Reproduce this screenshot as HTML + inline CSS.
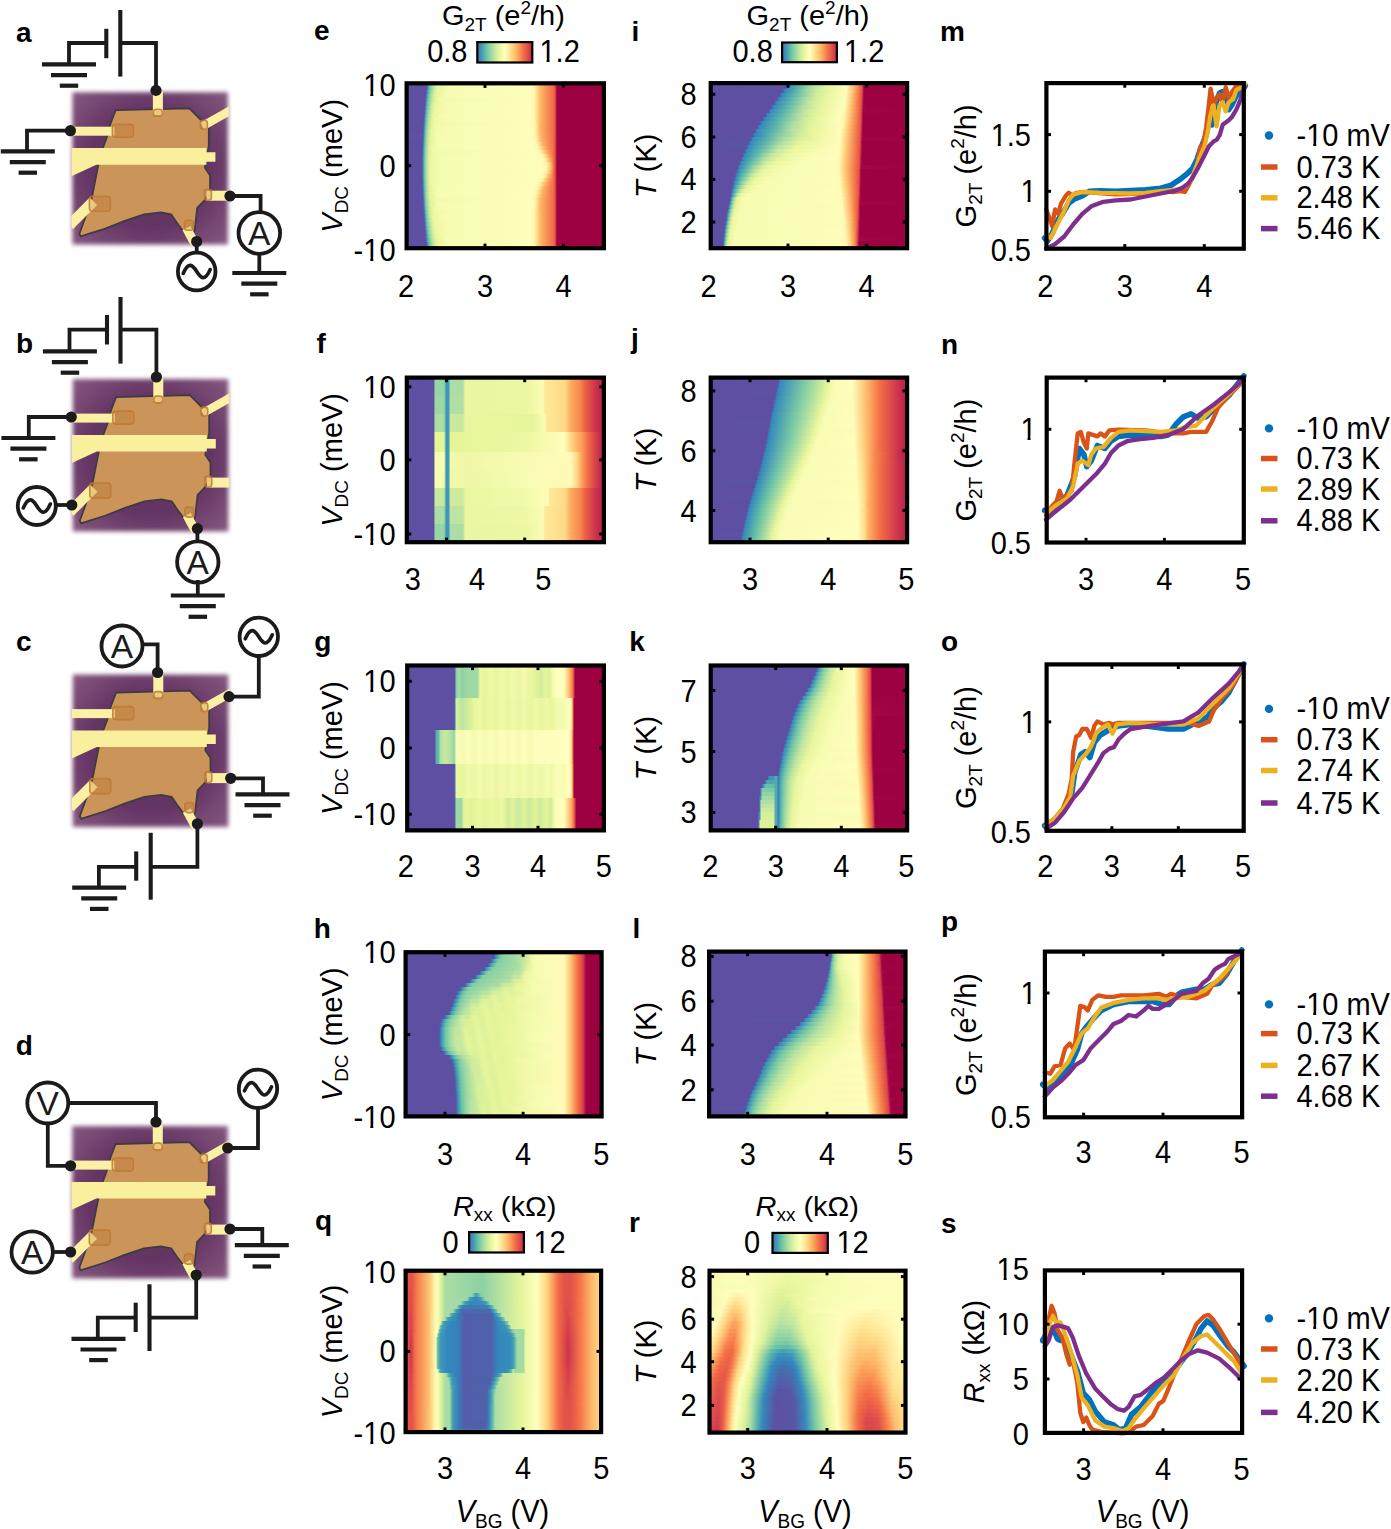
<!DOCTYPE html><html><head><meta charset="utf-8"><style>html,body{margin:0;padding:0;background:#fff;overflow:hidden}svg{display:block}text{font-family:"Liberation Sans",sans-serif}</style></head><body><svg width="1391" height="1529" viewBox="0 0 1391 1529" font-family="'Liberation Sans', sans-serif" fill="#000"><defs><filter id="blur2" x="-10%" y="-10%" width="120%" height="120%"><feGaussianBlur stdDeviation="2.2"/></filter>
<filter id="blur05"><feGaussianBlur stdDeviation="0.6"/></filter>
<clipPath id="devclip"><rect x="0" y="0" width="157.5" height="154.3"/></clipPath>
<radialGradient id="pg" cx="0.5" cy="0.5" r="0.7"><stop offset="0.55" stop-color="#643464"/><stop offset="1" stop-color="#86587f"/></radialGradient>
<g id="dev">
<rect x="1" y="1" width="155.5" height="152.3" fill="url(#pg)" filter="url(#blur2)"/>
<g clip-path="url(#devclip)" filter="url(#blur05)">
<polygon points="44.2,19.0 118.0,17.1 132.2,31.3 137.4,36.5 137.4,54.6 133.5,76.6 138.7,84.4 138.7,101.2 132.2,110.3 125.8,116.7 123.2,140.0 116.7,146.5 105.1,131.0 99.9,123.2 89.5,121.3 72.7,123.2 53.3,129.7 33.9,137.4 9.3,145.2 8.0,142.6 19.7,110.3 26.1,77.9 27.4,71.4 31.3,57.2 35.2,46.8 39.1,32.6" fill="#cb9458" stroke="#3e3a44" stroke-width="1.8" stroke-linejoin="round"/>
<rect x="81.5" y="-2" width="10" height="26" rx="3" fill="#fbf0a4"/>
<rect x="-2" y="35.5" width="45" height="9" fill="#fbf0a4"/>
<line x1="131" y1="35" x2="161" y2="18" stroke="#fbf0a4" stroke-width="8.5"/>
<rect x="135" y="99.5" width="25" height="10" fill="#fbf0a4"/>
<line x1="-2" y1="134" x2="22" y2="110" stroke="#fbf0a4" stroke-width="10.5"/>
<line x1="115" y1="137" x2="127" y2="159" stroke="#fbf0a4" stroke-width="9"/>
<polygon points="0.0,56.8 135.0,56.8 135.0,61.0 144.0,61.0 144.0,70.5 135.0,70.5 135.0,73.5 25.0,73.5 0.0,85.0" fill="#f9ef9c"/>
<rect x="82" y="18" width="9" height="7" rx="3" fill="#b8762f" fill-opacity="0.35" stroke="#c0782e" stroke-width="1.6" opacity="0.85"/>
<rect x="41" y="33" width="21" height="13" rx="3" fill="#b8762f" fill-opacity="0.35" stroke="#c0782e" stroke-width="1.6" opacity="0.85"/>
<rect x="129" y="29" width="7" height="9" rx="3" fill="#b8762f" fill-opacity="0.35" stroke="#c0782e" stroke-width="1.6" opacity="0.85"/>
<rect x="133" y="98" width="7" height="11" rx="3" fill="#b8762f" fill-opacity="0.35" stroke="#c0782e" stroke-width="1.6" opacity="0.85"/>
<rect x="18" y="105" width="21" height="15" rx="3" fill="#b8762f" fill-opacity="0.35" stroke="#c0782e" stroke-width="1.6" opacity="0.85"/>
<rect x="113" y="129" width="9" height="10" rx="3" fill="#b8762f" fill-opacity="0.35" stroke="#c0782e" stroke-width="1.6" opacity="0.85"/>
</g></g>
<linearGradient id="cbg" x1="0" x2="1" y1="0" y2="0"><stop offset="0" stop-color="#4471b2"/><stop offset="0.083" stop-color="#439bb5"/><stop offset="0.167" stop-color="#6bc4a5"/><stop offset="0.25" stop-color="#9dd8a4"/><stop offset="0.333" stop-color="#caea9e"/><stop offset="0.417" stop-color="#edf8a2"/><stop offset="0.5" stop-color="#ffffbf"/><stop offset="0.583" stop-color="#fee899"/><stop offset="0.667" stop-color="#fec977"/><stop offset="0.75" stop-color="#fba15b"/><stop offset="0.833" stop-color="#f57145"/><stop offset="0.917" stop-color="#df4e4b"/><stop offset="1" stop-color="#bf264a"/></linearGradient>
<linearGradient id="g0"><stop offset="0" stop-color="#5e4fa2"/><stop offset=".109" stop-color="#5e4fa2"/><stop offset=".114" stop-color="#3584bb"/><stop offset=".124" stop-color="#64bfa6"/><stop offset=".144" stop-color="#bae3a1"/><stop offset=".164" stop-color="#e7f59a"/><stop offset=".224" stop-color="#f6fcb2"/><stop offset=".617" stop-color="#fcfebb"/><stop offset=".642" stop-color="#fff7b2"/><stop offset=".662" stop-color="#fed07d"/><stop offset=".677" stop-color="#fdb264"/><stop offset=".741" stop-color="#f16844"/><stop offset=".746" stop-color="#e45549"/><stop offset=".756" stop-color="#9e0142"/><stop offset="1" stop-color="#9e0142"/></linearGradient>
<linearGradient id="g1"><stop offset="0" stop-color="#5e4fa2"/><stop offset=".104" stop-color="#5e4fa2"/><stop offset=".109" stop-color="#5857a6"/><stop offset=".114" stop-color="#439bb5"/><stop offset=".124" stop-color="#73c7a5"/><stop offset=".144" stop-color="#c6e89f"/><stop offset=".164" stop-color="#eaf79f"/><stop offset=".224" stop-color="#f6fcb2"/><stop offset=".617" stop-color="#fcfebb"/><stop offset=".642" stop-color="#fff7b2"/><stop offset=".662" stop-color="#fed07d"/><stop offset=".677" stop-color="#fdb264"/><stop offset=".741" stop-color="#f16844"/><stop offset=".746" stop-color="#e45549"/><stop offset=".756" stop-color="#9e0142"/><stop offset="1" stop-color="#9e0142"/></linearGradient>
<linearGradient id="g2"><stop offset="0" stop-color="#5e4fa2"/><stop offset=".104" stop-color="#5e4fa2"/><stop offset=".109" stop-color="#3980b9"/><stop offset=".114" stop-color="#4ea8b0"/><stop offset=".124" stop-color="#84cea5"/><stop offset=".144" stop-color="#d0ec9c"/><stop offset=".159" stop-color="#eaf69d"/><stop offset=".214" stop-color="#f6fcb2"/><stop offset=".617" stop-color="#fcfebb"/><stop offset=".642" stop-color="#fff7b2"/><stop offset=".662" stop-color="#fed07d"/><stop offset=".677" stop-color="#fdb264"/><stop offset=".741" stop-color="#f16844"/><stop offset=".746" stop-color="#e45549"/><stop offset=".756" stop-color="#9e0142"/><stop offset="1" stop-color="#9e0142"/></linearGradient>
<linearGradient id="g3"><stop offset="0" stop-color="#5e4fa2"/><stop offset=".104" stop-color="#5e4fa2"/><stop offset=".109" stop-color="#4199b6"/><stop offset=".119" stop-color="#76c8a5"/><stop offset=".139" stop-color="#cbea9d"/><stop offset=".154" stop-color="#e8f69c"/><stop offset=".209" stop-color="#f6fcb2"/><stop offset=".617" stop-color="#fcfebb"/><stop offset=".642" stop-color="#fff7b2"/><stop offset=".662" stop-color="#fed07d"/><stop offset=".677" stop-color="#fdb264"/><stop offset=".741" stop-color="#f16844"/><stop offset=".746" stop-color="#e45549"/><stop offset=".756" stop-color="#9e0142"/><stop offset="1" stop-color="#9e0142"/></linearGradient>
<linearGradient id="g4"><stop offset="0" stop-color="#5e4fa2"/><stop offset=".1" stop-color="#5e4fa2"/><stop offset=".104" stop-color="#4273b3"/><stop offset=".109" stop-color="#4ca5b1"/><stop offset=".114" stop-color="#65c1a5"/><stop offset=".124" stop-color="#9dd7a4"/><stop offset=".144" stop-color="#def29a"/><stop offset=".174" stop-color="#f3faac"/><stop offset=".617" stop-color="#fcfebb"/><stop offset=".642" stop-color="#fff7b2"/><stop offset=".662" stop-color="#fed07d"/><stop offset=".677" stop-color="#fdb264"/><stop offset=".741" stop-color="#f16844"/><stop offset=".746" stop-color="#e45549"/><stop offset=".756" stop-color="#9e0142"/><stop offset="1" stop-color="#9e0142"/></linearGradient>
<linearGradient id="g5"><stop offset="0" stop-color="#5e4fa2"/><stop offset=".1" stop-color="#5e4fa2"/><stop offset=".104" stop-color="#3d94b8"/><stop offset=".114" stop-color="#74c8a5"/><stop offset=".134" stop-color="#cfec9d"/><stop offset=".149" stop-color="#eaf79e"/><stop offset=".204" stop-color="#f6fcb2"/><stop offset=".617" stop-color="#fcfebb"/><stop offset=".642" stop-color="#fff7b2"/><stop offset=".662" stop-color="#fed07d"/><stop offset=".677" stop-color="#fdb264"/><stop offset=".741" stop-color="#f16844"/><stop offset=".746" stop-color="#e45549"/><stop offset=".756" stop-color="#9e0142"/><stop offset="1" stop-color="#9e0142"/></linearGradient>
<linearGradient id="g6"><stop offset="0" stop-color="#5e4fa2"/><stop offset=".095" stop-color="#5e4fa2"/><stop offset=".1" stop-color="#525ea9"/><stop offset=".104" stop-color="#479fb3"/><stop offset=".114" stop-color="#84cea5"/><stop offset=".134" stop-color="#d5ee9b"/><stop offset=".154" stop-color="#eff9a6"/><stop offset=".219" stop-color="#f6fcb2"/><stop offset=".617" stop-color="#fcfebb"/><stop offset=".642" stop-color="#fff7b2"/><stop offset=".662" stop-color="#fed07d"/><stop offset=".677" stop-color="#fdb264"/><stop offset=".741" stop-color="#f16844"/><stop offset=".746" stop-color="#e45549"/><stop offset=".756" stop-color="#9e0142"/><stop offset="1" stop-color="#9e0142"/></linearGradient>
<linearGradient id="g7"><stop offset="0" stop-color="#5e4fa2"/><stop offset=".095" stop-color="#5e4fa2"/><stop offset=".1" stop-color="#3b7cb7"/><stop offset=".104" stop-color="#51aaaf"/><stop offset=".109" stop-color="#6fc5a5"/><stop offset=".119" stop-color="#a7dca4"/><stop offset=".134" stop-color="#dbf09a"/><stop offset=".154" stop-color="#f0f9a7"/><stop offset=".234" stop-color="#f7fcb2"/><stop offset=".617" stop-color="#fcfebb"/><stop offset=".642" stop-color="#fff7b2"/><stop offset=".662" stop-color="#fed07d"/><stop offset=".677" stop-color="#fdb264"/><stop offset=".741" stop-color="#f16844"/><stop offset=".746" stop-color="#e45549"/><stop offset=".756" stop-color="#9e0142"/><stop offset="1" stop-color="#9e0142"/></linearGradient>
<linearGradient id="g8"><stop offset="0" stop-color="#5e4fa2"/><stop offset=".095" stop-color="#5e4fa2"/><stop offset=".1" stop-color="#3e95b8"/><stop offset=".109" stop-color="#7dcba5"/><stop offset=".124" stop-color="#c5e89f"/><stop offset=".139" stop-color="#e9f69c"/><stop offset=".184" stop-color="#f6fcb1"/><stop offset=".617" stop-color="#fcfebb"/><stop offset=".642" stop-color="#fff7b2"/><stop offset=".662" stop-color="#fed07e"/><stop offset=".677" stop-color="#fdb264"/><stop offset=".741" stop-color="#f16844"/><stop offset=".746" stop-color="#e45549"/><stop offset=".756" stop-color="#9e0142"/><stop offset="1" stop-color="#9e0142"/></linearGradient>
<linearGradient id="g9"><stop offset="0" stop-color="#5e4fa2"/><stop offset=".09" stop-color="#5e4fa2"/><stop offset=".095" stop-color="#555ba8"/><stop offset=".1" stop-color="#479fb3"/><stop offset=".104" stop-color="#64c0a6"/><stop offset=".114" stop-color="#a3daa4"/><stop offset=".129" stop-color="#daf09a"/><stop offset=".149" stop-color="#f0f9a8"/><stop offset=".224" stop-color="#f7fcb2"/><stop offset=".617" stop-color="#fcfebb"/><stop offset=".642" stop-color="#fff7b2"/><stop offset=".662" stop-color="#fed07e"/><stop offset=".677" stop-color="#fdb264"/><stop offset=".741" stop-color="#f16844"/><stop offset=".746" stop-color="#e45549"/><stop offset=".756" stop-color="#9e0142"/><stop offset="1" stop-color="#9e0142"/></linearGradient>
<linearGradient id="g10"><stop offset="0" stop-color="#5e4fa2"/><stop offset=".09" stop-color="#5e4fa2"/><stop offset=".095" stop-color="#4372b3"/><stop offset=".1" stop-color="#4fa9af"/><stop offset=".104" stop-color="#70c6a5"/><stop offset=".114" stop-color="#acdda4"/><stop offset=".129" stop-color="#e0f299"/><stop offset=".154" stop-color="#f3faac"/><stop offset=".617" stop-color="#fcfebb"/><stop offset=".642" stop-color="#fff7b2"/><stop offset=".657" stop-color="#fee08b"/><stop offset=".672" stop-color="#fdb668"/><stop offset=".741" stop-color="#f16844"/><stop offset=".746" stop-color="#e45549"/><stop offset=".756" stop-color="#9e0142"/><stop offset="1" stop-color="#9e0142"/></linearGradient>
<linearGradient id="g11"><stop offset="0" stop-color="#5e4fa2"/><stop offset=".09" stop-color="#5e4fa2"/><stop offset=".095" stop-color="#3288bd"/><stop offset=".1" stop-color="#58b2ac"/><stop offset=".109" stop-color="#9bd7a4"/><stop offset=".124" stop-color="#d8ef9b"/><stop offset=".144" stop-color="#f0f9a8"/><stop offset=".214" stop-color="#f7fcb2"/><stop offset=".617" stop-color="#fcfebb"/><stop offset=".642" stop-color="#fff8b3"/><stop offset=".652" stop-color="#feeb9d"/><stop offset=".672" stop-color="#fdb668"/><stop offset=".741" stop-color="#f16844"/><stop offset=".746" stop-color="#e45549"/><stop offset=".756" stop-color="#9e0142"/><stop offset="1" stop-color="#9e0142"/></linearGradient>
<linearGradient id="g12"><stop offset="0" stop-color="#5e4fa2"/><stop offset=".09" stop-color="#5e4fa2"/><stop offset=".095" stop-color="#3f97b7"/><stop offset=".1" stop-color="#5fbba8"/><stop offset=".104" stop-color="#88cfa5"/><stop offset=".119" stop-color="#d0ec9d"/><stop offset=".134" stop-color="#edf8a3"/><stop offset=".184" stop-color="#f6fcb2"/><stop offset=".617" stop-color="#fcfeba"/><stop offset=".642" stop-color="#fff8b3"/><stop offset=".652" stop-color="#feeca0"/><stop offset=".672" stop-color="#fdb769"/><stop offset=".741" stop-color="#f16844"/><stop offset=".746" stop-color="#e45549"/><stop offset=".756" stop-color="#9e0142"/><stop offset="1" stop-color="#9e0142"/></linearGradient>
<linearGradient id="g13"><stop offset="0" stop-color="#5e4fa2"/><stop offset=".09" stop-color="#5956a5"/><stop offset=".095" stop-color="#469eb4"/><stop offset=".1" stop-color="#67c2a5"/><stop offset=".109" stop-color="#aadca4"/><stop offset=".124" stop-color="#e1f399"/><stop offset=".154" stop-color="#f5fbaf"/><stop offset=".622" stop-color="#fdfebc"/><stop offset=".647" stop-color="#fff7b1"/><stop offset=".667" stop-color="#feca79"/><stop offset=".677" stop-color="#fdb466"/><stop offset=".741" stop-color="#f16844"/><stop offset=".746" stop-color="#e45549"/><stop offset=".756" stop-color="#9e0142"/><stop offset="1" stop-color="#9e0142"/></linearGradient>
<linearGradient id="g14"><stop offset="0" stop-color="#5e4fa2"/><stop offset=".085" stop-color="#5e4fa2"/><stop offset=".09" stop-color="#4d65ac"/><stop offset=".095" stop-color="#4ca5b1"/><stop offset=".1" stop-color="#70c6a5"/><stop offset=".109" stop-color="#afdfa3"/><stop offset=".124" stop-color="#e4f498"/><stop offset=".164" stop-color="#f6fcb1"/><stop offset=".622" stop-color="#fcfeba"/><stop offset=".647" stop-color="#fff8b3"/><stop offset=".657" stop-color="#feeca0"/><stop offset=".677" stop-color="#fdb769"/><stop offset=".741" stop-color="#f16844"/><stop offset=".746" stop-color="#e45549"/><stop offset=".756" stop-color="#9e0142"/><stop offset="1" stop-color="#9e0142"/></linearGradient>
<linearGradient id="g15"><stop offset="0" stop-color="#5e4fa2"/><stop offset=".085" stop-color="#5e4fa2"/><stop offset=".09" stop-color="#4372b3"/><stop offset=".095" stop-color="#51abae"/><stop offset=".1" stop-color="#78c9a5"/><stop offset=".114" stop-color="#ccea9d"/><stop offset=".124" stop-color="#e7f599"/><stop offset=".164" stop-color="#f6fcb1"/><stop offset=".627" stop-color="#fcfeba"/><stop offset=".652" stop-color="#fff8b4"/><stop offset=".662" stop-color="#feeda1"/><stop offset=".682" stop-color="#fdb769"/><stop offset=".741" stop-color="#f16844"/><stop offset=".746" stop-color="#e45549"/><stop offset=".756" stop-color="#9e0142"/><stop offset="1" stop-color="#9e0142"/></linearGradient>
<linearGradient id="g16"><stop offset="0" stop-color="#5e4fa2"/><stop offset=".085" stop-color="#5e4fa2"/><stop offset=".09" stop-color="#3a7db8"/><stop offset=".095" stop-color="#56b0ac"/><stop offset=".1" stop-color="#7fcca5"/><stop offset=".114" stop-color="#cfec9d"/><stop offset=".129" stop-color="#eef8a4"/><stop offset=".179" stop-color="#f6fcb2"/><stop offset=".637" stop-color="#fdfebb"/><stop offset=".662" stop-color="#fff7b2"/><stop offset=".682" stop-color="#fecf7d"/><stop offset=".701" stop-color="#fca85e"/><stop offset=".741" stop-color="#f16844"/><stop offset=".746" stop-color="#e45549"/><stop offset=".756" stop-color="#9e0142"/><stop offset="1" stop-color="#9e0142"/></linearGradient>
<linearGradient id="g17"><stop offset="0" stop-color="#5e4fa2"/><stop offset=".085" stop-color="#5e4fa2"/><stop offset=".09" stop-color="#3486bc"/><stop offset=".095" stop-color="#5ab5aa"/><stop offset=".104" stop-color="#a2daa4"/><stop offset=".119" stop-color="#dff299"/><stop offset=".144" stop-color="#f3faad"/><stop offset=".647" stop-color="#fdfebb"/><stop offset=".672" stop-color="#fff7b2"/><stop offset=".692" stop-color="#fecf7d"/><stop offset=".711" stop-color="#fba35c"/><stop offset=".741" stop-color="#f16844"/><stop offset=".746" stop-color="#e45549"/><stop offset=".756" stop-color="#9e0142"/><stop offset="1" stop-color="#9e0142"/></linearGradient>
<linearGradient id="g18"><stop offset="0" stop-color="#5e4fa2"/><stop offset=".085" stop-color="#5e4fa2"/><stop offset=".09" stop-color="#368dbb"/><stop offset=".095" stop-color="#5db8a9"/><stop offset=".1" stop-color="#89d0a4"/><stop offset=".114" stop-color="#d3ed9c"/><stop offset=".129" stop-color="#eef8a5"/><stop offset=".184" stop-color="#f6fcb2"/><stop offset=".657" stop-color="#fcfebb"/><stop offset=".682" stop-color="#fff8b3"/><stop offset=".692" stop-color="#feeb9e"/><stop offset=".716" stop-color="#fcaa5f"/><stop offset=".741" stop-color="#f16844"/><stop offset=".746" stop-color="#e45549"/><stop offset=".756" stop-color="#9e0142"/><stop offset="1" stop-color="#9e0142"/></linearGradient>
<linearGradient id="g19"><stop offset="0" stop-color="#5e4fa2"/><stop offset=".085" stop-color="#5e4fa2"/><stop offset=".09" stop-color="#3b92b9"/><stop offset=".095" stop-color="#5fbba8"/><stop offset=".1" stop-color="#8bd1a4"/><stop offset=".114" stop-color="#d4ee9c"/><stop offset=".129" stop-color="#eef8a5"/><stop offset=".184" stop-color="#f6fcb2"/><stop offset=".667" stop-color="#fcfebb"/><stop offset=".692" stop-color="#fff8b3"/><stop offset=".701" stop-color="#feec9e"/><stop offset=".731" stop-color="#f98f52"/><stop offset=".741" stop-color="#f16844"/><stop offset=".746" stop-color="#e45549"/><stop offset=".756" stop-color="#9e0142"/><stop offset="1" stop-color="#9e0142"/></linearGradient>
<linearGradient id="g20"><stop offset="0" stop-color="#5e4fa2"/><stop offset=".085" stop-color="#5e4fa2"/><stop offset=".09" stop-color="#3d94b8"/><stop offset=".095" stop-color="#61bca7"/><stop offset=".1" stop-color="#8cd1a4"/><stop offset=".114" stop-color="#d5ee9b"/><stop offset=".129" stop-color="#eef8a5"/><stop offset=".184" stop-color="#f6fcb2"/><stop offset=".677" stop-color="#fdfebc"/><stop offset=".701" stop-color="#fff6b0"/><stop offset=".721" stop-color="#fec877"/><stop offset=".731" stop-color="#fb9f5a"/><stop offset=".741" stop-color="#f16844"/><stop offset=".746" stop-color="#e45549"/><stop offset=".756" stop-color="#9e0142"/><stop offset="1" stop-color="#9e0142"/></linearGradient>
<linearGradient id="g21"><stop offset="0" stop-color="#5e4fa2"/><stop offset=".085" stop-color="#5e4fa2"/><stop offset=".09" stop-color="#3d94b8"/><stop offset=".095" stop-color="#61bca7"/><stop offset=".1" stop-color="#8cd1a4"/><stop offset=".114" stop-color="#d5ee9b"/><stop offset=".129" stop-color="#eef8a5"/><stop offset=".184" stop-color="#f6fcb2"/><stop offset=".677" stop-color="#fdfebc"/><stop offset=".701" stop-color="#fff7b2"/><stop offset=".721" stop-color="#fecd7b"/><stop offset=".731" stop-color="#fca55d"/><stop offset=".741" stop-color="#f16844"/><stop offset=".746" stop-color="#e45549"/><stop offset=".756" stop-color="#9e0142"/><stop offset="1" stop-color="#9e0142"/></linearGradient>
<linearGradient id="g22"><stop offset="0" stop-color="#5e4fa2"/><stop offset=".085" stop-color="#5e4fa2"/><stop offset=".09" stop-color="#3c93b8"/><stop offset=".095" stop-color="#60bca8"/><stop offset=".1" stop-color="#8cd1a4"/><stop offset=".114" stop-color="#d5ee9c"/><stop offset=".129" stop-color="#eef8a5"/><stop offset=".184" stop-color="#f6fcb2"/><stop offset=".672" stop-color="#fcfebb"/><stop offset=".697" stop-color="#fff7b2"/><stop offset=".716" stop-color="#fed07d"/><stop offset=".731" stop-color="#fa9756"/><stop offset=".741" stop-color="#f16844"/><stop offset=".746" stop-color="#e45549"/><stop offset=".756" stop-color="#9e0142"/><stop offset="1" stop-color="#9e0142"/></linearGradient>
<linearGradient id="g23"><stop offset="0" stop-color="#5e4fa2"/><stop offset=".085" stop-color="#5e4fa2"/><stop offset=".09" stop-color="#3990ba"/><stop offset=".095" stop-color="#5fbaa8"/><stop offset=".1" stop-color="#8ad0a4"/><stop offset=".114" stop-color="#d4ee9c"/><stop offset=".129" stop-color="#eef8a5"/><stop offset=".184" stop-color="#f6fcb2"/><stop offset=".662" stop-color="#fcfeba"/><stop offset=".687" stop-color="#fff8b3"/><stop offset=".697" stop-color="#feeda0"/><stop offset=".721" stop-color="#fca85e"/><stop offset=".741" stop-color="#f16844"/><stop offset=".746" stop-color="#e45549"/><stop offset=".756" stop-color="#9e0142"/><stop offset="1" stop-color="#9e0142"/></linearGradient>
<linearGradient id="g24"><stop offset="0" stop-color="#5e4fa2"/><stop offset=".085" stop-color="#5e4fa2"/><stop offset=".09" stop-color="#348abc"/><stop offset=".095" stop-color="#5cb7aa"/><stop offset=".1" stop-color="#88cfa5"/><stop offset=".114" stop-color="#d2ed9c"/><stop offset=".129" stop-color="#eef8a5"/><stop offset=".184" stop-color="#f6fcb2"/><stop offset=".652" stop-color="#fcfebb"/><stop offset=".677" stop-color="#fff8b3"/><stop offset=".687" stop-color="#feeb9d"/><stop offset=".711" stop-color="#fdac60"/><stop offset=".741" stop-color="#f16844"/><stop offset=".746" stop-color="#e45549"/><stop offset=".756" stop-color="#9e0142"/><stop offset="1" stop-color="#9e0142"/></linearGradient>
<linearGradient id="g25"><stop offset="0" stop-color="#5e4fa2"/><stop offset=".085" stop-color="#5e4fa2"/><stop offset=".09" stop-color="#3782ba"/><stop offset=".095" stop-color="#58b3ab"/><stop offset=".1" stop-color="#82cda5"/><stop offset=".114" stop-color="#d0ec9c"/><stop offset=".129" stop-color="#eef8a4"/><stop offset=".179" stop-color="#f6fcb2"/><stop offset=".642" stop-color="#fdfebb"/><stop offset=".667" stop-color="#fff7b2"/><stop offset=".687" stop-color="#fecf7d"/><stop offset=".706" stop-color="#fca65d"/><stop offset=".741" stop-color="#f16844"/><stop offset=".746" stop-color="#e45549"/><stop offset=".756" stop-color="#9e0142"/><stop offset="1" stop-color="#9e0142"/></linearGradient>
<linearGradient id="g26"><stop offset="0" stop-color="#5e4fa2"/><stop offset=".085" stop-color="#5e4fa2"/><stop offset=".09" stop-color="#3e78b5"/><stop offset=".095" stop-color="#54aead"/><stop offset=".1" stop-color="#7ccba5"/><stop offset=".114" stop-color="#ceeb9d"/><stop offset=".129" stop-color="#edf8a3"/><stop offset=".174" stop-color="#f6fcb2"/><stop offset=".632" stop-color="#fcfebb"/><stop offset=".657" stop-color="#fff8b3"/><stop offset=".667" stop-color="#feeb9d"/><stop offset=".687" stop-color="#fdb668"/><stop offset=".741" stop-color="#f16844"/><stop offset=".746" stop-color="#e45549"/><stop offset=".756" stop-color="#9e0142"/><stop offset="1" stop-color="#9e0142"/></linearGradient>
<linearGradient id="g27"><stop offset="0" stop-color="#5e4fa2"/><stop offset=".085" stop-color="#5e4fa2"/><stop offset=".09" stop-color="#486cb0"/><stop offset=".095" stop-color="#4fa8b0"/><stop offset=".1" stop-color="#74c8a5"/><stop offset=".114" stop-color="#c9e99e"/><stop offset=".124" stop-color="#e6f598"/><stop offset=".159" stop-color="#f6fcb1"/><stop offset=".627" stop-color="#fdfebc"/><stop offset=".652" stop-color="#fff7b1"/><stop offset=".672" stop-color="#fecd7b"/><stop offset=".687" stop-color="#fdb063"/><stop offset=".741" stop-color="#f16844"/><stop offset=".746" stop-color="#e45549"/><stop offset=".756" stop-color="#9e0142"/><stop offset="1" stop-color="#9e0142"/></linearGradient>
<linearGradient id="g28"><stop offset="0" stop-color="#5e4fa2"/><stop offset=".085" stop-color="#5e4fa2"/><stop offset=".09" stop-color="#525ea9"/><stop offset=".095" stop-color="#49a2b2"/><stop offset=".1" stop-color="#6cc4a5"/><stop offset=".109" stop-color="#addea4"/><stop offset=".124" stop-color="#e3f499"/><stop offset=".164" stop-color="#f6fcb1"/><stop offset=".622" stop-color="#fdfebb"/><stop offset=".647" stop-color="#fff7b2"/><stop offset=".667" stop-color="#fecf7d"/><stop offset=".682" stop-color="#fdb163"/><stop offset=".741" stop-color="#f16844"/><stop offset=".746" stop-color="#e45549"/><stop offset=".756" stop-color="#9e0142"/><stop offset="1" stop-color="#9e0142"/></linearGradient>
<linearGradient id="g29"><stop offset="0" stop-color="#5e4fa2"/><stop offset=".09" stop-color="#5e4fa2"/><stop offset=".095" stop-color="#439bb5"/><stop offset=".1" stop-color="#63bfa6"/><stop offset=".109" stop-color="#a6dba4"/><stop offset=".124" stop-color="#dff299"/><stop offset=".149" stop-color="#f3faac"/><stop offset=".622" stop-color="#fdfebd"/><stop offset=".647" stop-color="#fff6b0"/><stop offset=".672" stop-color="#fdb869"/><stop offset=".741" stop-color="#f16844"/><stop offset=".746" stop-color="#e45549"/><stop offset=".756" stop-color="#9e0142"/><stop offset="1" stop-color="#9e0142"/></linearGradient>
<linearGradient id="g30"><stop offset="0" stop-color="#5e4fa2"/><stop offset=".09" stop-color="#5e4fa2"/><stop offset=".095" stop-color="#3b92b9"/><stop offset=".104" stop-color="#83cda5"/><stop offset=".119" stop-color="#cdeb9d"/><stop offset=".129" stop-color="#e7f599"/><stop offset=".169" stop-color="#f6fcb1"/><stop offset=".617" stop-color="#fcfebb"/><stop offset=".642" stop-color="#fff8b3"/><stop offset=".652" stop-color="#feeb9e"/><stop offset=".672" stop-color="#fdb768"/><stop offset=".741" stop-color="#f16844"/><stop offset=".746" stop-color="#e45549"/><stop offset=".756" stop-color="#9e0142"/><stop offset="1" stop-color="#9e0142"/></linearGradient>
<linearGradient id="g31"><stop offset="0" stop-color="#5e4fa2"/><stop offset=".09" stop-color="#5e4fa2"/><stop offset=".095" stop-color="#3a7eb8"/><stop offset=".1" stop-color="#54aead"/><stop offset=".104" stop-color="#77c9a5"/><stop offset=".119" stop-color="#c6e89f"/><stop offset=".134" stop-color="#eaf79e"/><stop offset=".179" stop-color="#f6fcb1"/><stop offset=".617" stop-color="#fcfebb"/><stop offset=".642" stop-color="#fff8b2"/><stop offset=".652" stop-color="#feea9c"/><stop offset=".672" stop-color="#fdb668"/><stop offset=".741" stop-color="#f16844"/><stop offset=".746" stop-color="#e45549"/><stop offset=".756" stop-color="#9e0142"/><stop offset="1" stop-color="#9e0142"/></linearGradient>
<linearGradient id="g32"><stop offset="0" stop-color="#5e4fa2"/><stop offset=".09" stop-color="#5e4fa2"/><stop offset=".095" stop-color="#4b67ae"/><stop offset=".1" stop-color="#4ba4b1"/><stop offset=".104" stop-color="#6ac4a5"/><stop offset=".114" stop-color="#a8dca4"/><stop offset=".129" stop-color="#ddf19a"/><stop offset=".149" stop-color="#f0f9a8"/><stop offset=".244" stop-color="#f7fcb2"/><stop offset=".617" stop-color="#fcfebb"/><stop offset=".642" stop-color="#fff7b2"/><stop offset=".662" stop-color="#fed07e"/><stop offset=".677" stop-color="#fdb264"/><stop offset=".741" stop-color="#f16844"/><stop offset=".746" stop-color="#e45549"/><stop offset=".756" stop-color="#9e0142"/><stop offset="1" stop-color="#9e0142"/></linearGradient>
<linearGradient id="g33"><stop offset="0" stop-color="#5e4fa2"/><stop offset=".095" stop-color="#5e4fa2"/><stop offset=".1" stop-color="#439ab5"/><stop offset=".109" stop-color="#84cea5"/><stop offset=".124" stop-color="#caea9e"/><stop offset=".139" stop-color="#eaf79f"/><stop offset=".184" stop-color="#f6fcb1"/><stop offset=".617" stop-color="#fcfebb"/><stop offset=".642" stop-color="#fff7b2"/><stop offset=".662" stop-color="#fed07e"/><stop offset=".677" stop-color="#fdb264"/><stop offset=".741" stop-color="#f16844"/><stop offset=".746" stop-color="#e45549"/><stop offset=".756" stop-color="#9e0142"/><stop offset="1" stop-color="#9e0142"/></linearGradient>
<linearGradient id="g34"><stop offset="0" stop-color="#5e4fa2"/><stop offset=".095" stop-color="#5e4fa2"/><stop offset=".1" stop-color="#358bbc"/><stop offset=".109" stop-color="#76c8a5"/><stop offset=".124" stop-color="#c1e6a0"/><stop offset=".139" stop-color="#e8f69a"/><stop offset=".184" stop-color="#f6fcb1"/><stop offset=".617" stop-color="#fcfebb"/><stop offset=".642" stop-color="#fff7b2"/><stop offset=".662" stop-color="#fed07e"/><stop offset=".677" stop-color="#fdb264"/><stop offset=".741" stop-color="#f16844"/><stop offset=".746" stop-color="#e45549"/><stop offset=".756" stop-color="#9e0142"/><stop offset="1" stop-color="#9e0142"/></linearGradient>
<linearGradient id="g35"><stop offset="0" stop-color="#5e4fa2"/><stop offset=".095" stop-color="#5e4fa2"/><stop offset=".1" stop-color="#466eb1"/><stop offset=".104" stop-color="#4ca5b1"/><stop offset=".109" stop-color="#68c3a5"/><stop offset=".119" stop-color="#a2daa4"/><stop offset=".134" stop-color="#d8ef9b"/><stop offset=".154" stop-color="#eff9a7"/><stop offset=".224" stop-color="#f7fcb2"/><stop offset=".617" stop-color="#fcfebb"/><stop offset=".642" stop-color="#fff7b2"/><stop offset=".662" stop-color="#fed07d"/><stop offset=".677" stop-color="#fdb264"/><stop offset=".741" stop-color="#f16844"/><stop offset=".746" stop-color="#e45549"/><stop offset=".756" stop-color="#9e0142"/><stop offset="1" stop-color="#9e0142"/></linearGradient>
<linearGradient id="g36"><stop offset="0" stop-color="#5e4fa2"/><stop offset=".1" stop-color="#5e4fa2"/><stop offset=".104" stop-color="#429ab6"/><stop offset=".114" stop-color="#7dcba5"/><stop offset=".134" stop-color="#d2ed9c"/><stop offset=".149" stop-color="#ecf7a1"/><stop offset=".204" stop-color="#f6fcb2"/><stop offset=".617" stop-color="#fcfebb"/><stop offset=".642" stop-color="#fff7b2"/><stop offset=".662" stop-color="#fed07d"/><stop offset=".677" stop-color="#fdb264"/><stop offset=".741" stop-color="#f16844"/><stop offset=".746" stop-color="#e45549"/><stop offset=".756" stop-color="#9e0142"/><stop offset="1" stop-color="#9e0142"/></linearGradient>
<linearGradient id="g37"><stop offset="0" stop-color="#5e4fa2"/><stop offset=".1" stop-color="#5e4fa2"/><stop offset=".104" stop-color="#3485bc"/><stop offset=".114" stop-color="#6dc5a5"/><stop offset=".124" stop-color="#a3daa4"/><stop offset=".139" stop-color="#d7ef9b"/><stop offset=".159" stop-color="#eff9a6"/><stop offset=".229" stop-color="#f7fcb2"/><stop offset=".617" stop-color="#fcfebb"/><stop offset=".642" stop-color="#fff7b2"/><stop offset=".662" stop-color="#fed07d"/><stop offset=".677" stop-color="#fdb264"/><stop offset=".741" stop-color="#f16844"/><stop offset=".746" stop-color="#e45549"/><stop offset=".756" stop-color="#9e0142"/><stop offset="1" stop-color="#9e0142"/></linearGradient>
<linearGradient id="g38"><stop offset="0" stop-color="#5e4fa2"/><stop offset=".1" stop-color="#5e4fa2"/><stop offset=".104" stop-color="#4f62ab"/><stop offset=".109" stop-color="#479fb3"/><stop offset=".119" stop-color="#7ecca5"/><stop offset=".139" stop-color="#d0ec9c"/><stop offset=".154" stop-color="#eaf79e"/><stop offset=".209" stop-color="#f6fcb2"/><stop offset=".617" stop-color="#fcfebb"/><stop offset=".642" stop-color="#fff7b2"/><stop offset=".662" stop-color="#fed07d"/><stop offset=".677" stop-color="#fdb264"/><stop offset=".741" stop-color="#f16844"/><stop offset=".746" stop-color="#e45549"/><stop offset=".756" stop-color="#9e0142"/><stop offset="1" stop-color="#9e0142"/></linearGradient>
<linearGradient id="g39"><stop offset="0" stop-color="#5e4fa2"/><stop offset=".104" stop-color="#5e4fa2"/><stop offset=".109" stop-color="#3d94b8"/><stop offset=".119" stop-color="#6ec5a5"/><stop offset=".134" stop-color="#b4e1a2"/><stop offset=".154" stop-color="#e7f599"/><stop offset=".209" stop-color="#f6fcb1"/><stop offset=".617" stop-color="#fcfebb"/><stop offset=".642" stop-color="#fff7b2"/><stop offset=".662" stop-color="#fed07d"/><stop offset=".677" stop-color="#fdb264"/><stop offset=".741" stop-color="#f16844"/><stop offset=".746" stop-color="#e45549"/><stop offset=".756" stop-color="#9e0142"/><stop offset="1" stop-color="#9e0142"/></linearGradient>
<linearGradient id="g40"><stop offset="0" stop-color="#5e4fa2"/><stop offset=".104" stop-color="#5e4fa2"/><stop offset=".109" stop-color="#476db0"/><stop offset=".114" stop-color="#49a2b2"/><stop offset=".124" stop-color="#7ccba5"/><stop offset=".144" stop-color="#ccea9d"/><stop offset=".164" stop-color="#ecf7a2"/><stop offset=".224" stop-color="#f6fcb2"/><stop offset=".617" stop-color="#fcfebb"/><stop offset=".642" stop-color="#fff7b2"/><stop offset=".662" stop-color="#fed07d"/><stop offset=".677" stop-color="#fdb264"/><stop offset=".741" stop-color="#f16844"/><stop offset=".746" stop-color="#e45549"/><stop offset=".756" stop-color="#9e0142"/><stop offset="1" stop-color="#9e0142"/></linearGradient>
<linearGradient id="g41"><stop offset="0" stop-color="#5e4fa2"/><stop offset=".109" stop-color="#5e4fa2"/><stop offset=".114" stop-color="#3e95b7"/><stop offset=".124" stop-color="#6bc4a5"/><stop offset=".139" stop-color="#afdfa3"/><stop offset=".159" stop-color="#e3f499"/><stop offset=".219" stop-color="#f6fcb1"/><stop offset=".617" stop-color="#fcfebb"/><stop offset=".642" stop-color="#fff7b2"/><stop offset=".662" stop-color="#fed07d"/><stop offset=".677" stop-color="#fdb264"/><stop offset=".741" stop-color="#f16844"/><stop offset=".746" stop-color="#e45549"/><stop offset=".756" stop-color="#9e0142"/><stop offset="1" stop-color="#9e0142"/></linearGradient>
<linearGradient id="g42"><stop offset="0" stop-color="#5e4fa2"/><stop offset=".144" stop-color="#5e4fa2"/><stop offset=".149" stop-color="#96d5a4"/><stop offset=".194" stop-color="#96d5a4"/><stop offset=".199" stop-color="#6ac4a5"/><stop offset=".204" stop-color="#3c94b8"/><stop offset=".219" stop-color="#4199b6"/><stop offset=".224" stop-color="#abdda4"/><stop offset=".289" stop-color="#abdda4"/><stop offset=".299" stop-color="#ebf7a0"/><stop offset=".597" stop-color="#ecf7a1"/><stop offset=".677" stop-color="#f7fcb2"/><stop offset=".687" stop-color="#fff9b6"/><stop offset=".697" stop-color="#fee99a"/><stop offset=".796" stop-color="#fed985"/><stop offset=".826" stop-color="#fca95f"/><stop offset=".871" stop-color="#f8874f"/><stop offset=".896" stop-color="#eb6046"/><stop offset=".95" stop-color="#ca324d"/><stop offset="1" stop-color="#b41947"/></linearGradient>
<linearGradient id="g43"><stop offset="0" stop-color="#5e4fa2"/><stop offset=".144" stop-color="#5e4fa2"/><stop offset=".149" stop-color="#9dd8a4"/><stop offset=".194" stop-color="#9dd8a4"/><stop offset=".199" stop-color="#6ec5a5"/><stop offset=".204" stop-color="#3c94b8"/><stop offset=".219" stop-color="#4199b6"/><stop offset=".224" stop-color="#b1dfa3"/><stop offset=".289" stop-color="#b1dfa3"/><stop offset=".299" stop-color="#ebf7a0"/><stop offset=".597" stop-color="#ecf7a1"/><stop offset=".677" stop-color="#f7fcb2"/><stop offset=".687" stop-color="#fff9b6"/><stop offset=".697" stop-color="#fee99a"/><stop offset=".796" stop-color="#fed985"/><stop offset=".826" stop-color="#fca95f"/><stop offset=".871" stop-color="#f8874f"/><stop offset=".896" stop-color="#eb6046"/><stop offset=".95" stop-color="#ca324d"/><stop offset="1" stop-color="#b41947"/></linearGradient>
<linearGradient id="g44"><stop offset="0" stop-color="#5e4fa2"/><stop offset=".144" stop-color="#5e4fa2"/><stop offset=".149" stop-color="#abdda4"/><stop offset=".194" stop-color="#abdda4"/><stop offset=".199" stop-color="#76c8a5"/><stop offset=".204" stop-color="#3c94b8"/><stop offset=".219" stop-color="#429ab6"/><stop offset=".224" stop-color="#c8e99e"/><stop offset=".289" stop-color="#c8e99e"/><stop offset=".299" stop-color="#ebf7a0"/><stop offset=".637" stop-color="#e7f599"/><stop offset=".687" stop-color="#f7fcb2"/><stop offset=".697" stop-color="#fff9b5"/><stop offset=".706" stop-color="#fee99a"/><stop offset=".796" stop-color="#fed985"/><stop offset=".826" stop-color="#fca95f"/><stop offset=".871" stop-color="#f8874f"/><stop offset=".896" stop-color="#eb6046"/><stop offset=".95" stop-color="#ca324d"/><stop offset="1" stop-color="#b41947"/></linearGradient>
<linearGradient id="g45"><stop offset="0" stop-color="#5e4fa2"/><stop offset=".144" stop-color="#5e4fa2"/><stop offset=".149" stop-color="#e6f598"/><stop offset=".194" stop-color="#e6f598"/><stop offset=".199" stop-color="#9ed8a4"/><stop offset=".204" stop-color="#3c94b8"/><stop offset=".219" stop-color="#439bb5"/><stop offset=".224" stop-color="#e6f598"/><stop offset=".592" stop-color="#edf8a2"/><stop offset=".791" stop-color="#fffdbb"/><stop offset=".831" stop-color="#fed380"/><stop offset=".886" stop-color="#f99354"/><stop offset=".915" stop-color="#ee6346"/><stop offset=".975" stop-color="#c0274a"/><stop offset="1" stop-color="#b51a47"/></linearGradient>
<linearGradient id="g46"><stop offset="0" stop-color="#5e4fa2"/><stop offset=".144" stop-color="#5e4fa2"/><stop offset=".149" stop-color="#f7fcb3"/><stop offset=".194" stop-color="#f7fcb3"/><stop offset=".199" stop-color="#b7e2a1"/><stop offset=".204" stop-color="#3c94b8"/><stop offset=".219" stop-color="#449db4"/><stop offset=".224" stop-color="#f2faac"/><stop offset=".294" stop-color="#eff8a6"/><stop offset=".592" stop-color="#f7fcb2"/><stop offset=".826" stop-color="#fffab7"/><stop offset=".856" stop-color="#fed582"/><stop offset=".886" stop-color="#f99354"/><stop offset=".915" stop-color="#ee6346"/><stop offset=".975" stop-color="#c0274a"/><stop offset="1" stop-color="#b51a47"/></linearGradient>
<linearGradient id="g47"><stop offset="0" stop-color="#5e4fa2"/><stop offset=".144" stop-color="#5e4fa2"/><stop offset=".149" stop-color="#f5fbaf"/><stop offset=".194" stop-color="#f5fbaf"/><stop offset=".199" stop-color="#b4e1a2"/><stop offset=".204" stop-color="#3c94b8"/><stop offset=".219" stop-color="#449cb5"/><stop offset=".224" stop-color="#f0f9a8"/><stop offset=".363" stop-color="#eff8a6"/><stop offset=".587" stop-color="#f7fcb3"/><stop offset=".826" stop-color="#fffab7"/><stop offset=".856" stop-color="#fed582"/><stop offset=".886" stop-color="#f99354"/><stop offset=".915" stop-color="#ee6346"/><stop offset=".975" stop-color="#c0274a"/><stop offset="1" stop-color="#b51a47"/></linearGradient>
<linearGradient id="g48"><stop offset="0" stop-color="#5e4fa2"/><stop offset=".144" stop-color="#5e4fa2"/><stop offset=".149" stop-color="#c8e99e"/><stop offset=".194" stop-color="#c8e99e"/><stop offset=".199" stop-color="#8ad0a4"/><stop offset=".204" stop-color="#3c94b8"/><stop offset=".219" stop-color="#429ab5"/><stop offset=".224" stop-color="#ceeb9d"/><stop offset=".289" stop-color="#ceeb9d"/><stop offset=".299" stop-color="#ebf7a0"/><stop offset=".592" stop-color="#f2faaa"/><stop offset=".711" stop-color="#fffcb9"/><stop offset=".721" stop-color="#fee99b"/><stop offset=".796" stop-color="#fed985"/><stop offset=".826" stop-color="#fca95f"/><stop offset=".871" stop-color="#f8874f"/><stop offset=".896" stop-color="#eb6046"/><stop offset=".95" stop-color="#ca324d"/><stop offset="1" stop-color="#b41947"/></linearGradient>
<linearGradient id="g49"><stop offset="0" stop-color="#5e4fa2"/><stop offset=".144" stop-color="#5e4fa2"/><stop offset=".149" stop-color="#abdda4"/><stop offset=".194" stop-color="#abdda4"/><stop offset=".199" stop-color="#76c8a5"/><stop offset=".204" stop-color="#3c94b8"/><stop offset=".219" stop-color="#4299b6"/><stop offset=".224" stop-color="#bde4a0"/><stop offset=".289" stop-color="#bde4a0"/><stop offset=".299" stop-color="#ebf7a0"/><stop offset=".597" stop-color="#eff8a5"/><stop offset=".677" stop-color="#f7fcb3"/><stop offset=".687" stop-color="#fff9b6"/><stop offset=".697" stop-color="#fee99a"/><stop offset=".796" stop-color="#fed985"/><stop offset=".826" stop-color="#fca95f"/><stop offset=".871" stop-color="#f8874f"/><stop offset=".896" stop-color="#eb6046"/><stop offset=".95" stop-color="#ca324d"/><stop offset="1" stop-color="#b41947"/></linearGradient>
<linearGradient id="g50"><stop offset="0" stop-color="#5e4fa2"/><stop offset=".24" stop-color="#5e4fa2"/><stop offset=".245" stop-color="#4f62ab"/><stop offset=".25" stop-color="#83cda5"/><stop offset=".26" stop-color="#a4daa4"/><stop offset=".265" stop-color="#a6dba4"/><stop offset=".28" stop-color="#8cd1a4"/><stop offset=".3" stop-color="#98d6a4"/><stop offset=".32" stop-color="#a1d9a4"/><stop offset=".345" stop-color="#9dd8a4"/><stop offset=".36" stop-color="#a5dba4"/><stop offset=".365" stop-color="#cfec9d"/><stop offset=".37" stop-color="#eef8a4"/><stop offset=".395" stop-color="#e7f69a"/><stop offset=".425" stop-color="#eff9a7"/><stop offset=".45" stop-color="#e8f69b"/><stop offset=".48" stop-color="#f1f9a9"/><stop offset=".51" stop-color="#ebf7a0"/><stop offset=".535" stop-color="#f2faab"/><stop offset=".565" stop-color="#ebf7a1"/><stop offset=".59" stop-color="#f4faad"/><stop offset=".62" stop-color="#ecf7a2"/><stop offset=".625" stop-color="#eff8a5"/><stop offset=".64" stop-color="#e6f598"/><stop offset=".675" stop-color="#d3ed9c"/><stop offset=".7" stop-color="#e8f69b"/><stop offset=".715" stop-color="#dbf19a"/><stop offset=".72" stop-color="#e3f499"/><stop offset=".73" stop-color="#f1faaa"/><stop offset=".755" stop-color="#ffffbe"/><stop offset=".79" stop-color="#ffffbf"/><stop offset=".815" stop-color="#fdbe6e"/><stop offset=".83" stop-color="#f8884f"/><stop offset=".835" stop-color="#f06745"/><stop offset=".84" stop-color="#d63f4f"/><stop offset=".845" stop-color="#9e0142"/><stop offset="1" stop-color="#9e0142"/></linearGradient>
<linearGradient id="g51"><stop offset="0" stop-color="#5e4fa2"/><stop offset=".24" stop-color="#5e4fa2"/><stop offset=".245" stop-color="#4471b2"/><stop offset=".25" stop-color="#daf09b"/><stop offset=".28" stop-color="#bde4a0"/><stop offset=".32" stop-color="#d8ef9b"/><stop offset=".34" stop-color="#e7f69a"/><stop offset=".37" stop-color="#eef8a5"/><stop offset=".395" stop-color="#e7f69a"/><stop offset=".425" stop-color="#eff9a6"/><stop offset=".45" stop-color="#e8f69b"/><stop offset=".48" stop-color="#f0f9a8"/><stop offset=".51" stop-color="#eaf69e"/><stop offset=".535" stop-color="#f1f9a9"/><stop offset=".565" stop-color="#eaf69e"/><stop offset=".59" stop-color="#f2faaa"/><stop offset=".62" stop-color="#eaf69e"/><stop offset=".65" stop-color="#f0f9a7"/><stop offset=".675" stop-color="#e8f69b"/><stop offset=".705" stop-color="#eff9a6"/><stop offset=".73" stop-color="#e8f69b"/><stop offset=".76" stop-color="#f5fbb0"/><stop offset=".79" stop-color="#f4fbaf"/><stop offset=".82" stop-color="#feffbe"/><stop offset=".825" stop-color="#fff6b0"/><stop offset=".83" stop-color="#fed17f"/><stop offset=".835" stop-color="#f57245"/><stop offset=".84" stop-color="#9e0142"/><stop offset="1" stop-color="#9e0142"/></linearGradient>
<linearGradient id="g52"><stop offset="0" stop-color="#5e4fa2"/><stop offset=".145" stop-color="#5e4fa2"/><stop offset=".15" stop-color="#54aead"/><stop offset=".165" stop-color="#67c2a5"/><stop offset=".17" stop-color="#acdea4"/><stop offset=".195" stop-color="#c8e99e"/><stop offset=".225" stop-color="#b2e0a3"/><stop offset=".23" stop-color="#b5e1a2"/><stop offset=".235" stop-color="#94d4a4"/><stop offset=".24" stop-color="#8fd2a4"/><stop offset=".245" stop-color="#addea4"/><stop offset=".25" stop-color="#fdfebb"/><stop offset=".285" stop-color="#f4fbae"/><stop offset=".31" stop-color="#fcfebb"/><stop offset=".34" stop-color="#f4fbae"/><stop offset=".37" stop-color="#fbfdb9"/><stop offset=".395" stop-color="#f4fbae"/><stop offset=".425" stop-color="#fcfeba"/><stop offset=".45" stop-color="#f4fbae"/><stop offset=".48" stop-color="#fdfebb"/><stop offset=".51" stop-color="#f6fbb1"/><stop offset=".535" stop-color="#fdfebc"/><stop offset=".565" stop-color="#f6fbb1"/><stop offset=".59" stop-color="#feffbd"/><stop offset=".62" stop-color="#f6fbb1"/><stop offset=".65" stop-color="#fdfebc"/><stop offset=".815" stop-color="#ffffbf"/><stop offset=".825" stop-color="#fee390"/><stop offset=".83" stop-color="#fec877"/><stop offset=".835" stop-color="#e3534a"/><stop offset=".84" stop-color="#9e0142"/><stop offset="1" stop-color="#9e0142"/></linearGradient>
<linearGradient id="g53"><stop offset="0" stop-color="#5e4fa2"/><stop offset=".24" stop-color="#5e4fa2"/><stop offset=".245" stop-color="#4175b4"/><stop offset=".25" stop-color="#ebf7a0"/><stop offset=".285" stop-color="#e7f69a"/><stop offset=".31" stop-color="#f2faab"/><stop offset=".34" stop-color="#ecf8a2"/><stop offset=".37" stop-color="#f3faac"/><stop offset=".395" stop-color="#ecf7a1"/><stop offset=".425" stop-color="#f3faad"/><stop offset=".45" stop-color="#ecf7a1"/><stop offset=".48" stop-color="#f4faad"/><stop offset=".51" stop-color="#edf8a3"/><stop offset=".535" stop-color="#f4fbae"/><stop offset=".565" stop-color="#edf8a2"/><stop offset=".59" stop-color="#f4fbae"/><stop offset=".62" stop-color="#ecf7a2"/><stop offset=".65" stop-color="#f3faac"/><stop offset=".675" stop-color="#edf8a3"/><stop offset=".705" stop-color="#f6fcb2"/><stop offset=".73" stop-color="#f0f9a8"/><stop offset=".76" stop-color="#fbfdb8"/><stop offset=".79" stop-color="#f6fbb1"/><stop offset=".815" stop-color="#ffffbf"/><stop offset=".825" stop-color="#fff1a7"/><stop offset=".83" stop-color="#fece7c"/><stop offset=".835" stop-color="#f57245"/><stop offset=".84" stop-color="#9e0142"/><stop offset="1" stop-color="#9e0142"/></linearGradient>
<linearGradient id="g54"><stop offset="0" stop-color="#5e4fa2"/><stop offset=".24" stop-color="#5e4fa2"/><stop offset=".245" stop-color="#4b68ae"/><stop offset=".25" stop-color="#a0d9a4"/><stop offset=".275" stop-color="#9ad6a4"/><stop offset=".28" stop-color="#a4daa4"/><stop offset=".285" stop-color="#d6ee9b"/><stop offset=".295" stop-color="#e8f69b"/><stop offset=".325" stop-color="#e1f399"/><stop offset=".345" stop-color="#e6f598"/><stop offset=".37" stop-color="#ebf7a0"/><stop offset=".395" stop-color="#e3f499"/><stop offset=".425" stop-color="#edf8a2"/><stop offset=".455" stop-color="#e8f69b"/><stop offset=".48" stop-color="#eef8a5"/><stop offset=".5" stop-color="#dbf19a"/><stop offset=".51" stop-color="#ceeb9d"/><stop offset=".53" stop-color="#e1f399"/><stop offset=".56" stop-color="#caea9e"/><stop offset=".59" stop-color="#e1f399"/><stop offset=".615" stop-color="#ccea9d"/><stop offset=".645" stop-color="#e3f499"/><stop offset=".67" stop-color="#cdeb9d"/><stop offset=".7" stop-color="#e5f598"/><stop offset=".725" stop-color="#cfec9d"/><stop offset=".735" stop-color="#ebf7a0"/><stop offset=".75" stop-color="#fbfeb9"/><stop offset=".79" stop-color="#ffffbf"/><stop offset=".825" stop-color="#fdb164"/><stop offset=".83" stop-color="#fba25b"/><stop offset=".84" stop-color="#ef6545"/><stop offset=".845" stop-color="#d9444d"/><stop offset=".85" stop-color="#9e0142"/><stop offset="1" stop-color="#9e0142"/></linearGradient>
<linearGradient id="g55"><stop offset="0" stop-color="#5e4fa2"/><stop offset=".462" stop-color="#5e4fa2"/><stop offset=".472" stop-color="#388fba"/><stop offset=".492" stop-color="#6ac3a5"/><stop offset=".508" stop-color="#8ad0a4"/><stop offset=".573" stop-color="#b1e0a3"/><stop offset=".613" stop-color="#c9e99e"/><stop offset=".628" stop-color="#e7f59a"/><stop offset=".648" stop-color="#f6fcb1"/><stop offset=".804" stop-color="#fffab7"/><stop offset=".834" stop-color="#feca79"/><stop offset=".874" stop-color="#f46d43"/><stop offset=".899" stop-color="#d7414e"/><stop offset=".915" stop-color="#9e0142"/><stop offset="1" stop-color="#9e0142"/></linearGradient>
<linearGradient id="g56"><stop offset="0" stop-color="#5e4fa2"/><stop offset=".452" stop-color="#5e4fa2"/><stop offset=".457" stop-color="#3d79b6"/><stop offset=".462" stop-color="#3b92b9"/><stop offset=".482" stop-color="#6dc5a5"/><stop offset=".492" stop-color="#89d0a4"/><stop offset=".568" stop-color="#aadda4"/><stop offset=".598" stop-color="#c0e6a0"/><stop offset=".623" stop-color="#daf09b"/><stop offset=".633" stop-color="#ebf7a0"/><stop offset=".658" stop-color="#f7fcb2"/><stop offset=".804" stop-color="#fffab7"/><stop offset=".834" stop-color="#feca79"/><stop offset=".874" stop-color="#f46d43"/><stop offset=".899" stop-color="#d7414e"/><stop offset=".915" stop-color="#9e0142"/><stop offset="1" stop-color="#9e0142"/></linearGradient>
<linearGradient id="g57"><stop offset="0" stop-color="#5e4fa2"/><stop offset=".437" stop-color="#5e4fa2"/><stop offset=".442" stop-color="#4372b2"/><stop offset=".447" stop-color="#3990ba"/><stop offset=".467" stop-color="#6bc4a5"/><stop offset=".477" stop-color="#87cfa5"/><stop offset=".558" stop-color="#a3daa4"/><stop offset=".623" stop-color="#d8ef9b"/><stop offset=".648" stop-color="#f6fcb1"/><stop offset=".804" stop-color="#fffab7"/><stop offset=".834" stop-color="#feca79"/><stop offset=".874" stop-color="#f46d43"/><stop offset=".899" stop-color="#d7414e"/><stop offset=".915" stop-color="#9e0142"/><stop offset="1" stop-color="#9e0142"/></linearGradient>
<linearGradient id="g58"><stop offset="0" stop-color="#5e4fa2"/><stop offset=".422" stop-color="#5e4fa2"/><stop offset=".432" stop-color="#378ebb"/><stop offset=".452" stop-color="#69c3a5"/><stop offset=".467" stop-color="#89d0a4"/><stop offset=".553" stop-color="#a1d9a4"/><stop offset=".573" stop-color="#a8dca4"/><stop offset=".633" stop-color="#eaf79e"/><stop offset=".653" stop-color="#f6fcb2"/><stop offset=".804" stop-color="#fffab7"/><stop offset=".834" stop-color="#feca79"/><stop offset=".874" stop-color="#f46d43"/><stop offset=".899" stop-color="#d7414e"/><stop offset=".915" stop-color="#9e0142"/><stop offset="1" stop-color="#9e0142"/></linearGradient>
<linearGradient id="g59"><stop offset="0" stop-color="#5e4fa2"/><stop offset=".402" stop-color="#5e4fa2"/><stop offset=".407" stop-color="#4d66ad"/><stop offset=".412" stop-color="#368cbb"/><stop offset=".432" stop-color="#67c2a5"/><stop offset=".447" stop-color="#89d0a4"/><stop offset=".548" stop-color="#a3daa4"/><stop offset=".578" stop-color="#b0dfa3"/><stop offset=".618" stop-color="#e2f399"/><stop offset=".658" stop-color="#f7fcb2"/><stop offset=".804" stop-color="#fffab7"/><stop offset=".834" stop-color="#feca79"/><stop offset=".874" stop-color="#f46d43"/><stop offset=".899" stop-color="#d7414e"/><stop offset=".915" stop-color="#9e0142"/><stop offset="1" stop-color="#9e0142"/></linearGradient>
<linearGradient id="g60"><stop offset="0" stop-color="#5e4fa2"/><stop offset=".377" stop-color="#5e4fa2"/><stop offset=".382" stop-color="#5856a6"/><stop offset=".387" stop-color="#3387bd"/><stop offset=".412" stop-color="#71c6a5"/><stop offset=".422" stop-color="#89d0a4"/><stop offset=".543" stop-color="#a9dca4"/><stop offset=".553" stop-color="#b4e1a2"/><stop offset=".578" stop-color="#b6e1a2"/><stop offset=".608" stop-color="#e8f69b"/><stop offset=".663" stop-color="#f7fcb2"/><stop offset=".804" stop-color="#fffab7"/><stop offset=".834" stop-color="#feca79"/><stop offset=".874" stop-color="#f46d43"/><stop offset=".899" stop-color="#d7414e"/><stop offset=".915" stop-color="#9e0142"/><stop offset="1" stop-color="#9e0142"/></linearGradient>
<linearGradient id="g61"><stop offset="0" stop-color="#5e4fa2"/><stop offset=".357" stop-color="#5e4fa2"/><stop offset=".362" stop-color="#3e78b5"/><stop offset=".367" stop-color="#3b92b9"/><stop offset=".387" stop-color="#6dc5a5"/><stop offset=".397" stop-color="#89d0a4"/><stop offset=".528" stop-color="#a7dba4"/><stop offset=".553" stop-color="#c3e79f"/><stop offset=".578" stop-color="#c5e79f"/><stop offset=".603" stop-color="#eaf79f"/><stop offset=".678" stop-color="#f7fcb3"/><stop offset=".804" stop-color="#fffab7"/><stop offset=".834" stop-color="#feca79"/><stop offset=".874" stop-color="#f46d43"/><stop offset=".899" stop-color="#d7414e"/><stop offset=".915" stop-color="#9e0142"/><stop offset="1" stop-color="#9e0142"/></linearGradient>
<linearGradient id="g62"><stop offset="0" stop-color="#5e4fa2"/><stop offset=".332" stop-color="#5e4fa2"/><stop offset=".337" stop-color="#4076b4"/><stop offset=".342" stop-color="#3a91b9"/><stop offset=".362" stop-color="#6cc4a5"/><stop offset=".372" stop-color="#88cfa5"/><stop offset=".497" stop-color="#abdda4"/><stop offset=".533" stop-color="#bce4a1"/><stop offset=".558" stop-color="#d7ef9b"/><stop offset=".588" stop-color="#dff299"/><stop offset=".623" stop-color="#f2faaa"/><stop offset=".804" stop-color="#fffab7"/><stop offset=".834" stop-color="#feca79"/><stop offset=".874" stop-color="#f46d43"/><stop offset=".899" stop-color="#d7414e"/><stop offset=".915" stop-color="#9e0142"/><stop offset="1" stop-color="#9e0142"/></linearGradient>
<linearGradient id="g63"><stop offset="0" stop-color="#5e4fa2"/><stop offset=".307" stop-color="#5e4fa2"/><stop offset=".312" stop-color="#3a7db8"/><stop offset=".322" stop-color="#4aa2b2"/><stop offset=".342" stop-color="#7ccba5"/><stop offset=".352" stop-color="#8ad0a4"/><stop offset=".457" stop-color="#aadca4"/><stop offset=".467" stop-color="#a4daa4"/><stop offset=".503" stop-color="#caea9e"/><stop offset=".533" stop-color="#cdeb9d"/><stop offset=".563" stop-color="#e7f59a"/><stop offset=".598" stop-color="#eaf79e"/><stop offset=".643" stop-color="#f6fbb0"/><stop offset=".804" stop-color="#fffab7"/><stop offset=".834" stop-color="#feca79"/><stop offset=".874" stop-color="#f46d43"/><stop offset=".899" stop-color="#d7414e"/><stop offset=".915" stop-color="#9e0142"/><stop offset="1" stop-color="#9e0142"/></linearGradient>
<linearGradient id="g64"><stop offset="0" stop-color="#5e4fa2"/><stop offset=".281" stop-color="#5e4fa2"/><stop offset=".291" stop-color="#368dbb"/><stop offset=".312" stop-color="#68c3a5"/><stop offset=".327" stop-color="#8ad0a4"/><stop offset=".412" stop-color="#aadca4"/><stop offset=".422" stop-color="#aadda4"/><stop offset=".447" stop-color="#c0e6a0"/><stop offset=".477" stop-color="#c6e89f"/><stop offset=".503" stop-color="#dff299"/><stop offset=".538" stop-color="#dbf09a"/><stop offset=".568" stop-color="#eaf79f"/><stop offset=".603" stop-color="#edf8a3"/><stop offset=".648" stop-color="#f6fcb1"/><stop offset=".804" stop-color="#fffab7"/><stop offset=".834" stop-color="#feca79"/><stop offset=".874" stop-color="#f46d43"/><stop offset=".899" stop-color="#d7414e"/><stop offset=".915" stop-color="#9e0142"/><stop offset="1" stop-color="#9e0142"/></linearGradient>
<linearGradient id="g65"><stop offset="0" stop-color="#5e4fa2"/><stop offset=".266" stop-color="#5e4fa2"/><stop offset=".276" stop-color="#388fba"/><stop offset=".296" stop-color="#6ac4a5"/><stop offset=".312" stop-color="#8bd0a4"/><stop offset=".377" stop-color="#abdda4"/><stop offset=".392" stop-color="#b7e2a2"/><stop offset=".417" stop-color="#b6e2a2"/><stop offset=".452" stop-color="#daf09a"/><stop offset=".482" stop-color="#d6ee9b"/><stop offset=".508" stop-color="#e7f69a"/><stop offset=".543" stop-color="#e2f399"/><stop offset=".588" stop-color="#eaf69e"/><stop offset=".633" stop-color="#f4fbae"/><stop offset=".804" stop-color="#fffab7"/><stop offset=".834" stop-color="#feca79"/><stop offset=".874" stop-color="#f46d43"/><stop offset=".899" stop-color="#d7414e"/><stop offset=".915" stop-color="#9e0142"/><stop offset="1" stop-color="#9e0142"/></linearGradient>
<linearGradient id="g66"><stop offset="0" stop-color="#5e4fa2"/><stop offset=".256" stop-color="#5e4fa2"/><stop offset=".266" stop-color="#378ebb"/><stop offset=".286" stop-color="#68c3a5"/><stop offset=".302" stop-color="#8bd0a4"/><stop offset=".347" stop-color="#a9dca4"/><stop offset=".367" stop-color="#b0dfa3"/><stop offset=".392" stop-color="#ccea9d"/><stop offset=".422" stop-color="#ceeb9d"/><stop offset=".452" stop-color="#e6f598"/><stop offset=".482" stop-color="#daf09b"/><stop offset=".518" stop-color="#e8f69c"/><stop offset=".548" stop-color="#e6f598"/><stop offset=".583" stop-color="#edf8a3"/><stop offset=".613" stop-color="#f1f9a9"/><stop offset=".804" stop-color="#fffab7"/><stop offset=".834" stop-color="#feca79"/><stop offset=".874" stop-color="#f46d43"/><stop offset=".899" stop-color="#d7414e"/><stop offset=".915" stop-color="#9e0142"/><stop offset="1" stop-color="#9e0142"/></linearGradient>
<linearGradient id="g67"><stop offset="0" stop-color="#5e4fa2"/><stop offset=".246" stop-color="#5e4fa2"/><stop offset=".251" stop-color="#5856a5"/><stop offset=".256" stop-color="#3387bc"/><stop offset=".281" stop-color="#71c6a5"/><stop offset=".296" stop-color="#8fd2a4"/><stop offset=".327" stop-color="#aadda4"/><stop offset=".337" stop-color="#bae3a1"/><stop offset=".367" stop-color="#bee5a0"/><stop offset=".397" stop-color="#e0f399"/><stop offset=".432" stop-color="#dbf19a"/><stop offset=".462" stop-color="#e7f599"/><stop offset=".487" stop-color="#def29a"/><stop offset=".523" stop-color="#e9f69d"/><stop offset=".553" stop-color="#e7f69a"/><stop offset=".583" stop-color="#eff9a7"/><stop offset=".613" stop-color="#f0f9a7"/><stop offset=".779" stop-color="#fafdb7"/><stop offset=".804" stop-color="#fffab7"/><stop offset=".834" stop-color="#feca79"/><stop offset=".874" stop-color="#f46d43"/><stop offset=".899" stop-color="#d7414e"/><stop offset=".915" stop-color="#9e0142"/><stop offset="1" stop-color="#9e0142"/></linearGradient>
<linearGradient id="g68"><stop offset="0" stop-color="#5e4fa2"/><stop offset=".241" stop-color="#5e4fa2"/><stop offset=".246" stop-color="#4273b3"/><stop offset=".251" stop-color="#3a90ba"/><stop offset=".271" stop-color="#6bc4a5"/><stop offset=".286" stop-color="#8ed2a4"/><stop offset=".317" stop-color="#addea4"/><stop offset=".342" stop-color="#cceb9d"/><stop offset=".372" stop-color="#cfec9d"/><stop offset=".397" stop-color="#e7f59a"/><stop offset=".432" stop-color="#dcf19a"/><stop offset=".467" stop-color="#e8f69a"/><stop offset=".497" stop-color="#e4f498"/><stop offset=".533" stop-color="#e8f69b"/><stop offset=".563" stop-color="#ecf7a1"/><stop offset=".598" stop-color="#eef8a4"/><stop offset=".724" stop-color="#f8fcb4"/><stop offset=".804" stop-color="#fffab7"/><stop offset=".834" stop-color="#feca79"/><stop offset=".874" stop-color="#f46d43"/><stop offset=".899" stop-color="#d7414e"/><stop offset=".915" stop-color="#9e0142"/><stop offset="1" stop-color="#9e0142"/></linearGradient>
<linearGradient id="g69"><stop offset="0" stop-color="#5e4fa2"/><stop offset=".231" stop-color="#5e4fa2"/><stop offset=".236" stop-color="#515faa"/><stop offset=".241" stop-color="#348abc"/><stop offset=".266" stop-color="#74c7a5"/><stop offset=".291" stop-color="#a1d9a4"/><stop offset=".347" stop-color="#d8ef9b"/><stop offset=".382" stop-color="#ddf29a"/><stop offset=".412" stop-color="#e6f598"/><stop offset=".437" stop-color="#def29a"/><stop offset=".472" stop-color="#e8f69b"/><stop offset=".497" stop-color="#e2f399"/><stop offset=".538" stop-color="#e8f69b"/><stop offset=".568" stop-color="#edf8a2"/><stop offset=".603" stop-color="#eef8a5"/><stop offset=".729" stop-color="#f8fcb5"/><stop offset=".804" stop-color="#fffab7"/><stop offset=".834" stop-color="#feca79"/><stop offset=".874" stop-color="#f46d43"/><stop offset=".899" stop-color="#d7414e"/><stop offset=".915" stop-color="#9e0142"/><stop offset="1" stop-color="#9e0142"/></linearGradient>
<linearGradient id="g70"><stop offset="0" stop-color="#5e4fa2"/><stop offset=".226" stop-color="#5e4fa2"/><stop offset=".231" stop-color="#3b7cb7"/><stop offset=".241" stop-color="#49a2b2"/><stop offset=".261" stop-color="#7ccba5"/><stop offset=".296" stop-color="#b5e1a2"/><stop offset=".327" stop-color="#c7e89e"/><stop offset=".352" stop-color="#dff299"/><stop offset=".387" stop-color="#dff299"/><stop offset=".417" stop-color="#e6f598"/><stop offset=".442" stop-color="#dff299"/><stop offset=".477" stop-color="#e8f69b"/><stop offset=".508" stop-color="#e7f599"/><stop offset=".543" stop-color="#e8f69b"/><stop offset=".598" stop-color="#f1f9a9"/><stop offset=".804" stop-color="#fffab7"/><stop offset=".834" stop-color="#feca79"/><stop offset=".874" stop-color="#f46d43"/><stop offset=".899" stop-color="#d7414e"/><stop offset=".915" stop-color="#9e0142"/><stop offset="1" stop-color="#9e0142"/></linearGradient>
<linearGradient id="g71"><stop offset="0" stop-color="#5e4fa2"/><stop offset=".201" stop-color="#5e4fa2"/><stop offset=".206" stop-color="#565aa7"/><stop offset=".211" stop-color="#3389bd"/><stop offset=".236" stop-color="#72c7a5"/><stop offset=".261" stop-color="#a1d9a4"/><stop offset=".291" stop-color="#caea9e"/><stop offset=".327" stop-color="#d1ec9c"/><stop offset=".347" stop-color="#e7f69a"/><stop offset=".387" stop-color="#ddf19a"/><stop offset=".422" stop-color="#e6f598"/><stop offset=".447" stop-color="#e1f399"/><stop offset=".482" stop-color="#e8f69b"/><stop offset=".513" stop-color="#e7f59a"/><stop offset=".548" stop-color="#e8f69b"/><stop offset=".603" stop-color="#f1faaa"/><stop offset=".804" stop-color="#fffab7"/><stop offset=".834" stop-color="#feca79"/><stop offset=".874" stop-color="#f46d43"/><stop offset=".899" stop-color="#d7414e"/><stop offset=".915" stop-color="#9e0142"/><stop offset="1" stop-color="#9e0142"/></linearGradient>
<linearGradient id="g72"><stop offset="0" stop-color="#5e4fa2"/><stop offset=".186" stop-color="#5e4fa2"/><stop offset=".196" stop-color="#378dbb"/><stop offset=".216" stop-color="#68c3a5"/><stop offset=".236" stop-color="#94d4a4"/><stop offset=".296" stop-color="#d7ef9b"/><stop offset=".332" stop-color="#dbf19a"/><stop offset=".362" stop-color="#e7f599"/><stop offset=".392" stop-color="#def29a"/><stop offset=".427" stop-color="#e6f598"/><stop offset=".452" stop-color="#e2f399"/><stop offset=".492" stop-color="#e6f598"/><stop offset=".553" stop-color="#e9f69c"/><stop offset=".608" stop-color="#f2faaa"/><stop offset=".804" stop-color="#fffab7"/><stop offset=".834" stop-color="#feca79"/><stop offset=".874" stop-color="#f46d43"/><stop offset=".899" stop-color="#d7414e"/><stop offset=".915" stop-color="#9e0142"/><stop offset="1" stop-color="#9e0142"/></linearGradient>
<linearGradient id="g73"><stop offset="0" stop-color="#5e4fa2"/><stop offset=".181" stop-color="#5e4fa2"/><stop offset=".191" stop-color="#378ebb"/><stop offset=".211" stop-color="#69c3a5"/><stop offset=".231" stop-color="#95d4a4"/><stop offset=".261" stop-color="#b5e1a2"/><stop offset=".307" stop-color="#dcf19a"/><stop offset=".337" stop-color="#dcf19a"/><stop offset=".367" stop-color="#e7f599"/><stop offset=".392" stop-color="#dcf19a"/><stop offset=".427" stop-color="#e8f69b"/><stop offset=".457" stop-color="#e3f499"/><stop offset=".492" stop-color="#e7f69a"/><stop offset=".523" stop-color="#e8f69b"/><stop offset=".583" stop-color="#eef8a5"/><stop offset=".698" stop-color="#f8fcb3"/><stop offset=".804" stop-color="#fffab7"/><stop offset=".834" stop-color="#feca79"/><stop offset=".874" stop-color="#f46d43"/><stop offset=".899" stop-color="#d7414e"/><stop offset=".915" stop-color="#9e0142"/><stop offset="1" stop-color="#9e0142"/></linearGradient>
<linearGradient id="g74"><stop offset="0" stop-color="#5e4fa2"/><stop offset=".176" stop-color="#5e4fa2"/><stop offset=".181" stop-color="#4c66ad"/><stop offset=".186" stop-color="#368cbb"/><stop offset=".206" stop-color="#67c3a5"/><stop offset=".226" stop-color="#94d4a4"/><stop offset=".251" stop-color="#bae3a1"/><stop offset=".281" stop-color="#c7e89e"/><stop offset=".307" stop-color="#e2f399"/><stop offset=".342" stop-color="#ddf29a"/><stop offset=".372" stop-color="#e6f599"/><stop offset=".397" stop-color="#ddf19a"/><stop offset=".432" stop-color="#e8f69b"/><stop offset=".462" stop-color="#e4f498"/><stop offset=".497" stop-color="#e7f69a"/><stop offset=".528" stop-color="#e9f69c"/><stop offset=".588" stop-color="#eff9a6"/><stop offset=".769" stop-color="#f9fdb6"/><stop offset=".804" stop-color="#fffab7"/><stop offset=".834" stop-color="#feca79"/><stop offset=".874" stop-color="#f46d43"/><stop offset=".899" stop-color="#d7414e"/><stop offset=".915" stop-color="#9e0142"/><stop offset="1" stop-color="#9e0142"/></linearGradient>
<linearGradient id="g75"><stop offset="0" stop-color="#5e4fa2"/><stop offset=".176" stop-color="#5e4fa2"/><stop offset=".181" stop-color="#4c66ad"/><stop offset=".186" stop-color="#368cbb"/><stop offset=".206" stop-color="#67c3a5"/><stop offset=".226" stop-color="#94d4a4"/><stop offset=".251" stop-color="#bde4a0"/><stop offset=".281" stop-color="#c4e79f"/><stop offset=".312" stop-color="#e4f498"/><stop offset=".342" stop-color="#dbf09a"/><stop offset=".372" stop-color="#e8f69b"/><stop offset=".402" stop-color="#def29a"/><stop offset=".437" stop-color="#e8f69a"/><stop offset=".462" stop-color="#e1f399"/><stop offset=".503" stop-color="#e7f59a"/><stop offset=".538" stop-color="#ebf7a0"/><stop offset=".588" stop-color="#edf8a4"/><stop offset=".638" stop-color="#f5fbb0"/><stop offset=".804" stop-color="#fffab7"/><stop offset=".834" stop-color="#feca79"/><stop offset=".874" stop-color="#f46d43"/><stop offset=".899" stop-color="#d7414e"/><stop offset=".915" stop-color="#9e0142"/><stop offset="1" stop-color="#9e0142"/></linearGradient>
<linearGradient id="g76"><stop offset="0" stop-color="#5e4fa2"/><stop offset=".176" stop-color="#5e4fa2"/><stop offset=".181" stop-color="#4c66ad"/><stop offset=".186" stop-color="#368cbb"/><stop offset=".206" stop-color="#67c3a5"/><stop offset=".226" stop-color="#94d4a4"/><stop offset=".256" stop-color="#c2e69f"/><stop offset=".286" stop-color="#c8e99e"/><stop offset=".317" stop-color="#e6f598"/><stop offset=".347" stop-color="#dbf19a"/><stop offset=".377" stop-color="#e8f69a"/><stop offset=".407" stop-color="#dff29a"/><stop offset=".442" stop-color="#e7f69a"/><stop offset=".467" stop-color="#e2f399"/><stop offset=".508" stop-color="#e7f599"/><stop offset=".568" stop-color="#ebf7a0"/><stop offset=".648" stop-color="#f6fcb1"/><stop offset=".804" stop-color="#fffab7"/><stop offset=".834" stop-color="#feca79"/><stop offset=".874" stop-color="#f46d43"/><stop offset=".899" stop-color="#d7414e"/><stop offset=".915" stop-color="#9e0142"/><stop offset="1" stop-color="#9e0142"/></linearGradient>
<linearGradient id="g77"><stop offset="0" stop-color="#5e4fa2"/><stop offset=".176" stop-color="#5e4fa2"/><stop offset=".181" stop-color="#4c66ad"/><stop offset=".186" stop-color="#368cbb"/><stop offset=".206" stop-color="#67c3a5"/><stop offset=".226" stop-color="#94d4a4"/><stop offset=".256" stop-color="#c4e79f"/><stop offset=".291" stop-color="#cbea9d"/><stop offset=".317" stop-color="#e7f59a"/><stop offset=".352" stop-color="#dcf19a"/><stop offset=".382" stop-color="#e7f69a"/><stop offset=".412" stop-color="#dff299"/><stop offset=".447" stop-color="#e7f59a"/><stop offset=".472" stop-color="#e3f499"/><stop offset=".508" stop-color="#e8f69c"/><stop offset=".543" stop-color="#eaf79e"/><stop offset=".598" stop-color="#eff9a7"/><stop offset=".658" stop-color="#f7fcb2"/><stop offset=".804" stop-color="#fffab7"/><stop offset=".834" stop-color="#feca79"/><stop offset=".874" stop-color="#f46d43"/><stop offset=".899" stop-color="#d7414e"/><stop offset=".915" stop-color="#9e0142"/><stop offset="1" stop-color="#9e0142"/></linearGradient>
<linearGradient id="g78"><stop offset="0" stop-color="#5e4fa2"/><stop offset=".176" stop-color="#5e4fa2"/><stop offset=".181" stop-color="#4c66ad"/><stop offset=".186" stop-color="#368cbb"/><stop offset=".206" stop-color="#67c3a5"/><stop offset=".226" stop-color="#94d4a4"/><stop offset=".261" stop-color="#c7e99e"/><stop offset=".291" stop-color="#c9e99e"/><stop offset=".317" stop-color="#e7f59a"/><stop offset=".357" stop-color="#ddf19a"/><stop offset=".387" stop-color="#e7f69a"/><stop offset=".417" stop-color="#e0f399"/><stop offset=".452" stop-color="#e7f599"/><stop offset=".477" stop-color="#e3f499"/><stop offset=".513" stop-color="#e8f69b"/><stop offset=".543" stop-color="#e9f69c"/><stop offset=".573" stop-color="#edf8a3"/><stop offset=".603" stop-color="#f0f9a8"/><stop offset=".804" stop-color="#fffab7"/><stop offset=".834" stop-color="#feca79"/><stop offset=".874" stop-color="#f46d43"/><stop offset=".899" stop-color="#d7414e"/><stop offset=".915" stop-color="#9e0142"/><stop offset="1" stop-color="#9e0142"/></linearGradient>
<linearGradient id="g79"><stop offset="0" stop-color="#5e4fa2"/><stop offset=".186" stop-color="#5e4fa2"/><stop offset=".191" stop-color="#397fb9"/><stop offset=".211" stop-color="#62bda7"/><stop offset=".231" stop-color="#91d3a4"/><stop offset=".266" stop-color="#c6e89f"/><stop offset=".296" stop-color="#c8e99e"/><stop offset=".327" stop-color="#e7f599"/><stop offset=".357" stop-color="#daf09a"/><stop offset=".392" stop-color="#e7f59a"/><stop offset=".422" stop-color="#e1f399"/><stop offset=".457" stop-color="#e7f599"/><stop offset=".482" stop-color="#e4f498"/><stop offset=".518" stop-color="#e8f69b"/><stop offset=".548" stop-color="#eaf69d"/><stop offset=".578" stop-color="#edf8a3"/><stop offset=".608" stop-color="#f1faaa"/><stop offset=".804" stop-color="#fffab7"/><stop offset=".834" stop-color="#feca79"/><stop offset=".874" stop-color="#f46d43"/><stop offset=".899" stop-color="#d7414e"/><stop offset=".915" stop-color="#9e0142"/><stop offset="1" stop-color="#9e0142"/></linearGradient>
<linearGradient id="g80"><stop offset="0" stop-color="#5e4fa2"/><stop offset=".196" stop-color="#5e4fa2"/><stop offset=".201" stop-color="#5757a6"/><stop offset=".206" stop-color="#3288bd"/><stop offset=".231" stop-color="#71c6a5"/><stop offset=".256" stop-color="#a0d9a4"/><stop offset=".271" stop-color="#bbe4a1"/><stop offset=".307" stop-color="#c9e99e"/><stop offset=".332" stop-color="#e4f498"/><stop offset=".362" stop-color="#daf09a"/><stop offset=".392" stop-color="#e8f69b"/><stop offset=".422" stop-color="#def29a"/><stop offset=".457" stop-color="#e8f69b"/><stop offset=".487" stop-color="#e5f598"/><stop offset=".523" stop-color="#e8f69b"/><stop offset=".553" stop-color="#ebf79f"/><stop offset=".588" stop-color="#edf8a2"/><stop offset=".719" stop-color="#f8fcb4"/><stop offset=".804" stop-color="#fffab7"/><stop offset=".834" stop-color="#feca79"/><stop offset=".874" stop-color="#f46d43"/><stop offset=".899" stop-color="#d7414e"/><stop offset=".915" stop-color="#9e0142"/><stop offset="1" stop-color="#9e0142"/></linearGradient>
<linearGradient id="g81"><stop offset="0" stop-color="#5e4fa2"/><stop offset=".226" stop-color="#5e4fa2"/><stop offset=".231" stop-color="#525fa9"/><stop offset=".236" stop-color="#348abc"/><stop offset=".261" stop-color="#73c7a5"/><stop offset=".286" stop-color="#a1d9a4"/><stop offset=".317" stop-color="#c3e79f"/><stop offset=".342" stop-color="#d4ee9c"/><stop offset=".367" stop-color="#d9f09b"/><stop offset=".397" stop-color="#e7f69a"/><stop offset=".427" stop-color="#ddf19a"/><stop offset=".462" stop-color="#e8f69a"/><stop offset=".487" stop-color="#e2f399"/><stop offset=".528" stop-color="#e7f69a"/><stop offset=".558" stop-color="#ebf7a1"/><stop offset=".593" stop-color="#edf8a3"/><stop offset=".714" stop-color="#f8fcb4"/><stop offset=".804" stop-color="#fffab7"/><stop offset=".834" stop-color="#feca79"/><stop offset=".874" stop-color="#f46d43"/><stop offset=".899" stop-color="#d7414e"/><stop offset=".915" stop-color="#9e0142"/><stop offset="1" stop-color="#9e0142"/></linearGradient>
<linearGradient id="g82"><stop offset="0" stop-color="#5e4fa2"/><stop offset=".241" stop-color="#5e4fa2"/><stop offset=".251" stop-color="#378ebb"/><stop offset=".271" stop-color="#68c3a5"/><stop offset=".291" stop-color="#95d4a4"/><stop offset=".322" stop-color="#bee5a0"/><stop offset=".347" stop-color="#ceeb9d"/><stop offset=".372" stop-color="#d4ee9c"/><stop offset=".397" stop-color="#e8f69b"/><stop offset=".432" stop-color="#def29a"/><stop offset=".467" stop-color="#e7f59a"/><stop offset=".492" stop-color="#e2f399"/><stop offset=".533" stop-color="#e7f69a"/><stop offset=".568" stop-color="#eff9a6"/><stop offset=".618" stop-color="#f3faac"/><stop offset=".804" stop-color="#fffab7"/><stop offset=".834" stop-color="#feca79"/><stop offset=".874" stop-color="#f46d43"/><stop offset=".899" stop-color="#d7414e"/><stop offset=".915" stop-color="#9e0142"/><stop offset="1" stop-color="#9e0142"/></linearGradient>
<linearGradient id="g83"><stop offset="0" stop-color="#5e4fa2"/><stop offset=".246" stop-color="#5e4fa2"/><stop offset=".251" stop-color="#3e79b6"/><stop offset=".256" stop-color="#3b92b9"/><stop offset=".276" stop-color="#6dc5a5"/><stop offset=".296" stop-color="#97d5a4"/><stop offset=".317" stop-color="#acdda4"/><stop offset=".342" stop-color="#cfec9d"/><stop offset=".372" stop-color="#d0ec9c"/><stop offset=".397" stop-color="#e8f69a"/><stop offset=".437" stop-color="#def29a"/><stop offset=".472" stop-color="#e7f59a"/><stop offset=".497" stop-color="#e3f499"/><stop offset=".533" stop-color="#e9f69c"/><stop offset=".563" stop-color="#ebf7a0"/><stop offset=".593" stop-color="#f0f9a7"/><stop offset=".804" stop-color="#fffab7"/><stop offset=".834" stop-color="#feca79"/><stop offset=".874" stop-color="#f46d43"/><stop offset=".899" stop-color="#d7414e"/><stop offset=".915" stop-color="#9e0142"/><stop offset="1" stop-color="#9e0142"/></linearGradient>
<linearGradient id="g84"><stop offset="0" stop-color="#5e4fa2"/><stop offset=".246" stop-color="#5e4fa2"/><stop offset=".251" stop-color="#5758a6"/><stop offset=".256" stop-color="#3288bd"/><stop offset=".281" stop-color="#71c6a5"/><stop offset=".307" stop-color="#a0d9a4"/><stop offset=".322" stop-color="#afdea3"/><stop offset=".347" stop-color="#cfec9d"/><stop offset=".377" stop-color="#d1ed9c"/><stop offset=".402" stop-color="#e8f69b"/><stop offset=".442" stop-color="#dff299"/><stop offset=".477" stop-color="#e7f599"/><stop offset=".503" stop-color="#e4f498"/><stop offset=".538" stop-color="#e9f69c"/><stop offset=".568" stop-color="#ecf7a1"/><stop offset=".598" stop-color="#f0f9a8"/><stop offset=".804" stop-color="#fffab7"/><stop offset=".834" stop-color="#feca79"/><stop offset=".874" stop-color="#f46d43"/><stop offset=".899" stop-color="#d7414e"/><stop offset=".915" stop-color="#9e0142"/><stop offset="1" stop-color="#9e0142"/></linearGradient>
<linearGradient id="g85"><stop offset="0" stop-color="#5e4fa2"/><stop offset=".251" stop-color="#5e4fa2"/><stop offset=".261" stop-color="#378ebb"/><stop offset=".281" stop-color="#69c3a5"/><stop offset=".302" stop-color="#95d4a4"/><stop offset=".327" stop-color="#b2e0a3"/><stop offset=".352" stop-color="#d0ec9c"/><stop offset=".382" stop-color="#d3ed9c"/><stop offset=".407" stop-color="#e8f69b"/><stop offset=".442" stop-color="#ddf19a"/><stop offset=".477" stop-color="#e8f69c"/><stop offset=".508" stop-color="#e5f598"/><stop offset=".543" stop-color="#e9f69c"/><stop offset=".573" stop-color="#edf8a3"/><stop offset=".603" stop-color="#f1f9a8"/><stop offset=".804" stop-color="#fffab7"/><stop offset=".834" stop-color="#feca79"/><stop offset=".874" stop-color="#f46d43"/><stop offset=".899" stop-color="#d7414e"/><stop offset=".915" stop-color="#9e0142"/><stop offset="1" stop-color="#9e0142"/></linearGradient>
<linearGradient id="g86"><stop offset="0" stop-color="#5e4fa2"/><stop offset=".251" stop-color="#5e4fa2"/><stop offset=".256" stop-color="#535da9"/><stop offset=".261" stop-color="#348abc"/><stop offset=".286" stop-color="#73c7a5"/><stop offset=".312" stop-color="#a1d9a4"/><stop offset=".327" stop-color="#addea4"/><stop offset=".352" stop-color="#d1ec9c"/><stop offset=".387" stop-color="#d6ee9b"/><stop offset=".412" stop-color="#e8f69b"/><stop offset=".447" stop-color="#ddf19a"/><stop offset=".482" stop-color="#e8f69b"/><stop offset=".513" stop-color="#e6f598"/><stop offset=".548" stop-color="#e9f69d"/><stop offset=".583" stop-color="#f0f9a8"/><stop offset=".804" stop-color="#fffab7"/><stop offset=".834" stop-color="#feca79"/><stop offset=".874" stop-color="#f46d43"/><stop offset=".899" stop-color="#d7414e"/><stop offset=".915" stop-color="#9e0142"/><stop offset="1" stop-color="#9e0142"/></linearGradient>
<linearGradient id="g87"><stop offset="0" stop-color="#5e4fa2"/><stop offset=".256" stop-color="#5d50a2"/><stop offset=".261" stop-color="#3880b9"/><stop offset=".281" stop-color="#62bea7"/><stop offset=".302" stop-color="#91d3a4"/><stop offset=".317" stop-color="#a6dba4"/><stop offset=".332" stop-color="#b2e0a3"/><stop offset=".362" stop-color="#d4ee9c"/><stop offset=".392" stop-color="#d8ef9b"/><stop offset=".422" stop-color="#e7f69a"/><stop offset=".452" stop-color="#def29a"/><stop offset=".487" stop-color="#e8f69b"/><stop offset=".518" stop-color="#e7f599"/><stop offset=".553" stop-color="#e9f69d"/><stop offset=".588" stop-color="#f1f9a9"/><stop offset=".804" stop-color="#fffab7"/><stop offset=".834" stop-color="#feca79"/><stop offset=".874" stop-color="#f46d43"/><stop offset=".899" stop-color="#d7414e"/><stop offset=".915" stop-color="#9e0142"/><stop offset="1" stop-color="#9e0142"/></linearGradient>
<linearGradient id="g88"><stop offset="0" stop-color="#5e4fa2"/><stop offset=".256" stop-color="#5e4fa2"/><stop offset=".261" stop-color="#4273b3"/><stop offset=".266" stop-color="#3a90ba"/><stop offset=".286" stop-color="#6bc4a5"/><stop offset=".307" stop-color="#96d5a4"/><stop offset=".367" stop-color="#d5ee9b"/><stop offset=".397" stop-color="#daf09a"/><stop offset=".427" stop-color="#e7f59a"/><stop offset=".457" stop-color="#dff299"/><stop offset=".492" stop-color="#e8f69b"/><stop offset=".523" stop-color="#e7f59a"/><stop offset=".558" stop-color="#eaf69e"/><stop offset=".648" stop-color="#f6fcb1"/><stop offset=".804" stop-color="#fffab7"/><stop offset=".834" stop-color="#feca79"/><stop offset=".874" stop-color="#f46d43"/><stop offset=".899" stop-color="#d7414e"/><stop offset=".915" stop-color="#9e0142"/><stop offset="1" stop-color="#9e0142"/></linearGradient>
<linearGradient id="g89"><stop offset="0" stop-color="#5e4fa2"/><stop offset=".256" stop-color="#5e4fa2"/><stop offset=".261" stop-color="#4c66ad"/><stop offset=".266" stop-color="#368cbb"/><stop offset=".286" stop-color="#67c3a5"/><stop offset=".307" stop-color="#94d4a4"/><stop offset=".367" stop-color="#d7ef9b"/><stop offset=".402" stop-color="#dbf09a"/><stop offset=".432" stop-color="#e7f59a"/><stop offset=".462" stop-color="#e0f399"/><stop offset=".497" stop-color="#e8f69b"/><stop offset=".528" stop-color="#e7f69a"/><stop offset=".563" stop-color="#eaf79e"/><stop offset=".643" stop-color="#f6fbb1"/><stop offset=".804" stop-color="#fffab7"/><stop offset=".834" stop-color="#feca79"/><stop offset=".874" stop-color="#f46d43"/><stop offset=".899" stop-color="#d7414e"/><stop offset=".915" stop-color="#9e0142"/><stop offset="1" stop-color="#9e0142"/></linearGradient>
<linearGradient id="g90"><stop offset="0" stop-color="#5e4fa2"/><stop offset=".256" stop-color="#5e4fa2"/><stop offset=".261" stop-color="#5758a6"/><stop offset=".266" stop-color="#3288bd"/><stop offset=".291" stop-color="#72c7a5"/><stop offset=".317" stop-color="#a0d9a4"/><stop offset=".372" stop-color="#d8f09b"/><stop offset=".407" stop-color="#dcf19a"/><stop offset=".437" stop-color="#e7f59a"/><stop offset=".467" stop-color="#e1f399"/><stop offset=".503" stop-color="#e7f69a"/><stop offset=".533" stop-color="#e8f69b"/><stop offset=".568" stop-color="#eaf79f"/><stop offset=".638" stop-color="#f5fbb0"/><stop offset=".804" stop-color="#fffab7"/><stop offset=".834" stop-color="#feca79"/><stop offset=".874" stop-color="#f46d43"/><stop offset=".899" stop-color="#d7414e"/><stop offset=".915" stop-color="#9e0142"/><stop offset="1" stop-color="#9e0142"/></linearGradient>
<linearGradient id="g91"><stop offset="0" stop-color="#5e4fa2"/><stop offset=".261" stop-color="#5e4fa2"/><stop offset=".266" stop-color="#397fb9"/><stop offset=".286" stop-color="#62bda7"/><stop offset=".307" stop-color="#91d3a4"/><stop offset=".337" stop-color="#b1e0a3"/><stop offset=".377" stop-color="#dbf09a"/><stop offset=".412" stop-color="#ddf19a"/><stop offset=".442" stop-color="#e7f599"/><stop offset=".467" stop-color="#def29a"/><stop offset=".503" stop-color="#e9f69d"/><stop offset=".533" stop-color="#e6f599"/><stop offset=".568" stop-color="#ecf7a1"/><stop offset=".598" stop-color="#f0f9a8"/><stop offset=".698" stop-color="#f8fcb3"/><stop offset=".804" stop-color="#fffab7"/><stop offset=".834" stop-color="#feca79"/><stop offset=".874" stop-color="#f46d43"/><stop offset=".899" stop-color="#d7414e"/><stop offset=".915" stop-color="#9e0142"/><stop offset="1" stop-color="#9e0142"/></linearGradient>
<linearGradient id="g92"><stop offset="0" stop-color="#5e4fa2"/><stop offset=".261" stop-color="#5e4fa2"/><stop offset=".266" stop-color="#3d7ab6"/><stop offset=".271" stop-color="#3b92b9"/><stop offset=".291" stop-color="#6dc5a5"/><stop offset=".312" stop-color="#97d5a4"/><stop offset=".332" stop-color="#b1e0a3"/><stop offset=".362" stop-color="#caea9e"/><stop offset=".387" stop-color="#dcf19a"/><stop offset=".417" stop-color="#def29a"/><stop offset=".447" stop-color="#e7f599"/><stop offset=".472" stop-color="#dff299"/><stop offset=".508" stop-color="#e9f69c"/><stop offset=".538" stop-color="#e7f599"/><stop offset=".568" stop-color="#eef8a4"/><stop offset=".598" stop-color="#eff8a5"/><stop offset=".643" stop-color="#f6fbb1"/><stop offset=".804" stop-color="#fffab7"/><stop offset=".834" stop-color="#feca79"/><stop offset=".874" stop-color="#f46d43"/><stop offset=".899" stop-color="#d7414e"/><stop offset=".915" stop-color="#9e0142"/><stop offset="1" stop-color="#9e0142"/></linearGradient>
<linearGradient id="g93"><stop offset="0" stop-color="#5e4fa2"/><stop offset=".261" stop-color="#5e4fa2"/><stop offset=".266" stop-color="#4274b3"/><stop offset=".271" stop-color="#3a91b9"/><stop offset=".291" stop-color="#6bc4a5"/><stop offset=".312" stop-color="#96d5a4"/><stop offset=".332" stop-color="#b4e1a2"/><stop offset=".362" stop-color="#c6e89e"/><stop offset=".387" stop-color="#dff299"/><stop offset=".422" stop-color="#dff299"/><stop offset=".452" stop-color="#e7f599"/><stop offset=".477" stop-color="#e0f399"/><stop offset=".513" stop-color="#e9f69c"/><stop offset=".548" stop-color="#eaf79f"/><stop offset=".583" stop-color="#ecf7a1"/><stop offset=".653" stop-color="#f6fcb2"/><stop offset=".804" stop-color="#fffab7"/><stop offset=".834" stop-color="#feca79"/><stop offset=".874" stop-color="#f46d43"/><stop offset=".899" stop-color="#d7414e"/><stop offset=".915" stop-color="#9e0142"/><stop offset="1" stop-color="#9e0142"/></linearGradient>
<linearGradient id="g94"><stop offset="0" stop-color="#5e4fa2"/><stop offset=".261" stop-color="#5e4fa2"/><stop offset=".271" stop-color="#388fba"/><stop offset=".291" stop-color="#6ac3a5"/><stop offset=".312" stop-color="#95d5a4"/><stop offset=".337" stop-color="#b9e3a1"/><stop offset=".362" stop-color="#c3e79f"/><stop offset=".392" stop-color="#e1f399"/><stop offset=".422" stop-color="#dcf19a"/><stop offset=".452" stop-color="#e8f69b"/><stop offset=".482" stop-color="#e1f399"/><stop offset=".523" stop-color="#e7f599"/><stop offset=".558" stop-color="#eef8a4"/><stop offset=".608" stop-color="#f0f9a8"/><stop offset=".804" stop-color="#fffab7"/><stop offset=".834" stop-color="#feca79"/><stop offset=".874" stop-color="#f46d43"/><stop offset=".899" stop-color="#d7414e"/><stop offset=".915" stop-color="#9e0142"/><stop offset="1" stop-color="#9e0142"/></linearGradient>
<linearGradient id="g95"><stop offset="0" stop-color="#5e4fa2"/><stop offset=".261" stop-color="#5e4fa2"/><stop offset=".271" stop-color="#378dbb"/><stop offset=".291" stop-color="#68c3a5"/><stop offset=".312" stop-color="#95d4a4"/><stop offset=".337" stop-color="#bce4a1"/><stop offset=".367" stop-color="#c6e89f"/><stop offset=".397" stop-color="#e3f499"/><stop offset=".427" stop-color="#ddf19a"/><stop offset=".457" stop-color="#e8f69b"/><stop offset=".487" stop-color="#e2f399"/><stop offset=".528" stop-color="#e7f599"/><stop offset=".583" stop-color="#eff8a5"/><stop offset=".804" stop-color="#fffab7"/><stop offset=".834" stop-color="#feca79"/><stop offset=".874" stop-color="#f46d43"/><stop offset=".899" stop-color="#d7414e"/><stop offset=".915" stop-color="#9e0142"/><stop offset="1" stop-color="#9e0142"/></linearGradient>
<linearGradient id="g96"><stop offset="0" stop-color="#5e4fa2"/><stop offset=".261" stop-color="#5e4fa2"/><stop offset=".266" stop-color="#4e63ac"/><stop offset=".271" stop-color="#358cbb"/><stop offset=".296" stop-color="#75c8a5"/><stop offset=".337" stop-color="#bde4a0"/><stop offset=".372" stop-color="#cae99e"/><stop offset=".397" stop-color="#e5f598"/><stop offset=".427" stop-color="#dbf09a"/><stop offset=".462" stop-color="#e8f69a"/><stop offset=".492" stop-color="#e3f499"/><stop offset=".528" stop-color="#e8f69b"/><stop offset=".558" stop-color="#ebf79f"/><stop offset=".588" stop-color="#eff8a6"/><stop offset=".804" stop-color="#fffab7"/><stop offset=".834" stop-color="#feca79"/><stop offset=".874" stop-color="#f46d43"/><stop offset=".899" stop-color="#d7414e"/><stop offset=".915" stop-color="#9e0142"/><stop offset="1" stop-color="#9e0142"/></linearGradient>
<linearGradient id="g97"><stop offset="0" stop-color="#e85b48"/><stop offset=".04" stop-color="#e3534a"/><stop offset=".065" stop-color="#f67b49"/><stop offset=".131" stop-color="#feca79"/><stop offset=".151" stop-color="#fff0a6"/><stop offset=".166" stop-color="#fffebe"/><stop offset=".181" stop-color="#e8f69a"/><stop offset=".206" stop-color="#abdda4"/><stop offset=".392" stop-color="#8dd1a4"/><stop offset=".578" stop-color="#e2f399"/><stop offset=".668" stop-color="#fffebd"/><stop offset=".719" stop-color="#fed380"/><stop offset=".774" stop-color="#f46d43"/><stop offset=".804" stop-color="#e35449"/><stop offset=".839" stop-color="#e3534a"/><stop offset=".879" stop-color="#f46d43"/><stop offset=".94" stop-color="#fdb769"/><stop offset="1" stop-color="#fee18d"/></linearGradient>
<linearGradient id="g98"><stop offset="0" stop-color="#e85b48"/><stop offset=".04" stop-color="#e2524a"/><stop offset=".065" stop-color="#f67b49"/><stop offset=".131" stop-color="#feca79"/><stop offset=".151" stop-color="#fff0a6"/><stop offset=".166" stop-color="#fffebe"/><stop offset=".181" stop-color="#e8f69a"/><stop offset=".206" stop-color="#abdda4"/><stop offset=".392" stop-color="#8dd1a4"/><stop offset=".578" stop-color="#e2f399"/><stop offset=".668" stop-color="#fffebd"/><stop offset=".719" stop-color="#fed380"/><stop offset=".774" stop-color="#f46d43"/><stop offset=".804" stop-color="#e3544a"/><stop offset=".839" stop-color="#e3534a"/><stop offset=".879" stop-color="#f46d43"/><stop offset=".94" stop-color="#fdb769"/><stop offset="1" stop-color="#fee18d"/></linearGradient>
<linearGradient id="g99"><stop offset="0" stop-color="#e85b48"/><stop offset=".04" stop-color="#e2524a"/><stop offset=".065" stop-color="#f67b49"/><stop offset=".131" stop-color="#feca79"/><stop offset=".151" stop-color="#fff0a6"/><stop offset=".166" stop-color="#fffebe"/><stop offset=".181" stop-color="#e8f69a"/><stop offset=".206" stop-color="#abdda4"/><stop offset=".392" stop-color="#8dd1a4"/><stop offset=".578" stop-color="#e2f399"/><stop offset=".668" stop-color="#fffebd"/><stop offset=".719" stop-color="#fed380"/><stop offset=".774" stop-color="#f46d43"/><stop offset=".804" stop-color="#e3534a"/><stop offset=".839" stop-color="#e3534a"/><stop offset=".879" stop-color="#f46d43"/><stop offset=".94" stop-color="#fdb769"/><stop offset="1" stop-color="#fee18d"/></linearGradient>
<linearGradient id="g100"><stop offset="0" stop-color="#e85b48"/><stop offset=".04" stop-color="#e2524a"/><stop offset=".065" stop-color="#f67b49"/><stop offset=".131" stop-color="#feca79"/><stop offset=".151" stop-color="#fff0a6"/><stop offset=".166" stop-color="#fffebe"/><stop offset=".181" stop-color="#e8f69a"/><stop offset=".206" stop-color="#abdda4"/><stop offset=".392" stop-color="#8dd1a4"/><stop offset=".578" stop-color="#e2f399"/><stop offset=".668" stop-color="#fffebd"/><stop offset=".719" stop-color="#fed380"/><stop offset=".774" stop-color="#f46d43"/><stop offset=".804" stop-color="#e3534a"/><stop offset=".834" stop-color="#e1504a"/><stop offset=".879" stop-color="#f46d43"/><stop offset=".94" stop-color="#fdb769"/><stop offset="1" stop-color="#fee18d"/></linearGradient>
<linearGradient id="g101"><stop offset="0" stop-color="#e85b48"/><stop offset=".035" stop-color="#de4c4c"/><stop offset=".065" stop-color="#f67b49"/><stop offset=".131" stop-color="#feca79"/><stop offset=".151" stop-color="#fff0a6"/><stop offset=".166" stop-color="#fffebe"/><stop offset=".181" stop-color="#e8f69a"/><stop offset=".206" stop-color="#abdda4"/><stop offset=".392" stop-color="#8dd1a4"/><stop offset=".578" stop-color="#e2f399"/><stop offset=".668" stop-color="#fffebd"/><stop offset=".719" stop-color="#fed380"/><stop offset=".774" stop-color="#f46d43"/><stop offset=".804" stop-color="#e3534a"/><stop offset=".834" stop-color="#e1504a"/><stop offset=".879" stop-color="#f46d43"/><stop offset=".94" stop-color="#fdb769"/><stop offset="1" stop-color="#fee18d"/></linearGradient>
<linearGradient id="g102"><stop offset="0" stop-color="#e85b48"/><stop offset=".035" stop-color="#de4b4c"/><stop offset=".065" stop-color="#f67b49"/><stop offset=".131" stop-color="#feca79"/><stop offset=".151" stop-color="#fff0a6"/><stop offset=".166" stop-color="#fffebe"/><stop offset=".181" stop-color="#e8f69a"/><stop offset=".206" stop-color="#abdda4"/><stop offset=".342" stop-color="#95d4a4"/><stop offset=".352" stop-color="#62bea7"/><stop offset=".357" stop-color="#49a2b2"/><stop offset=".367" stop-color="#429ab6"/><stop offset=".382" stop-color="#7bcaa5"/><stop offset=".392" stop-color="#8dd1a4"/><stop offset=".578" stop-color="#e2f399"/><stop offset=".668" stop-color="#fffebd"/><stop offset=".719" stop-color="#fed380"/><stop offset=".774" stop-color="#f46d43"/><stop offset=".809" stop-color="#e1504a"/><stop offset=".839" stop-color="#e2524a"/><stop offset=".879" stop-color="#f46d43"/><stop offset=".94" stop-color="#fdb769"/><stop offset="1" stop-color="#fee18d"/></linearGradient>
<linearGradient id="g103"><stop offset="0" stop-color="#e85b48"/><stop offset=".035" stop-color="#dd4a4c"/><stop offset=".065" stop-color="#f67b49"/><stop offset=".131" stop-color="#feca79"/><stop offset=".151" stop-color="#fff0a6"/><stop offset=".166" stop-color="#fffebe"/><stop offset=".181" stop-color="#e8f69a"/><stop offset=".206" stop-color="#abdda4"/><stop offset=".317" stop-color="#9cd7a4"/><stop offset=".327" stop-color="#59b3ab"/><stop offset=".332" stop-color="#4299b6"/><stop offset=".362" stop-color="#3288bd"/><stop offset=".387" stop-color="#429ab6"/><stop offset=".402" stop-color="#7bcaa5"/><stop offset=".407" stop-color="#94d4a4"/><stop offset=".578" stop-color="#e2f399"/><stop offset=".668" stop-color="#fffebd"/><stop offset=".719" stop-color="#fed380"/><stop offset=".774" stop-color="#f46d43"/><stop offset=".809" stop-color="#e1504a"/><stop offset=".839" stop-color="#e2514a"/><stop offset=".884" stop-color="#f57547"/><stop offset=".945" stop-color="#fdbb6c"/><stop offset="1" stop-color="#fee18d"/></linearGradient>
<linearGradient id="g104"><stop offset="0" stop-color="#e85b48"/><stop offset=".035" stop-color="#dc494c"/><stop offset=".065" stop-color="#f67b49"/><stop offset=".131" stop-color="#feca79"/><stop offset=".151" stop-color="#fff0a6"/><stop offset=".166" stop-color="#fffebe"/><stop offset=".181" stop-color="#e8f69a"/><stop offset=".206" stop-color="#abdda4"/><stop offset=".286" stop-color="#a1d9a4"/><stop offset=".296" stop-color="#68c3a5"/><stop offset=".307" stop-color="#4199b6"/><stop offset=".337" stop-color="#3387bc"/><stop offset=".397" stop-color="#368cbb"/><stop offset=".412" stop-color="#439ab5"/><stop offset=".427" stop-color="#7ccba5"/><stop offset=".432" stop-color="#9fd8a4"/><stop offset=".578" stop-color="#e2f399"/><stop offset=".668" stop-color="#fffebd"/><stop offset=".719" stop-color="#fed380"/><stop offset=".774" stop-color="#f46d43"/><stop offset=".809" stop-color="#e04f4b"/><stop offset=".834" stop-color="#df4e4b"/><stop offset=".879" stop-color="#f46d43"/><stop offset=".94" stop-color="#fdb769"/><stop offset="1" stop-color="#fee18d"/></linearGradient>
<linearGradient id="g105"><stop offset="0" stop-color="#e85b48"/><stop offset=".035" stop-color="#dc484c"/><stop offset=".06" stop-color="#f57547"/><stop offset=".126" stop-color="#fdc070"/><stop offset=".151" stop-color="#fff0a6"/><stop offset=".166" stop-color="#fffebe"/><stop offset=".181" stop-color="#e8f69a"/><stop offset=".206" stop-color="#abdda4"/><stop offset=".266" stop-color="#a3daa4"/><stop offset=".271" stop-color="#74c8a5"/><stop offset=".281" stop-color="#4299b6"/><stop offset=".296" stop-color="#3880b9"/><stop offset=".332" stop-color="#4077b5"/><stop offset=".417" stop-color="#3a7eb8"/><stop offset=".422" stop-color="#3288bd"/><stop offset=".437" stop-color="#4ea7b0"/><stop offset=".452" stop-color="#8bd0a4"/><stop offset=".457" stop-color="#abdda4"/><stop offset=".583" stop-color="#e3f499"/><stop offset=".668" stop-color="#fffebd"/><stop offset=".719" stop-color="#fed380"/><stop offset=".774" stop-color="#f46d43"/><stop offset=".814" stop-color="#de4c4c"/><stop offset=".844" stop-color="#e3534a"/><stop offset=".884" stop-color="#f57547"/><stop offset=".945" stop-color="#fdbb6c"/><stop offset="1" stop-color="#fee18d"/></linearGradient>
<linearGradient id="g106"><stop offset="0" stop-color="#e85b48"/><stop offset=".035" stop-color="#db474d"/><stop offset=".06" stop-color="#f57547"/><stop offset=".126" stop-color="#fdc070"/><stop offset=".151" stop-color="#fff0a6"/><stop offset=".166" stop-color="#fffebe"/><stop offset=".181" stop-color="#e8f69a"/><stop offset=".206" stop-color="#abdda4"/><stop offset=".246" stop-color="#a6dba4"/><stop offset=".256" stop-color="#62bea7"/><stop offset=".261" stop-color="#49a2b2"/><stop offset=".276" stop-color="#3387bd"/><stop offset=".291" stop-color="#4b68ae"/><stop offset=".432" stop-color="#4b68ae"/><stop offset=".442" stop-color="#3288bd"/><stop offset=".457" stop-color="#56b0ac"/><stop offset=".467" stop-color="#7ecca5"/><stop offset=".472" stop-color="#b3e0a2"/><stop offset=".598" stop-color="#e8f69b"/><stop offset=".668" stop-color="#fffebd"/><stop offset=".719" stop-color="#fed380"/><stop offset=".774" stop-color="#f46d43"/><stop offset=".819" stop-color="#db474d"/><stop offset=".879" stop-color="#f46d43"/><stop offset=".94" stop-color="#fdb769"/><stop offset="1" stop-color="#fee18d"/></linearGradient>
<linearGradient id="g107"><stop offset="0" stop-color="#e85b48"/><stop offset=".035" stop-color="#da454d"/><stop offset=".06" stop-color="#f57547"/><stop offset=".126" stop-color="#fdc070"/><stop offset=".151" stop-color="#fff0a6"/><stop offset=".166" stop-color="#fffebe"/><stop offset=".181" stop-color="#e8f69a"/><stop offset=".206" stop-color="#abdda4"/><stop offset=".226" stop-color="#a8dca4"/><stop offset=".231" stop-color="#7ccaa5"/><stop offset=".241" stop-color="#459db4"/><stop offset=".266" stop-color="#3486bc"/><stop offset=".302" stop-color="#535da9"/><stop offset=".442" stop-color="#4f62ab"/><stop offset=".457" stop-color="#348abc"/><stop offset=".472" stop-color="#4ea8b0"/><stop offset=".487" stop-color="#8bd1a4"/><stop offset=".492" stop-color="#bfe5a0"/><stop offset=".608" stop-color="#eaf79f"/><stop offset=".668" stop-color="#fffebd"/><stop offset=".719" stop-color="#fed380"/><stop offset=".774" stop-color="#f46d43"/><stop offset=".819" stop-color="#da464d"/><stop offset=".879" stop-color="#f46d43"/><stop offset=".94" stop-color="#fdb769"/><stop offset="1" stop-color="#fee18d"/></linearGradient>
<linearGradient id="g108"><stop offset="0" stop-color="#e85b48"/><stop offset=".035" stop-color="#d8434e"/><stop offset=".06" stop-color="#f57547"/><stop offset=".126" stop-color="#fdc070"/><stop offset=".151" stop-color="#fff0a6"/><stop offset=".166" stop-color="#fffebe"/><stop offset=".181" stop-color="#e8f69a"/><stop offset=".206" stop-color="#abdda4"/><stop offset=".211" stop-color="#76c8a5"/><stop offset=".221" stop-color="#4299b6"/><stop offset=".256" stop-color="#3288bd"/><stop offset=".281" stop-color="#4371b2"/><stop offset=".307" stop-color="#535da9"/><stop offset=".442" stop-color="#4f62ab"/><stop offset=".467" stop-color="#3288bd"/><stop offset=".487" stop-color="#479fb3"/><stop offset=".503" stop-color="#81cda5"/><stop offset=".508" stop-color="#c7e89e"/><stop offset=".608" stop-color="#eaf79f"/><stop offset=".668" stop-color="#fffebd"/><stop offset=".719" stop-color="#fed380"/><stop offset=".774" stop-color="#f46d43"/><stop offset=".824" stop-color="#d8424e"/><stop offset=".884" stop-color="#f57547"/><stop offset=".945" stop-color="#fdbb6c"/><stop offset="1" stop-color="#fee18d"/></linearGradient>
<linearGradient id="g109"><stop offset="0" stop-color="#e85b48"/><stop offset=".035" stop-color="#d7414e"/><stop offset=".06" stop-color="#f57547"/><stop offset=".126" stop-color="#fdc070"/><stop offset=".151" stop-color="#fff0a6"/><stop offset=".166" stop-color="#fffebe"/><stop offset=".181" stop-color="#e8f69a"/><stop offset=".186" stop-color="#d6ef9b"/><stop offset=".191" stop-color="#70c6a5"/><stop offset=".201" stop-color="#4299b6"/><stop offset=".236" stop-color="#3288bd"/><stop offset=".271" stop-color="#3881ba"/><stop offset=".302" stop-color="#535da9"/><stop offset=".442" stop-color="#4f62ab"/><stop offset=".472" stop-color="#3288bd"/><stop offset=".503" stop-color="#4299b6"/><stop offset=".518" stop-color="#77c9a5"/><stop offset=".523" stop-color="#8ed2a4"/><stop offset=".528" stop-color="#d1ec9c"/><stop offset=".608" stop-color="#eaf79f"/><stop offset=".668" stop-color="#fffebd"/><stop offset=".719" stop-color="#fed380"/><stop offset=".774" stop-color="#f46d43"/><stop offset=".824" stop-color="#d6404e"/><stop offset=".884" stop-color="#f57547"/><stop offset=".945" stop-color="#fdbb6c"/><stop offset="1" stop-color="#fee18d"/></linearGradient>
<linearGradient id="g110"><stop offset="0" stop-color="#e85b48"/><stop offset=".03" stop-color="#da464d"/><stop offset=".04" stop-color="#db474d"/><stop offset=".055" stop-color="#f47044"/><stop offset=".126" stop-color="#fdc070"/><stop offset=".151" stop-color="#fff0a6"/><stop offset=".166" stop-color="#fffebe"/><stop offset=".176" stop-color="#f0f9a7"/><stop offset=".181" stop-color="#83cda5"/><stop offset=".191" stop-color="#4ba3b2"/><stop offset=".221" stop-color="#3288bd"/><stop offset=".271" stop-color="#3881ba"/><stop offset=".302" stop-color="#535da9"/><stop offset=".442" stop-color="#4f62ab"/><stop offset=".472" stop-color="#3288bd"/><stop offset=".508" stop-color="#3d94b8"/><stop offset=".518" stop-color="#459db4"/><stop offset=".533" stop-color="#7fcca5"/><stop offset=".538" stop-color="#d4ee9c"/><stop offset=".608" stop-color="#eaf79f"/><stop offset=".668" stop-color="#fffebd"/><stop offset=".719" stop-color="#fed380"/><stop offset=".774" stop-color="#f46d43"/><stop offset=".824" stop-color="#d53e4f"/><stop offset=".884" stop-color="#f57547"/><stop offset=".945" stop-color="#fdbb6c"/><stop offset="1" stop-color="#fee18d"/></linearGradient>
<linearGradient id="g111"><stop offset="0" stop-color="#e85b48"/><stop offset=".03" stop-color="#d9444d"/><stop offset=".035" stop-color="#d43d4f"/><stop offset=".06" stop-color="#f57547"/><stop offset=".126" stop-color="#fdc070"/><stop offset=".151" stop-color="#fff0a6"/><stop offset=".166" stop-color="#fffebe"/><stop offset=".171" stop-color="#f8fcb4"/><stop offset=".176" stop-color="#7ecba5"/><stop offset=".186" stop-color="#469fb4"/><stop offset=".216" stop-color="#3288bd"/><stop offset=".271" stop-color="#3881ba"/><stop offset=".302" stop-color="#535da9"/><stop offset=".442" stop-color="#4f62ab"/><stop offset=".472" stop-color="#3288bd"/><stop offset=".518" stop-color="#3a91b9"/><stop offset=".533" stop-color="#4da6b1"/><stop offset=".553" stop-color="#a4daa4"/><stop offset=".603" stop-color="#a4daa4"/><stop offset=".608" stop-color="#eaf79f"/><stop offset=".668" stop-color="#fffebd"/><stop offset=".719" stop-color="#fed380"/><stop offset=".774" stop-color="#f46d43"/><stop offset=".824" stop-color="#d23b4e"/><stop offset=".884" stop-color="#f57547"/><stop offset=".945" stop-color="#fdbb6c"/><stop offset="1" stop-color="#fee18d"/></linearGradient>
<linearGradient id="g112"><stop offset="0" stop-color="#e85b48"/><stop offset=".025" stop-color="#dd4a4c"/><stop offset=".035" stop-color="#d23b4e"/><stop offset=".055" stop-color="#f47044"/><stop offset=".126" stop-color="#fdc070"/><stop offset=".151" stop-color="#fff0a6"/><stop offset=".166" stop-color="#fffebe"/><stop offset=".171" stop-color="#78c9a5"/><stop offset=".181" stop-color="#429ab6"/><stop offset=".216" stop-color="#3288bd"/><stop offset=".271" stop-color="#3881ba"/><stop offset=".302" stop-color="#535da9"/><stop offset=".442" stop-color="#4f62ab"/><stop offset=".472" stop-color="#3288bd"/><stop offset=".528" stop-color="#378dbb"/><stop offset=".543" stop-color="#439bb5"/><stop offset=".558" stop-color="#7ccba5"/><stop offset=".563" stop-color="#a4daa4"/><stop offset=".603" stop-color="#a4daa4"/><stop offset=".608" stop-color="#eaf79f"/><stop offset=".668" stop-color="#fffebd"/><stop offset=".719" stop-color="#fed380"/><stop offset=".774" stop-color="#f46d43"/><stop offset=".824" stop-color="#d0394e"/><stop offset=".884" stop-color="#f57547"/><stop offset=".945" stop-color="#fdbb6c"/><stop offset="1" stop-color="#fee18d"/></linearGradient>
<linearGradient id="g113"><stop offset="0" stop-color="#e85b48"/><stop offset=".025" stop-color="#dd4a4c"/><stop offset=".035" stop-color="#d0394e"/><stop offset=".055" stop-color="#f47044"/><stop offset=".126" stop-color="#fdc070"/><stop offset=".151" stop-color="#fff0a6"/><stop offset=".161" stop-color="#fff9b6"/><stop offset=".166" stop-color="#88cfa5"/><stop offset=".176" stop-color="#4fa8b0"/><stop offset=".186" stop-color="#3e95b7"/><stop offset=".216" stop-color="#3288bd"/><stop offset=".271" stop-color="#3881ba"/><stop offset=".302" stop-color="#535da9"/><stop offset=".442" stop-color="#4f62ab"/><stop offset=".472" stop-color="#3288bd"/><stop offset=".533" stop-color="#368dbb"/><stop offset=".548" stop-color="#4299b6"/><stop offset=".563" stop-color="#7acaa5"/><stop offset=".568" stop-color="#a4daa4"/><stop offset=".603" stop-color="#a4daa4"/><stop offset=".608" stop-color="#eaf79f"/><stop offset=".668" stop-color="#fffebd"/><stop offset=".719" stop-color="#fed380"/><stop offset=".774" stop-color="#f46d43"/><stop offset=".824" stop-color="#ce364d"/><stop offset=".884" stop-color="#f57547"/><stop offset=".945" stop-color="#fdbb6c"/><stop offset="1" stop-color="#fee18d"/></linearGradient>
<linearGradient id="g114"><stop offset="0" stop-color="#e85b48"/><stop offset=".025" stop-color="#dc494c"/><stop offset=".035" stop-color="#cf374e"/><stop offset=".055" stop-color="#f47044"/><stop offset=".126" stop-color="#fdc070"/><stop offset=".151" stop-color="#fff0a6"/><stop offset=".161" stop-color="#fff9b6"/><stop offset=".166" stop-color="#88cfa5"/><stop offset=".176" stop-color="#4fa8b0"/><stop offset=".186" stop-color="#3e95b7"/><stop offset=".216" stop-color="#3288bd"/><stop offset=".271" stop-color="#3881ba"/><stop offset=".302" stop-color="#535da9"/><stop offset=".442" stop-color="#4f62ab"/><stop offset=".472" stop-color="#3288bd"/><stop offset=".533" stop-color="#368dbb"/><stop offset=".548" stop-color="#4299b6"/><stop offset=".563" stop-color="#7acaa5"/><stop offset=".568" stop-color="#a4daa4"/><stop offset=".603" stop-color="#a4daa4"/><stop offset=".608" stop-color="#eaf79f"/><stop offset=".668" stop-color="#fffebd"/><stop offset=".719" stop-color="#fed380"/><stop offset=".774" stop-color="#f46d43"/><stop offset=".824" stop-color="#cd354d"/><stop offset=".884" stop-color="#f57547"/><stop offset=".945" stop-color="#fdbb6c"/><stop offset="1" stop-color="#fee18d"/></linearGradient>
<linearGradient id="g115"><stop offset="0" stop-color="#e85b48"/><stop offset=".025" stop-color="#dc494c"/><stop offset=".035" stop-color="#ce364d"/><stop offset=".055" stop-color="#f47044"/><stop offset=".126" stop-color="#fdc070"/><stop offset=".151" stop-color="#fff0a6"/><stop offset=".161" stop-color="#fff9b6"/><stop offset=".166" stop-color="#88cfa5"/><stop offset=".176" stop-color="#4fa8b0"/><stop offset=".186" stop-color="#3e95b7"/><stop offset=".216" stop-color="#3288bd"/><stop offset=".271" stop-color="#3881ba"/><stop offset=".302" stop-color="#535da9"/><stop offset=".442" stop-color="#4f62ab"/><stop offset=".472" stop-color="#3288bd"/><stop offset=".533" stop-color="#368dbb"/><stop offset=".548" stop-color="#4299b6"/><stop offset=".563" stop-color="#7acaa5"/><stop offset=".568" stop-color="#a4daa4"/><stop offset=".603" stop-color="#a4daa4"/><stop offset=".608" stop-color="#eaf79f"/><stop offset=".668" stop-color="#fffebd"/><stop offset=".719" stop-color="#fed380"/><stop offset=".774" stop-color="#f46d43"/><stop offset=".824" stop-color="#cc344d"/><stop offset=".884" stop-color="#f57547"/><stop offset=".945" stop-color="#fdbb6c"/><stop offset="1" stop-color="#fee18d"/></linearGradient>
<linearGradient id="g116"><stop offset="0" stop-color="#e85b48"/><stop offset=".025" stop-color="#dc494c"/><stop offset=".035" stop-color="#ce364d"/><stop offset=".055" stop-color="#f47044"/><stop offset=".126" stop-color="#fdc070"/><stop offset=".151" stop-color="#fff0a6"/><stop offset=".161" stop-color="#fff9b6"/><stop offset=".166" stop-color="#88cfa5"/><stop offset=".176" stop-color="#4fa8b0"/><stop offset=".186" stop-color="#3e95b7"/><stop offset=".216" stop-color="#3288bd"/><stop offset=".271" stop-color="#3881ba"/><stop offset=".302" stop-color="#535da9"/><stop offset=".442" stop-color="#4f62ab"/><stop offset=".472" stop-color="#3288bd"/><stop offset=".533" stop-color="#368dbb"/><stop offset=".548" stop-color="#4299b6"/><stop offset=".563" stop-color="#7acaa5"/><stop offset=".568" stop-color="#a4daa4"/><stop offset=".603" stop-color="#a4daa4"/><stop offset=".608" stop-color="#eaf79f"/><stop offset=".668" stop-color="#fffebd"/><stop offset=".719" stop-color="#fed380"/><stop offset=".774" stop-color="#f46d43"/><stop offset=".824" stop-color="#cb334d"/><stop offset=".884" stop-color="#f57547"/><stop offset=".945" stop-color="#fdbb6c"/><stop offset="1" stop-color="#fee18d"/></linearGradient>
<linearGradient id="g117"><stop offset="0" stop-color="#e85b48"/><stop offset=".025" stop-color="#dc494c"/><stop offset=".035" stop-color="#cf374e"/><stop offset=".055" stop-color="#f47044"/><stop offset=".126" stop-color="#fdc070"/><stop offset=".151" stop-color="#fff0a6"/><stop offset=".161" stop-color="#fff9b6"/><stop offset=".166" stop-color="#88cfa5"/><stop offset=".176" stop-color="#4fa8b0"/><stop offset=".186" stop-color="#3e95b7"/><stop offset=".216" stop-color="#3288bd"/><stop offset=".271" stop-color="#3881ba"/><stop offset=".302" stop-color="#535da9"/><stop offset=".442" stop-color="#4f62ab"/><stop offset=".472" stop-color="#3288bd"/><stop offset=".533" stop-color="#368dbb"/><stop offset=".548" stop-color="#4299b6"/><stop offset=".563" stop-color="#7acaa5"/><stop offset=".568" stop-color="#a4daa4"/><stop offset=".603" stop-color="#a4daa4"/><stop offset=".608" stop-color="#eaf79f"/><stop offset=".668" stop-color="#fffebd"/><stop offset=".719" stop-color="#fed380"/><stop offset=".774" stop-color="#f46d43"/><stop offset=".824" stop-color="#cc344d"/><stop offset=".884" stop-color="#f57547"/><stop offset=".945" stop-color="#fdbb6c"/><stop offset="1" stop-color="#fee18d"/></linearGradient>
<linearGradient id="g118"><stop offset="0" stop-color="#e85b48"/><stop offset=".025" stop-color="#dd494c"/><stop offset=".035" stop-color="#d0394e"/><stop offset=".055" stop-color="#f47044"/><stop offset=".126" stop-color="#fdc070"/><stop offset=".151" stop-color="#fff0a6"/><stop offset=".161" stop-color="#fff9b6"/><stop offset=".166" stop-color="#88cfa5"/><stop offset=".176" stop-color="#4fa8b0"/><stop offset=".186" stop-color="#3e95b7"/><stop offset=".216" stop-color="#3288bd"/><stop offset=".271" stop-color="#3881ba"/><stop offset=".302" stop-color="#535da9"/><stop offset=".442" stop-color="#4f62ab"/><stop offset=".472" stop-color="#3288bd"/><stop offset=".533" stop-color="#368dbb"/><stop offset=".548" stop-color="#4299b6"/><stop offset=".563" stop-color="#7acaa5"/><stop offset=".568" stop-color="#a4daa4"/><stop offset=".603" stop-color="#a4daa4"/><stop offset=".608" stop-color="#eaf79f"/><stop offset=".668" stop-color="#fffebd"/><stop offset=".719" stop-color="#fed380"/><stop offset=".774" stop-color="#f46d43"/><stop offset=".824" stop-color="#ce364d"/><stop offset=".884" stop-color="#f57547"/><stop offset=".945" stop-color="#fdbb6c"/><stop offset="1" stop-color="#fee18d"/></linearGradient>
<linearGradient id="g119"><stop offset="0" stop-color="#e85b48"/><stop offset=".025" stop-color="#dd4a4c"/><stop offset=".035" stop-color="#d23a4e"/><stop offset=".055" stop-color="#f47044"/><stop offset=".126" stop-color="#fdc070"/><stop offset=".151" stop-color="#fff0a6"/><stop offset=".161" stop-color="#fff9b6"/><stop offset=".166" stop-color="#88cfa5"/><stop offset=".176" stop-color="#4fa8b0"/><stop offset=".186" stop-color="#3e95b7"/><stop offset=".216" stop-color="#3288bd"/><stop offset=".271" stop-color="#3881ba"/><stop offset=".302" stop-color="#535da9"/><stop offset=".442" stop-color="#4f62ab"/><stop offset=".472" stop-color="#3288bd"/><stop offset=".533" stop-color="#368dbb"/><stop offset=".548" stop-color="#4299b6"/><stop offset=".563" stop-color="#7acaa5"/><stop offset=".568" stop-color="#a4daa4"/><stop offset=".603" stop-color="#a4daa4"/><stop offset=".608" stop-color="#eaf79f"/><stop offset=".668" stop-color="#fffebd"/><stop offset=".719" stop-color="#fed380"/><stop offset=".774" stop-color="#f46d43"/><stop offset=".824" stop-color="#d0384e"/><stop offset=".884" stop-color="#f57547"/><stop offset=".945" stop-color="#fdbb6c"/><stop offset="1" stop-color="#fee18d"/></linearGradient>
<linearGradient id="g120"><stop offset="0" stop-color="#e85b48"/><stop offset=".03" stop-color="#d9444d"/><stop offset=".035" stop-color="#d43d4f"/><stop offset=".06" stop-color="#f57547"/><stop offset=".126" stop-color="#fdc070"/><stop offset=".151" stop-color="#fff0a6"/><stop offset=".166" stop-color="#fffebe"/><stop offset=".171" stop-color="#f8fcb4"/><stop offset=".176" stop-color="#7bcaa5"/><stop offset=".186" stop-color="#459db4"/><stop offset=".216" stop-color="#3288bd"/><stop offset=".271" stop-color="#3881ba"/><stop offset=".302" stop-color="#535da9"/><stop offset=".442" stop-color="#4f62ab"/><stop offset=".472" stop-color="#3288bd"/><stop offset=".513" stop-color="#368dbb"/><stop offset=".528" stop-color="#4299b6"/><stop offset=".543" stop-color="#79c9a5"/><stop offset=".548" stop-color="#d8ef9b"/><stop offset=".553" stop-color="#a4daa4"/><stop offset=".603" stop-color="#a4daa4"/><stop offset=".608" stop-color="#eaf79f"/><stop offset=".668" stop-color="#fffebd"/><stop offset=".719" stop-color="#fed380"/><stop offset=".774" stop-color="#f46d43"/><stop offset=".824" stop-color="#d23b4e"/><stop offset=".884" stop-color="#f57547"/><stop offset=".945" stop-color="#fdbb6c"/><stop offset="1" stop-color="#fee18d"/></linearGradient>
<linearGradient id="g121"><stop offset="0" stop-color="#e85b48"/><stop offset=".03" stop-color="#da454d"/><stop offset=".04" stop-color="#da464d"/><stop offset=".055" stop-color="#f47044"/><stop offset=".126" stop-color="#fdc070"/><stop offset=".151" stop-color="#fff0a6"/><stop offset=".166" stop-color="#fffebe"/><stop offset=".181" stop-color="#e8f69a"/><stop offset=".206" stop-color="#abdda4"/><stop offset=".211" stop-color="#aadda4"/><stop offset=".221" stop-color="#65c1a6"/><stop offset=".226" stop-color="#4ca5b1"/><stop offset=".251" stop-color="#3288bd"/><stop offset=".276" stop-color="#3d7ab6"/><stop offset=".302" stop-color="#535da9"/><stop offset=".442" stop-color="#4f62ab"/><stop offset=".462" stop-color="#3288bd"/><stop offset=".477" stop-color="#449cb5"/><stop offset=".492" stop-color="#7ecba5"/><stop offset=".497" stop-color="#c1e69f"/><stop offset=".608" stop-color="#eaf79f"/><stop offset=".668" stop-color="#fffebd"/><stop offset=".719" stop-color="#fed380"/><stop offset=".774" stop-color="#f46d43"/><stop offset=".824" stop-color="#d43d4f"/><stop offset=".884" stop-color="#f57547"/><stop offset=".945" stop-color="#fdbb6c"/><stop offset="1" stop-color="#fee18d"/></linearGradient>
<linearGradient id="g122"><stop offset="0" stop-color="#e85b48"/><stop offset=".035" stop-color="#d7414e"/><stop offset=".06" stop-color="#f57547"/><stop offset=".126" stop-color="#fdc070"/><stop offset=".151" stop-color="#fff0a6"/><stop offset=".166" stop-color="#fffebe"/><stop offset=".181" stop-color="#e8f69a"/><stop offset=".206" stop-color="#abdda4"/><stop offset=".221" stop-color="#a9dca4"/><stop offset=".231" stop-color="#69c3a5"/><stop offset=".241" stop-color="#4199b6"/><stop offset=".266" stop-color="#3486bc"/><stop offset=".302" stop-color="#535da9"/><stop offset=".437" stop-color="#525ea9"/><stop offset=".447" stop-color="#397eb8"/><stop offset=".462" stop-color="#4aa3b2"/><stop offset=".477" stop-color="#86cea5"/><stop offset=".482" stop-color="#b9e3a1"/><stop offset=".603" stop-color="#e9f69d"/><stop offset=".668" stop-color="#fffebd"/><stop offset=".719" stop-color="#fed380"/><stop offset=".774" stop-color="#f46d43"/><stop offset=".824" stop-color="#d6404f"/><stop offset=".884" stop-color="#f57547"/><stop offset=".945" stop-color="#fdbb6c"/><stop offset="1" stop-color="#fee18d"/></linearGradient>
<linearGradient id="g123"><stop offset="0" stop-color="#e85b48"/><stop offset=".035" stop-color="#d8434e"/><stop offset=".06" stop-color="#f57547"/><stop offset=".126" stop-color="#fdc070"/><stop offset=".151" stop-color="#fff0a6"/><stop offset=".166" stop-color="#fffebe"/><stop offset=".181" stop-color="#e8f69a"/><stop offset=".206" stop-color="#abdda4"/><stop offset=".226" stop-color="#a8dca4"/><stop offset=".231" stop-color="#76c8a5"/><stop offset=".241" stop-color="#4299b6"/><stop offset=".266" stop-color="#3486bc"/><stop offset=".302" stop-color="#535da9"/><stop offset=".432" stop-color="#5160aa"/><stop offset=".442" stop-color="#3782ba"/><stop offset=".457" stop-color="#51abaf"/><stop offset=".472" stop-color="#8fd2a4"/><stop offset=".477" stop-color="#b6e2a2"/><stop offset=".603" stop-color="#e9f69d"/><stop offset=".668" stop-color="#fffebd"/><stop offset=".719" stop-color="#fed380"/><stop offset=".774" stop-color="#f46d43"/><stop offset=".824" stop-color="#d7424e"/><stop offset=".884" stop-color="#f57547"/><stop offset=".945" stop-color="#fdbb6c"/><stop offset="1" stop-color="#fee18d"/></linearGradient>
<linearGradient id="g124"><stop offset="0" stop-color="#e85b48"/><stop offset=".035" stop-color="#d9454d"/><stop offset=".06" stop-color="#f57547"/><stop offset=".126" stop-color="#fdc070"/><stop offset=".151" stop-color="#fff0a6"/><stop offset=".166" stop-color="#fffebe"/><stop offset=".181" stop-color="#e8f69a"/><stop offset=".206" stop-color="#abdda4"/><stop offset=".226" stop-color="#a8dca4"/><stop offset=".236" stop-color="#64bfa6"/><stop offset=".241" stop-color="#4ba4b1"/><stop offset=".266" stop-color="#3486bc"/><stop offset=".302" stop-color="#535da9"/><stop offset=".427" stop-color="#4e64ac"/><stop offset=".437" stop-color="#3288bd"/><stop offset=".452" stop-color="#58b3ab"/><stop offset=".462" stop-color="#82cda5"/><stop offset=".467" stop-color="#b1dfa3"/><stop offset=".593" stop-color="#e6f599"/><stop offset=".668" stop-color="#fffebd"/><stop offset=".719" stop-color="#fed380"/><stop offset=".774" stop-color="#f46d43"/><stop offset=".819" stop-color="#da454d"/><stop offset=".879" stop-color="#f46d43"/><stop offset=".94" stop-color="#fdb769"/><stop offset="1" stop-color="#fee18d"/></linearGradient>
<linearGradient id="g125"><stop offset="0" stop-color="#e85b48"/><stop offset=".035" stop-color="#db464d"/><stop offset=".06" stop-color="#f57547"/><stop offset=".126" stop-color="#fdc070"/><stop offset=".151" stop-color="#fff0a6"/><stop offset=".166" stop-color="#fffebe"/><stop offset=".181" stop-color="#e8f69a"/><stop offset=".206" stop-color="#abdda4"/><stop offset=".231" stop-color="#a8dca4"/><stop offset=".236" stop-color="#70c6a5"/><stop offset=".246" stop-color="#4299b6"/><stop offset=".271" stop-color="#3881ba"/><stop offset=".302" stop-color="#535da9"/><stop offset=".417" stop-color="#525fa9"/><stop offset=".432" stop-color="#388eba"/><stop offset=".447" stop-color="#5fbba8"/><stop offset=".457" stop-color="#8bd1a4"/><stop offset=".462" stop-color="#aedea3"/><stop offset=".588" stop-color="#e5f598"/><stop offset=".668" stop-color="#fffebd"/><stop offset=".719" stop-color="#fed380"/><stop offset=".774" stop-color="#f46d43"/><stop offset=".819" stop-color="#db474d"/><stop offset=".879" stop-color="#f46d43"/><stop offset=".94" stop-color="#fdb769"/><stop offset="1" stop-color="#fee18d"/></linearGradient>
<linearGradient id="g126"><stop offset="0" stop-color="#e85b48"/><stop offset=".035" stop-color="#db484c"/><stop offset=".06" stop-color="#f57547"/><stop offset=".126" stop-color="#fdc070"/><stop offset=".151" stop-color="#fff0a6"/><stop offset=".166" stop-color="#fffebe"/><stop offset=".181" stop-color="#e8f69a"/><stop offset=".206" stop-color="#abdda4"/><stop offset=".231" stop-color="#a8dca4"/><stop offset=".236" stop-color="#71c6a5"/><stop offset=".246" stop-color="#4299b6"/><stop offset=".271" stop-color="#3881ba"/><stop offset=".302" stop-color="#535da9"/><stop offset=".417" stop-color="#5160aa"/><stop offset=".427" stop-color="#3880b9"/><stop offset=".437" stop-color="#4299b6"/><stop offset=".452" stop-color="#79c9a5"/><stop offset=".457" stop-color="#abdda4"/><stop offset=".583" stop-color="#e3f499"/><stop offset=".668" stop-color="#fffebd"/><stop offset=".719" stop-color="#fed380"/><stop offset=".774" stop-color="#f46d43"/><stop offset=".814" stop-color="#de4b4c"/><stop offset=".844" stop-color="#e2524a"/><stop offset=".884" stop-color="#f57547"/><stop offset=".945" stop-color="#fdbb6c"/><stop offset="1" stop-color="#fee18d"/></linearGradient>
<linearGradient id="g127"><stop offset="0" stop-color="#e85b48"/><stop offset=".035" stop-color="#dc494c"/><stop offset=".06" stop-color="#f57547"/><stop offset=".126" stop-color="#fdc070"/><stop offset=".151" stop-color="#fff0a6"/><stop offset=".166" stop-color="#fffebe"/><stop offset=".181" stop-color="#e8f69a"/><stop offset=".206" stop-color="#abdda4"/><stop offset=".231" stop-color="#a8dca4"/><stop offset=".236" stop-color="#71c6a5"/><stop offset=".246" stop-color="#4299b6"/><stop offset=".271" stop-color="#3881ba"/><stop offset=".302" stop-color="#535da9"/><stop offset=".417" stop-color="#5061aa"/><stop offset=".427" stop-color="#3781ba"/><stop offset=".437" stop-color="#4299b6"/><stop offset=".452" stop-color="#7acaa5"/><stop offset=".457" stop-color="#abdda4"/><stop offset=".583" stop-color="#e3f499"/><stop offset=".668" stop-color="#fffebd"/><stop offset=".719" stop-color="#fed380"/><stop offset=".774" stop-color="#f46d43"/><stop offset=".809" stop-color="#e04f4b"/><stop offset=".834" stop-color="#df4e4b"/><stop offset=".879" stop-color="#f46d43"/><stop offset=".94" stop-color="#fdb769"/><stop offset="1" stop-color="#fee18d"/></linearGradient>
<linearGradient id="g128"><stop offset="0" stop-color="#e85b48"/><stop offset=".035" stop-color="#dd4a4c"/><stop offset=".065" stop-color="#f67b49"/><stop offset=".131" stop-color="#feca79"/><stop offset=".151" stop-color="#fff0a6"/><stop offset=".166" stop-color="#fffebe"/><stop offset=".181" stop-color="#e8f69a"/><stop offset=".206" stop-color="#abdda4"/><stop offset=".231" stop-color="#a8dca4"/><stop offset=".236" stop-color="#71c6a5"/><stop offset=".246" stop-color="#4299b6"/><stop offset=".271" stop-color="#3881ba"/><stop offset=".302" stop-color="#535da9"/><stop offset=".417" stop-color="#5061ab"/><stop offset=".427" stop-color="#3683ba"/><stop offset=".437" stop-color="#429ab5"/><stop offset=".452" stop-color="#7ccaa5"/><stop offset=".457" stop-color="#abdda4"/><stop offset=".583" stop-color="#e3f499"/><stop offset=".668" stop-color="#fffebd"/><stop offset=".719" stop-color="#fed380"/><stop offset=".774" stop-color="#f46d43"/><stop offset=".809" stop-color="#e1504a"/><stop offset=".839" stop-color="#e2514a"/><stop offset=".884" stop-color="#f57547"/><stop offset=".945" stop-color="#fdbb6c"/><stop offset="1" stop-color="#fee18d"/></linearGradient>
<linearGradient id="g129"><stop offset="0" stop-color="#e85b48"/><stop offset=".035" stop-color="#dd4b4c"/><stop offset=".065" stop-color="#f67b49"/><stop offset=".131" stop-color="#feca79"/><stop offset=".151" stop-color="#fff0a6"/><stop offset=".166" stop-color="#fffebe"/><stop offset=".181" stop-color="#e8f69a"/><stop offset=".206" stop-color="#abdda4"/><stop offset=".231" stop-color="#a8dca4"/><stop offset=".236" stop-color="#71c6a5"/><stop offset=".246" stop-color="#4299b6"/><stop offset=".271" stop-color="#3881ba"/><stop offset=".302" stop-color="#535da9"/><stop offset=".417" stop-color="#4f62ab"/><stop offset=".427" stop-color="#3584bb"/><stop offset=".442" stop-color="#55afad"/><stop offset=".452" stop-color="#7dcba5"/><stop offset=".457" stop-color="#abdda4"/><stop offset=".583" stop-color="#e3f499"/><stop offset=".668" stop-color="#fffebd"/><stop offset=".719" stop-color="#fed380"/><stop offset=".774" stop-color="#f46d43"/><stop offset=".809" stop-color="#e1504a"/><stop offset=".839" stop-color="#e2524a"/><stop offset=".879" stop-color="#f46d43"/><stop offset=".94" stop-color="#fdb769"/><stop offset="1" stop-color="#fee18d"/></linearGradient>
<linearGradient id="g130"><stop offset="0" stop-color="#e85b48"/><stop offset=".035" stop-color="#de4b4c"/><stop offset=".065" stop-color="#f67b49"/><stop offset=".131" stop-color="#feca79"/><stop offset=".151" stop-color="#fff0a6"/><stop offset=".166" stop-color="#fffebe"/><stop offset=".181" stop-color="#e8f69a"/><stop offset=".206" stop-color="#abdda4"/><stop offset=".231" stop-color="#a8dca4"/><stop offset=".236" stop-color="#71c6a5"/><stop offset=".246" stop-color="#4299b6"/><stop offset=".271" stop-color="#3881ba"/><stop offset=".302" stop-color="#535da9"/><stop offset=".417" stop-color="#4f63ab"/><stop offset=".427" stop-color="#3485bc"/><stop offset=".442" stop-color="#56b0ac"/><stop offset=".452" stop-color="#7ecca5"/><stop offset=".457" stop-color="#abdda4"/><stop offset=".583" stop-color="#e3f499"/><stop offset=".668" stop-color="#fffebd"/><stop offset=".719" stop-color="#fed380"/><stop offset=".774" stop-color="#f46d43"/><stop offset=".804" stop-color="#e3534a"/><stop offset=".834" stop-color="#e1504a"/><stop offset=".879" stop-color="#f46d43"/><stop offset=".94" stop-color="#fdb769"/><stop offset="1" stop-color="#fee18d"/></linearGradient>
<linearGradient id="g131"><stop offset="0" stop-color="#e85b48"/><stop offset=".04" stop-color="#e2524a"/><stop offset=".065" stop-color="#f67b49"/><stop offset=".131" stop-color="#feca79"/><stop offset=".151" stop-color="#fff0a6"/><stop offset=".166" stop-color="#fffebe"/><stop offset=".181" stop-color="#e8f69a"/><stop offset=".206" stop-color="#abdda4"/><stop offset=".231" stop-color="#a8dca4"/><stop offset=".236" stop-color="#71c6a5"/><stop offset=".246" stop-color="#4299b6"/><stop offset=".271" stop-color="#3881ba"/><stop offset=".302" stop-color="#535da9"/><stop offset=".417" stop-color="#4e63ac"/><stop offset=".427" stop-color="#3486bc"/><stop offset=".442" stop-color="#57b1ac"/><stop offset=".452" stop-color="#80cca5"/><stop offset=".457" stop-color="#abdda4"/><stop offset=".583" stop-color="#e3f499"/><stop offset=".668" stop-color="#fffebd"/><stop offset=".719" stop-color="#fed380"/><stop offset=".774" stop-color="#f46d43"/><stop offset=".804" stop-color="#e3534a"/><stop offset=".834" stop-color="#e1504a"/><stop offset=".879" stop-color="#f46d43"/><stop offset=".94" stop-color="#fdb769"/><stop offset="1" stop-color="#fee18d"/></linearGradient>
<linearGradient id="g132"><stop offset="0" stop-color="#e85b48"/><stop offset=".04" stop-color="#e2524a"/><stop offset=".065" stop-color="#f67b49"/><stop offset=".131" stop-color="#feca79"/><stop offset=".151" stop-color="#fff0a6"/><stop offset=".166" stop-color="#fffebe"/><stop offset=".181" stop-color="#e8f69a"/><stop offset=".206" stop-color="#abdda4"/><stop offset=".231" stop-color="#a8dca4"/><stop offset=".236" stop-color="#71c6a5"/><stop offset=".246" stop-color="#4299b6"/><stop offset=".271" stop-color="#3881ba"/><stop offset=".302" stop-color="#535da9"/><stop offset=".417" stop-color="#4e64ac"/><stop offset=".427" stop-color="#3387bd"/><stop offset=".442" stop-color="#58b2ab"/><stop offset=".452" stop-color="#81cda5"/><stop offset=".457" stop-color="#abdda4"/><stop offset=".583" stop-color="#e3f499"/><stop offset=".668" stop-color="#fffebd"/><stop offset=".719" stop-color="#fed380"/><stop offset=".774" stop-color="#f46d43"/><stop offset=".804" stop-color="#e3534a"/><stop offset=".834" stop-color="#e1504a"/><stop offset=".879" stop-color="#f46d43"/><stop offset=".94" stop-color="#fdb769"/><stop offset="1" stop-color="#fee18d"/></linearGradient>
<linearGradient id="g133"><stop offset="0" stop-color="#e85b48"/><stop offset=".04" stop-color="#e2524a"/><stop offset=".065" stop-color="#f67b49"/><stop offset=".131" stop-color="#feca79"/><stop offset=".151" stop-color="#fff0a6"/><stop offset=".166" stop-color="#fffebe"/><stop offset=".181" stop-color="#e8f69a"/><stop offset=".206" stop-color="#abdda4"/><stop offset=".231" stop-color="#a8dca4"/><stop offset=".236" stop-color="#71c6a5"/><stop offset=".246" stop-color="#4299b6"/><stop offset=".271" stop-color="#3881ba"/><stop offset=".302" stop-color="#535da9"/><stop offset=".412" stop-color="#535da9"/><stop offset=".427" stop-color="#3288bd"/><stop offset=".442" stop-color="#59b4ab"/><stop offset=".452" stop-color="#83cda5"/><stop offset=".457" stop-color="#abdda4"/><stop offset=".583" stop-color="#e3f499"/><stop offset=".668" stop-color="#fffebd"/><stop offset=".719" stop-color="#fed380"/><stop offset=".774" stop-color="#f46d43"/><stop offset=".804" stop-color="#e3534a"/><stop offset=".839" stop-color="#e3534a"/><stop offset=".879" stop-color="#f46d43"/><stop offset=".94" stop-color="#fdb769"/><stop offset="1" stop-color="#fee18d"/></linearGradient>
<linearGradient id="g134"><stop offset="0" stop-color="#e85b48"/><stop offset=".04" stop-color="#e2524a"/><stop offset=".065" stop-color="#f67b49"/><stop offset=".131" stop-color="#feca79"/><stop offset=".151" stop-color="#fff0a6"/><stop offset=".166" stop-color="#fffebe"/><stop offset=".181" stop-color="#e8f69a"/><stop offset=".206" stop-color="#abdda4"/><stop offset=".231" stop-color="#a8dca4"/><stop offset=".236" stop-color="#71c6a5"/><stop offset=".246" stop-color="#4299b6"/><stop offset=".271" stop-color="#3781ba"/><stop offset=".302" stop-color="#5061aa"/><stop offset=".412" stop-color="#5061aa"/><stop offset=".427" stop-color="#348abc"/><stop offset=".442" stop-color="#5ab5aa"/><stop offset=".452" stop-color="#84cea5"/><stop offset=".457" stop-color="#abdda4"/><stop offset=".583" stop-color="#e3f499"/><stop offset=".668" stop-color="#fffebd"/><stop offset=".719" stop-color="#fed380"/><stop offset=".774" stop-color="#f46d43"/><stop offset=".804" stop-color="#e3544a"/><stop offset=".839" stop-color="#e3534a"/><stop offset=".879" stop-color="#f46d43"/><stop offset=".94" stop-color="#fdb769"/><stop offset="1" stop-color="#fee18d"/></linearGradient>
<linearGradient id="g135"><stop offset="0" stop-color="#e85b48"/><stop offset=".04" stop-color="#e3534a"/><stop offset=".065" stop-color="#f67b49"/><stop offset=".131" stop-color="#feca79"/><stop offset=".151" stop-color="#fff0a6"/><stop offset=".166" stop-color="#fffebe"/><stop offset=".181" stop-color="#e8f69a"/><stop offset=".206" stop-color="#abdda4"/><stop offset=".231" stop-color="#a8dca4"/><stop offset=".236" stop-color="#71c6a5"/><stop offset=".246" stop-color="#4299b6"/><stop offset=".271" stop-color="#3584bb"/><stop offset=".312" stop-color="#4273b3"/><stop offset=".417" stop-color="#3e79b6"/><stop offset=".427" stop-color="#3990ba"/><stop offset=".442" stop-color="#5bb6aa"/><stop offset=".452" stop-color="#86cea5"/><stop offset=".457" stop-color="#abdda4"/><stop offset=".583" stop-color="#e3f499"/><stop offset=".668" stop-color="#fffebd"/><stop offset=".719" stop-color="#fed380"/><stop offset=".774" stop-color="#f46d43"/><stop offset=".804" stop-color="#e35449"/><stop offset=".839" stop-color="#e3534a"/><stop offset=".879" stop-color="#f46d43"/><stop offset=".94" stop-color="#fdb769"/><stop offset="1" stop-color="#fee18d"/></linearGradient>
<linearGradient id="g136"><stop offset="0" stop-color="#e85b48"/><stop offset=".04" stop-color="#e3534a"/><stop offset=".065" stop-color="#f67b49"/><stop offset=".131" stop-color="#feca79"/><stop offset=".151" stop-color="#fff0a6"/><stop offset=".166" stop-color="#fffebe"/><stop offset=".181" stop-color="#e8f69a"/><stop offset=".206" stop-color="#abdda4"/><stop offset=".231" stop-color="#a8dca4"/><stop offset=".236" stop-color="#71c6a5"/><stop offset=".246" stop-color="#4299b6"/><stop offset=".276" stop-color="#3485bc"/><stop offset=".417" stop-color="#3583bb"/><stop offset=".437" stop-color="#4ba3b2"/><stop offset=".452" stop-color="#87cfa5"/><stop offset=".457" stop-color="#abdda4"/><stop offset=".583" stop-color="#e3f499"/><stop offset=".668" stop-color="#fffebd"/><stop offset=".719" stop-color="#fed380"/><stop offset=".774" stop-color="#f46d43"/><stop offset=".804" stop-color="#e35449"/><stop offset=".839" stop-color="#e3534a"/><stop offset=".879" stop-color="#f46d43"/><stop offset=".94" stop-color="#fdb769"/><stop offset="1" stop-color="#fee18d"/></linearGradient>
<linearGradient id="g137"><stop offset="0" stop-color="#5e4fa2"/><stop offset=".395" stop-color="#5e4fa2"/><stop offset=".4" stop-color="#4075b4"/><stop offset=".405" stop-color="#348abc"/><stop offset=".455" stop-color="#59b3ab"/><stop offset=".53" stop-color="#b9e3a1"/><stop offset=".6" stop-color="#e9f69d"/><stop offset=".68" stop-color="#f9fdb6"/><stop offset=".69" stop-color="#fffcbb"/><stop offset=".73" stop-color="#fdb567"/><stop offset=".76" stop-color="#ed6346"/><stop offset=".765" stop-color="#e55649"/><stop offset=".775" stop-color="#9f0242"/><stop offset="1" stop-color="#9e0142"/></linearGradient>
<linearGradient id="g138"><stop offset="0" stop-color="#5e4fa2"/><stop offset=".385" stop-color="#5c52a3"/><stop offset=".39" stop-color="#3288bd"/><stop offset=".445" stop-color="#58b3ab"/><stop offset=".515" stop-color="#b0dfa3"/><stop offset=".585" stop-color="#e6f598"/><stop offset=".68" stop-color="#fafdb8"/><stop offset=".685" stop-color="#ffffbe"/><stop offset=".725" stop-color="#fdbb6c"/><stop offset=".755" stop-color="#f36c43"/><stop offset=".765" stop-color="#e3534a"/><stop offset=".775" stop-color="#9e0142"/><stop offset="1" stop-color="#9e0142"/></linearGradient>
<linearGradient id="g139"><stop offset="0" stop-color="#5e4fa2"/><stop offset=".37" stop-color="#5e4fa2"/><stop offset=".375" stop-color="#3682ba"/><stop offset=".43" stop-color="#55afad"/><stop offset=".485" stop-color="#97d5a4"/><stop offset=".55" stop-color="#d5ee9b"/><stop offset=".62" stop-color="#eef8a5"/><stop offset=".675" stop-color="#f9fcb5"/><stop offset=".685" stop-color="#fffdbb"/><stop offset=".72" stop-color="#fdc171"/><stop offset=".755" stop-color="#f26a44"/><stop offset=".765" stop-color="#df4e4b"/><stop offset=".775" stop-color="#9e0142"/><stop offset="1" stop-color="#9e0142"/></linearGradient>
<linearGradient id="g140"><stop offset="0" stop-color="#5e4fa2"/><stop offset=".355" stop-color="#5e4fa2"/><stop offset=".36" stop-color="#3f77b5"/><stop offset=".365" stop-color="#348abc"/><stop offset=".425" stop-color="#5bb6aa"/><stop offset=".53" stop-color="#cdeb9d"/><stop offset=".595" stop-color="#ebf7a0"/><stop offset=".675" stop-color="#fbfdb9"/><stop offset=".685" stop-color="#fffab7"/><stop offset=".715" stop-color="#fdc675"/><stop offset=".755" stop-color="#f06744"/><stop offset=".765" stop-color="#dc494c"/><stop offset=".77" stop-color="#b81e48"/><stop offset=".775" stop-color="#9e0142"/><stop offset="1" stop-color="#9e0142"/></linearGradient>
<linearGradient id="g141"><stop offset="0" stop-color="#5e4fa2"/><stop offset=".34" stop-color="#5e4fa2"/><stop offset=".35" stop-color="#3389bc"/><stop offset=".41" stop-color="#58b3ab"/><stop offset=".485" stop-color="#addea4"/><stop offset=".56" stop-color="#e3f499"/><stop offset=".67" stop-color="#f9fdb6"/><stop offset=".68" stop-color="#fffdbb"/><stop offset=".715" stop-color="#fdc272"/><stop offset=".755" stop-color="#ef6545"/><stop offset=".765" stop-color="#d9444e"/><stop offset=".77" stop-color="#b21747"/><stop offset=".775" stop-color="#9e0142"/><stop offset="1" stop-color="#9e0142"/></linearGradient>
<linearGradient id="g142"><stop offset="0" stop-color="#5e4fa2"/><stop offset=".325" stop-color="#5e4fa2"/><stop offset=".33" stop-color="#5061aa"/><stop offset=".335" stop-color="#3389bd"/><stop offset=".4" stop-color="#5ab4ab"/><stop offset=".505" stop-color="#c8e99e"/><stop offset=".58" stop-color="#ebf79f"/><stop offset=".67" stop-color="#fbfeb9"/><stop offset=".68" stop-color="#fffab7"/><stop offset=".71" stop-color="#fec776"/><stop offset=".75" stop-color="#f46e43"/><stop offset=".76" stop-color="#e75948"/><stop offset=".765" stop-color="#d63f4f"/><stop offset=".77" stop-color="#ac1145"/><stop offset=".775" stop-color="#9e0142"/><stop offset="1" stop-color="#9e0142"/></linearGradient>
<linearGradient id="g143"><stop offset="0" stop-color="#5e4fa2"/><stop offset=".31" stop-color="#5e4fa2"/><stop offset=".315" stop-color="#5857a6"/><stop offset=".32" stop-color="#3288bd"/><stop offset=".385" stop-color="#57b2ac"/><stop offset=".465" stop-color="#acdda4"/><stop offset=".545" stop-color="#e2f499"/><stop offset=".665" stop-color="#fbfdb8"/><stop offset=".68" stop-color="#fff8b3"/><stop offset=".705" stop-color="#fecc7a"/><stop offset=".745" stop-color="#f67848"/><stop offset=".76" stop-color="#e65848"/><stop offset=".765" stop-color="#d0394e"/><stop offset=".77" stop-color="#a70a44"/><stop offset=".785" stop-color="#9e0142"/><stop offset="1" stop-color="#9e0142"/></linearGradient>
<linearGradient id="g144"><stop offset="0" stop-color="#5e4fa2"/><stop offset=".3" stop-color="#5d50a2"/><stop offset=".305" stop-color="#3288bd"/><stop offset=".375" stop-color="#5ab4ab"/><stop offset=".485" stop-color="#c8e99e"/><stop offset=".565" stop-color="#ebf7a0"/><stop offset=".66" stop-color="#fbfdb9"/><stop offset=".675" stop-color="#fffab7"/><stop offset=".705" stop-color="#fec877"/><stop offset=".75" stop-color="#f26944"/><stop offset=".76" stop-color="#e55649"/><stop offset=".765" stop-color="#cb324d"/><stop offset=".77" stop-color="#a10443"/><stop offset="1" stop-color="#9e0142"/></linearGradient>
<linearGradient id="g145"><stop offset="0" stop-color="#5e4fa2"/><stop offset=".285" stop-color="#5e4fa2"/><stop offset=".29" stop-color="#3485bc"/><stop offset=".36" stop-color="#58b2ac"/><stop offset=".445" stop-color="#aedea3"/><stop offset=".53" stop-color="#e4f498"/><stop offset=".655" stop-color="#fbfdb9"/><stop offset=".67" stop-color="#fffbb9"/><stop offset=".705" stop-color="#fdc574"/><stop offset=".75" stop-color="#f06744"/><stop offset=".76" stop-color="#e35449"/><stop offset=".77" stop-color="#9e0142"/><stop offset="1" stop-color="#9e0142"/></linearGradient>
<linearGradient id="g146"><stop offset="0" stop-color="#5e4fa2"/><stop offset=".27" stop-color="#5e4fa2"/><stop offset=".275" stop-color="#397eb8"/><stop offset=".295" stop-color="#3a91b9"/><stop offset=".355" stop-color="#5eb9a9"/><stop offset=".475" stop-color="#cdeb9d"/><stop offset=".545" stop-color="#eaf79f"/><stop offset=".655" stop-color="#fdfebc"/><stop offset=".675" stop-color="#fff4ad"/><stop offset=".7" stop-color="#fec978"/><stop offset=".75" stop-color="#ef6645"/><stop offset=".76" stop-color="#e04f4b"/><stop offset=".77" stop-color="#9e0142"/><stop offset="1" stop-color="#9e0142"/></linearGradient>
<linearGradient id="g147"><stop offset="0" stop-color="#5e4fa2"/><stop offset=".255" stop-color="#5e4fa2"/><stop offset=".265" stop-color="#3389bd"/><stop offset=".335" stop-color="#58b2ac"/><stop offset=".42" stop-color="#aadda4"/><stop offset=".5" stop-color="#def29a"/><stop offset=".65" stop-color="#fdfebc"/><stop offset=".67" stop-color="#fff9b4"/><stop offset=".695" stop-color="#fece7b"/><stop offset=".74" stop-color="#f67848"/><stop offset=".76" stop-color="#dd4a4c"/><stop offset=".77" stop-color="#9e0142"/><stop offset="1" stop-color="#9e0142"/></linearGradient>
<linearGradient id="g148"><stop offset="0" stop-color="#5e4fa2"/><stop offset=".245" stop-color="#5e4fa2"/><stop offset=".25" stop-color="#3387bc"/><stop offset=".325" stop-color="#58b2ab"/><stop offset=".415" stop-color="#aedea3"/><stop offset=".505" stop-color="#e4f498"/><stop offset=".66" stop-color="#fffcba"/><stop offset=".675" stop-color="#feeda1"/><stop offset=".7" stop-color="#fdc272"/><stop offset=".745" stop-color="#f26b44"/><stop offset=".755" stop-color="#e75a48"/><stop offset=".76" stop-color="#da454d"/><stop offset=".765" stop-color="#b31947"/><stop offset=".77" stop-color="#9e0142"/><stop offset="1" stop-color="#9e0142"/></linearGradient>
<linearGradient id="g149"><stop offset="0" stop-color="#5e4fa2"/><stop offset=".23" stop-color="#5e4fa2"/><stop offset=".24" stop-color="#3389bd"/><stop offset=".315" stop-color="#58b3ab"/><stop offset=".415" stop-color="#b5e1a2"/><stop offset=".51" stop-color="#e7f69a"/><stop offset=".655" stop-color="#fffdbb"/><stop offset=".67" stop-color="#fff1a8"/><stop offset=".69" stop-color="#fece7c"/><stop offset=".745" stop-color="#f16944"/><stop offset=".755" stop-color="#e75948"/><stop offset=".76" stop-color="#d6404e"/><stop offset=".765" stop-color="#ae1246"/><stop offset=".77" stop-color="#9e0142"/><stop offset="1" stop-color="#9e0142"/></linearGradient>
<linearGradient id="g150"><stop offset="0" stop-color="#5e4fa2"/><stop offset=".22" stop-color="#5e4fa2"/><stop offset=".225" stop-color="#3880b9"/><stop offset=".265" stop-color="#4198b6"/><stop offset=".35" stop-color="#82cda5"/><stop offset=".45" stop-color="#d1ec9c"/><stop offset=".53" stop-color="#ecf7a1"/><stop offset=".655" stop-color="#fffcba"/><stop offset=".67" stop-color="#feeda1"/><stop offset=".69" stop-color="#fecb79"/><stop offset=".745" stop-color="#f06744"/><stop offset=".755" stop-color="#e65848"/><stop offset=".76" stop-color="#d23a4e"/><stop offset=".765" stop-color="#a80c44"/><stop offset=".775" stop-color="#9e0142"/><stop offset="1" stop-color="#9e0142"/></linearGradient>
<linearGradient id="g151"><stop offset="0" stop-color="#5e4fa2"/><stop offset=".21" stop-color="#5c51a3"/><stop offset=".215" stop-color="#3288bd"/><stop offset=".29" stop-color="#58b2ac"/><stop offset=".375" stop-color="#a8dca4"/><stop offset=".455" stop-color="#dbf19a"/><stop offset=".605" stop-color="#f7fcb2"/><stop offset=".65" stop-color="#fffdbc"/><stop offset=".665" stop-color="#fff2aa"/><stop offset=".685" stop-color="#fed07d"/><stop offset=".745" stop-color="#ef6645"/><stop offset=".755" stop-color="#e55649"/><stop offset=".76" stop-color="#cc344d"/><stop offset=".765" stop-color="#a20643"/><stop offset="1" stop-color="#9e0142"/></linearGradient>
<linearGradient id="g152"><stop offset="0" stop-color="#5e4fa2"/><stop offset=".2" stop-color="#5b53a4"/><stop offset=".205" stop-color="#3288bd"/><stop offset=".275" stop-color="#58b2ab"/><stop offset=".365" stop-color="#b2e0a3"/><stop offset=".455" stop-color="#e7f59a"/><stop offset=".65" stop-color="#fffcbb"/><stop offset=".665" stop-color="#fff0a6"/><stop offset=".685" stop-color="#fecd7b"/><stop offset=".745" stop-color="#ee6545"/><stop offset=".755" stop-color="#e45549"/><stop offset=".765" stop-color="#9e0142"/><stop offset="1" stop-color="#9e0142"/></linearGradient>
<linearGradient id="g153"><stop offset="0" stop-color="#5e4fa2"/><stop offset=".19" stop-color="#5955a5"/><stop offset=".195" stop-color="#3288bd"/><stop offset=".26" stop-color="#59b3ab"/><stop offset=".345" stop-color="#b4e1a2"/><stop offset=".43" stop-color="#e8f69b"/><stop offset=".575" stop-color="#f7fcb2"/><stop offset=".65" stop-color="#fffcba"/><stop offset=".665" stop-color="#feeea2"/><stop offset=".685" stop-color="#fecb7a"/><stop offset=".74" stop-color="#f36b44"/><stop offset=".755" stop-color="#e1504a"/><stop offset=".765" stop-color="#9e0142"/><stop offset="1" stop-color="#9e0142"/></linearGradient>
<linearGradient id="g154"><stop offset="0" stop-color="#5e4fa2"/><stop offset=".175" stop-color="#5e4fa2"/><stop offset=".18" stop-color="#5857a6"/><stop offset=".185" stop-color="#3289bd"/><stop offset=".245" stop-color="#59b4ab"/><stop offset=".34" stop-color="#c6e89f"/><stop offset=".41" stop-color="#eaf79f"/><stop offset=".545" stop-color="#f7fcb2"/><stop offset=".635" stop-color="#fdfebc"/><stop offset=".655" stop-color="#fff9b5"/><stop offset=".68" stop-color="#fed07e"/><stop offset=".74" stop-color="#f26a44"/><stop offset=".755" stop-color="#de4b4c"/><stop offset=".765" stop-color="#9e0142"/><stop offset="1" stop-color="#9e0142"/></linearGradient>
<linearGradient id="g155"><stop offset="0" stop-color="#5e4fa2"/><stop offset=".17" stop-color="#5e4fa2"/><stop offset=".175" stop-color="#3386bc"/><stop offset=".23" stop-color="#59b3ab"/><stop offset=".31" stop-color="#bee5a0"/><stop offset=".38" stop-color="#eaf79e"/><stop offset=".5" stop-color="#f7fcb2"/><stop offset=".63" stop-color="#fcfebb"/><stop offset=".655" stop-color="#fff9b4"/><stop offset=".68" stop-color="#fece7c"/><stop offset=".74" stop-color="#f16844"/><stop offset=".75" stop-color="#e75a48"/><stop offset=".755" stop-color="#da464d"/><stop offset=".76" stop-color="#b51a47"/><stop offset=".765" stop-color="#9e0142"/><stop offset="1" stop-color="#9e0142"/></linearGradient>
<linearGradient id="g156"><stop offset="0" stop-color="#5e4fa2"/><stop offset=".16" stop-color="#5e4fa2"/><stop offset=".17" stop-color="#348abc"/><stop offset=".215" stop-color="#57b2ac"/><stop offset=".275" stop-color="#addea4"/><stop offset=".335" stop-color="#e3f499"/><stop offset=".455" stop-color="#f6fcb2"/><stop offset=".63" stop-color="#fdfebb"/><stop offset=".655" stop-color="#fff6b0"/><stop offset=".68" stop-color="#fecc7b"/><stop offset=".74" stop-color="#f06745"/><stop offset=".75" stop-color="#e75948"/><stop offset=".755" stop-color="#d7414e"/><stop offset=".76" stop-color="#af1446"/><stop offset=".765" stop-color="#9e0142"/><stop offset="1" stop-color="#9e0142"/></linearGradient>
<linearGradient id="g157"><stop offset="0" stop-color="#5e4fa2"/><stop offset=".15" stop-color="#5e4fa2"/><stop offset=".155" stop-color="#545ca8"/><stop offset=".16" stop-color="#3389bd"/><stop offset=".205" stop-color="#5cb7a9"/><stop offset=".28" stop-color="#ccea9d"/><stop offset=".33" stop-color="#ebf7a1"/><stop offset=".43" stop-color="#f6fcb2"/><stop offset=".625" stop-color="#fbfeba"/><stop offset=".65" stop-color="#fffab6"/><stop offset=".675" stop-color="#fed17f"/><stop offset=".73" stop-color="#f57748"/><stop offset=".75" stop-color="#e65848"/><stop offset=".755" stop-color="#d33c4f"/><stop offset=".76" stop-color="#a90e45"/><stop offset=".77" stop-color="#9e0142"/><stop offset="1" stop-color="#9e0142"/></linearGradient>
<linearGradient id="g158"><stop offset="0" stop-color="#5e4fa2"/><stop offset=".145" stop-color="#5e4fa2"/><stop offset=".15" stop-color="#3683bb"/><stop offset=".185" stop-color="#54adad"/><stop offset=".22" stop-color="#92d3a4"/><stop offset=".265" stop-color="#d3ed9c"/><stop offset=".31" stop-color="#edf8a3"/><stop offset=".4" stop-color="#f6fcb2"/><stop offset=".625" stop-color="#fcfeba"/><stop offset=".65" stop-color="#fff9b5"/><stop offset=".675" stop-color="#fecf7d"/><stop offset=".735" stop-color="#f36c43"/><stop offset=".75" stop-color="#e55749"/><stop offset=".755" stop-color="#cd354d"/><stop offset=".76" stop-color="#a40743"/><stop offset="1" stop-color="#9e0142"/></linearGradient>
<linearGradient id="g159"><stop offset="0" stop-color="#5e4fa2"/><stop offset=".135" stop-color="#5e4fa2"/><stop offset=".14" stop-color="#5659a7"/><stop offset=".145" stop-color="#3389bd"/><stop offset=".18" stop-color="#5db7a9"/><stop offset=".24" stop-color="#cceb9d"/><stop offset=".275" stop-color="#eaf79e"/><stop offset=".355" stop-color="#f6fcb2"/><stop offset=".625" stop-color="#fcfeba"/><stop offset=".65" stop-color="#fff9b5"/><stop offset=".675" stop-color="#fed07e"/><stop offset=".735" stop-color="#f36b43"/><stop offset=".75" stop-color="#e55649"/><stop offset=".76" stop-color="#9e0142"/><stop offset="1" stop-color="#9e0142"/></linearGradient>
<linearGradient id="g160"><stop offset="0" stop-color="#5e4fa2"/><stop offset=".13" stop-color="#5e4fa2"/><stop offset=".14" stop-color="#348bbc"/><stop offset=".175" stop-color="#67c2a5"/><stop offset=".22" stop-color="#c9e99e"/><stop offset=".255" stop-color="#eaf79e"/><stop offset=".33" stop-color="#f6fcb2"/><stop offset=".625" stop-color="#fbfdb9"/><stop offset=".65" stop-color="#fffab7"/><stop offset=".68" stop-color="#fecc7a"/><stop offset=".735" stop-color="#f36b43"/><stop offset=".75" stop-color="#e3534a"/><stop offset=".76" stop-color="#9e0142"/><stop offset="1" stop-color="#9e0142"/></linearGradient>
<linearGradient id="g161"><stop offset="0" stop-color="#5e4fa2"/><stop offset=".125" stop-color="#5e4fa2"/><stop offset=".13" stop-color="#4274b3"/><stop offset=".135" stop-color="#368cbb"/><stop offset=".165" stop-color="#69c3a5"/><stop offset=".205" stop-color="#caea9e"/><stop offset=".235" stop-color="#eaf79e"/><stop offset=".305" stop-color="#f6fcb2"/><stop offset=".63" stop-color="#fcfeba"/><stop offset=".655" stop-color="#fff9b5"/><stop offset=".68" stop-color="#fece7c"/><stop offset=".735" stop-color="#f36b43"/><stop offset=".75" stop-color="#e04f4b"/><stop offset=".76" stop-color="#9e0142"/><stop offset="1" stop-color="#9e0142"/></linearGradient>
<linearGradient id="g162"><stop offset="0" stop-color="#5e4fa2"/><stop offset=".12" stop-color="#5e4fa2"/><stop offset=".125" stop-color="#3881ba"/><stop offset=".145" stop-color="#53adae"/><stop offset=".165" stop-color="#8cd1a4"/><stop offset=".195" stop-color="#d3ed9c"/><stop offset=".225" stop-color="#eef8a4"/><stop offset=".285" stop-color="#f6fcb2"/><stop offset=".63" stop-color="#fbfeb9"/><stop offset=".655" stop-color="#fffab6"/><stop offset=".685" stop-color="#feca78"/><stop offset=".735" stop-color="#f36b43"/><stop offset=".75" stop-color="#dd4b4c"/><stop offset=".76" stop-color="#9e0142"/><stop offset="1" stop-color="#9e0142"/></linearGradient>
<linearGradient id="g163"><stop offset="0" stop-color="#5e4fa2"/><stop offset=".115" stop-color="#5e4fa2"/><stop offset=".12" stop-color="#3e78b5"/><stop offset=".125" stop-color="#398fba"/><stop offset=".15" stop-color="#7dcba5"/><stop offset=".175" stop-color="#cbea9d"/><stop offset=".195" stop-color="#e9f69d"/><stop offset=".245" stop-color="#f6fcb1"/><stop offset=".63" stop-color="#fbfdb8"/><stop offset=".655" stop-color="#fffab7"/><stop offset=".69" stop-color="#fdc574"/><stop offset=".735" stop-color="#f36c43"/><stop offset=".745" stop-color="#e85b48"/><stop offset=".75" stop-color="#db474d"/><stop offset=".755" stop-color="#b61b48"/><stop offset=".76" stop-color="#9e0142"/><stop offset="1" stop-color="#9e0142"/></linearGradient>
<linearGradient id="g164"><stop offset="0" stop-color="#5e4fa2"/><stop offset=".11" stop-color="#5e4fa2"/><stop offset=".12" stop-color="#3990ba"/><stop offset=".14" stop-color="#7dcba5"/><stop offset=".16" stop-color="#caea9e"/><stop offset=".18" stop-color="#ebf7a0"/><stop offset=".225" stop-color="#f6fcb1"/><stop offset=".635" stop-color="#fcfeba"/><stop offset=".66" stop-color="#fff9b5"/><stop offset=".69" stop-color="#fec776"/><stop offset=".735" stop-color="#f36c43"/><stop offset=".745" stop-color="#e75a48"/><stop offset=".75" stop-color="#d8434e"/><stop offset=".755" stop-color="#b11646"/><stop offset=".76" stop-color="#9e0142"/><stop offset="1" stop-color="#9e0142"/></linearGradient>
<linearGradient id="g165"><stop offset="0" stop-color="#5e4fa2"/><stop offset=".105" stop-color="#5e4fa2"/><stop offset=".11" stop-color="#4f63ab"/><stop offset=".115" stop-color="#3990ba"/><stop offset=".13" stop-color="#7dcba5"/><stop offset=".145" stop-color="#c8e99e"/><stop offset=".16" stop-color="#eaf79f"/><stop offset=".195" stop-color="#f6fcb1"/><stop offset=".635" stop-color="#fbfdb9"/><stop offset=".66" stop-color="#fffab7"/><stop offset=".695" stop-color="#fdc272"/><stop offset=".735" stop-color="#f36c43"/><stop offset=".745" stop-color="#e75948"/><stop offset=".75" stop-color="#d63f4f"/><stop offset=".755" stop-color="#ac1145"/><stop offset=".76" stop-color="#9e0142"/><stop offset="1" stop-color="#9e0142"/></linearGradient>
<linearGradient id="g166"><stop offset="0" stop-color="#5e4fa2"/><stop offset=".1" stop-color="#5e4fa2"/><stop offset=".105" stop-color="#5758a6"/><stop offset=".11" stop-color="#3990ba"/><stop offset=".12" stop-color="#79caa5"/><stop offset=".13" stop-color="#bee5a0"/><stop offset=".14" stop-color="#e5f598"/><stop offset=".17" stop-color="#f6fcb1"/><stop offset=".64" stop-color="#fcfeba"/><stop offset=".665" stop-color="#fff9b5"/><stop offset=".695" stop-color="#fdc574"/><stop offset=".735" stop-color="#f36c43"/><stop offset=".745" stop-color="#e65848"/><stop offset=".75" stop-color="#d13a4e"/><stop offset=".755" stop-color="#a80c44"/><stop offset=".765" stop-color="#9e0142"/><stop offset="1" stop-color="#9e0142"/></linearGradient>
<linearGradient id="g167"><stop offset="0" stop-color="#5e4fa2"/><stop offset=".1" stop-color="#5e4fa2"/><stop offset=".105" stop-color="#3389bd"/><stop offset=".115" stop-color="#76c8a5"/><stop offset=".125" stop-color="#bde4a0"/><stop offset=".135" stop-color="#e6f598"/><stop offset=".165" stop-color="#f6fcb1"/><stop offset=".64" stop-color="#fbfeb9"/><stop offset=".665" stop-color="#fffab6"/><stop offset=".7" stop-color="#fdbf6f"/><stop offset=".735" stop-color="#f36c43"/><stop offset=".745" stop-color="#e55749"/><stop offset=".75" stop-color="#cd354d"/><stop offset=".755" stop-color="#a30643"/><stop offset="1" stop-color="#9e0142"/></linearGradient>
<linearGradient id="g168"><stop offset="0" stop-color="#5e4fa2"/><stop offset=".095" stop-color="#5e4fa2"/><stop offset=".1" stop-color="#3a7eb8"/><stop offset=".105" stop-color="#50a9af"/><stop offset=".115" stop-color="#99d6a4"/><stop offset=".125" stop-color="#d3ed9c"/><stop offset=".135" stop-color="#ecf7a1"/><stop offset=".17" stop-color="#f6fcb1"/><stop offset=".64" stop-color="#fbfdb8"/><stop offset=".665" stop-color="#fffbb8"/><stop offset=".705" stop-color="#fdb96a"/><stop offset=".735" stop-color="#f46c43"/><stop offset=".745" stop-color="#e55649"/><stop offset=".755" stop-color="#9e0142"/><stop offset="1" stop-color="#9e0142"/></linearGradient>
<linearGradient id="g169"><stop offset="0" stop-color="#5e4fa2"/><stop offset=".09" stop-color="#5e4fa2"/><stop offset=".095" stop-color="#4273b3"/><stop offset=".1" stop-color="#4ca5b1"/><stop offset=".105" stop-color="#6dc5a5"/><stop offset=".115" stop-color="#bae3a1"/><stop offset=".125" stop-color="#e6f598"/><stop offset=".155" stop-color="#f6fcb1"/><stop offset=".645" stop-color="#fcfeba"/><stop offset=".67" stop-color="#fff9b6"/><stop offset=".705" stop-color="#fdbc6c"/><stop offset=".735" stop-color="#f46c43"/><stop offset=".745" stop-color="#e3534a"/><stop offset=".755" stop-color="#9e0142"/><stop offset="1" stop-color="#9e0142"/></linearGradient>
<linearGradient id="g170"><stop offset="0" stop-color="#5e4fa2"/><stop offset=".085" stop-color="#5e4fa2"/><stop offset=".09" stop-color="#4d65ac"/><stop offset=".095" stop-color="#459eb4"/><stop offset=".1" stop-color="#67c2a5"/><stop offset=".11" stop-color="#b7e2a2"/><stop offset=".12" stop-color="#e6f598"/><stop offset=".145" stop-color="#f6fcb1"/><stop offset=".645" stop-color="#fbfdb9"/><stop offset=".67" stop-color="#fffab7"/><stop offset=".705" stop-color="#fdbf6f"/><stop offset=".73" stop-color="#f67e4b"/><stop offset=".74" stop-color="#eb6046"/><stop offset=".745" stop-color="#e04f4b"/><stop offset=".755" stop-color="#9e0142"/><stop offset="1" stop-color="#9e0142"/></linearGradient>
<linearGradient id="g171"><stop offset="0" stop-color="#5e4fa2"/><stop offset=".085" stop-color="#5e4fa2"/><stop offset=".09" stop-color="#3389bc"/><stop offset=".095" stop-color="#5cb7aa"/><stop offset=".11" stop-color="#ceeb9d"/><stop offset=".12" stop-color="#ecf7a1"/><stop offset=".15" stop-color="#f6fcb1"/><stop offset=".65" stop-color="#fcfeba"/><stop offset=".675" stop-color="#fff9b5"/><stop offset=".715" stop-color="#fdad60"/><stop offset=".735" stop-color="#f46d43"/><stop offset=".745" stop-color="#dd4b4c"/><stop offset=".755" stop-color="#9e0142"/><stop offset="1" stop-color="#9e0142"/></linearGradient>
<linearGradient id="g172"><stop offset="0" stop-color="#5e4fa2"/><stop offset=".08" stop-color="#5e4fa2"/><stop offset=".085" stop-color="#4372b3"/><stop offset=".09" stop-color="#51aaaf"/><stop offset=".1" stop-color="#a4daa4"/><stop offset=".105" stop-color="#c9e99e"/><stop offset=".115" stop-color="#ebf7a0"/><stop offset=".145" stop-color="#f6fcb1"/><stop offset=".65" stop-color="#fbfdb9"/><stop offset=".675" stop-color="#fffab6"/><stop offset=".71" stop-color="#fdbb6c"/><stop offset=".73" stop-color="#f7824d"/><stop offset=".74" stop-color="#ea5e47"/><stop offset=".745" stop-color="#db474d"/><stop offset=".75" stop-color="#b51b48"/><stop offset=".755" stop-color="#9e0142"/><stop offset="1" stop-color="#9e0142"/></linearGradient>
<linearGradient id="g173"><stop offset="0" stop-color="#5e4fa2"/><stop offset=".075" stop-color="#5e4fa2"/><stop offset=".08" stop-color="#555ba8"/><stop offset=".085" stop-color="#439bb5"/><stop offset=".09" stop-color="#6ac4a5"/><stop offset=".1" stop-color="#c1e6a0"/><stop offset=".11" stop-color="#eaf79f"/><stop offset=".14" stop-color="#f6fcb1"/><stop offset=".65" stop-color="#fbfdb8"/><stop offset=".675" stop-color="#fffab7"/><stop offset=".7" stop-color="#fed481"/><stop offset=".73" stop-color="#f7834d"/><stop offset=".735" stop-color="#f46d43"/><stop offset=".745" stop-color="#d8434e"/><stop offset=".75" stop-color="#b11646"/><stop offset=".755" stop-color="#9e0142"/><stop offset="1" stop-color="#9e0142"/></linearGradient>
<linearGradient id="g174"><stop offset="0" stop-color="#5e4fa2"/><stop offset=".075" stop-color="#5e4fa2"/><stop offset=".08" stop-color="#3c7bb7"/><stop offset=".085" stop-color="#5bb5aa"/><stop offset=".095" stop-color="#b5e1a2"/><stop offset=".105" stop-color="#e8f69b"/><stop offset=".13" stop-color="#f6fcb1"/><stop offset=".655" stop-color="#fcfeba"/><stop offset=".68" stop-color="#fff9b5"/><stop offset=".71" stop-color="#fdc070"/><stop offset=".73" stop-color="#f7844e"/><stop offset=".735" stop-color="#f46d43"/><stop offset=".745" stop-color="#d63f4f"/><stop offset=".75" stop-color="#ac1145"/><stop offset=".755" stop-color="#9e0142"/><stop offset="1" stop-color="#9e0142"/></linearGradient>
<linearGradient id="g175"><stop offset="0" stop-color="#5e4fa2"/><stop offset=".07" stop-color="#5e4fa2"/><stop offset=".075" stop-color="#5758a6"/><stop offset=".08" stop-color="#459eb4"/><stop offset=".085" stop-color="#70c6a5"/><stop offset=".095" stop-color="#caea9e"/><stop offset=".105" stop-color="#ecf7a2"/><stop offset=".13" stop-color="#f6fcb1"/><stop offset=".655" stop-color="#fbfeb9"/><stop offset=".68" stop-color="#fffab6"/><stop offset=".71" stop-color="#fdc272"/><stop offset=".73" stop-color="#f7864f"/><stop offset=".735" stop-color="#f46d43"/><stop offset=".745" stop-color="#d13a4e"/><stop offset=".75" stop-color="#a70c44"/><stop offset=".76" stop-color="#9e0142"/><stop offset="1" stop-color="#9e0142"/></linearGradient>
<linearGradient id="g176"><stop offset="0" stop-color="#5e4fa2"/><stop offset=".07" stop-color="#5e4fa2"/><stop offset=".075" stop-color="#4471b2"/><stop offset=".08" stop-color="#59b3ab"/><stop offset=".09" stop-color="#bae3a1"/><stop offset=".1" stop-color="#ebf79f"/><stop offset=".125" stop-color="#f6fcb1"/><stop offset=".655" stop-color="#fbfdb9"/><stop offset=".68" stop-color="#fffab7"/><stop offset=".705" stop-color="#fed27f"/><stop offset=".73" stop-color="#f8884f"/><stop offset=".735" stop-color="#f46c43"/><stop offset=".74" stop-color="#e65848"/><stop offset=".745" stop-color="#cd354d"/><stop offset=".75" stop-color="#a30643"/><stop offset="1" stop-color="#9e0142"/></linearGradient>
<linearGradient id="g177"><stop offset="0" stop-color="#5e4fa2"/><stop offset=".07" stop-color="#5e4fa2"/><stop offset=".075" stop-color="#378dbb"/><stop offset=".08" stop-color="#70c6a5"/><stop offset=".09" stop-color="#ceeb9d"/><stop offset=".095" stop-color="#e7f599"/><stop offset=".12" stop-color="#f6fcb1"/><stop offset=".66" stop-color="#fcfeba"/><stop offset=".685" stop-color="#fff9b5"/><stop offset=".71" stop-color="#fec977"/><stop offset=".73" stop-color="#f88a50"/><stop offset=".735" stop-color="#f36c43"/><stop offset=".74" stop-color="#e55649"/><stop offset=".75" stop-color="#9e0142"/><stop offset="1" stop-color="#9e0142"/></linearGradient>
<linearGradient id="g178"><stop offset="0" stop-color="#5e4fa2"/><stop offset=".065" stop-color="#5e4fa2"/><stop offset=".07" stop-color="#565aa7"/><stop offset=".075" stop-color="#4ea7b0"/><stop offset=".08" stop-color="#81cca5"/><stop offset=".085" stop-color="#b5e1a2"/><stop offset=".09" stop-color="#d8ef9b"/><stop offset=".095" stop-color="#ebf7a0"/><stop offset=".12" stop-color="#f6fcb1"/><stop offset=".66" stop-color="#fcfeba"/><stop offset=".685" stop-color="#fff9b6"/><stop offset=".71" stop-color="#fecc7a"/><stop offset=".73" stop-color="#f88d52"/><stop offset=".735" stop-color="#f36c43"/><stop offset=".74" stop-color="#e3534a"/><stop offset=".75" stop-color="#9e0142"/><stop offset="1" stop-color="#9e0142"/></linearGradient>
<linearGradient id="g179"><stop offset="0" stop-color="#5e4fa2"/><stop offset=".065" stop-color="#5e4fa2"/><stop offset=".07" stop-color="#565aa7"/><stop offset=".075" stop-color="#4fa8b0"/><stop offset=".08" stop-color="#84cea5"/><stop offset=".085" stop-color="#bae3a1"/><stop offset=".09" stop-color="#dbf19a"/><stop offset=".1" stop-color="#eff9a7"/><stop offset=".125" stop-color="#f6fcb1"/><stop offset=".66" stop-color="#fbfeb9"/><stop offset=".685" stop-color="#fffab6"/><stop offset=".71" stop-color="#fece7c"/><stop offset=".73" stop-color="#f98e52"/><stop offset=".735" stop-color="#f36c43"/><stop offset=".74" stop-color="#e1504a"/><stop offset=".75" stop-color="#9e0142"/><stop offset="1" stop-color="#9e0142"/></linearGradient>
<linearGradient id="g180"><stop offset="0" stop-color="#5e4fa2"/><stop offset=".35" stop-color="#5e4fa2"/><stop offset=".36" stop-color="#3389bd"/><stop offset=".485" stop-color="#7ecca5"/><stop offset=".605" stop-color="#e8f69b"/><stop offset=".635" stop-color="#f8fcb4"/><stop offset=".715" stop-color="#fffebd"/><stop offset=".785" stop-color="#fdbf6f"/><stop offset=".855" stop-color="#f46e43"/><stop offset=".935" stop-color="#d13a4e"/><stop offset="1" stop-color="#b11646"/></linearGradient>
<linearGradient id="g181"><stop offset="0" stop-color="#5e4fa2"/><stop offset=".345" stop-color="#5e4fa2"/><stop offset=".35" stop-color="#5160aa"/><stop offset=".355" stop-color="#3289bd"/><stop offset=".475" stop-color="#7acaa5"/><stop offset=".6" stop-color="#e8f69b"/><stop offset=".63" stop-color="#f8fcb4"/><stop offset=".715" stop-color="#fffebd"/><stop offset=".785" stop-color="#fdbf6f"/><stop offset=".855" stop-color="#f46e43"/><stop offset=".935" stop-color="#d13a4e"/><stop offset="1" stop-color="#b11646"/></linearGradient>
<linearGradient id="g182"><stop offset="0" stop-color="#5e4fa2"/><stop offset=".34" stop-color="#5e4fa2"/><stop offset=".345" stop-color="#545ba8"/><stop offset=".35" stop-color="#3288bd"/><stop offset=".47" stop-color="#7acaa5"/><stop offset=".595" stop-color="#e8f69a"/><stop offset=".625" stop-color="#f8fcb4"/><stop offset=".715" stop-color="#fffebd"/><stop offset=".785" stop-color="#fdbf6f"/><stop offset=".855" stop-color="#f46e43"/><stop offset=".935" stop-color="#d13a4e"/><stop offset="1" stop-color="#b11646"/></linearGradient>
<linearGradient id="g183"><stop offset="0" stop-color="#5e4fa2"/><stop offset=".335" stop-color="#5e4fa2"/><stop offset=".34" stop-color="#5857a6"/><stop offset=".345" stop-color="#3387bd"/><stop offset=".465" stop-color="#79caa5"/><stop offset=".59" stop-color="#e8f69a"/><stop offset=".62" stop-color="#f8fcb4"/><stop offset=".715" stop-color="#fffebd"/><stop offset=".785" stop-color="#fdbf6f"/><stop offset=".855" stop-color="#f46e43"/><stop offset=".935" stop-color="#d13a4e"/><stop offset="1" stop-color="#b11646"/></linearGradient>
<linearGradient id="g184"><stop offset="0" stop-color="#5e4fa2"/><stop offset=".335" stop-color="#5c52a3"/><stop offset=".34" stop-color="#3682ba"/><stop offset=".455" stop-color="#75c8a5"/><stop offset=".585" stop-color="#e8f69b"/><stop offset=".615" stop-color="#f8fcb4"/><stop offset=".715" stop-color="#fffebd"/><stop offset=".79" stop-color="#fdba6b"/><stop offset=".855" stop-color="#f46e43"/><stop offset=".935" stop-color="#d13a4e"/><stop offset="1" stop-color="#b11646"/></linearGradient>
<linearGradient id="g185"><stop offset="0" stop-color="#5e4fa2"/><stop offset=".33" stop-color="#5e4fa2"/><stop offset=".335" stop-color="#3a7eb8"/><stop offset=".35" stop-color="#3990ba"/><stop offset=".46" stop-color="#7dcba5"/><stop offset=".58" stop-color="#e8f69b"/><stop offset=".61" stop-color="#f8fcb4"/><stop offset=".715" stop-color="#fffebe"/><stop offset=".79" stop-color="#fdba6b"/><stop offset=".855" stop-color="#f46e43"/><stop offset=".935" stop-color="#d13a4e"/><stop offset="1" stop-color="#b11646"/></linearGradient>
<linearGradient id="g186"><stop offset="0" stop-color="#5e4fa2"/><stop offset=".325" stop-color="#5e4fa2"/><stop offset=".33" stop-color="#3e79b6"/><stop offset=".335" stop-color="#348abc"/><stop offset=".45" stop-color="#7acaa5"/><stop offset=".575" stop-color="#e8f69c"/><stop offset=".605" stop-color="#f8fcb4"/><stop offset=".72" stop-color="#fffbb8"/><stop offset=".795" stop-color="#fdb466"/><stop offset=".855" stop-color="#f46e43"/><stop offset=".935" stop-color="#d13a4e"/><stop offset="1" stop-color="#b11646"/></linearGradient>
<linearGradient id="g187"><stop offset="0" stop-color="#5e4fa2"/><stop offset=".32" stop-color="#5e4fa2"/><stop offset=".325" stop-color="#4174b4"/><stop offset=".33" stop-color="#348abc"/><stop offset=".445" stop-color="#7acaa5"/><stop offset=".57" stop-color="#e9f69d"/><stop offset=".6" stop-color="#f8fcb4"/><stop offset=".72" stop-color="#fffbb9"/><stop offset=".795" stop-color="#fdb466"/><stop offset=".855" stop-color="#f46e43"/><stop offset=".935" stop-color="#d13a4e"/><stop offset="1" stop-color="#b11646"/></linearGradient>
<linearGradient id="g188"><stop offset="0" stop-color="#5e4fa2"/><stop offset=".315" stop-color="#5e4fa2"/><stop offset=".325" stop-color="#3389bc"/><stop offset=".44" stop-color="#7acaa5"/><stop offset=".56" stop-color="#e8f69a"/><stop offset=".59" stop-color="#f8fcb4"/><stop offset=".72" stop-color="#fffcba"/><stop offset=".8" stop-color="#fdaf62"/><stop offset=".855" stop-color="#f46e43"/><stop offset=".935" stop-color="#d13a4e"/><stop offset="1" stop-color="#b11646"/></linearGradient>
<linearGradient id="g189"><stop offset="0" stop-color="#5e4fa2"/><stop offset=".31" stop-color="#5e4fa2"/><stop offset=".32" stop-color="#3389bd"/><stop offset=".435" stop-color="#7bcaa5"/><stop offset=".555" stop-color="#e8f69b"/><stop offset=".585" stop-color="#f8fcb4"/><stop offset=".72" stop-color="#fffcbb"/><stop offset=".8" stop-color="#fdaf62"/><stop offset=".855" stop-color="#f46e43"/><stop offset=".935" stop-color="#d13a4e"/><stop offset="1" stop-color="#b11646"/></linearGradient>
<linearGradient id="g190"><stop offset="0" stop-color="#5e4fa2"/><stop offset=".305" stop-color="#5e4fa2"/><stop offset=".31" stop-color="#5160aa"/><stop offset=".315" stop-color="#3289bd"/><stop offset=".43" stop-color="#7bcaa5"/><stop offset=".55" stop-color="#e9f69c"/><stop offset=".575" stop-color="#f8fcb4"/><stop offset=".72" stop-color="#fffdbc"/><stop offset=".8" stop-color="#fdaf62"/><stop offset=".855" stop-color="#f46e43"/><stop offset=".935" stop-color="#d13a4e"/><stop offset="1" stop-color="#b11646"/></linearGradient>
<linearGradient id="g191"><stop offset="0" stop-color="#5e4fa2"/><stop offset=".305" stop-color="#5b53a4"/><stop offset=".31" stop-color="#3683bb"/><stop offset=".42" stop-color="#77c8a5"/><stop offset=".545" stop-color="#eaf79e"/><stop offset=".575" stop-color="#f8fcb4"/><stop offset=".72" stop-color="#fffebd"/><stop offset=".79" stop-color="#fdba6b"/><stop offset=".855" stop-color="#f46e43"/><stop offset=".935" stop-color="#d13a4e"/><stop offset="1" stop-color="#b11646"/></linearGradient>
<linearGradient id="g192"><stop offset="0" stop-color="#5e4fa2"/><stop offset=".3" stop-color="#5e4fa2"/><stop offset=".305" stop-color="#4076b5"/><stop offset=".31" stop-color="#348abc"/><stop offset=".42" stop-color="#7bcaa5"/><stop offset=".535" stop-color="#e8f69b"/><stop offset=".565" stop-color="#f8fcb4"/><stop offset=".72" stop-color="#fffebe"/><stop offset=".785" stop-color="#fdc070"/><stop offset=".855" stop-color="#f46e43"/><stop offset=".935" stop-color="#d13a4e"/><stop offset="1" stop-color="#b11646"/></linearGradient>
<linearGradient id="g193"><stop offset="0" stop-color="#5e4fa2"/><stop offset=".295" stop-color="#5e4fa2"/><stop offset=".305" stop-color="#3389bd"/><stop offset=".415" stop-color="#7bcaa5"/><stop offset=".53" stop-color="#e9f69c"/><stop offset=".56" stop-color="#f8fcb4"/><stop offset=".725" stop-color="#fffbb9"/><stop offset=".785" stop-color="#fdc070"/><stop offset=".855" stop-color="#f46e43"/><stop offset=".935" stop-color="#d13a4e"/><stop offset="1" stop-color="#b11646"/></linearGradient>
<linearGradient id="g194"><stop offset="0" stop-color="#5e4fa2"/><stop offset=".29" stop-color="#5e4fa2"/><stop offset=".295" stop-color="#545ba8"/><stop offset=".3" stop-color="#3288bd"/><stop offset=".415" stop-color="#7fcca5"/><stop offset=".525" stop-color="#eaf79e"/><stop offset=".555" stop-color="#f8fcb4"/><stop offset=".725" stop-color="#fffcba"/><stop offset=".78" stop-color="#fdc776"/><stop offset=".855" stop-color="#f46e43"/><stop offset=".935" stop-color="#d13a4e"/><stop offset="1" stop-color="#b11646"/></linearGradient>
<linearGradient id="g195"><stop offset="0" stop-color="#5e4fa2"/><stop offset=".29" stop-color="#5e4fa2"/><stop offset=".295" stop-color="#397fb9"/><stop offset=".315" stop-color="#3c93b8"/><stop offset=".41" stop-color="#7fcca5"/><stop offset=".515" stop-color="#e8f69b"/><stop offset=".545" stop-color="#f8fcb4"/><stop offset=".725" stop-color="#fffdbb"/><stop offset=".78" stop-color="#fec776"/><stop offset=".855" stop-color="#f46e43"/><stop offset=".935" stop-color="#d13a4e"/><stop offset="1" stop-color="#b11646"/></linearGradient>
<linearGradient id="g196"><stop offset="0" stop-color="#5e4fa2"/><stop offset=".285" stop-color="#5e4fa2"/><stop offset=".295" stop-color="#338abc"/><stop offset=".405" stop-color="#80cca5"/><stop offset=".51" stop-color="#e9f69d"/><stop offset=".535" stop-color="#f8fcb4"/><stop offset=".725" stop-color="#fffebd"/><stop offset=".78" stop-color="#fec877"/><stop offset=".85" stop-color="#f57145"/><stop offset=".935" stop-color="#d13a4e"/><stop offset="1" stop-color="#b11646"/></linearGradient>
<linearGradient id="g197"><stop offset="0" stop-color="#5e4fa2"/><stop offset=".28" stop-color="#5e4fa2"/><stop offset=".29" stop-color="#3389bd"/><stop offset=".4" stop-color="#80cca5"/><stop offset=".5" stop-color="#e8f69b"/><stop offset=".53" stop-color="#f8fcb4"/><stop offset=".725" stop-color="#ffffbe"/><stop offset=".78" stop-color="#fec877"/><stop offset=".85" stop-color="#f57145"/><stop offset=".935" stop-color="#d13a4e"/><stop offset="1" stop-color="#b11646"/></linearGradient>
<linearGradient id="g198"><stop offset="0" stop-color="#5e4fa2"/><stop offset=".275" stop-color="#5e4fa2"/><stop offset=".285" stop-color="#3389bd"/><stop offset=".39" stop-color="#7ecba5"/><stop offset=".495" stop-color="#eaf79e"/><stop offset=".525" stop-color="#f8fcb4"/><stop offset=".73" stop-color="#fffcb9"/><stop offset=".78" stop-color="#fec977"/><stop offset=".845" stop-color="#f57547"/><stop offset=".935" stop-color="#d13a4e"/><stop offset="1" stop-color="#b11646"/></linearGradient>
<linearGradient id="g199"><stop offset="0" stop-color="#5e4fa2"/><stop offset=".27" stop-color="#5e4fa2"/><stop offset=".28" stop-color="#3389bd"/><stop offset=".385" stop-color="#7fcca5"/><stop offset=".485" stop-color="#e9f69d"/><stop offset=".515" stop-color="#f8fcb4"/><stop offset=".73" stop-color="#fffcbb"/><stop offset=".775" stop-color="#fed17e"/><stop offset=".83" stop-color="#f7864e"/><stop offset=".88" stop-color="#ec6046"/><stop offset=".97" stop-color="#bc2349"/><stop offset="1" stop-color="#b11646"/></linearGradient>
<linearGradient id="g200"><stop offset="0" stop-color="#5e4fa2"/><stop offset=".265" stop-color="#5e4fa2"/><stop offset=".275" stop-color="#3389bc"/><stop offset=".38" stop-color="#81cda5"/><stop offset=".475" stop-color="#e8f69c"/><stop offset=".505" stop-color="#f8fcb4"/><stop offset=".73" stop-color="#fffdbc"/><stop offset=".775" stop-color="#fed27f"/><stop offset=".825" stop-color="#f88d52"/><stop offset=".87" stop-color="#ef6645"/><stop offset=".94" stop-color="#cc344d"/><stop offset="1" stop-color="#b11646"/></linearGradient>
<linearGradient id="g201"><stop offset="0" stop-color="#5e4fa2"/><stop offset=".26" stop-color="#5e4fa2"/><stop offset=".27" stop-color="#3389bc"/><stop offset=".37" stop-color="#7fcca5"/><stop offset=".465" stop-color="#e8f69b"/><stop offset=".5" stop-color="#f8fcb4"/><stop offset=".73" stop-color="#fffebe"/><stop offset=".775" stop-color="#fed380"/><stop offset=".82" stop-color="#f99455"/><stop offset=".86" stop-color="#f36b44"/><stop offset=".935" stop-color="#d13a4e"/><stop offset="1" stop-color="#b11646"/></linearGradient>
<linearGradient id="g202"><stop offset="0" stop-color="#5e4fa2"/><stop offset=".255" stop-color="#5e4fa2"/><stop offset=".265" stop-color="#3389bc"/><stop offset=".36" stop-color="#7bcaa5"/><stop offset=".46" stop-color="#eaf79e"/><stop offset=".49" stop-color="#f8fcb4"/><stop offset=".735" stop-color="#fffbb9"/><stop offset=".775" stop-color="#fed481"/><stop offset=".82" stop-color="#f99455"/><stop offset=".86" stop-color="#f36b44"/><stop offset=".935" stop-color="#d13a4e"/><stop offset="1" stop-color="#b11646"/></linearGradient>
<linearGradient id="g203"><stop offset="0" stop-color="#5e4fa2"/><stop offset=".25" stop-color="#5e4fa2"/><stop offset=".26" stop-color="#338abc"/><stop offset=".35" stop-color="#78c9a5"/><stop offset=".45" stop-color="#e9f69d"/><stop offset=".48" stop-color="#f8fcb4"/><stop offset=".735" stop-color="#fffcba"/><stop offset=".775" stop-color="#fed582"/><stop offset=".815" stop-color="#fa9a58"/><stop offset=".855" stop-color="#f46e43"/><stop offset=".935" stop-color="#d13a4e"/><stop offset="1" stop-color="#b11646"/></linearGradient>
<linearGradient id="g204"><stop offset="0" stop-color="#5e4fa2"/><stop offset=".245" stop-color="#5e4fa2"/><stop offset=".255" stop-color="#348abc"/><stop offset=".34" stop-color="#75c8a5"/><stop offset=".44" stop-color="#e9f69c"/><stop offset=".47" stop-color="#f8fcb4"/><stop offset=".735" stop-color="#fffdbc"/><stop offset=".775" stop-color="#fed683"/><stop offset=".81" stop-color="#fba15b"/><stop offset=".855" stop-color="#f46e43"/><stop offset=".935" stop-color="#d13a4e"/><stop offset="1" stop-color="#b11646"/></linearGradient>
<linearGradient id="g205"><stop offset="0" stop-color="#5e4fa2"/><stop offset=".24" stop-color="#5e4fa2"/><stop offset=".245" stop-color="#3e79b6"/><stop offset=".25" stop-color="#348abc"/><stop offset=".335" stop-color="#77c9a5"/><stop offset=".43" stop-color="#e8f69b"/><stop offset=".46" stop-color="#f8fcb4"/><stop offset=".735" stop-color="#fffebd"/><stop offset=".775" stop-color="#fed784"/><stop offset=".81" stop-color="#fba15b"/><stop offset=".855" stop-color="#f46e43"/><stop offset=".935" stop-color="#d13a4e"/><stop offset="1" stop-color="#b11646"/></linearGradient>
<linearGradient id="g206"><stop offset="0" stop-color="#5e4fa2"/><stop offset=".235" stop-color="#5a54a4"/><stop offset=".24" stop-color="#3585bb"/><stop offset=".31" stop-color="#64c0a6"/><stop offset=".42" stop-color="#e8f69b"/><stop offset=".455" stop-color="#f8fcb4"/><stop offset=".74" stop-color="#fffbb8"/><stop offset=".775" stop-color="#fed985"/><stop offset=".805" stop-color="#fca85e"/><stop offset=".855" stop-color="#f46e43"/><stop offset=".935" stop-color="#d13a4e"/><stop offset="1" stop-color="#b11646"/></linearGradient>
<linearGradient id="g207"><stop offset="0" stop-color="#5e4fa2"/><stop offset=".225" stop-color="#5e4fa2"/><stop offset=".23" stop-color="#5160aa"/><stop offset=".235" stop-color="#3389bd"/><stop offset=".31" stop-color="#6cc4a5"/><stop offset=".41" stop-color="#e8f69b"/><stop offset=".445" stop-color="#f8fcb4"/><stop offset=".74" stop-color="#fffcba"/><stop offset=".775" stop-color="#feda86"/><stop offset=".805" stop-color="#fca85e"/><stop offset=".855" stop-color="#f46e43"/><stop offset=".935" stop-color="#d13a4e"/><stop offset="1" stop-color="#b11646"/></linearGradient>
<linearGradient id="g208"><stop offset="0" stop-color="#5e4fa2"/><stop offset=".22" stop-color="#5e4fa2"/><stop offset=".23" stop-color="#3389bc"/><stop offset=".305" stop-color="#6fc6a5"/><stop offset=".4" stop-color="#e8f69a"/><stop offset=".435" stop-color="#f8fcb4"/><stop offset=".74" stop-color="#fffdbb"/><stop offset=".775" stop-color="#fedc87"/><stop offset=".805" stop-color="#fca85e"/><stop offset=".855" stop-color="#f46e43"/><stop offset=".935" stop-color="#d13a4e"/><stop offset="1" stop-color="#b11646"/></linearGradient>
<linearGradient id="g209"><stop offset="0" stop-color="#5e4fa2"/><stop offset=".215" stop-color="#5e4fa2"/><stop offset=".22" stop-color="#3f77b5"/><stop offset=".225" stop-color="#348abc"/><stop offset=".295" stop-color="#6cc4a5"/><stop offset=".395" stop-color="#eaf79f"/><stop offset=".425" stop-color="#f8fcb4"/><stop offset=".74" stop-color="#fffdbc"/><stop offset=".775" stop-color="#fedd89"/><stop offset=".8" stop-color="#fdaf62"/><stop offset=".855" stop-color="#f46e43"/><stop offset=".935" stop-color="#d13a4e"/><stop offset="1" stop-color="#b11646"/></linearGradient>
<linearGradient id="g210"><stop offset="0" stop-color="#5e4fa2"/><stop offset=".21" stop-color="#5b53a4"/><stop offset=".215" stop-color="#3683bb"/><stop offset=".275" stop-color="#5fbaa8"/><stop offset=".385" stop-color="#eaf69e"/><stop offset=".415" stop-color="#f8fcb4"/><stop offset=".74" stop-color="#fffebe"/><stop offset=".775" stop-color="#fedf8a"/><stop offset=".8" stop-color="#fdaf62"/><stop offset=".855" stop-color="#f46e43"/><stop offset=".935" stop-color="#d13a4e"/><stop offset="1" stop-color="#b11646"/></linearGradient>
<linearGradient id="g211"><stop offset="0" stop-color="#5e4fa2"/><stop offset=".2" stop-color="#5e4fa2"/><stop offset=".205" stop-color="#525ea9"/><stop offset=".21" stop-color="#3288bd"/><stop offset=".28" stop-color="#6cc4a5"/><stop offset=".375" stop-color="#e9f69d"/><stop offset=".405" stop-color="#f8fcb4"/><stop offset=".745" stop-color="#fffbb8"/><stop offset=".775" stop-color="#fee08c"/><stop offset=".795" stop-color="#fdb466"/><stop offset=".855" stop-color="#f46e43"/><stop offset=".935" stop-color="#d13a4e"/><stop offset="1" stop-color="#b11646"/></linearGradient>
<linearGradient id="g212"><stop offset="0" stop-color="#5e4fa2"/><stop offset=".195" stop-color="#5e4fa2"/><stop offset=".205" stop-color="#3389bc"/><stop offset=".27" stop-color="#68c3a5"/><stop offset=".365" stop-color="#e8f69c"/><stop offset=".4" stop-color="#f8fcb4"/><stop offset=".745" stop-color="#fffcb9"/><stop offset=".775" stop-color="#fee28e"/><stop offset=".795" stop-color="#fdb466"/><stop offset=".855" stop-color="#f46e43"/><stop offset=".935" stop-color="#d13a4e"/><stop offset="1" stop-color="#b11646"/></linearGradient>
<linearGradient id="g213"><stop offset="0" stop-color="#5e4fa2"/><stop offset=".19" stop-color="#5e4fa2"/><stop offset=".2" stop-color="#3389bd"/><stop offset=".265" stop-color="#69c3a5"/><stop offset=".36" stop-color="#eaf69e"/><stop offset=".39" stop-color="#f8fcb4"/><stop offset=".745" stop-color="#fffcba"/><stop offset=".78" stop-color="#fed783"/><stop offset=".8" stop-color="#fdaf62"/><stop offset=".855" stop-color="#f46e43"/><stop offset=".935" stop-color="#d13a4e"/><stop offset="1" stop-color="#b11646"/></linearGradient>
<linearGradient id="g214"><stop offset="0" stop-color="#5e4fa2"/><stop offset=".185" stop-color="#5e4fa2"/><stop offset=".19" stop-color="#4e64ac"/><stop offset=".195" stop-color="#3389bd"/><stop offset=".26" stop-color="#69c3a5"/><stop offset=".35" stop-color="#e8f69a"/><stop offset=".385" stop-color="#f8fcb4"/><stop offset=".745" stop-color="#fffdbb"/><stop offset=".78" stop-color="#fed884"/><stop offset=".795" stop-color="#fdb466"/><stop offset=".855" stop-color="#f46e43"/><stop offset=".935" stop-color="#d13a4e"/><stop offset="1" stop-color="#b11646"/></linearGradient>
<linearGradient id="g215"><stop offset="0" stop-color="#5e4fa2"/><stop offset=".18" stop-color="#5e4fa2"/><stop offset=".185" stop-color="#5160aa"/><stop offset=".19" stop-color="#3389bd"/><stop offset=".25" stop-color="#64bfa6"/><stop offset=".345" stop-color="#e9f69c"/><stop offset=".38" stop-color="#f8fcb4"/><stop offset=".745" stop-color="#fffdbc"/><stop offset=".78" stop-color="#fed985"/><stop offset=".795" stop-color="#fdb466"/><stop offset=".855" stop-color="#f46e43"/><stop offset=".935" stop-color="#d13a4e"/><stop offset="1" stop-color="#b11646"/></linearGradient>
<linearGradient id="g216"><stop offset="0" stop-color="#5e4fa2"/><stop offset=".175" stop-color="#5e4fa2"/><stop offset=".18" stop-color="#535da9"/><stop offset=".185" stop-color="#3288bd"/><stop offset=".245" stop-color="#64c0a6"/><stop offset=".34" stop-color="#e9f69d"/><stop offset=".37" stop-color="#f8fcb4"/><stop offset=".745" stop-color="#fffebd"/><stop offset=".78" stop-color="#feda86"/><stop offset=".795" stop-color="#fdb466"/><stop offset=".855" stop-color="#f46e43"/><stop offset=".935" stop-color="#d13a4e"/><stop offset="1" stop-color="#b11646"/></linearGradient>
<linearGradient id="g217"><stop offset="0" stop-color="#5e4fa2"/><stop offset=".17" stop-color="#5e4fa2"/><stop offset=".175" stop-color="#565aa7"/><stop offset=".18" stop-color="#3288bd"/><stop offset=".235" stop-color="#5ebaa8"/><stop offset=".335" stop-color="#eaf79e"/><stop offset=".365" stop-color="#f8fcb4"/><stop offset=".745" stop-color="#fffebd"/><stop offset=".78" stop-color="#fedb87"/><stop offset=".795" stop-color="#fdb466"/><stop offset=".855" stop-color="#f46e43"/><stop offset=".935" stop-color="#d13a4e"/><stop offset="1" stop-color="#b11646"/></linearGradient>
<linearGradient id="g218"><stop offset="0" stop-color="#5e4fa2"/><stop offset=".165" stop-color="#5e4fa2"/><stop offset=".17" stop-color="#5856a6"/><stop offset=".175" stop-color="#3387bd"/><stop offset=".235" stop-color="#64c0a6"/><stop offset=".33" stop-color="#ebf79f"/><stop offset=".36" stop-color="#f8fcb4"/><stop offset=".745" stop-color="#fffebe"/><stop offset=".78" stop-color="#fedc88"/><stop offset=".795" stop-color="#fdb466"/><stop offset=".855" stop-color="#f46e43"/><stop offset=".935" stop-color="#d13a4e"/><stop offset="1" stop-color="#b11646"/></linearGradient>
<linearGradient id="g219"><stop offset="0" stop-color="#5e4fa2"/><stop offset=".165" stop-color="#5b53a4"/><stop offset=".17" stop-color="#3584bb"/><stop offset=".22" stop-color="#59b3ab"/><stop offset=".32" stop-color="#e8f69a"/><stop offset=".355" stop-color="#f8fcb4"/><stop offset=".745" stop-color="#ffffbe"/><stop offset=".78" stop-color="#fedc88"/><stop offset=".795" stop-color="#fdb466"/><stop offset=".855" stop-color="#f46e43"/><stop offset=".935" stop-color="#d13a4e"/><stop offset="1" stop-color="#b11646"/></linearGradient>
<linearGradient id="g220"><stop offset="0" stop-color="#5e4fa2"/><stop offset=".16" stop-color="#5e4fa2"/><stop offset=".165" stop-color="#3d7ab6"/><stop offset=".175" stop-color="#378ebb"/><stop offset=".23" stop-color="#69c3a5"/><stop offset=".32" stop-color="#eaf79f"/><stop offset=".35" stop-color="#f8fcb4"/><stop offset=".745" stop-color="#ffffbe"/><stop offset=".78" stop-color="#fedd88"/><stop offset=".795" stop-color="#fdb466"/><stop offset=".855" stop-color="#f46e43"/><stop offset=".935" stop-color="#d13a4e"/><stop offset="1" stop-color="#b11646"/></linearGradient>
<linearGradient id="g221"><stop offset="0" stop-color="#5e4fa2"/><stop offset=".155" stop-color="#5e4fa2"/><stop offset=".165" stop-color="#3389bd"/><stop offset=".22" stop-color="#61bca7"/><stop offset=".315" stop-color="#e9f69d"/><stop offset=".35" stop-color="#f8fcb4"/><stop offset=".745" stop-color="#ffffbe"/><stop offset=".78" stop-color="#fedd88"/><stop offset=".795" stop-color="#fdb466"/><stop offset=".855" stop-color="#f46e43"/><stop offset=".935" stop-color="#d13a4e"/><stop offset="1" stop-color="#b11646"/></linearGradient>
<linearGradient id="g222"><stop offset="0" stop-color="#5e4fa2"/><stop offset=".545" stop-color="#5e4fa2"/><stop offset=".55" stop-color="#3c7bb7"/><stop offset=".56" stop-color="#4ba4b2"/><stop offset=".575" stop-color="#71c6a5"/><stop offset=".605" stop-color="#bae3a1"/><stop offset=".64" stop-color="#e8f69c"/><stop offset=".695" stop-color="#f8fcb4"/><stop offset=".725" stop-color="#fffebd"/><stop offset=".75" stop-color="#fed17e"/><stop offset=".79" stop-color="#f57346"/><stop offset=".805" stop-color="#df4d4b"/><stop offset=".815" stop-color="#9e0142"/><stop offset="1" stop-color="#9e0142"/></linearGradient>
<linearGradient id="g223"><stop offset="0" stop-color="#5e4fa2"/><stop offset=".535" stop-color="#5e4fa2"/><stop offset=".54" stop-color="#545ca8"/><stop offset=".545" stop-color="#378ebb"/><stop offset=".57" stop-color="#76c8a5"/><stop offset=".605" stop-color="#c4e79f"/><stop offset=".64" stop-color="#eaf79f"/><stop offset=".7" stop-color="#f8fcb5"/><stop offset=".725" stop-color="#fffebd"/><stop offset=".75" stop-color="#fed27f"/><stop offset=".79" stop-color="#f57446"/><stop offset=".805" stop-color="#df4d4b"/><stop offset=".81" stop-color="#c72e4c"/><stop offset=".815" stop-color="#9e0142"/><stop offset="1" stop-color="#9e0142"/></linearGradient>
<linearGradient id="g224"><stop offset="0" stop-color="#5e4fa2"/><stop offset=".53" stop-color="#5e4fa2"/><stop offset=".535" stop-color="#348abc"/><stop offset=".56" stop-color="#6fc6a5"/><stop offset=".59" stop-color="#b4e1a2"/><stop offset=".63" stop-color="#e8f69b"/><stop offset=".69" stop-color="#f8fcb4"/><stop offset=".725" stop-color="#fffebe"/><stop offset=".75" stop-color="#fed280"/><stop offset=".79" stop-color="#f57446"/><stop offset=".805" stop-color="#df4e4b"/><stop offset=".81" stop-color="#c8304c"/><stop offset=".815" stop-color="#9e0142"/><stop offset="1" stop-color="#9e0142"/></linearGradient>
<linearGradient id="g225"><stop offset="0" stop-color="#5e4fa2"/><stop offset=".52" stop-color="#5e4fa2"/><stop offset=".525" stop-color="#397fb9"/><stop offset=".55" stop-color="#69c3a5"/><stop offset=".585" stop-color="#b7e2a2"/><stop offset=".625" stop-color="#e8f69b"/><stop offset=".685" stop-color="#f8fcb4"/><stop offset=".725" stop-color="#ffffbf"/><stop offset=".75" stop-color="#fed380"/><stop offset=".79" stop-color="#f57547"/><stop offset=".805" stop-color="#e04e4b"/><stop offset=".81" stop-color="#ca314c"/><stop offset=".815" stop-color="#9e0142"/><stop offset="1" stop-color="#9e0142"/></linearGradient>
<linearGradient id="g226"><stop offset="0" stop-color="#5e4fa2"/><stop offset=".51" stop-color="#5e4fa2"/><stop offset=".52" stop-color="#3990ba"/><stop offset=".545" stop-color="#70c6a5"/><stop offset=".575" stop-color="#b1dfa3"/><stop offset=".62" stop-color="#e8f69b"/><stop offset=".685" stop-color="#f8fcb4"/><stop offset=".725" stop-color="#ffffbf"/><stop offset=".75" stop-color="#fed481"/><stop offset=".79" stop-color="#f57647"/><stop offset=".805" stop-color="#e04f4b"/><stop offset=".81" stop-color="#cb334d"/><stop offset=".815" stop-color="#9e0142"/><stop offset="1" stop-color="#9e0142"/></linearGradient>
<linearGradient id="g227"><stop offset="0" stop-color="#5e4fa2"/><stop offset=".5" stop-color="#5e4fa2"/><stop offset=".505" stop-color="#565aa7"/><stop offset=".51" stop-color="#368cbb"/><stop offset=".54" stop-color="#76c8a5"/><stop offset=".575" stop-color="#bbe3a1"/><stop offset=".62" stop-color="#eaf79e"/><stop offset=".69" stop-color="#f8fcb4"/><stop offset=".725" stop-color="#ffffbe"/><stop offset=".75" stop-color="#fed582"/><stop offset=".79" stop-color="#f57647"/><stop offset=".805" stop-color="#e04f4b"/><stop offset=".81" stop-color="#cd354d"/><stop offset=".815" stop-color="#9e0142"/><stop offset="1" stop-color="#9e0142"/></linearGradient>
<linearGradient id="g228"><stop offset="0" stop-color="#5e4fa2"/><stop offset=".49" stop-color="#5e4fa2"/><stop offset=".5" stop-color="#388fba"/><stop offset=".53" stop-color="#76c8a5"/><stop offset=".565" stop-color="#b9e3a1"/><stop offset=".61" stop-color="#e9f69c"/><stop offset=".68" stop-color="#f8fcb4"/><stop offset=".725" stop-color="#feffbe"/><stop offset=".75" stop-color="#fed682"/><stop offset=".785" stop-color="#f7844e"/><stop offset=".8" stop-color="#e95c47"/><stop offset=".81" stop-color="#ce364d"/><stop offset=".815" stop-color="#9e0142"/><stop offset="1" stop-color="#9e0142"/></linearGradient>
<linearGradient id="g229"><stop offset="0" stop-color="#5e4fa2"/><stop offset=".475" stop-color="#5e4fa2"/><stop offset=".48" stop-color="#5758a6"/><stop offset=".485" stop-color="#358cbb"/><stop offset=".515" stop-color="#70c6a5"/><stop offset=".555" stop-color="#bbe3a1"/><stop offset=".605" stop-color="#ebf79f"/><stop offset=".675" stop-color="#f8fcb4"/><stop offset=".725" stop-color="#feffbd"/><stop offset=".75" stop-color="#fed683"/><stop offset=".785" stop-color="#f7854e"/><stop offset=".8" stop-color="#e95c47"/><stop offset=".81" stop-color="#d0384e"/><stop offset=".815" stop-color="#9e0142"/><stop offset="1" stop-color="#9e0142"/></linearGradient>
<linearGradient id="g230"><stop offset="0" stop-color="#5e4fa2"/><stop offset=".465" stop-color="#5e4fa2"/><stop offset=".47" stop-color="#3389bd"/><stop offset=".505" stop-color="#76c8a5"/><stop offset=".545" stop-color="#bce4a0"/><stop offset=".595" stop-color="#eaf79f"/><stop offset=".665" stop-color="#f8fcb3"/><stop offset=".73" stop-color="#fffab7"/><stop offset=".755" stop-color="#fec978"/><stop offset=".795" stop-color="#f16944"/><stop offset=".81" stop-color="#d13a4e"/><stop offset=".815" stop-color="#9e0242"/><stop offset="1" stop-color="#9e0142"/></linearGradient>
<linearGradient id="g231"><stop offset="0" stop-color="#5e4fa2"/><stop offset=".45" stop-color="#5e4fa2"/><stop offset=".455" stop-color="#3b7cb7"/><stop offset=".465" stop-color="#439bb5"/><stop offset=".49" stop-color="#70c6a5"/><stop offset=".53" stop-color="#b7e2a1"/><stop offset=".585" stop-color="#eaf79f"/><stop offset=".66" stop-color="#f8fcb3"/><stop offset=".73" stop-color="#fffab7"/><stop offset=".755" stop-color="#feca78"/><stop offset=".795" stop-color="#f26944"/><stop offset=".81" stop-color="#d23b4e"/><stop offset=".815" stop-color="#a00342"/><stop offset="1" stop-color="#9e0142"/></linearGradient>
<linearGradient id="g232"><stop offset="0" stop-color="#5e4fa2"/><stop offset=".44" stop-color="#5e4fa2"/><stop offset=".445" stop-color="#3e79b6"/><stop offset=".455" stop-color="#429ab6"/><stop offset=".485" stop-color="#78c9a5"/><stop offset=".53" stop-color="#c1e6a0"/><stop offset=".58" stop-color="#ebf79f"/><stop offset=".655" stop-color="#f7fcb3"/><stop offset=".73" stop-color="#fffbb8"/><stop offset=".755" stop-color="#fecb79"/><stop offset=".795" stop-color="#f26a44"/><stop offset=".81" stop-color="#d43d4f"/><stop offset=".815" stop-color="#a10543"/><stop offset="1" stop-color="#9e0142"/></linearGradient>
<linearGradient id="g233"><stop offset="0" stop-color="#5e4fa2"/><stop offset=".43" stop-color="#5e4fa2"/><stop offset=".435" stop-color="#565aa7"/><stop offset=".44" stop-color="#358cbc"/><stop offset=".475" stop-color="#74c7a5"/><stop offset=".52" stop-color="#bee5a0"/><stop offset=".57" stop-color="#eaf79e"/><stop offset=".645" stop-color="#f7fcb3"/><stop offset=".73" stop-color="#fffbb9"/><stop offset=".755" stop-color="#fecc7a"/><stop offset=".795" stop-color="#f26a44"/><stop offset=".81" stop-color="#d53e4f"/><stop offset=".815" stop-color="#a30643"/><stop offset="1" stop-color="#9e0142"/></linearGradient>
<linearGradient id="g234"><stop offset="0" stop-color="#5e4fa2"/><stop offset=".425" stop-color="#5e4fa2"/><stop offset=".43" stop-color="#3584bb"/><stop offset=".465" stop-color="#6fc6a5"/><stop offset=".505" stop-color="#b5e1a2"/><stop offset=".56" stop-color="#e9f69d"/><stop offset=".635" stop-color="#f7fcb3"/><stop offset=".73" stop-color="#fffcb9"/><stop offset=".755" stop-color="#fecc7a"/><stop offset=".795" stop-color="#f36b44"/><stop offset=".81" stop-color="#d63f4f"/><stop offset=".815" stop-color="#a40843"/><stop offset="1" stop-color="#9e0142"/></linearGradient>
<linearGradient id="g235"><stop offset="0" stop-color="#5e4fa2"/><stop offset=".415" stop-color="#5e4fa2"/><stop offset=".42" stop-color="#4d65ac"/><stop offset=".425" stop-color="#378dbb"/><stop offset=".46" stop-color="#75c8a5"/><stop offset=".505" stop-color="#bfe5a0"/><stop offset=".555" stop-color="#eaf79e"/><stop offset=".63" stop-color="#f7fcb3"/><stop offset=".73" stop-color="#fffcba"/><stop offset=".755" stop-color="#fecd7b"/><stop offset=".795" stop-color="#f36b43"/><stop offset=".81" stop-color="#d7414e"/><stop offset=".815" stop-color="#a60a44"/><stop offset=".84" stop-color="#9e0142"/><stop offset="1" stop-color="#9e0142"/></linearGradient>
<linearGradient id="g236"><stop offset="0" stop-color="#5e4fa2"/><stop offset=".41" stop-color="#5e4fa2"/><stop offset=".415" stop-color="#4075b4"/><stop offset=".42" stop-color="#398fba"/><stop offset=".455" stop-color="#78c9a5"/><stop offset=".5" stop-color="#c1e6a0"/><stop offset=".55" stop-color="#ebf79f"/><stop offset=".625" stop-color="#f7fcb3"/><stop offset=".73" stop-color="#fffcba"/><stop offset=".755" stop-color="#fece7c"/><stop offset=".795" stop-color="#f36c43"/><stop offset=".81" stop-color="#d8424e"/><stop offset=".815" stop-color="#a70b44"/><stop offset=".83" stop-color="#9e0142"/><stop offset="1" stop-color="#9e0142"/></linearGradient>
<linearGradient id="g237"><stop offset="0" stop-color="#5e4fa2"/><stop offset=".405" stop-color="#5e4fa2"/><stop offset=".41" stop-color="#3584bb"/><stop offset=".445" stop-color="#6fc6a5"/><stop offset=".485" stop-color="#b5e1a2"/><stop offset=".54" stop-color="#e9f69d"/><stop offset=".615" stop-color="#f7fcb3"/><stop offset=".73" stop-color="#fffdbb"/><stop offset=".755" stop-color="#fecf7d"/><stop offset=".795" stop-color="#f46c43"/><stop offset=".81" stop-color="#d8434e"/><stop offset=".815" stop-color="#a90d45"/><stop offset=".825" stop-color="#9e0142"/><stop offset="1" stop-color="#9e0142"/></linearGradient>
<linearGradient id="g238"><stop offset="0" stop-color="#5e4fa2"/><stop offset=".4" stop-color="#5e4fa2"/><stop offset=".405" stop-color="#3389bc"/><stop offset=".44" stop-color="#71c6a5"/><stop offset=".48" stop-color="#b6e2a2"/><stop offset=".535" stop-color="#e9f69d"/><stop offset=".605" stop-color="#f7fcb2"/><stop offset=".73" stop-color="#fffdbc"/><stop offset=".755" stop-color="#fed07d"/><stop offset=".795" stop-color="#f46d43"/><stop offset=".81" stop-color="#d9444d"/><stop offset=".815" stop-color="#aa0e45"/><stop offset=".825" stop-color="#9e0142"/><stop offset="1" stop-color="#9e0142"/></linearGradient>
<linearGradient id="g239"><stop offset="0" stop-color="#5e4fa2"/><stop offset=".39" stop-color="#5e4fa2"/><stop offset=".395" stop-color="#5659a7"/><stop offset=".4" stop-color="#358bbc"/><stop offset=".435" stop-color="#73c7a5"/><stop offset=".48" stop-color="#bee5a0"/><stop offset=".53" stop-color="#eaf79e"/><stop offset=".6" stop-color="#f7fcb2"/><stop offset=".73" stop-color="#fffdbc"/><stop offset=".755" stop-color="#fed07e"/><stop offset=".795" stop-color="#f46e43"/><stop offset=".81" stop-color="#da464d"/><stop offset=".815" stop-color="#ab1045"/><stop offset=".82" stop-color="#9e0142"/><stop offset="1" stop-color="#9e0142"/></linearGradient>
<linearGradient id="g240"><stop offset="0" stop-color="#5e4fa2"/><stop offset=".385" stop-color="#5e4fa2"/><stop offset=".395" stop-color="#378ebb"/><stop offset=".43" stop-color="#76c8a5"/><stop offset=".475" stop-color="#c0e5a0"/><stop offset=".525" stop-color="#eaf79f"/><stop offset=".6" stop-color="#f7fcb3"/><stop offset=".73" stop-color="#fffebd"/><stop offset=".755" stop-color="#fed17f"/><stop offset=".795" stop-color="#f46e44"/><stop offset=".81" stop-color="#db474d"/><stop offset=".815" stop-color="#ad1246"/><stop offset=".82" stop-color="#9e0142"/><stop offset="1" stop-color="#9e0142"/></linearGradient>
<linearGradient id="g241"><stop offset="0" stop-color="#5e4fa2"/><stop offset=".38" stop-color="#5e4fa2"/><stop offset=".385" stop-color="#3d7ab6"/><stop offset=".395" stop-color="#429ab6"/><stop offset=".425" stop-color="#78c9a5"/><stop offset=".47" stop-color="#c1e69f"/><stop offset=".52" stop-color="#ebf79f"/><stop offset=".59" stop-color="#f7fcb2"/><stop offset=".73" stop-color="#fffebe"/><stop offset=".755" stop-color="#fed27f"/><stop offset=".795" stop-color="#f46f44"/><stop offset=".81" stop-color="#db484d"/><stop offset=".815" stop-color="#ae1346"/><stop offset=".82" stop-color="#9e0142"/><stop offset="1" stop-color="#9e0142"/></linearGradient>
<linearGradient id="g242"><stop offset="0" stop-color="#5e4fa2"/><stop offset=".375" stop-color="#5e4fa2"/><stop offset=".38" stop-color="#3288bd"/><stop offset=".415" stop-color="#70c6a5"/><stop offset=".455" stop-color="#b6e1a2"/><stop offset=".51" stop-color="#e9f69d"/><stop offset=".58" stop-color="#f7fcb2"/><stop offset=".73" stop-color="#ffffbe"/><stop offset=".755" stop-color="#fed380"/><stop offset=".795" stop-color="#f47044"/><stop offset=".81" stop-color="#dc484c"/><stop offset=".815" stop-color="#b01546"/><stop offset=".82" stop-color="#9e0142"/><stop offset="1" stop-color="#9e0142"/></linearGradient>
<linearGradient id="g243"><stop offset="0" stop-color="#5e4fa2"/><stop offset=".37" stop-color="#5e4fa2"/><stop offset=".375" stop-color="#3389bd"/><stop offset=".41" stop-color="#72c7a5"/><stop offset=".45" stop-color="#b8e2a1"/><stop offset=".505" stop-color="#eaf79e"/><stop offset=".575" stop-color="#f7fcb2"/><stop offset=".725" stop-color="#fafdb7"/><stop offset=".73" stop-color="#ffffbf"/><stop offset=".755" stop-color="#fed481"/><stop offset=".795" stop-color="#f47045"/><stop offset=".81" stop-color="#dc484c"/><stop offset=".815" stop-color="#b11647"/><stop offset=".82" stop-color="#9e0142"/><stop offset="1" stop-color="#9e0142"/></linearGradient>
<linearGradient id="g244"><stop offset="0" stop-color="#5e4fa2"/><stop offset=".365" stop-color="#5e4fa2"/><stop offset=".37" stop-color="#3486bc"/><stop offset=".405" stop-color="#74c7a5"/><stop offset=".445" stop-color="#bbe3a1"/><stop offset=".495" stop-color="#eaf69e"/><stop offset=".565" stop-color="#f7fcb2"/><stop offset=".73" stop-color="#feffbe"/><stop offset=".755" stop-color="#fed683"/><stop offset=".795" stop-color="#f57346"/><stop offset=".81" stop-color="#dd4a4c"/><stop offset=".815" stop-color="#b61c48"/><stop offset=".82" stop-color="#9e0142"/><stop offset="1" stop-color="#9e0142"/></linearGradient>
<linearGradient id="g245"><stop offset="0" stop-color="#5e4fa2"/><stop offset=".36" stop-color="#5e4fa2"/><stop offset=".365" stop-color="#3c7bb7"/><stop offset=".375" stop-color="#449cb5"/><stop offset=".4" stop-color="#75c8a5"/><stop offset=".44" stop-color="#bee5a0"/><stop offset=".485" stop-color="#e9f69d"/><stop offset=".55" stop-color="#f7fcb2"/><stop offset=".735" stop-color="#fffbb9"/><stop offset=".76" stop-color="#fecc7a"/><stop offset=".8" stop-color="#f06745"/><stop offset=".81" stop-color="#de4c4c"/><stop offset=".82" stop-color="#9e0142"/><stop offset="1" stop-color="#9e0142"/></linearGradient>
<linearGradient id="g246"><stop offset="0" stop-color="#5e4fa2"/><stop offset=".355" stop-color="#5e4fa2"/><stop offset=".36" stop-color="#4471b2"/><stop offset=".365" stop-color="#3990ba"/><stop offset=".395" stop-color="#77c9a5"/><stop offset=".435" stop-color="#c1e69f"/><stop offset=".475" stop-color="#e9f69d"/><stop offset=".535" stop-color="#f7fcb2"/><stop offset=".735" stop-color="#fffdbc"/><stop offset=".76" stop-color="#fecf7d"/><stop offset=".8" stop-color="#f16944"/><stop offset=".81" stop-color="#df4e4b"/><stop offset=".82" stop-color="#9e0142"/><stop offset="1" stop-color="#9e0142"/></linearGradient>
<linearGradient id="g247"><stop offset="0" stop-color="#5e4fa2"/><stop offset=".35" stop-color="#5e4fa2"/><stop offset=".355" stop-color="#515faa"/><stop offset=".36" stop-color="#378dbb"/><stop offset=".39" stop-color="#78c9a5"/><stop offset=".43" stop-color="#c4e79f"/><stop offset=".47" stop-color="#ebf79f"/><stop offset=".525" stop-color="#f7fcb2"/><stop offset=".735" stop-color="#ffffbe"/><stop offset=".76" stop-color="#fed380"/><stop offset=".8" stop-color="#f36c43"/><stop offset=".81" stop-color="#e1504a"/><stop offset=".815" stop-color="#cc344d"/><stop offset=".82" stop-color="#9e0142"/><stop offset="1" stop-color="#9e0142"/></linearGradient>
<linearGradient id="g248"><stop offset="0" stop-color="#5e4fa2"/><stop offset=".35" stop-color="#5e4fa2"/><stop offset=".355" stop-color="#338abc"/><stop offset=".38" stop-color="#6bc4a5"/><stop offset=".415" stop-color="#b7e2a2"/><stop offset=".46" stop-color="#eaf79e"/><stop offset=".515" stop-color="#f7fcb2"/><stop offset=".735" stop-color="#feffbd"/><stop offset=".76" stop-color="#fed783"/><stop offset=".8" stop-color="#f46f44"/><stop offset=".815" stop-color="#d33c4f"/><stop offset=".82" stop-color="#a10443"/><stop offset="1" stop-color="#9e0142"/></linearGradient>
<linearGradient id="g249"><stop offset="0" stop-color="#5e4fa2"/><stop offset=".345" stop-color="#5e4fa2"/><stop offset=".35" stop-color="#3c7bb7"/><stop offset=".36" stop-color="#48a1b3"/><stop offset=".38" stop-color="#78c9a5"/><stop offset=".415" stop-color="#c2e69f"/><stop offset=".45" stop-color="#e9f69d"/><stop offset=".505" stop-color="#f7fcb2"/><stop offset=".74" stop-color="#fffbb9"/><stop offset=".765" stop-color="#fecc7a"/><stop offset=".8" stop-color="#f57245"/><stop offset=".815" stop-color="#d8434e"/><stop offset=".82" stop-color="#a80c44"/><stop offset=".83" stop-color="#9e0142"/><stop offset="1" stop-color="#9e0142"/></linearGradient>
<linearGradient id="g250"><stop offset="0" stop-color="#5e4fa2"/><stop offset=".295" stop-color="#5e4fa2"/><stop offset=".3" stop-color="#3c94b8"/><stop offset=".325" stop-color="#3f96b7"/><stop offset=".33" stop-color="#51abaf"/><stop offset=".34" stop-color="#51abaf"/><stop offset=".345" stop-color="#4e64ac"/><stop offset=".35" stop-color="#388fba"/><stop offset=".375" stop-color="#78c9a5"/><stop offset=".41" stop-color="#c4e79f"/><stop offset=".445" stop-color="#ebf79f"/><stop offset=".495" stop-color="#f7fcb2"/><stop offset=".74" stop-color="#fffdbc"/><stop offset=".765" stop-color="#fed07d"/><stop offset=".8" stop-color="#f57647"/><stop offset=".815" stop-color="#dc484c"/><stop offset=".82" stop-color="#af1446"/><stop offset=".825" stop-color="#9e0142"/><stop offset="1" stop-color="#9e0142"/></linearGradient>
<linearGradient id="g251"><stop offset="0" stop-color="#5e4fa2"/><stop offset=".28" stop-color="#5e4fa2"/><stop offset=".285" stop-color="#3c94b8"/><stop offset=".29" stop-color="#4ca5b1"/><stop offset=".34" stop-color="#51abaf"/><stop offset=".345" stop-color="#456fb1"/><stop offset=".35" stop-color="#3b92b9"/><stop offset=".37" stop-color="#70c6a5"/><stop offset=".4" stop-color="#b9e3a1"/><stop offset=".435" stop-color="#e8f69c"/><stop offset=".485" stop-color="#f6fcb2"/><stop offset=".735" stop-color="#fafdb7"/><stop offset=".74" stop-color="#ffffbf"/><stop offset=".765" stop-color="#fed380"/><stop offset=".8" stop-color="#f67a49"/><stop offset=".815" stop-color="#dd4a4c"/><stop offset=".82" stop-color="#b61c48"/><stop offset=".825" stop-color="#9e0142"/><stop offset="1" stop-color="#9e0142"/></linearGradient>
<linearGradient id="g252"><stop offset="0" stop-color="#5e4fa2"/><stop offset=".265" stop-color="#5e4fa2"/><stop offset=".27" stop-color="#3c94b8"/><stop offset=".275" stop-color="#3c94b8"/><stop offset=".28" stop-color="#64c0a6"/><stop offset=".325" stop-color="#64c0a6"/><stop offset=".33" stop-color="#51abaf"/><stop offset=".34" stop-color="#51abaf"/><stop offset=".345" stop-color="#456fb1"/><stop offset=".35" stop-color="#3b92b9"/><stop offset=".37" stop-color="#72c7a5"/><stop offset=".4" stop-color="#bce4a1"/><stop offset=".435" stop-color="#eaf69e"/><stop offset=".48" stop-color="#f6fcb2"/><stop offset=".745" stop-color="#fffab7"/><stop offset=".77" stop-color="#fec978"/><stop offset=".805" stop-color="#f26b44"/><stop offset=".815" stop-color="#de4c4b"/><stop offset=".825" stop-color="#9e0142"/><stop offset="1" stop-color="#9e0142"/></linearGradient>
<linearGradient id="g253"><stop offset="0" stop-color="#5e4fa2"/><stop offset=".255" stop-color="#5e4fa2"/><stop offset=".26" stop-color="#3c94b8"/><stop offset=".265" stop-color="#7dcba5"/><stop offset=".325" stop-color="#7dcba5"/><stop offset=".33" stop-color="#51abaf"/><stop offset=".34" stop-color="#51abaf"/><stop offset=".345" stop-color="#456fb1"/><stop offset=".35" stop-color="#3c93b9"/><stop offset=".37" stop-color="#74c7a5"/><stop offset=".4" stop-color="#bfe5a0"/><stop offset=".43" stop-color="#e8f69b"/><stop offset=".475" stop-color="#f6fcb2"/><stop offset=".745" stop-color="#fffcb9"/><stop offset=".77" stop-color="#fecd7b"/><stop offset=".805" stop-color="#f46e43"/><stop offset=".815" stop-color="#e04f4b"/><stop offset=".825" stop-color="#9e0142"/><stop offset="1" stop-color="#9e0142"/></linearGradient>
<linearGradient id="g254"><stop offset="0" stop-color="#5e4fa2"/><stop offset=".255" stop-color="#5e4fa2"/><stop offset=".26" stop-color="#3c94b8"/><stop offset=".265" stop-color="#8fd2a4"/><stop offset=".325" stop-color="#8fd2a4"/><stop offset=".33" stop-color="#51abaf"/><stop offset=".34" stop-color="#51abaf"/><stop offset=".345" stop-color="#456fb1"/><stop offset=".35" stop-color="#3c93b8"/><stop offset=".37" stop-color="#76c8a5"/><stop offset=".395" stop-color="#b8e2a1"/><stop offset=".43" stop-color="#e9f69d"/><stop offset=".475" stop-color="#f6fcb2"/><stop offset=".745" stop-color="#fffdbc"/><stop offset=".77" stop-color="#fed07e"/><stop offset=".805" stop-color="#f57245"/><stop offset=".815" stop-color="#e1514a"/><stop offset=".82" stop-color="#cc344d"/><stop offset=".825" stop-color="#9e0142"/><stop offset="1" stop-color="#9e0142"/></linearGradient>
<linearGradient id="g255"><stop offset="0" stop-color="#5e4fa2"/><stop offset=".25" stop-color="#5e4fa2"/><stop offset=".255" stop-color="#3c94b8"/><stop offset=".26" stop-color="#3c94b8"/><stop offset=".265" stop-color="#a1d9a4"/><stop offset=".325" stop-color="#a1d9a4"/><stop offset=".33" stop-color="#51abaf"/><stop offset=".34" stop-color="#51abaf"/><stop offset=".345" stop-color="#456fb1"/><stop offset=".35" stop-color="#3c93b8"/><stop offset=".365" stop-color="#68c3a5"/><stop offset=".39" stop-color="#b0dfa3"/><stop offset=".425" stop-color="#e8f69b"/><stop offset=".47" stop-color="#f6fcb2"/><stop offset=".74" stop-color="#fafdb7"/><stop offset=".745" stop-color="#ffffbf"/><stop offset=".77" stop-color="#fed481"/><stop offset=".805" stop-color="#f57647"/><stop offset=".82" stop-color="#d33c4f"/><stop offset=".825" stop-color="#a10443"/><stop offset="1" stop-color="#9e0142"/></linearGradient>
<linearGradient id="g256"><stop offset="0" stop-color="#5e4fa2"/><stop offset=".25" stop-color="#5e4fa2"/><stop offset=".255" stop-color="#3c94b8"/><stop offset=".26" stop-color="#b1dfa3"/><stop offset=".325" stop-color="#b1dfa3"/><stop offset=".33" stop-color="#51abaf"/><stop offset=".34" stop-color="#51abaf"/><stop offset=".345" stop-color="#456fb1"/><stop offset=".35" stop-color="#3d94b8"/><stop offset=".365" stop-color="#6ac3a5"/><stop offset=".39" stop-color="#b3e0a2"/><stop offset=".42" stop-color="#e6f598"/><stop offset=".465" stop-color="#f6fcb2"/><stop offset=".75" stop-color="#fffab7"/><stop offset=".775" stop-color="#fec978"/><stop offset=".81" stop-color="#f06645"/><stop offset=".82" stop-color="#d8434e"/><stop offset=".825" stop-color="#a80c44"/><stop offset=".835" stop-color="#9e0142"/><stop offset="1" stop-color="#9e0142"/></linearGradient>
<linearGradient id="g257"><stop offset="0" stop-color="#5e4fa2"/><stop offset=".25" stop-color="#5e4fa2"/><stop offset=".255" stop-color="#3c94b8"/><stop offset=".26" stop-color="#bfe5a0"/><stop offset=".325" stop-color="#bfe5a0"/><stop offset=".33" stop-color="#51abaf"/><stop offset=".34" stop-color="#51abaf"/><stop offset=".345" stop-color="#456fb1"/><stop offset=".35" stop-color="#3d94b8"/><stop offset=".365" stop-color="#6cc4a5"/><stop offset=".39" stop-color="#b6e1a2"/><stop offset=".42" stop-color="#e7f69a"/><stop offset=".46" stop-color="#f6fcb2"/><stop offset=".75" stop-color="#fffcba"/><stop offset=".775" stop-color="#fecd7b"/><stop offset=".81" stop-color="#f26944"/><stop offset=".82" stop-color="#dc484c"/><stop offset=".825" stop-color="#af1446"/><stop offset=".83" stop-color="#9e0142"/><stop offset="1" stop-color="#9e0142"/></linearGradient>
<linearGradient id="g258"><stop offset="0" stop-color="#5e4fa2"/><stop offset=".25" stop-color="#5e4fa2"/><stop offset=".255" stop-color="#3c94b8"/><stop offset=".26" stop-color="#ccea9d"/><stop offset=".325" stop-color="#ccea9d"/><stop offset=".33" stop-color="#51abaf"/><stop offset=".34" stop-color="#51abaf"/><stop offset=".345" stop-color="#456fb1"/><stop offset=".35" stop-color="#3e95b8"/><stop offset=".365" stop-color="#6ec5a5"/><stop offset=".39" stop-color="#b9e3a1"/><stop offset=".42" stop-color="#e9f69c"/><stop offset=".46" stop-color="#f6fcb2"/><stop offset=".75" stop-color="#fffebd"/><stop offset=".775" stop-color="#fed17e"/><stop offset=".81" stop-color="#f46d43"/><stop offset=".82" stop-color="#dd4a4c"/><stop offset=".825" stop-color="#b71c48"/><stop offset=".83" stop-color="#9e0142"/><stop offset="1" stop-color="#9e0142"/></linearGradient>
<linearGradient id="g259"><stop offset="0" stop-color="#5e4fa2"/><stop offset=".245" stop-color="#5e4fa2"/><stop offset=".25" stop-color="#3c94b8"/><stop offset=".255" stop-color="#3c94b8"/><stop offset=".26" stop-color="#d6ee9b"/><stop offset=".325" stop-color="#d6ee9b"/><stop offset=".33" stop-color="#51abaf"/><stop offset=".34" stop-color="#51abaf"/><stop offset=".345" stop-color="#456fb1"/><stop offset=".35" stop-color="#3e95b7"/><stop offset=".365" stop-color="#71c6a5"/><stop offset=".385" stop-color="#b0dfa3"/><stop offset=".415" stop-color="#e7f59a"/><stop offset=".455" stop-color="#f6fcb2"/><stop offset=".745" stop-color="#fafdb7"/><stop offset=".75" stop-color="#ffffbf"/><stop offset=".775" stop-color="#fed481"/><stop offset=".81" stop-color="#f57145"/><stop offset=".82" stop-color="#df4d4b"/><stop offset=".83" stop-color="#9e0142"/><stop offset="1" stop-color="#9e0142"/></linearGradient>
<linearGradient id="g260"><stop offset="0" stop-color="#5e4fa2"/><stop offset=".245" stop-color="#5e4fa2"/><stop offset=".25" stop-color="#3c94b8"/><stop offset=".255" stop-color="#3c94b8"/><stop offset=".26" stop-color="#d9f09b"/><stop offset=".325" stop-color="#d9f09b"/><stop offset=".33" stop-color="#51abaf"/><stop offset=".34" stop-color="#51abaf"/><stop offset=".345" stop-color="#456fb1"/><stop offset=".35" stop-color="#3f96b7"/><stop offset=".365" stop-color="#73c7a5"/><stop offset=".385" stop-color="#b3e0a2"/><stop offset=".415" stop-color="#e9f69c"/><stop offset=".45" stop-color="#f6fcb2"/><stop offset=".755" stop-color="#fffab7"/><stop offset=".78" stop-color="#feca78"/><stop offset=".815" stop-color="#ec6146"/><stop offset=".82" stop-color="#e1504a"/><stop offset=".83" stop-color="#9e0142"/><stop offset="1" stop-color="#9e0142"/></linearGradient>
<linearGradient id="g261"><stop offset="0" stop-color="#5e4fa2"/><stop offset=".245" stop-color="#5e4fa2"/><stop offset=".25" stop-color="#3c94b8"/><stop offset=".255" stop-color="#dcf19a"/><stop offset=".325" stop-color="#dcf19a"/><stop offset=".33" stop-color="#51abaf"/><stop offset=".34" stop-color="#51abaf"/><stop offset=".345" stop-color="#456fb1"/><stop offset=".35" stop-color="#3f97b7"/><stop offset=".365" stop-color="#76c8a5"/><stop offset=".385" stop-color="#b7e2a2"/><stop offset=".41" stop-color="#e7f599"/><stop offset=".45" stop-color="#f6fcb2"/><stop offset=".755" stop-color="#fffcba"/><stop offset=".78" stop-color="#fecd7b"/><stop offset=".815" stop-color="#ee6545"/><stop offset=".825" stop-color="#cc344d"/><stop offset=".83" stop-color="#9e0142"/><stop offset="1" stop-color="#9e0142"/></linearGradient>
<linearGradient id="g262"><stop offset="0" stop-color="#5e4fa2"/><stop offset=".245" stop-color="#5e4fa2"/><stop offset=".25" stop-color="#3c94b8"/><stop offset=".255" stop-color="#e0f299"/><stop offset=".325" stop-color="#e0f299"/><stop offset=".33" stop-color="#51abaf"/><stop offset=".34" stop-color="#51abaf"/><stop offset=".345" stop-color="#456fb1"/><stop offset=".35" stop-color="#4097b7"/><stop offset=".36" stop-color="#65c1a6"/><stop offset=".385" stop-color="#bae3a1"/><stop offset=".41" stop-color="#e8f69b"/><stop offset=".445" stop-color="#f6fcb2"/><stop offset=".755" stop-color="#fffebd"/><stop offset=".78" stop-color="#fed17e"/><stop offset=".815" stop-color="#f16844"/><stop offset=".825" stop-color="#d33c4f"/><stop offset=".83" stop-color="#a10443"/><stop offset="1" stop-color="#9e0142"/></linearGradient>
<linearGradient id="g263"><stop offset="0" stop-color="#5e4fa2"/><stop offset=".245" stop-color="#5e4fa2"/><stop offset=".25" stop-color="#3c94b8"/><stop offset=".255" stop-color="#e3f499"/><stop offset=".325" stop-color="#e3f499"/><stop offset=".33" stop-color="#51abaf"/><stop offset=".34" stop-color="#51abaf"/><stop offset=".345" stop-color="#456fb1"/><stop offset=".35" stop-color="#4098b6"/><stop offset=".36" stop-color="#67c2a5"/><stop offset=".38" stop-color="#b1dfa3"/><stop offset=".405" stop-color="#e6f598"/><stop offset=".44" stop-color="#f6fcb2"/><stop offset=".75" stop-color="#fafdb7"/><stop offset=".755" stop-color="#ffffbe"/><stop offset=".78" stop-color="#fed581"/><stop offset=".815" stop-color="#f36b43"/><stop offset=".825" stop-color="#d8434e"/><stop offset=".83" stop-color="#a80c44"/><stop offset=".84" stop-color="#9e0142"/><stop offset="1" stop-color="#9e0142"/></linearGradient>
<linearGradient id="g264"><stop offset="0" stop-color="#5e4fa2"/><stop offset=".62" stop-color="#5e4fa2"/><stop offset=".625" stop-color="#4470b2"/><stop offset=".63" stop-color="#60bba8"/><stop offset=".64" stop-color="#a6dba4"/><stop offset=".655" stop-color="#e1f399"/><stop offset=".69" stop-color="#f7fcb2"/><stop offset=".755" stop-color="#fffdbb"/><stop offset=".79" stop-color="#fec978"/><stop offset=".835" stop-color="#f57446"/><stop offset=".86" stop-color="#d9444d"/><stop offset=".87" stop-color="#a40844"/><stop offset="1" stop-color="#9e0142"/></linearGradient>
<linearGradient id="g265"><stop offset="0" stop-color="#5e4fa2"/><stop offset=".62" stop-color="#5e4fa2"/><stop offset=".625" stop-color="#398fba"/><stop offset=".63" stop-color="#6bc4a5"/><stop offset=".64" stop-color="#aadda4"/><stop offset=".655" stop-color="#e0f399"/><stop offset=".695" stop-color="#f7fcb3"/><stop offset=".755" stop-color="#fffdbb"/><stop offset=".79" stop-color="#fec978"/><stop offset=".84" stop-color="#f36c43"/><stop offset=".86" stop-color="#dc484c"/><stop offset=".87" stop-color="#aa0f45"/><stop offset=".88" stop-color="#9e0142"/><stop offset="1" stop-color="#9e0142"/></linearGradient>
<linearGradient id="g266"><stop offset="0" stop-color="#5e4fa2"/><stop offset=".615" stop-color="#5e4fa2"/><stop offset=".62" stop-color="#4075b4"/><stop offset=".625" stop-color="#5cb6aa"/><stop offset=".64" stop-color="#b2e0a3"/><stop offset=".66" stop-color="#e9f69d"/><stop offset=".695" stop-color="#f7fcb2"/><stop offset=".755" stop-color="#fffdbb"/><stop offset=".79" stop-color="#fec978"/><stop offset=".84" stop-color="#f46d43"/><stop offset=".86" stop-color="#dd4a4c"/><stop offset=".875" stop-color="#9e0142"/><stop offset="1" stop-color="#9e0142"/></linearGradient>
<linearGradient id="g267"><stop offset="0" stop-color="#5e4fa2"/><stop offset=".61" stop-color="#5e4fa2"/><stop offset=".615" stop-color="#5160aa"/><stop offset=".62" stop-color="#4ca5b1"/><stop offset=".625" stop-color="#6bc4a5"/><stop offset=".635" stop-color="#a4daa4"/><stop offset=".655" stop-color="#e3f499"/><stop offset=".695" stop-color="#f7fcb2"/><stop offset=".755" stop-color="#fffdbb"/><stop offset=".79" stop-color="#fec978"/><stop offset=".84" stop-color="#f46e43"/><stop offset=".865" stop-color="#d23b4e"/><stop offset=".875" stop-color="#9e0142"/><stop offset="1" stop-color="#9e0142"/></linearGradient>
<linearGradient id="g268"><stop offset="0" stop-color="#5e4fa2"/><stop offset=".61" stop-color="#5e4fa2"/><stop offset=".615" stop-color="#3387bc"/><stop offset=".62" stop-color="#5db7a9"/><stop offset=".635" stop-color="#aadda4"/><stop offset=".655" stop-color="#e3f499"/><stop offset=".695" stop-color="#f7fcb2"/><stop offset=".755" stop-color="#fffdbb"/><stop offset=".79" stop-color="#fec978"/><stop offset=".84" stop-color="#f46f44"/><stop offset=".865" stop-color="#d7414e"/><stop offset=".875" stop-color="#a00343"/><stop offset="1" stop-color="#9e0142"/></linearGradient>
<linearGradient id="g269"><stop offset="0" stop-color="#5e4fa2"/><stop offset=".605" stop-color="#5e4fa2"/><stop offset=".61" stop-color="#4371b2"/><stop offset=".615" stop-color="#4ba4b2"/><stop offset=".625" stop-color="#7bcaa5"/><stop offset=".645" stop-color="#c3e79f"/><stop offset=".665" stop-color="#e8f69c"/><stop offset=".71" stop-color="#f7fcb3"/><stop offset=".755" stop-color="#fffdbb"/><stop offset=".79" stop-color="#fec978"/><stop offset=".84" stop-color="#f47044"/><stop offset=".865" stop-color="#da464d"/><stop offset=".875" stop-color="#a60a44"/><stop offset=".895" stop-color="#9e0142"/><stop offset="1" stop-color="#9e0142"/></linearGradient>
<linearGradient id="g270"><stop offset="0" stop-color="#5e4fa2"/><stop offset=".6" stop-color="#5e4fa2"/><stop offset=".605" stop-color="#4c67ad"/><stop offset=".61" stop-color="#3f97b7"/><stop offset=".62" stop-color="#6ac3a5"/><stop offset=".635" stop-color="#a3daa4"/><stop offset=".665" stop-color="#e3f499"/><stop offset=".725" stop-color="#f8fcb4"/><stop offset=".755" stop-color="#fffdbb"/><stop offset=".79" stop-color="#fec978"/><stop offset=".84" stop-color="#f47045"/><stop offset=".865" stop-color="#dc494c"/><stop offset=".875" stop-color="#ac1145"/><stop offset=".88" stop-color="#9e0142"/><stop offset="1" stop-color="#9e0142"/></linearGradient>
<linearGradient id="g271"><stop offset="0" stop-color="#5e4fa2"/><stop offset=".595" stop-color="#5e4fa2"/><stop offset=".6" stop-color="#4a69af"/><stop offset=".605" stop-color="#3d95b8"/><stop offset=".615" stop-color="#62bea7"/><stop offset=".635" stop-color="#a5dba4"/><stop offset=".67" stop-color="#e5f598"/><stop offset=".735" stop-color="#f9fcb5"/><stop offset=".755" stop-color="#fffdbb"/><stop offset=".79" stop-color="#fec978"/><stop offset=".84" stop-color="#f57145"/><stop offset=".865" stop-color="#dd4a4c"/><stop offset=".88" stop-color="#9e0142"/><stop offset="1" stop-color="#9e0142"/></linearGradient>
<linearGradient id="g272"><stop offset="0" stop-color="#5e4fa2"/><stop offset=".59" stop-color="#5e4fa2"/><stop offset=".6" stop-color="#3c93b8"/><stop offset=".615" stop-color="#6cc4a5"/><stop offset=".635" stop-color="#a7dba4"/><stop offset=".675" stop-color="#e6f599"/><stop offset=".755" stop-color="#fffdbb"/><stop offset=".79" stop-color="#fec978"/><stop offset=".84" stop-color="#f57245"/><stop offset=".87" stop-color="#d43d4f"/><stop offset=".88" stop-color="#9e0142"/><stop offset="1" stop-color="#9e0142"/></linearGradient>
<linearGradient id="g273"><stop offset="0" stop-color="#5e4fa2"/><stop offset=".585" stop-color="#5e4fa2"/><stop offset=".59" stop-color="#466fb1"/><stop offset=".595" stop-color="#3b92b9"/><stop offset=".615" stop-color="#75c8a5"/><stop offset=".64" stop-color="#b1dfa3"/><stop offset=".685" stop-color="#e9f69d"/><stop offset=".755" stop-color="#fffdbb"/><stop offset=".79" stop-color="#fec978"/><stop offset=".84" stop-color="#f57346"/><stop offset=".87" stop-color="#d8424e"/><stop offset=".88" stop-color="#a20543"/><stop offset="1" stop-color="#9e0142"/></linearGradient>
<linearGradient id="g274"><stop offset="0" stop-color="#5e4fa2"/><stop offset=".58" stop-color="#5e4fa2"/><stop offset=".585" stop-color="#3389bd"/><stop offset=".61" stop-color="#74c7a5"/><stop offset=".635" stop-color="#acdea4"/><stop offset=".685" stop-color="#e8f69c"/><stop offset=".755" stop-color="#fffdbb"/><stop offset=".79" stop-color="#fec978"/><stop offset=".84" stop-color="#f57446"/><stop offset=".87" stop-color="#db474d"/><stop offset=".88" stop-color="#a80c44"/><stop offset=".89" stop-color="#9e0142"/><stop offset="1" stop-color="#9e0142"/></linearGradient>
<linearGradient id="g275"><stop offset="0" stop-color="#5e4fa2"/><stop offset=".57" stop-color="#5e4fa2"/><stop offset=".575" stop-color="#4077b5"/><stop offset=".58" stop-color="#3b92b9"/><stop offset=".605" stop-color="#75c8a5"/><stop offset=".635" stop-color="#b2e0a3"/><stop offset=".685" stop-color="#e8f69b"/><stop offset=".755" stop-color="#fffdbb"/><stop offset=".79" stop-color="#fec978"/><stop offset=".84" stop-color="#f57547"/><stop offset=".87" stop-color="#dc494c"/><stop offset=".885" stop-color="#9e0142"/><stop offset="1" stop-color="#9e0142"/></linearGradient>
<linearGradient id="g276"><stop offset="0" stop-color="#5e4fa2"/><stop offset=".56" stop-color="#5e4fa2"/><stop offset=".565" stop-color="#4f62ab"/><stop offset=".57" stop-color="#368dbb"/><stop offset=".6" stop-color="#77c9a5"/><stop offset=".635" stop-color="#b6e1a2"/><stop offset=".69" stop-color="#e9f69d"/><stop offset=".755" stop-color="#fffdbb"/><stop offset=".79" stop-color="#fec978"/><stop offset=".84" stop-color="#f57647"/><stop offset=".87" stop-color="#dd4a4c"/><stop offset=".875" stop-color="#d0384e"/><stop offset=".885" stop-color="#9e0142"/><stop offset="1" stop-color="#9e0142"/></linearGradient>
<linearGradient id="g277"><stop offset="0" stop-color="#5e4fa2"/><stop offset=".555" stop-color="#5e4fa2"/><stop offset=".56" stop-color="#3289bd"/><stop offset=".595" stop-color="#76c8a5"/><stop offset=".64" stop-color="#bde5a0"/><stop offset=".7" stop-color="#eaf79f"/><stop offset=".75" stop-color="#f6fbb1"/><stop offset=".755" stop-color="#ffffbf"/><stop offset=".79" stop-color="#fec978"/><stop offset=".835" stop-color="#f67f4b"/><stop offset=".86" stop-color="#e75948"/><stop offset=".875" stop-color="#d53f4f"/><stop offset=".885" stop-color="#9e0142"/><stop offset="1" stop-color="#9e0142"/></linearGradient>
<linearGradient id="g278"><stop offset="0" stop-color="#5e4fa2"/><stop offset=".535" stop-color="#5e4fa2"/><stop offset=".54" stop-color="#4e63ac"/><stop offset=".545" stop-color="#358cbb"/><stop offset=".58" stop-color="#72c7a5"/><stop offset=".62" stop-color="#b0dfa3"/><stop offset=".69" stop-color="#e9f69d"/><stop offset=".75" stop-color="#f6fbb1"/><stop offset=".755" stop-color="#fefebd"/><stop offset=".79" stop-color="#fec978"/><stop offset=".835" stop-color="#f77f4b"/><stop offset=".865" stop-color="#e35449"/><stop offset=".875" stop-color="#d9444e"/><stop offset=".885" stop-color="#a40743"/><stop offset="1" stop-color="#9e0142"/></linearGradient>
<linearGradient id="g279"><stop offset="0" stop-color="#5e4fa2"/><stop offset=".52" stop-color="#5e4fa2"/><stop offset=".525" stop-color="#3584bb"/><stop offset=".565" stop-color="#70c6a5"/><stop offset=".61" stop-color="#b1dfa3"/><stop offset=".685" stop-color="#e9f69c"/><stop offset=".75" stop-color="#f6fbb1"/><stop offset=".755" stop-color="#fdfebc"/><stop offset=".79" stop-color="#fec978"/><stop offset=".835" stop-color="#f7804c"/><stop offset=".865" stop-color="#e45549"/><stop offset=".875" stop-color="#db484d"/><stop offset=".885" stop-color="#aa0e45"/><stop offset=".895" stop-color="#9e0142"/><stop offset="1" stop-color="#9e0142"/></linearGradient>
<linearGradient id="g280"><stop offset="0" stop-color="#5e4fa2"/><stop offset=".5" stop-color="#5e4fa2"/><stop offset=".51" stop-color="#358cbb"/><stop offset=".555" stop-color="#77c9a5"/><stop offset=".61" stop-color="#bbe4a1"/><stop offset=".685" stop-color="#eaf69e"/><stop offset=".75" stop-color="#f6fbb0"/><stop offset=".755" stop-color="#fdfebb"/><stop offset=".79" stop-color="#fec978"/><stop offset=".835" stop-color="#f7814c"/><stop offset=".865" stop-color="#e55649"/><stop offset=".875" stop-color="#dc494c"/><stop offset=".89" stop-color="#9e0142"/><stop offset="1" stop-color="#9e0142"/></linearGradient>
<linearGradient id="g281"><stop offset="0" stop-color="#5e4fa2"/><stop offset=".485" stop-color="#5b53a4"/><stop offset=".49" stop-color="#3389bd"/><stop offset=".54" stop-color="#76c8a5"/><stop offset=".6" stop-color="#bbe4a1"/><stop offset=".685" stop-color="#eaf79f"/><stop offset=".75" stop-color="#f6fbb1"/><stop offset=".755" stop-color="#fdfebb"/><stop offset=".79" stop-color="#fec978"/><stop offset=".835" stop-color="#f7814c"/><stop offset=".865" stop-color="#e65749"/><stop offset=".88" stop-color="#d13a4e"/><stop offset=".89" stop-color="#9e0142"/><stop offset="1" stop-color="#9e0142"/></linearGradient>
<linearGradient id="g282"><stop offset="0" stop-color="#5e4fa2"/><stop offset=".46" stop-color="#5e4fa2"/><stop offset=".47" stop-color="#358bbc"/><stop offset=".52" stop-color="#73c7a5"/><stop offset=".575" stop-color="#b2e0a3"/><stop offset=".67" stop-color="#e9f69d"/><stop offset=".75" stop-color="#fbfdb8"/><stop offset=".755" stop-color="#fffebe"/><stop offset=".79" stop-color="#fec978"/><stop offset=".835" stop-color="#f7824d"/><stop offset=".865" stop-color="#e65848"/><stop offset=".88" stop-color="#d6404e"/><stop offset=".89" stop-color="#a00342"/><stop offset="1" stop-color="#9e0142"/></linearGradient>
<linearGradient id="g283"><stop offset="0" stop-color="#5e4fa2"/><stop offset=".44" stop-color="#5e4fa2"/><stop offset=".445" stop-color="#3880b9"/><stop offset=".5" stop-color="#70c6a5"/><stop offset=".56" stop-color="#b1e0a3"/><stop offset=".66" stop-color="#e9f69d"/><stop offset=".745" stop-color="#f6fbb1"/><stop offset=".755" stop-color="#fffdbb"/><stop offset=".79" stop-color="#fec978"/><stop offset=".835" stop-color="#f7824d"/><stop offset=".86" stop-color="#eb5f46"/><stop offset=".88" stop-color="#da454d"/><stop offset=".89" stop-color="#a60944"/><stop offset=".92" stop-color="#9e0142"/><stop offset="1" stop-color="#9e0142"/></linearGradient>
<linearGradient id="g284"><stop offset="0" stop-color="#5e4fa2"/><stop offset=".415" stop-color="#5e4fa2"/><stop offset=".42" stop-color="#555ba8"/><stop offset=".425" stop-color="#3389bc"/><stop offset=".485" stop-color="#75c8a5"/><stop offset=".545" stop-color="#b1dfa3"/><stop offset=".65" stop-color="#e9f69c"/><stop offset=".745" stop-color="#f8fcb5"/><stop offset=".755" stop-color="#fffdbb"/><stop offset=".79" stop-color="#fec978"/><stop offset=".835" stop-color="#f7834d"/><stop offset=".86" stop-color="#ec6046"/><stop offset=".88" stop-color="#dc484c"/><stop offset=".89" stop-color="#ab1045"/><stop offset=".895" stop-color="#9e0142"/><stop offset="1" stop-color="#9e0142"/></linearGradient>
<linearGradient id="g285"><stop offset="0" stop-color="#5e4fa2"/><stop offset=".395" stop-color="#5e4fa2"/><stop offset=".405" stop-color="#358bbc"/><stop offset=".465" stop-color="#75c8a5"/><stop offset=".53" stop-color="#b4e1a2"/><stop offset=".64" stop-color="#eaf69e"/><stop offset=".755" stop-color="#fffebd"/><stop offset=".79" stop-color="#fecc7a"/><stop offset=".83" stop-color="#f88c51"/><stop offset=".86" stop-color="#ec6246"/><stop offset=".88" stop-color="#dd4a4c"/><stop offset=".895" stop-color="#9e0142"/><stop offset="1" stop-color="#9e0142"/></linearGradient>
<linearGradient id="g286"><stop offset="0" stop-color="#5e4fa2"/><stop offset=".375" stop-color="#5e4fa2"/><stop offset=".38" stop-color="#3e78b5"/><stop offset=".385" stop-color="#368cbb"/><stop offset=".445" stop-color="#78c9a5"/><stop offset=".52" stop-color="#bee5a0"/><stop offset=".615" stop-color="#eaf79e"/><stop offset=".76" stop-color="#fffbb8"/><stop offset=".795" stop-color="#fdc675"/><stop offset=".85" stop-color="#f57145"/><stop offset=".885" stop-color="#d63f4f"/><stop offset=".895" stop-color="#9e0142"/><stop offset="1" stop-color="#9e0142"/></linearGradient>
<linearGradient id="g287"><stop offset="0" stop-color="#5e4fa2"/><stop offset=".355" stop-color="#5e4fa2"/><stop offset=".36" stop-color="#3782ba"/><stop offset=".42" stop-color="#75c8a5"/><stop offset=".48" stop-color="#b3e0a2"/><stop offset=".585" stop-color="#eaf69d"/><stop offset=".76" stop-color="#fffdbc"/><stop offset=".795" stop-color="#fecb79"/><stop offset=".835" stop-color="#f88b51"/><stop offset=".865" stop-color="#eb6046"/><stop offset=".885" stop-color="#da464d"/><stop offset=".895" stop-color="#a60a44"/><stop offset=".915" stop-color="#9e0142"/><stop offset="1" stop-color="#9e0142"/></linearGradient>
<linearGradient id="g288"><stop offset="0" stop-color="#5e4fa2"/><stop offset=".335" stop-color="#5d50a2"/><stop offset=".34" stop-color="#3288bd"/><stop offset=".4" stop-color="#78c9a5"/><stop offset=".475" stop-color="#c1e69f"/><stop offset=".56" stop-color="#eaf79e"/><stop offset=".71" stop-color="#f9fcb5"/><stop offset=".765" stop-color="#fffab7"/><stop offset=".8" stop-color="#fdc574"/><stop offset=".855" stop-color="#f46f44"/><stop offset=".885" stop-color="#dc494c"/><stop offset=".9" stop-color="#9e0142"/><stop offset="1" stop-color="#9e0142"/></linearGradient>
<linearGradient id="g289"><stop offset="0" stop-color="#5e4fa2"/><stop offset=".315" stop-color="#5e4fa2"/><stop offset=".32" stop-color="#5758a6"/><stop offset=".325" stop-color="#3389bc"/><stop offset=".38" stop-color="#75c8a5"/><stop offset=".44" stop-color="#b5e1a2"/><stop offset=".54" stop-color="#eaf79e"/><stop offset=".68" stop-color="#f8fcb4"/><stop offset=".765" stop-color="#fffdbb"/><stop offset=".8" stop-color="#feca78"/><stop offset=".845" stop-color="#f7814c"/><stop offset=".875" stop-color="#e65749"/><stop offset=".89" stop-color="#d23b4e"/><stop offset=".9" stop-color="#9e0142"/><stop offset="1" stop-color="#9e0142"/></linearGradient>
<linearGradient id="g290"><stop offset="0" stop-color="#5e4fa2"/><stop offset=".305" stop-color="#5e4fa2"/><stop offset=".315" stop-color="#358bbc"/><stop offset=".37" stop-color="#79caa5"/><stop offset=".44" stop-color="#c1e6a0"/><stop offset=".525" stop-color="#eaf79f"/><stop offset=".655" stop-color="#f8fcb3"/><stop offset=".765" stop-color="#ffffbe"/><stop offset=".8" stop-color="#fecf7c"/><stop offset=".835" stop-color="#f99555"/><stop offset=".865" stop-color="#f06645"/><stop offset=".89" stop-color="#d8424e"/><stop offset=".9" stop-color="#a20543"/><stop offset="1" stop-color="#9e0142"/></linearGradient>
<linearGradient id="g291"><stop offset="0" stop-color="#5e4fa2"/><stop offset=".295" stop-color="#5e4fa2"/><stop offset=".3" stop-color="#3c7bb7"/><stop offset=".31" stop-color="#3d94b8"/><stop offset=".355" stop-color="#76c8a5"/><stop offset=".415" stop-color="#b9e3a1"/><stop offset=".505" stop-color="#eaf79e"/><stop offset=".63" stop-color="#f7fcb3"/><stop offset=".77" stop-color="#fffcbb"/><stop offset=".805" stop-color="#fec978"/><stop offset=".85" stop-color="#f7804c"/><stop offset=".88" stop-color="#e45549"/><stop offset=".89" stop-color="#db484c"/><stop offset=".9" stop-color="#aa0e45"/><stop offset=".91" stop-color="#9e0142"/><stop offset="1" stop-color="#9e0142"/></linearGradient>
<linearGradient id="g292"><stop offset="0" stop-color="#5e4fa2"/><stop offset=".285" stop-color="#5d50a3"/><stop offset=".29" stop-color="#3389bd"/><stop offset=".34" stop-color="#73c7a5"/><stop offset=".395" stop-color="#b4e1a2"/><stop offset=".485" stop-color="#eaf69d"/><stop offset=".605" stop-color="#f7fcb3"/><stop offset=".765" stop-color="#fbfdb8"/><stop offset=".77" stop-color="#ffffbf"/><stop offset=".805" stop-color="#fece7c"/><stop offset=".845" stop-color="#f88b51"/><stop offset=".875" stop-color="#ea5e47"/><stop offset=".89" stop-color="#dd4a4c"/><stop offset=".905" stop-color="#9e0142"/><stop offset="1" stop-color="#9e0142"/></linearGradient>
<linearGradient id="g293"><stop offset="0" stop-color="#5e4fa2"/><stop offset=".275" stop-color="#5e4fa2"/><stop offset=".28" stop-color="#3781ba"/><stop offset=".325" stop-color="#6cc4a5"/><stop offset=".375" stop-color="#addea4"/><stop offset=".46" stop-color="#e7f69a"/><stop offset=".585" stop-color="#f7fcb2"/><stop offset=".775" stop-color="#fffcba"/><stop offset=".81" stop-color="#fec877"/><stop offset=".86" stop-color="#f57647"/><stop offset=".895" stop-color="#d53f4f"/><stop offset=".905" stop-color="#9e0142"/><stop offset="1" stop-color="#9e0142"/></linearGradient>
<linearGradient id="g294"><stop offset="0" stop-color="#5e4fa2"/><stop offset=".265" stop-color="#5e4fa2"/><stop offset=".275" stop-color="#368cbb"/><stop offset=".32" stop-color="#74c8a5"/><stop offset=".375" stop-color="#b8e2a1"/><stop offset=".455" stop-color="#e9f69d"/><stop offset=".57" stop-color="#f7fcb2"/><stop offset=".775" stop-color="#ffffbe"/><stop offset=".81" stop-color="#fecd7b"/><stop offset=".85" stop-color="#f88a50"/><stop offset=".875" stop-color="#ed6246"/><stop offset=".895" stop-color="#da454d"/><stop offset=".905" stop-color="#a60a44"/><stop offset=".93" stop-color="#9e0142"/><stop offset="1" stop-color="#9e0142"/></linearGradient>
<linearGradient id="g295"><stop offset="0" stop-color="#5e4fa2"/><stop offset=".255" stop-color="#5e4fa2"/><stop offset=".26" stop-color="#5659a7"/><stop offset=".265" stop-color="#348abc"/><stop offset=".31" stop-color="#74c8a5"/><stop offset=".36" stop-color="#b4e1a2"/><stop offset=".44" stop-color="#e9f69d"/><stop offset=".55" stop-color="#f7fcb2"/><stop offset=".78" stop-color="#fffcb9"/><stop offset=".815" stop-color="#fec776"/><stop offset=".865" stop-color="#f57446"/><stop offset=".895" stop-color="#dc494c"/><stop offset=".91" stop-color="#9e0142"/><stop offset="1" stop-color="#9e0142"/></linearGradient>
<linearGradient id="g296"><stop offset="0" stop-color="#5e4fa2"/><stop offset=".25" stop-color="#5e4fa2"/><stop offset=".255" stop-color="#3781ba"/><stop offset=".295" stop-color="#6bc4a5"/><stop offset=".335" stop-color="#a6dba4"/><stop offset=".415" stop-color="#e6f599"/><stop offset=".53" stop-color="#f7fcb2"/><stop offset=".78" stop-color="#fffebe"/><stop offset=".815" stop-color="#fecc7a"/><stop offset=".855" stop-color="#f8884f"/><stop offset=".88" stop-color="#ec6046"/><stop offset=".895" stop-color="#dd4b4c"/><stop offset=".9" stop-color="#d23a4e"/><stop offset=".91" stop-color="#9e0142"/><stop offset="1" stop-color="#9e0142"/></linearGradient>
<linearGradient id="g297"><stop offset="0" stop-color="#5e4fa2"/><stop offset=".24" stop-color="#5e4fa2"/><stop offset=".245" stop-color="#3c7cb7"/><stop offset=".255" stop-color="#4097b7"/><stop offset=".29" stop-color="#76c8a5"/><stop offset=".34" stop-color="#b9e3a1"/><stop offset=".415" stop-color="#eaf79e"/><stop offset=".515" stop-color="#f7fcb2"/><stop offset=".785" stop-color="#fffbb9"/><stop offset=".82" stop-color="#fdc776"/><stop offset=".87" stop-color="#f57245"/><stop offset=".9" stop-color="#d7424e"/><stop offset=".91" stop-color="#a20543"/><stop offset="1" stop-color="#9e0142"/></linearGradient>
<linearGradient id="g298"><stop offset="0" stop-color="#5e4fa2"/><stop offset=".23" stop-color="#5e4fa2"/><stop offset=".235" stop-color="#4076b4"/><stop offset=".24" stop-color="#388eba"/><stop offset=".275" stop-color="#6fc6a5"/><stop offset=".32" stop-color="#b1e0a3"/><stop offset=".395" stop-color="#e9f69d"/><stop offset=".495" stop-color="#f7fcb2"/><stop offset=".785" stop-color="#fffebd"/><stop offset=".82" stop-color="#fecb7a"/><stop offset=".865" stop-color="#f67e4b"/><stop offset=".89" stop-color="#e55649"/><stop offset=".9" stop-color="#db484d"/><stop offset=".91" stop-color="#aa0e45"/><stop offset=".92" stop-color="#9e0142"/><stop offset="1" stop-color="#9e0142"/></linearGradient>
<linearGradient id="g299"><stop offset="0" stop-color="#5e4fa2"/><stop offset=".22" stop-color="#5e4fa2"/><stop offset=".23" stop-color="#378ebb"/><stop offset=".265" stop-color="#71c6a5"/><stop offset=".305" stop-color="#afdfa3"/><stop offset=".375" stop-color="#e8f69b"/><stop offset=".475" stop-color="#f7fcb2"/><stop offset=".79" stop-color="#fffbb8"/><stop offset=".825" stop-color="#fdc675"/><stop offset=".875" stop-color="#f47044"/><stop offset=".9" stop-color="#dd4a4c"/><stop offset=".915" stop-color="#9e0142"/><stop offset="1" stop-color="#9e0142"/></linearGradient>
<linearGradient id="g300"><stop offset="0" stop-color="#5e4fa2"/><stop offset=".21" stop-color="#5e4fa2"/><stop offset=".215" stop-color="#5160aa"/><stop offset=".22" stop-color="#358bbc"/><stop offset=".255" stop-color="#72c7a5"/><stop offset=".295" stop-color="#b1dfa3"/><stop offset=".365" stop-color="#e9f69d"/><stop offset=".46" stop-color="#f7fcb2"/><stop offset=".79" stop-color="#fffdbc"/><stop offset=".825" stop-color="#fecb79"/><stop offset=".87" stop-color="#f67c4a"/><stop offset=".9" stop-color="#de4c4b"/><stop offset=".905" stop-color="#d53e4f"/><stop offset=".915" stop-color="#9e0142"/><stop offset="1" stop-color="#9e0142"/></linearGradient>
<linearGradient id="g301"><stop offset="0" stop-color="#5e4fa2"/><stop offset=".205" stop-color="#5e4fa2"/><stop offset=".215" stop-color="#388eba"/><stop offset=".25" stop-color="#78c9a5"/><stop offset=".3" stop-color="#c2e69f"/><stop offset=".36" stop-color="#ebf79f"/><stop offset=".445" stop-color="#f7fcb2"/><stop offset=".795" stop-color="#fffab7"/><stop offset=".83" stop-color="#fdc574"/><stop offset=".88" stop-color="#f46d43"/><stop offset=".905" stop-color="#da454d"/><stop offset=".915" stop-color="#a50944"/><stop offset=".95" stop-color="#9e0142"/><stop offset="1" stop-color="#9e0142"/></linearGradient>
<linearGradient id="g302"><stop offset="0" stop-color="#5e4fa2"/><stop offset=".2" stop-color="#5e4fa2"/><stop offset=".205" stop-color="#3781ba"/><stop offset=".235" stop-color="#69c3a5"/><stop offset=".27" stop-color="#a9dca4"/><stop offset=".33" stop-color="#e5f598"/><stop offset=".425" stop-color="#f7fcb2"/><stop offset=".795" stop-color="#fffdbb"/><stop offset=".83" stop-color="#feca78"/><stop offset=".88" stop-color="#f57145"/><stop offset=".905" stop-color="#dc494c"/><stop offset=".915" stop-color="#ad1246"/><stop offset=".92" stop-color="#9e0142"/><stop offset="1" stop-color="#9e0142"/></linearGradient>
<linearGradient id="g303"><stop offset="0" stop-color="#5e4fa2"/><stop offset=".195" stop-color="#5955a5"/><stop offset=".2" stop-color="#348abc"/><stop offset=".23" stop-color="#6fc6a5"/><stop offset=".265" stop-color="#afdea3"/><stop offset=".325" stop-color="#e8f69b"/><stop offset=".41" stop-color="#f6fcb2"/><stop offset=".79" stop-color="#fafdb8"/><stop offset=".795" stop-color="#ffffbf"/><stop offset=".83" stop-color="#fecf7c"/><stop offset=".87" stop-color="#f8864f"/><stop offset=".895" stop-color="#e85b48"/><stop offset=".91" stop-color="#d13a4e"/><stop offset=".92" stop-color="#9e0142"/><stop offset="1" stop-color="#9e0142"/></linearGradient>
<linearGradient id="g304"><stop offset="0" stop-color="#5e4fa2"/><stop offset=".185" stop-color="#5e4fa2"/><stop offset=".19" stop-color="#4c66ad"/><stop offset=".195" stop-color="#378dbb"/><stop offset=".225" stop-color="#76c8a5"/><stop offset=".26" stop-color="#b5e1a2"/><stop offset=".315" stop-color="#e9f69c"/><stop offset=".395" stop-color="#f6fcb2"/><stop offset=".8" stop-color="#fffcbb"/><stop offset=".835" stop-color="#fec978"/><stop offset=".885" stop-color="#f46f44"/><stop offset=".91" stop-color="#d7414e"/><stop offset=".92" stop-color="#a10543"/><stop offset="1" stop-color="#9e0142"/></linearGradient>
<linearGradient id="g305"><stop offset="0" stop-color="#5e4fa2"/><stop offset=".18" stop-color="#5e4fa2"/><stop offset=".185" stop-color="#4d65ac"/><stop offset=".19" stop-color="#378dbb"/><stop offset=".215" stop-color="#6dc5a5"/><stop offset=".245" stop-color="#abdda4"/><stop offset=".3" stop-color="#e7f59a"/><stop offset=".38" stop-color="#f6fcb2"/><stop offset=".795" stop-color="#fbfdb8"/><stop offset=".8" stop-color="#ffffbf"/><stop offset=".835" stop-color="#fece7c"/><stop offset=".88" stop-color="#f67b4a"/><stop offset=".91" stop-color="#db484d"/><stop offset=".92" stop-color="#a90d45"/><stop offset=".93" stop-color="#9e0142"/><stop offset="1" stop-color="#9e0142"/></linearGradient>
<linearGradient id="g306"><stop offset="0" stop-color="#f5fbaf"/><stop offset=".181" stop-color="#fcfeba"/><stop offset=".231" stop-color="#f8fcb5"/><stop offset=".407" stop-color="#ecf8a2"/><stop offset=".769" stop-color="#fcfebb"/><stop offset="1" stop-color="#fcfebb"/></linearGradient>
<linearGradient id="g307"><stop offset="0" stop-color="#f5fbaf"/><stop offset=".181" stop-color="#fcfeba"/><stop offset=".231" stop-color="#f8fcb5"/><stop offset=".407" stop-color="#ebf7a0"/><stop offset=".764" stop-color="#fcfebb"/><stop offset="1" stop-color="#fcfebb"/></linearGradient>
<linearGradient id="g308"><stop offset="0" stop-color="#f5fbaf"/><stop offset=".181" stop-color="#fcfeba"/><stop offset=".231" stop-color="#f8fcb5"/><stop offset=".402" stop-color="#e9f69d"/><stop offset=".568" stop-color="#f5fbaf"/><stop offset=".824" stop-color="#fcfebb"/><stop offset="1" stop-color="#fcfebb"/></linearGradient>
<linearGradient id="g309"><stop offset="0" stop-color="#f5fbaf"/><stop offset=".221" stop-color="#fbfdb9"/><stop offset=".397" stop-color="#e7f599"/><stop offset=".543" stop-color="#f5fbaf"/><stop offset=".859" stop-color="#fcfebb"/><stop offset="1" stop-color="#fcfebb"/></linearGradient>
<linearGradient id="g310"><stop offset="0" stop-color="#f5fbaf"/><stop offset=".111" stop-color="#fdfebc"/><stop offset=".221" stop-color="#fbfeb9"/><stop offset=".382" stop-color="#e2f399"/><stop offset=".558" stop-color="#f5fbaf"/><stop offset=".839" stop-color="#fcfebb"/><stop offset="1" stop-color="#fcfebb"/></linearGradient>
<linearGradient id="g311"><stop offset="0" stop-color="#f5fbaf"/><stop offset=".095" stop-color="#fdfebc"/><stop offset=".151" stop-color="#fff2aa"/><stop offset=".216" stop-color="#fdfebc"/><stop offset=".362" stop-color="#dff299"/><stop offset=".437" stop-color="#ebf7a0"/><stop offset=".558" stop-color="#f5fbaf"/><stop offset=".839" stop-color="#fcfebb"/><stop offset="1" stop-color="#fcfebb"/></linearGradient>
<linearGradient id="g312"><stop offset="0" stop-color="#f5fbaf"/><stop offset=".095" stop-color="#fffbb9"/><stop offset=".141" stop-color="#fee898"/><stop offset=".216" stop-color="#feffbd"/><stop offset=".357" stop-color="#dcf19a"/><stop offset=".422" stop-color="#e5f498"/><stop offset=".518" stop-color="#f5fbaf"/><stop offset=".869" stop-color="#fdfebc"/><stop offset="1" stop-color="#fdfebb"/></linearGradient>
<linearGradient id="g313"><stop offset="0" stop-color="#f5fbaf"/><stop offset=".085" stop-color="#fffbb8"/><stop offset=".136" stop-color="#fedf8a"/><stop offset=".171" stop-color="#feeca0"/><stop offset=".221" stop-color="#fdfebb"/><stop offset=".342" stop-color="#ddf19a"/><stop offset=".402" stop-color="#d6ee9b"/><stop offset=".447" stop-color="#ebf79f"/><stop offset=".548" stop-color="#f5fbaf"/><stop offset=".769" stop-color="#fffdbc"/><stop offset="1" stop-color="#fdfebb"/></linearGradient>
<linearGradient id="g314"><stop offset="0" stop-color="#f5fbb0"/><stop offset=".075" stop-color="#fffcba"/><stop offset=".131" stop-color="#fed481"/><stop offset=".161" stop-color="#fee08b"/><stop offset=".221" stop-color="#fdfebc"/><stop offset=".332" stop-color="#ddf19a"/><stop offset=".392" stop-color="#ceeb9d"/><stop offset=".452" stop-color="#eaf79e"/><stop offset=".548" stop-color="#f5fbaf"/><stop offset=".704" stop-color="#fffdbb"/><stop offset=".894" stop-color="#fffdbc"/><stop offset="1" stop-color="#fdfebb"/></linearGradient>
<linearGradient id="g315"><stop offset="0" stop-color="#f5fbb0"/><stop offset=".065" stop-color="#fffdbb"/><stop offset=".126" stop-color="#feca79"/><stop offset=".156" stop-color="#fed07e"/><stop offset=".216" stop-color="#fffdbc"/><stop offset=".322" stop-color="#dff299"/><stop offset=".377" stop-color="#c7e99e"/><stop offset=".437" stop-color="#ddf29a"/><stop offset=".518" stop-color="#f4fbae"/><stop offset=".648" stop-color="#fdfebb"/><stop offset=".849" stop-color="#fff7b1"/><stop offset=".975" stop-color="#fdfebc"/><stop offset="1" stop-color="#fdfebb"/></linearGradient>
<linearGradient id="g316"><stop offset="0" stop-color="#f6fbb0"/><stop offset=".06" stop-color="#fffbb9"/><stop offset=".126" stop-color="#fdbe6e"/><stop offset=".151" stop-color="#fdc070"/><stop offset=".196" stop-color="#feefa5"/><stop offset=".221" stop-color="#ffffbf"/><stop offset=".317" stop-color="#ddf19a"/><stop offset=".372" stop-color="#c2e69f"/><stop offset=".432" stop-color="#d3ed9c"/><stop offset=".472" stop-color="#ecf8a2"/><stop offset=".588" stop-color="#f5fbb0"/><stop offset=".673" stop-color="#fffcba"/><stop offset=".819" stop-color="#fff1a8"/><stop offset=".97" stop-color="#fdfebd"/><stop offset="1" stop-color="#fdfebc"/></linearGradient>
<linearGradient id="g317"><stop offset="0" stop-color="#f6fbb1"/><stop offset=".05" stop-color="#fffcbb"/><stop offset=".101" stop-color="#fecb7a"/><stop offset=".136" stop-color="#fdae61"/><stop offset=".166" stop-color="#feca79"/><stop offset=".201" stop-color="#fff0a6"/><stop offset=".226" stop-color="#fdfebc"/><stop offset=".312" stop-color="#dcf19a"/><stop offset=".367" stop-color="#bce4a0"/><stop offset=".432" stop-color="#cdeb9d"/><stop offset=".472" stop-color="#eaf79f"/><stop offset=".563" stop-color="#f5fbaf"/><stop offset=".663" stop-color="#fffdbb"/><stop offset=".799" stop-color="#feeda0"/><stop offset=".975" stop-color="#fdfebd"/><stop offset="1" stop-color="#fdfebc"/></linearGradient>
<linearGradient id="g318"><stop offset="0" stop-color="#f7fcb2"/><stop offset=".04" stop-color="#fffdbc"/><stop offset=".085" stop-color="#fed582"/><stop offset=".126" stop-color="#fba35c"/><stop offset=".146" stop-color="#fca55d"/><stop offset=".196" stop-color="#feea9c"/><stop offset=".226" stop-color="#fefebd"/><stop offset=".302" stop-color="#def29a"/><stop offset=".362" stop-color="#b6e2a2"/><stop offset=".427" stop-color="#c3e79f"/><stop offset=".477" stop-color="#eaf69e"/><stop offset=".568" stop-color="#f5fbb0"/><stop offset=".663" stop-color="#fffbb9"/><stop offset=".789" stop-color="#fee999"/><stop offset=".905" stop-color="#fff7b2"/><stop offset=".985" stop-color="#fdfebc"/><stop offset="1" stop-color="#fdfebc"/></linearGradient>
<linearGradient id="g319"><stop offset="0" stop-color="#f8fcb4"/><stop offset=".035" stop-color="#fffbb9"/><stop offset=".08" stop-color="#fed07e"/><stop offset=".121" stop-color="#fa9b58"/><stop offset=".146" stop-color="#fba05b"/><stop offset=".191" stop-color="#fee696"/><stop offset=".226" stop-color="#fdfebc"/><stop offset=".296" stop-color="#dcf19a"/><stop offset=".357" stop-color="#addea4"/><stop offset=".422" stop-color="#b5e1a2"/><stop offset=".482" stop-color="#e9f69c"/><stop offset=".568" stop-color="#f5fbb0"/><stop offset=".658" stop-color="#fffcba"/><stop offset=".779" stop-color="#fee593"/><stop offset=".879" stop-color="#feefa4"/><stop offset=".975" stop-color="#feffbe"/><stop offset="1" stop-color="#fdfebc"/></linearGradient>
<linearGradient id="g320"><stop offset="0" stop-color="#fafdb7"/><stop offset=".025" stop-color="#fffcb9"/><stop offset=".07" stop-color="#fed380"/><stop offset=".111" stop-color="#fa9957"/><stop offset=".136" stop-color="#f99153"/><stop offset=".171" stop-color="#fecc7b"/><stop offset=".211" stop-color="#fff6b1"/><stop offset=".226" stop-color="#fdfebc"/><stop offset=".286" stop-color="#dff299"/><stop offset=".352" stop-color="#a2daa4"/><stop offset=".412" stop-color="#a5daa4"/><stop offset=".487" stop-color="#e8f69c"/><stop offset=".568" stop-color="#f5fbb0"/><stop offset=".658" stop-color="#fffbb8"/><stop offset=".774" stop-color="#fee18c"/><stop offset=".869" stop-color="#fee99b"/><stop offset=".975" stop-color="#ffffbf"/><stop offset="1" stop-color="#feffbd"/></linearGradient>
<linearGradient id="g321"><stop offset="0" stop-color="#fcfebb"/><stop offset=".02" stop-color="#fff9b5"/><stop offset=".065" stop-color="#fece7c"/><stop offset=".111" stop-color="#f88d52"/><stop offset=".136" stop-color="#f88b51"/><stop offset=".176" stop-color="#fed683"/><stop offset=".221" stop-color="#ffffbf"/><stop offset=".281" stop-color="#def29a"/><stop offset=".352" stop-color="#96d5a4"/><stop offset=".412" stop-color="#98d6a4"/><stop offset=".497" stop-color="#eaf79e"/><stop offset=".588" stop-color="#f6fbb0"/><stop offset=".653" stop-color="#fffcba"/><stop offset=".769" stop-color="#fedb87"/><stop offset=".864" stop-color="#fee593"/><stop offset=".975" stop-color="#fffebd"/><stop offset="1" stop-color="#ffffbe"/></linearGradient>
<linearGradient id="g322"><stop offset="0" stop-color="#fffebe"/><stop offset=".05" stop-color="#fed885"/><stop offset=".101" stop-color="#f88b51"/><stop offset=".131" stop-color="#f7804c"/><stop offset=".166" stop-color="#fdc574"/><stop offset=".191" stop-color="#fee899"/><stop offset=".221" stop-color="#feffbe"/><stop offset=".276" stop-color="#ddf19a"/><stop offset=".347" stop-color="#8cd1a4"/><stop offset=".407" stop-color="#89d0a4"/><stop offset=".462" stop-color="#bee5a0"/><stop offset=".503" stop-color="#eaf69e"/><stop offset=".588" stop-color="#f6fbb0"/><stop offset=".648" stop-color="#fffdbc"/><stop offset=".764" stop-color="#fed683"/><stop offset=".854" stop-color="#fede89"/><stop offset=".97" stop-color="#fffcbb"/><stop offset="1" stop-color="#fffebe"/></linearGradient>
<linearGradient id="g323"><stop offset="0" stop-color="#fffab7"/><stop offset=".045" stop-color="#fed380"/><stop offset=".095" stop-color="#f7844d"/><stop offset=".126" stop-color="#f57647"/><stop offset=".151" stop-color="#fca45d"/><stop offset=".186" stop-color="#fee594"/><stop offset=".221" stop-color="#fefebd"/><stop offset=".266" stop-color="#e2f499"/><stop offset=".342" stop-color="#82cda5"/><stop offset=".397" stop-color="#79c9a5"/><stop offset=".442" stop-color="#99d6a4"/><stop offset=".508" stop-color="#e9f69d"/><stop offset=".593" stop-color="#f6fbb1"/><stop offset=".648" stop-color="#fffcbb"/><stop offset=".759" stop-color="#fed17e"/><stop offset=".849" stop-color="#fed683"/><stop offset=".965" stop-color="#fffbb8"/><stop offset="1" stop-color="#fffdbc"/></linearGradient>
<linearGradient id="g324"><stop offset="0" stop-color="#fff5ae"/><stop offset=".04" stop-color="#fece7c"/><stop offset=".09" stop-color="#f67d4a"/><stop offset=".121" stop-color="#f46d43"/><stop offset=".146" stop-color="#fa9757"/><stop offset=".181" stop-color="#fee28e"/><stop offset=".216" stop-color="#fffebe"/><stop offset=".261" stop-color="#dcf19a"/><stop offset=".337" stop-color="#6cc4a5"/><stop offset=".397" stop-color="#60bba8"/><stop offset=".437" stop-color="#79c9a5"/><stop offset=".513" stop-color="#e7f59a"/><stop offset=".588" stop-color="#f5fbb0"/><stop offset=".648" stop-color="#fffcba"/><stop offset=".754" stop-color="#fecc7b"/><stop offset=".844" stop-color="#fece7c"/><stop offset=".96" stop-color="#fff9b4"/><stop offset="1" stop-color="#fffcba"/></linearGradient>
<linearGradient id="g325"><stop offset="0" stop-color="#feefa4"/><stop offset=".035" stop-color="#fec978"/><stop offset=".09" stop-color="#f47044"/><stop offset=".121" stop-color="#f16844"/><stop offset=".141" stop-color="#f88a51"/><stop offset=".176" stop-color="#fedd89"/><stop offset=".216" stop-color="#fdfebc"/><stop offset=".251" stop-color="#dcf19a"/><stop offset=".322" stop-color="#5fbaa8"/><stop offset=".372" stop-color="#469fb4"/><stop offset=".427" stop-color="#54aead"/><stop offset=".462" stop-color="#81cca5"/><stop offset=".523" stop-color="#e6f599"/><stop offset=".598" stop-color="#f6fbb1"/><stop offset=".643" stop-color="#fffdbc"/><stop offset=".754" stop-color="#fdc676"/><stop offset=".839" stop-color="#fdc675"/><stop offset=".95" stop-color="#fff6af"/><stop offset="1" stop-color="#fffab7"/></linearGradient>
<linearGradient id="g326"><stop offset="0" stop-color="#fee797"/><stop offset=".055" stop-color="#fa9756"/><stop offset=".09" stop-color="#f06844"/><stop offset=".121" stop-color="#f16844"/><stop offset=".146" stop-color="#fba15b"/><stop offset=".176" stop-color="#fee28f"/><stop offset=".211" stop-color="#feffbd"/><stop offset=".241" stop-color="#e3f499"/><stop offset=".312" stop-color="#5bb6aa"/><stop offset=".357" stop-color="#3990ba"/><stop offset=".417" stop-color="#3f96b7"/><stop offset=".462" stop-color="#6dc5a5"/><stop offset=".523" stop-color="#ddf19a"/><stop offset=".583" stop-color="#f4fbae"/><stop offset=".643" stop-color="#fffdbc"/><stop offset=".754" stop-color="#fdc171"/><stop offset=".834" stop-color="#fdbe6e"/><stop offset=".94" stop-color="#fff2a9"/><stop offset="1" stop-color="#fff9b4"/></linearGradient>
<linearGradient id="g327"><stop offset="0" stop-color="#fedd88"/><stop offset=".065" stop-color="#f57647"/><stop offset=".106" stop-color="#eb6046"/><stop offset=".126" stop-color="#f57748"/><stop offset=".166" stop-color="#fedc88"/><stop offset=".206" stop-color="#ffffbf"/><stop offset=".236" stop-color="#e5f598"/><stop offset=".307" stop-color="#58b2ac"/><stop offset=".352" stop-color="#3387bc"/><stop offset=".417" stop-color="#358bbc"/><stop offset=".467" stop-color="#69c3a5"/><stop offset=".523" stop-color="#d6ee9b"/><stop offset=".558" stop-color="#eff9a6"/><stop offset=".643" stop-color="#fffcbb"/><stop offset=".754" stop-color="#fdbb6c"/><stop offset=".834" stop-color="#fdb769"/><stop offset=".935" stop-color="#feefa4"/><stop offset="1" stop-color="#fff7b2"/></linearGradient>
<linearGradient id="g328"><stop offset="0" stop-color="#fecd7b"/><stop offset=".06" stop-color="#f47044"/><stop offset=".101" stop-color="#ea5e47"/><stop offset=".121" stop-color="#f57647"/><stop offset=".161" stop-color="#fedc88"/><stop offset=".201" stop-color="#ffffbe"/><stop offset=".236" stop-color="#dcf19a"/><stop offset=".296" stop-color="#5cb7aa"/><stop offset=".332" stop-color="#3389bd"/><stop offset=".387" stop-color="#3f78b5"/><stop offset=".432" stop-color="#358bbc"/><stop offset=".477" stop-color="#71c6a5"/><stop offset=".528" stop-color="#d5ee9b"/><stop offset=".558" stop-color="#edf8a4"/><stop offset=".643" stop-color="#fffcba"/><stop offset=".729" stop-color="#fdc574"/><stop offset=".794" stop-color="#fdab60"/><stop offset=".859" stop-color="#fdbe6e"/><stop offset=".925" stop-color="#feea9c"/><stop offset="1" stop-color="#fff5af"/></linearGradient>
<linearGradient id="g329"><stop offset="0" stop-color="#fdbe6e"/><stop offset=".055" stop-color="#f26a44"/><stop offset=".095" stop-color="#e95c47"/><stop offset=".116" stop-color="#f57446"/><stop offset=".156" stop-color="#fedc88"/><stop offset=".196" stop-color="#ffffbe"/><stop offset=".231" stop-color="#dff299"/><stop offset=".291" stop-color="#59b4ab"/><stop offset=".322" stop-color="#3288bd"/><stop offset=".372" stop-color="#476db0"/><stop offset=".427" stop-color="#3b7cb7"/><stop offset=".447" stop-color="#3990ba"/><stop offset=".487" stop-color="#7acaa5"/><stop offset=".533" stop-color="#d5ee9c"/><stop offset=".563" stop-color="#edf8a3"/><stop offset=".643" stop-color="#fffcb9"/><stop offset=".719" stop-color="#fec978"/><stop offset=".779" stop-color="#fca45d"/><stop offset=".844" stop-color="#fdaf62"/><stop offset=".925" stop-color="#fee899"/><stop offset="1" stop-color="#fff4ac"/></linearGradient>
<linearGradient id="g330"><stop offset="0" stop-color="#fdaf62"/><stop offset=".05" stop-color="#ef6645"/><stop offset=".09" stop-color="#e75a48"/><stop offset=".111" stop-color="#f57346"/><stop offset=".151" stop-color="#fedd88"/><stop offset=".186" stop-color="#fffcbb"/><stop offset=".211" stop-color="#f2faaa"/><stop offset=".231" stop-color="#d5ee9b"/><stop offset=".286" stop-color="#5ab4ab"/><stop offset=".317" stop-color="#3387bc"/><stop offset=".367" stop-color="#4b68ae"/><stop offset=".427" stop-color="#4076b5"/><stop offset=".447" stop-color="#3389bc"/><stop offset=".492" stop-color="#79caa5"/><stop offset=".538" stop-color="#d3ed9c"/><stop offset=".568" stop-color="#edf8a3"/><stop offset=".638" stop-color="#fffebd"/><stop offset=".714" stop-color="#feca79"/><stop offset=".774" stop-color="#fb9d59"/><stop offset=".839" stop-color="#fca45c"/><stop offset=".925" stop-color="#fee696"/><stop offset="1" stop-color="#fff2a9"/></linearGradient>
<linearGradient id="g331"><stop offset="0" stop-color="#fb9d59"/><stop offset=".04" stop-color="#ef6645"/><stop offset=".085" stop-color="#e65848"/><stop offset=".106" stop-color="#f57245"/><stop offset=".146" stop-color="#fedd88"/><stop offset=".181" stop-color="#fffebd"/><stop offset=".221" stop-color="#e3f499"/><stop offset=".281" stop-color="#5ab5ab"/><stop offset=".312" stop-color="#3386bc"/><stop offset=".362" stop-color="#4d64ac"/><stop offset=".427" stop-color="#4471b2"/><stop offset=".452" stop-color="#3389bd"/><stop offset=".497" stop-color="#79caa5"/><stop offset=".543" stop-color="#d2ed9c"/><stop offset=".573" stop-color="#ecf8a2"/><stop offset=".638" stop-color="#fffebd"/><stop offset=".709" stop-color="#fecc7a"/><stop offset=".769" stop-color="#fa9757"/><stop offset=".834" stop-color="#fa9857"/><stop offset=".894" stop-color="#fece7c"/><stop offset=".945" stop-color="#feea9c"/><stop offset="1" stop-color="#fff1a7"/></linearGradient>
<linearGradient id="g332"><stop offset="0" stop-color="#f88c51"/><stop offset=".035" stop-color="#ed6246"/><stop offset=".08" stop-color="#e55649"/><stop offset=".101" stop-color="#f47145"/><stop offset=".141" stop-color="#fedc88"/><stop offset=".171" stop-color="#fffdbb"/><stop offset=".211" stop-color="#eaf79e"/><stop offset=".276" stop-color="#5ab5aa"/><stop offset=".307" stop-color="#3386bc"/><stop offset=".357" stop-color="#5061ab"/><stop offset=".422" stop-color="#4a69ae"/><stop offset=".457" stop-color="#3389bd"/><stop offset=".503" stop-color="#79caa5"/><stop offset=".548" stop-color="#d0ec9c"/><stop offset=".578" stop-color="#ecf7a1"/><stop offset=".638" stop-color="#fffebd"/><stop offset=".704" stop-color="#fece7c"/><stop offset=".759" stop-color="#fa9556"/><stop offset=".819" stop-color="#f88a51"/><stop offset=".869" stop-color="#fdaf62"/><stop offset=".93" stop-color="#fee492"/><stop offset="1" stop-color="#feefa4"/></linearGradient>
<linearGradient id="g333"><stop offset="0" stop-color="#f67d4a"/><stop offset=".05" stop-color="#e35449"/><stop offset=".08" stop-color="#e75948"/><stop offset=".101" stop-color="#f67d4a"/><stop offset=".136" stop-color="#fedc88"/><stop offset=".166" stop-color="#fffebe"/><stop offset=".211" stop-color="#e6f598"/><stop offset=".271" stop-color="#5bb5aa"/><stop offset=".302" stop-color="#3386bc"/><stop offset=".352" stop-color="#535ea9"/><stop offset=".422" stop-color="#4e64ac"/><stop offset=".462" stop-color="#3389bd"/><stop offset=".508" stop-color="#79c9a5"/><stop offset=".558" stop-color="#d6ef9b"/><stop offset=".593" stop-color="#eff9a6"/><stop offset=".638" stop-color="#fffebd"/><stop offset=".704" stop-color="#fecb7a"/><stop offset=".759" stop-color="#f98e52"/><stop offset=".814" stop-color="#f7814c"/><stop offset=".859" stop-color="#fb9c59"/><stop offset=".93" stop-color="#fee28f"/><stop offset="1" stop-color="#feeea2"/></linearGradient>
<linearGradient id="g334"><stop offset="0" stop-color="#f57547"/><stop offset=".055" stop-color="#e1504a"/><stop offset=".08" stop-color="#e75a48"/><stop offset=".101" stop-color="#f7834d"/><stop offset=".136" stop-color="#fee28e"/><stop offset=".161" stop-color="#fffebd"/><stop offset=".211" stop-color="#ddf19a"/><stop offset=".266" stop-color="#5bb6aa"/><stop offset=".296" stop-color="#3386bc"/><stop offset=".352" stop-color="#5659a7"/><stop offset=".422" stop-color="#515faa"/><stop offset=".467" stop-color="#3288bd"/><stop offset=".513" stop-color="#79c9a5"/><stop offset=".563" stop-color="#d5ee9b"/><stop offset=".598" stop-color="#eff8a6"/><stop offset=".638" stop-color="#ffffbe"/><stop offset=".698" stop-color="#fed07e"/><stop offset=".759" stop-color="#f8874f"/><stop offset=".814" stop-color="#f67848"/><stop offset=".859" stop-color="#f99355"/><stop offset=".93" stop-color="#fee08b"/><stop offset="1" stop-color="#feeca0"/></linearGradient>
<linearGradient id="g335"><stop offset="0" stop-color="#f46f44"/><stop offset=".055" stop-color="#df4e4b"/><stop offset=".08" stop-color="#e85a48"/><stop offset=".095" stop-color="#f67848"/><stop offset=".131" stop-color="#fedc88"/><stop offset=".156" stop-color="#fffdbc"/><stop offset=".206" stop-color="#def29a"/><stop offset=".261" stop-color="#5bb6aa"/><stop offset=".291" stop-color="#3386bc"/><stop offset=".347" stop-color="#5856a6"/><stop offset=".417" stop-color="#5758a6"/><stop offset=".472" stop-color="#3288bd"/><stop offset=".523" stop-color="#83cda5"/><stop offset=".573" stop-color="#daf09a"/><stop offset=".618" stop-color="#f5fbb0"/><stop offset=".643" stop-color="#fffcbb"/><stop offset=".698" stop-color="#fed07d"/><stop offset=".759" stop-color="#f7814c"/><stop offset=".809" stop-color="#f47044"/><stop offset=".854" stop-color="#f7854e"/><stop offset=".925" stop-color="#fed884"/><stop offset="1" stop-color="#feeb9e"/></linearGradient>
<linearGradient id="g336"><stop offset="0" stop-color="#f26a44"/><stop offset=".055" stop-color="#de4b4c"/><stop offset=".08" stop-color="#e85b48"/><stop offset=".095" stop-color="#f67c4a"/><stop offset=".131" stop-color="#fee18d"/><stop offset=".156" stop-color="#fdfebd"/><stop offset=".201" stop-color="#def29a"/><stop offset=".256" stop-color="#5bb6aa"/><stop offset=".286" stop-color="#3486bc"/><stop offset=".342" stop-color="#5a54a4"/><stop offset=".422" stop-color="#5956a5"/><stop offset=".477" stop-color="#3288bd"/><stop offset=".528" stop-color="#82cda5"/><stop offset=".578" stop-color="#d9f09b"/><stop offset=".613" stop-color="#f1f9a9"/><stop offset=".643" stop-color="#fffdbc"/><stop offset=".698" stop-color="#fecf7d"/><stop offset=".754" stop-color="#f7814c"/><stop offset=".799" stop-color="#f16944"/><stop offset=".849" stop-color="#f57747"/><stop offset=".93" stop-color="#fed783"/><stop offset="1" stop-color="#feea9c"/></linearGradient>
<linearGradient id="g337"><stop offset="0" stop-color="#f06645"/><stop offset=".055" stop-color="#dc494c"/><stop offset=".08" stop-color="#e95d47"/><stop offset=".095" stop-color="#f7804c"/><stop offset=".126" stop-color="#fedb87"/><stop offset=".151" stop-color="#ffffbf"/><stop offset=".196" stop-color="#dff299"/><stop offset=".236" stop-color="#80cca5"/><stop offset=".271" stop-color="#3f96b7"/><stop offset=".281" stop-color="#3288bd"/><stop offset=".337" stop-color="#5b53a4"/><stop offset=".427" stop-color="#5955a5"/><stop offset=".482" stop-color="#338abc"/><stop offset=".528" stop-color="#7acaa5"/><stop offset=".578" stop-color="#d3ed9c"/><stop offset=".603" stop-color="#ebf79f"/><stop offset=".643" stop-color="#fffebe"/><stop offset=".698" stop-color="#fecf7c"/><stop offset=".759" stop-color="#f57647"/><stop offset=".809" stop-color="#ed6346"/><stop offset=".854" stop-color="#f57245"/><stop offset=".925" stop-color="#fece7c"/><stop offset=".99" stop-color="#fee797"/><stop offset="1" stop-color="#fee99a"/></linearGradient>
<linearGradient id="g338"><stop offset="0" stop-color="#ed6346"/><stop offset=".055" stop-color="#db474d"/><stop offset=".08" stop-color="#ea5e47"/><stop offset=".095" stop-color="#f7854e"/><stop offset=".126" stop-color="#fedf8a"/><stop offset=".146" stop-color="#fffcb9"/><stop offset=".196" stop-color="#dcf19a"/><stop offset=".231" stop-color="#8ad0a4"/><stop offset=".261" stop-color="#4ca5b1"/><stop offset=".281" stop-color="#3386bc"/><stop offset=".342" stop-color="#5d50a2"/><stop offset=".432" stop-color="#5857a6"/><stop offset=".482" stop-color="#3288bd"/><stop offset=".533" stop-color="#81cda5"/><stop offset=".583" stop-color="#d7ef9b"/><stop offset=".613" stop-color="#eff9a6"/><stop offset=".643" stop-color="#ffffbf"/><stop offset=".698" stop-color="#fece7c"/><stop offset=".759" stop-color="#f47145"/><stop offset=".809" stop-color="#e95d47"/><stop offset=".859" stop-color="#f46e43"/><stop offset=".925" stop-color="#fec978"/><stop offset=".99" stop-color="#fee695"/><stop offset="1" stop-color="#fee899"/></linearGradient>
<linearGradient id="g339"><stop offset="0" stop-color="#eb5f47"/><stop offset=".055" stop-color="#da454d"/><stop offset=".08" stop-color="#eb6046"/><stop offset=".095" stop-color="#f88950"/><stop offset=".126" stop-color="#fee28f"/><stop offset=".146" stop-color="#fffebe"/><stop offset=".191" stop-color="#e0f299"/><stop offset=".226" stop-color="#95d4a4"/><stop offset=".256" stop-color="#51abae"/><stop offset=".281" stop-color="#3585bb"/><stop offset=".342" stop-color="#5e4fa2"/><stop offset=".432" stop-color="#5857a6"/><stop offset=".487" stop-color="#378dbb"/><stop offset=".533" stop-color="#7ecba5"/><stop offset=".583" stop-color="#d4ee9c"/><stop offset=".608" stop-color="#ebf7a1"/><stop offset=".648" stop-color="#fffcba"/><stop offset=".698" stop-color="#fece7c"/><stop offset=".759" stop-color="#f36c43"/><stop offset=".814" stop-color="#e55749"/><stop offset=".864" stop-color="#f36b43"/><stop offset=".925" stop-color="#fdc474"/><stop offset=".99" stop-color="#fee594"/><stop offset="1" stop-color="#fee898"/></linearGradient>
<linearGradient id="g340"><stop offset="0" stop-color="#e85b48"/><stop offset=".055" stop-color="#d9434e"/><stop offset=".08" stop-color="#ed6246"/><stop offset=".095" stop-color="#f98e52"/><stop offset=".126" stop-color="#fee594"/><stop offset=".146" stop-color="#fefebd"/><stop offset=".186" stop-color="#e3f499"/><stop offset=".216" stop-color="#addea4"/><stop offset=".251" stop-color="#57b2ac"/><stop offset=".276" stop-color="#348abc"/><stop offset=".337" stop-color="#5d51a3"/><stop offset=".432" stop-color="#5956a5"/><stop offset=".487" stop-color="#358bbc"/><stop offset=".533" stop-color="#7bcaa5"/><stop offset=".583" stop-color="#d2ed9c"/><stop offset=".608" stop-color="#ebf79f"/><stop offset=".648" stop-color="#fffdbb"/><stop offset=".698" stop-color="#fece7c"/><stop offset=".754" stop-color="#f46e43"/><stop offset=".804" stop-color="#e2514a"/><stop offset=".859" stop-color="#eb6046"/><stop offset=".884" stop-color="#f7804c"/><stop offset=".925" stop-color="#fdbf6f"/><stop offset=".99" stop-color="#fee593"/><stop offset="1" stop-color="#fee797"/></linearGradient>
<linearGradient id="g341"><stop offset="0" stop-color="#e65749"/><stop offset=".055" stop-color="#d8424e"/><stop offset=".08" stop-color="#ee6445"/><stop offset=".101" stop-color="#fca65d"/><stop offset=".126" stop-color="#fee899"/><stop offset=".141" stop-color="#fffdbc"/><stop offset=".186" stop-color="#e0f299"/><stop offset=".216" stop-color="#aadda4"/><stop offset=".251" stop-color="#55b0ad"/><stop offset=".276" stop-color="#3288bd"/><stop offset=".337" stop-color="#5d50a3"/><stop offset=".432" stop-color="#5955a5"/><stop offset=".487" stop-color="#348abc"/><stop offset=".533" stop-color="#78c9a5"/><stop offset=".588" stop-color="#d6ee9b"/><stop offset=".613" stop-color="#ecf8a2"/><stop offset=".648" stop-color="#fffebd"/><stop offset=".698" stop-color="#fece7c"/><stop offset=".754" stop-color="#f26a44"/><stop offset=".804" stop-color="#de4b4c"/><stop offset=".859" stop-color="#e75948"/><stop offset=".884" stop-color="#f57647"/><stop offset=".93" stop-color="#fdbf6f"/><stop offset=".995" stop-color="#fee594"/><stop offset="1" stop-color="#fee796"/></linearGradient>
<linearGradient id="g342"><stop offset="0" stop-color="#e3534a"/><stop offset=".05" stop-color="#d63f4f"/><stop offset=".075" stop-color="#e95c47"/><stop offset=".09" stop-color="#f8874f"/><stop offset=".121" stop-color="#fee390"/><stop offset=".141" stop-color="#ffffbe"/><stop offset=".181" stop-color="#e2f399"/><stop offset=".216" stop-color="#a7dba4"/><stop offset=".251" stop-color="#54adae"/><stop offset=".276" stop-color="#3387bc"/><stop offset=".337" stop-color="#5e50a2"/><stop offset=".437" stop-color="#5757a6"/><stop offset=".487" stop-color="#3288bd"/><stop offset=".538" stop-color="#7fcca5"/><stop offset=".593" stop-color="#daf09a"/><stop offset=".618" stop-color="#eef8a5"/><stop offset=".648" stop-color="#fffebe"/><stop offset=".698" stop-color="#fecf7d"/><stop offset=".749" stop-color="#f46f44"/><stop offset=".794" stop-color="#dc484c"/><stop offset=".854" stop-color="#e04f4b"/><stop offset=".889" stop-color="#f57647"/><stop offset=".935" stop-color="#fdbf6f"/><stop offset="1" stop-color="#fee695"/></linearGradient>
<linearGradient id="g343"><stop offset="0" stop-color="#e04f4b"/><stop offset=".05" stop-color="#d33c4f"/><stop offset=".075" stop-color="#ea5d47"/><stop offset=".09" stop-color="#f88b51"/><stop offset=".116" stop-color="#fedc88"/><stop offset=".136" stop-color="#fffcb9"/><stop offset=".181" stop-color="#dff299"/><stop offset=".211" stop-color="#b0dfa3"/><stop offset=".246" stop-color="#5ab4ab"/><stop offset=".276" stop-color="#3485bc"/><stop offset=".337" stop-color="#5e4fa2"/><stop offset=".437" stop-color="#5857a6"/><stop offset=".492" stop-color="#378dbb"/><stop offset=".538" stop-color="#7bcaa5"/><stop offset=".593" stop-color="#d8ef9b"/><stop offset=".623" stop-color="#f0f9a8"/><stop offset=".648" stop-color="#ffffbf"/><stop offset=".698" stop-color="#fed17e"/><stop offset=".749" stop-color="#f46f44"/><stop offset=".794" stop-color="#db464d"/><stop offset=".854" stop-color="#de4c4c"/><stop offset=".894" stop-color="#f67a49"/><stop offset=".94" stop-color="#fdc070"/><stop offset="1" stop-color="#fee594"/></linearGradient>
<linearGradient id="g344"><stop offset="0" stop-color="#dd4a4c"/><stop offset=".05" stop-color="#d0394e"/><stop offset=".075" stop-color="#eb5f47"/><stop offset=".085" stop-color="#f67d4a"/><stop offset=".116" stop-color="#fee08c"/><stop offset=".136" stop-color="#fffebe"/><stop offset=".176" stop-color="#e1f399"/><stop offset=".211" stop-color="#addea4"/><stop offset=".246" stop-color="#58b2ac"/><stop offset=".271" stop-color="#348abc"/><stop offset=".332" stop-color="#5d51a3"/><stop offset=".437" stop-color="#5956a5"/><stop offset=".492" stop-color="#358cbb"/><stop offset=".538" stop-color="#78c9a5"/><stop offset=".593" stop-color="#d5ee9b"/><stop offset=".618" stop-color="#edf8a2"/><stop offset=".653" stop-color="#fffdbb"/><stop offset=".698" stop-color="#fed481"/><stop offset=".754" stop-color="#f26a44"/><stop offset=".799" stop-color="#da454d"/><stop offset=".859" stop-color="#df4e4b"/><stop offset=".894" stop-color="#f57748"/><stop offset=".94" stop-color="#fdbe6e"/><stop offset="1" stop-color="#fee593"/></linearGradient>
<linearGradient id="g345"><stop offset="0" stop-color="#da464d"/><stop offset=".045" stop-color="#cb334d"/><stop offset=".07" stop-color="#e45549"/><stop offset=".08" stop-color="#f46e43"/><stop offset=".111" stop-color="#fed784"/><stop offset=".136" stop-color="#fefebd"/><stop offset=".171" stop-color="#e3f499"/><stop offset=".211" stop-color="#aadda4"/><stop offset=".246" stop-color="#56b0ac"/><stop offset=".271" stop-color="#3288bd"/><stop offset=".332" stop-color="#5d50a3"/><stop offset=".437" stop-color="#5955a5"/><stop offset=".492" stop-color="#348abc"/><stop offset=".543" stop-color="#7fcca5"/><stop offset=".598" stop-color="#d9f09b"/><stop offset=".623" stop-color="#eff8a5"/><stop offset=".653" stop-color="#fffebd"/><stop offset=".704" stop-color="#fece7c"/><stop offset=".754" stop-color="#f46d43"/><stop offset=".799" stop-color="#da464d"/><stop offset=".859" stop-color="#df4d4b"/><stop offset=".894" stop-color="#f57346"/><stop offset=".94" stop-color="#fdbb6c"/><stop offset="1" stop-color="#fee492"/></linearGradient>
<linearGradient id="g346"><stop offset="0" stop-color="#d8434e"/><stop offset=".045" stop-color="#c9314c"/><stop offset=".07" stop-color="#e55649"/><stop offset=".08" stop-color="#f47045"/><stop offset=".106" stop-color="#fecb7a"/><stop offset=".131" stop-color="#fffcb9"/><stop offset=".171" stop-color="#e1f399"/><stop offset=".206" stop-color="#b3e0a2"/><stop offset=".241" stop-color="#5db8a9"/><stop offset=".271" stop-color="#3288bd"/><stop offset=".332" stop-color="#5d50a2"/><stop offset=".437" stop-color="#5a55a5"/><stop offset=".492" stop-color="#3389bd"/><stop offset=".543" stop-color="#7dcba5"/><stop offset=".598" stop-color="#d7ef9b"/><stop offset=".623" stop-color="#eef8a4"/><stop offset=".653" stop-color="#ffffbe"/><stop offset=".704" stop-color="#fed07e"/><stop offset=".754" stop-color="#f46f44"/><stop offset=".799" stop-color="#da464d"/><stop offset=".859" stop-color="#de4c4b"/><stop offset=".899" stop-color="#f67b49"/><stop offset=".945" stop-color="#fdbe6f"/><stop offset="1" stop-color="#fee492"/></linearGradient></defs><rect width="1391" height="1529" fill="#fff"/><g shape-rendering="crispEdges"><rect x="405" y="82" width="201" height="4" fill="url(#g0)"/>
<rect x="405" y="86" width="201" height="4" fill="url(#g1)"/>
<rect x="405" y="90" width="201" height="4" fill="url(#g2)"/>
<rect x="405" y="94" width="201" height="4" fill="url(#g3)"/>
<rect x="405" y="98" width="201" height="4" fill="url(#g4)"/>
<rect x="405" y="102" width="201" height="4" fill="url(#g5)"/>
<rect x="405" y="106" width="201" height="4" fill="url(#g6)"/>
<rect x="405" y="110" width="201" height="4" fill="url(#g7)"/>
<rect x="405" y="114" width="201" height="4" fill="url(#g8)"/>
<rect x="405" y="118" width="201" height="4" fill="url(#g9)"/>
<rect x="405" y="122" width="201" height="4" fill="url(#g10)"/>
<rect x="405" y="126" width="201" height="4" fill="url(#g11)"/>
<rect x="405" y="130" width="201" height="4" fill="url(#g12)"/>
<rect x="405" y="134" width="201" height="4" fill="url(#g13)"/>
<rect x="405" y="138" width="201" height="4" fill="url(#g14)"/>
<rect x="405" y="142" width="201" height="4" fill="url(#g15)"/>
<rect x="405" y="146" width="201" height="4" fill="url(#g16)"/>
<rect x="405" y="150" width="201" height="4" fill="url(#g17)"/>
<rect x="405" y="154" width="201" height="4" fill="url(#g18)"/>
<rect x="405" y="158" width="201" height="4" fill="url(#g19)"/>
<rect x="405" y="162" width="201" height="4" fill="url(#g20)"/>
<rect x="405" y="166" width="201" height="4" fill="url(#g21)"/>
<rect x="405" y="170" width="201" height="4" fill="url(#g22)"/>
<rect x="405" y="174" width="201" height="4" fill="url(#g23)"/>
<rect x="405" y="178" width="201" height="4" fill="url(#g24)"/>
<rect x="405" y="182" width="201" height="4" fill="url(#g25)"/>
<rect x="405" y="186" width="201" height="4" fill="url(#g26)"/>
<rect x="405" y="190" width="201" height="4" fill="url(#g27)"/>
<rect x="405" y="194" width="201" height="4" fill="url(#g28)"/>
<rect x="405" y="198" width="201" height="4" fill="url(#g29)"/>
<rect x="405" y="202" width="201" height="4" fill="url(#g30)"/>
<rect x="405" y="206" width="201" height="4" fill="url(#g31)"/>
<rect x="405" y="210" width="201" height="4" fill="url(#g32)"/>
<rect x="405" y="214" width="201" height="4" fill="url(#g33)"/>
<rect x="405" y="218" width="201" height="4" fill="url(#g34)"/>
<rect x="405" y="222" width="201" height="4" fill="url(#g35)"/>
<rect x="405" y="226" width="201" height="4" fill="url(#g36)"/>
<rect x="405" y="230" width="201" height="4" fill="url(#g37)"/>
<rect x="405" y="234" width="201" height="4" fill="url(#g38)"/>
<rect x="405" y="238" width="201" height="4" fill="url(#g39)"/>
<rect x="405" y="242" width="201" height="4" fill="url(#g40)"/>
<rect x="405" y="246" width="201" height="4" fill="url(#g41)"/></g>
<g shape-rendering="crispEdges"><rect x="405" y="376" width="201" height="20" fill="url(#g42)"/>
<rect x="405" y="396" width="201" height="18" fill="url(#g43)"/>
<rect x="405" y="414" width="201" height="18" fill="url(#g44)"/>
<rect x="405" y="432" width="201" height="20" fill="url(#g45)"/>
<rect x="405" y="452" width="201" height="18" fill="url(#g46)"/>
<rect x="405" y="470" width="201" height="18" fill="url(#g47)"/>
<rect x="405" y="488" width="201" height="18" fill="url(#g48)"/>
<rect x="405" y="506" width="201" height="18" fill="url(#g49)"/>
<rect x="405" y="524" width="201" height="20" fill="url(#g42)"/></g>
<g shape-rendering="crispEdges"><rect x="406" y="664" width="200" height="34" fill="url(#g50)"/>
<rect x="406" y="698" width="200" height="32" fill="url(#g51)"/>
<rect x="406" y="730" width="200" height="34" fill="url(#g52)"/>
<rect x="406" y="764" width="200" height="34" fill="url(#g53)"/>
<rect x="406" y="798" width="200" height="34" fill="url(#g54)"/></g>
<g shape-rendering="crispEdges"><rect x="404" y="951" width="199" height="4" fill="url(#g55)"/>
<rect x="404" y="955" width="199" height="4" fill="url(#g56)"/>
<rect x="404" y="959" width="199" height="4" fill="url(#g57)"/>
<rect x="404" y="963" width="199" height="4" fill="url(#g58)"/>
<rect x="404" y="967" width="199" height="4" fill="url(#g59)"/>
<rect x="404" y="971" width="199" height="4" fill="url(#g60)"/>
<rect x="404" y="975" width="199" height="4" fill="url(#g61)"/>
<rect x="404" y="979" width="199" height="4" fill="url(#g62)"/>
<rect x="404" y="983" width="199" height="4" fill="url(#g63)"/>
<rect x="404" y="987" width="199" height="4" fill="url(#g64)"/>
<rect x="404" y="991" width="199" height="4" fill="url(#g65)"/>
<rect x="404" y="995" width="199" height="4" fill="url(#g66)"/>
<rect x="404" y="999" width="199" height="4" fill="url(#g67)"/>
<rect x="404" y="1003" width="199" height="4" fill="url(#g68)"/>
<rect x="404" y="1007" width="199" height="4" fill="url(#g69)"/>
<rect x="404" y="1011" width="199" height="4" fill="url(#g70)"/>
<rect x="404" y="1015" width="199" height="4" fill="url(#g71)"/>
<rect x="404" y="1019" width="199" height="4" fill="url(#g72)"/>
<rect x="404" y="1023" width="199" height="4" fill="url(#g73)"/>
<rect x="404" y="1027" width="199" height="4" fill="url(#g74)"/>
<rect x="404" y="1031" width="199" height="4" fill="url(#g75)"/>
<rect x="404" y="1035" width="199" height="4" fill="url(#g76)"/>
<rect x="404" y="1039" width="199" height="4" fill="url(#g77)"/>
<rect x="404" y="1043" width="199" height="4" fill="url(#g78)"/>
<rect x="404" y="1047" width="199" height="4" fill="url(#g79)"/>
<rect x="404" y="1051" width="199" height="4" fill="url(#g80)"/>
<rect x="404" y="1055" width="199" height="4" fill="url(#g81)"/>
<rect x="404" y="1059" width="199" height="4" fill="url(#g82)"/>
<rect x="404" y="1063" width="199" height="4" fill="url(#g83)"/>
<rect x="404" y="1067" width="199" height="4" fill="url(#g84)"/>
<rect x="404" y="1071" width="199" height="4" fill="url(#g85)"/>
<rect x="404" y="1075" width="199" height="4" fill="url(#g86)"/>
<rect x="404" y="1079" width="199" height="4" fill="url(#g87)"/>
<rect x="404" y="1083" width="199" height="4" fill="url(#g88)"/>
<rect x="404" y="1087" width="199" height="4" fill="url(#g89)"/>
<rect x="404" y="1091" width="199" height="4" fill="url(#g90)"/>
<rect x="404" y="1095" width="199" height="4" fill="url(#g91)"/>
<rect x="404" y="1099" width="199" height="4" fill="url(#g92)"/>
<rect x="404" y="1103" width="199" height="4" fill="url(#g93)"/>
<rect x="404" y="1107" width="199" height="4" fill="url(#g94)"/>
<rect x="404" y="1111" width="199" height="4" fill="url(#g95)"/>
<rect x="404" y="1115" width="199" height="3" fill="url(#g96)"/></g>
<g shape-rendering="crispEdges"><rect x="404" y="1269" width="199" height="4" fill="url(#g97)"/>
<rect x="404" y="1273" width="199" height="4" fill="url(#g98)"/>
<rect x="404" y="1277" width="199" height="4" fill="url(#g99)"/>
<rect x="404" y="1281" width="199" height="8" fill="url(#g100)"/>
<rect x="404" y="1289" width="199" height="4" fill="url(#g101)"/>
<rect x="404" y="1293" width="199" height="4" fill="url(#g102)"/>
<rect x="404" y="1297" width="199" height="4" fill="url(#g103)"/>
<rect x="404" y="1301" width="199" height="4" fill="url(#g104)"/>
<rect x="404" y="1305" width="199" height="4" fill="url(#g105)"/>
<rect x="404" y="1309" width="199" height="4" fill="url(#g106)"/>
<rect x="404" y="1313" width="199" height="4" fill="url(#g107)"/>
<rect x="404" y="1317" width="199" height="4" fill="url(#g108)"/>
<rect x="404" y="1321" width="199" height="4" fill="url(#g109)"/>
<rect x="404" y="1325" width="199" height="4" fill="url(#g110)"/>
<rect x="404" y="1329" width="199" height="4" fill="url(#g111)"/>
<rect x="404" y="1333" width="199" height="4" fill="url(#g112)"/>
<rect x="404" y="1337" width="199" height="4" fill="url(#g113)"/>
<rect x="404" y="1341" width="199" height="4" fill="url(#g114)"/>
<rect x="404" y="1345" width="199" height="4" fill="url(#g115)"/>
<rect x="404" y="1349" width="199" height="4" fill="url(#g116)"/>
<rect x="404" y="1353" width="199" height="4" fill="url(#g115)"/>
<rect x="404" y="1357" width="199" height="4" fill="url(#g117)"/>
<rect x="404" y="1361" width="199" height="4" fill="url(#g118)"/>
<rect x="404" y="1365" width="199" height="4" fill="url(#g119)"/>
<rect x="404" y="1369" width="199" height="4" fill="url(#g120)"/>
<rect x="404" y="1373" width="199" height="4" fill="url(#g121)"/>
<rect x="404" y="1377" width="199" height="4" fill="url(#g122)"/>
<rect x="404" y="1381" width="199" height="4" fill="url(#g123)"/>
<rect x="404" y="1385" width="199" height="4" fill="url(#g124)"/>
<rect x="404" y="1389" width="199" height="4" fill="url(#g125)"/>
<rect x="404" y="1393" width="199" height="4" fill="url(#g126)"/>
<rect x="404" y="1397" width="199" height="4" fill="url(#g127)"/>
<rect x="404" y="1401" width="199" height="4" fill="url(#g128)"/>
<rect x="404" y="1405" width="199" height="4" fill="url(#g129)"/>
<rect x="404" y="1409" width="199" height="4" fill="url(#g130)"/>
<rect x="404" y="1413" width="199" height="4" fill="url(#g131)"/>
<rect x="404" y="1417" width="199" height="4" fill="url(#g132)"/>
<rect x="404" y="1421" width="199" height="4" fill="url(#g133)"/>
<rect x="404" y="1425" width="199" height="4" fill="url(#g134)"/>
<rect x="404" y="1429" width="199" height="4" fill="url(#g135)"/>
<rect x="404" y="1433" width="199" height="1" fill="url(#g136)"/></g>
<g shape-rendering="crispEdges"><rect x="709" y="81" width="200" height="4" fill="url(#g137)"/>
<rect x="709" y="85" width="200" height="4" fill="url(#g138)"/>
<rect x="709" y="89" width="200" height="4" fill="url(#g139)"/>
<rect x="709" y="93" width="200" height="4" fill="url(#g140)"/>
<rect x="709" y="97" width="200" height="4" fill="url(#g141)"/>
<rect x="709" y="101" width="200" height="4" fill="url(#g142)"/>
<rect x="709" y="105" width="200" height="4" fill="url(#g143)"/>
<rect x="709" y="109" width="200" height="4" fill="url(#g144)"/>
<rect x="709" y="113" width="200" height="4" fill="url(#g145)"/>
<rect x="709" y="117" width="200" height="4" fill="url(#g146)"/>
<rect x="709" y="121" width="200" height="4" fill="url(#g147)"/>
<rect x="709" y="125" width="200" height="4" fill="url(#g148)"/>
<rect x="709" y="129" width="200" height="4" fill="url(#g149)"/>
<rect x="709" y="133" width="200" height="4" fill="url(#g150)"/>
<rect x="709" y="137" width="200" height="4" fill="url(#g151)"/>
<rect x="709" y="141" width="200" height="4" fill="url(#g152)"/>
<rect x="709" y="145" width="200" height="4" fill="url(#g153)"/>
<rect x="709" y="149" width="200" height="4" fill="url(#g154)"/>
<rect x="709" y="153" width="200" height="4" fill="url(#g155)"/>
<rect x="709" y="157" width="200" height="4" fill="url(#g156)"/>
<rect x="709" y="161" width="200" height="4" fill="url(#g157)"/>
<rect x="709" y="165" width="200" height="4" fill="url(#g158)"/>
<rect x="709" y="169" width="200" height="4" fill="url(#g159)"/>
<rect x="709" y="173" width="200" height="4" fill="url(#g160)"/>
<rect x="709" y="177" width="200" height="4" fill="url(#g161)"/>
<rect x="709" y="181" width="200" height="4" fill="url(#g162)"/>
<rect x="709" y="185" width="200" height="4" fill="url(#g163)"/>
<rect x="709" y="189" width="200" height="4" fill="url(#g164)"/>
<rect x="709" y="193" width="200" height="4" fill="url(#g165)"/>
<rect x="709" y="197" width="200" height="4" fill="url(#g166)"/>
<rect x="709" y="201" width="200" height="4" fill="url(#g167)"/>
<rect x="709" y="205" width="200" height="4" fill="url(#g168)"/>
<rect x="709" y="209" width="200" height="4" fill="url(#g169)"/>
<rect x="709" y="213" width="200" height="4" fill="url(#g170)"/>
<rect x="709" y="217" width="200" height="4" fill="url(#g171)"/>
<rect x="709" y="221" width="200" height="4" fill="url(#g172)"/>
<rect x="709" y="225" width="200" height="4" fill="url(#g173)"/>
<rect x="709" y="229" width="200" height="4" fill="url(#g174)"/>
<rect x="709" y="233" width="200" height="4" fill="url(#g175)"/>
<rect x="709" y="237" width="200" height="4" fill="url(#g176)"/>
<rect x="709" y="241" width="200" height="4" fill="url(#g177)"/>
<rect x="709" y="245" width="200" height="4" fill="url(#g178)"/>
<rect x="709" y="249" width="200" height="1" fill="url(#g179)"/></g>
<g shape-rendering="crispEdges"><rect x="709" y="376" width="200" height="4" fill="url(#g180)"/>
<rect x="709" y="380" width="200" height="4" fill="url(#g181)"/>
<rect x="709" y="384" width="200" height="4" fill="url(#g182)"/>
<rect x="709" y="388" width="200" height="4" fill="url(#g183)"/>
<rect x="709" y="392" width="200" height="4" fill="url(#g184)"/>
<rect x="709" y="396" width="200" height="4" fill="url(#g185)"/>
<rect x="709" y="400" width="200" height="4" fill="url(#g186)"/>
<rect x="709" y="404" width="200" height="4" fill="url(#g187)"/>
<rect x="709" y="408" width="200" height="4" fill="url(#g188)"/>
<rect x="709" y="412" width="200" height="4" fill="url(#g189)"/>
<rect x="709" y="416" width="200" height="4" fill="url(#g190)"/>
<rect x="709" y="420" width="200" height="4" fill="url(#g191)"/>
<rect x="709" y="424" width="200" height="4" fill="url(#g192)"/>
<rect x="709" y="428" width="200" height="4" fill="url(#g193)"/>
<rect x="709" y="432" width="200" height="4" fill="url(#g194)"/>
<rect x="709" y="436" width="200" height="4" fill="url(#g195)"/>
<rect x="709" y="440" width="200" height="4" fill="url(#g196)"/>
<rect x="709" y="444" width="200" height="4" fill="url(#g197)"/>
<rect x="709" y="448" width="200" height="4" fill="url(#g198)"/>
<rect x="709" y="452" width="200" height="4" fill="url(#g199)"/>
<rect x="709" y="456" width="200" height="4" fill="url(#g200)"/>
<rect x="709" y="460" width="200" height="4" fill="url(#g201)"/>
<rect x="709" y="464" width="200" height="4" fill="url(#g202)"/>
<rect x="709" y="468" width="200" height="4" fill="url(#g203)"/>
<rect x="709" y="472" width="200" height="4" fill="url(#g204)"/>
<rect x="709" y="476" width="200" height="4" fill="url(#g205)"/>
<rect x="709" y="480" width="200" height="4" fill="url(#g206)"/>
<rect x="709" y="484" width="200" height="4" fill="url(#g207)"/>
<rect x="709" y="488" width="200" height="4" fill="url(#g208)"/>
<rect x="709" y="492" width="200" height="4" fill="url(#g209)"/>
<rect x="709" y="496" width="200" height="4" fill="url(#g210)"/>
<rect x="709" y="500" width="200" height="4" fill="url(#g211)"/>
<rect x="709" y="504" width="200" height="4" fill="url(#g212)"/>
<rect x="709" y="508" width="200" height="4" fill="url(#g213)"/>
<rect x="709" y="512" width="200" height="4" fill="url(#g214)"/>
<rect x="709" y="516" width="200" height="4" fill="url(#g215)"/>
<rect x="709" y="520" width="200" height="4" fill="url(#g216)"/>
<rect x="709" y="524" width="200" height="4" fill="url(#g217)"/>
<rect x="709" y="528" width="200" height="4" fill="url(#g218)"/>
<rect x="709" y="532" width="200" height="4" fill="url(#g219)"/>
<rect x="709" y="536" width="200" height="4" fill="url(#g220)"/>
<rect x="709" y="540" width="200" height="4" fill="url(#g221)"/></g>
<g shape-rendering="crispEdges"><rect x="709" y="664" width="200" height="4" fill="url(#g222)"/>
<rect x="709" y="668" width="200" height="4" fill="url(#g223)"/>
<rect x="709" y="672" width="200" height="4" fill="url(#g224)"/>
<rect x="709" y="676" width="200" height="4" fill="url(#g225)"/>
<rect x="709" y="680" width="200" height="4" fill="url(#g226)"/>
<rect x="709" y="684" width="200" height="4" fill="url(#g227)"/>
<rect x="709" y="688" width="200" height="4" fill="url(#g228)"/>
<rect x="709" y="692" width="200" height="4" fill="url(#g229)"/>
<rect x="709" y="696" width="200" height="4" fill="url(#g230)"/>
<rect x="709" y="700" width="200" height="4" fill="url(#g231)"/>
<rect x="709" y="704" width="200" height="4" fill="url(#g232)"/>
<rect x="709" y="708" width="200" height="4" fill="url(#g233)"/>
<rect x="709" y="712" width="200" height="4" fill="url(#g234)"/>
<rect x="709" y="716" width="200" height="4" fill="url(#g235)"/>
<rect x="709" y="720" width="200" height="4" fill="url(#g236)"/>
<rect x="709" y="724" width="200" height="4" fill="url(#g237)"/>
<rect x="709" y="728" width="200" height="4" fill="url(#g238)"/>
<rect x="709" y="732" width="200" height="4" fill="url(#g239)"/>
<rect x="709" y="736" width="200" height="4" fill="url(#g240)"/>
<rect x="709" y="740" width="200" height="4" fill="url(#g241)"/>
<rect x="709" y="744" width="200" height="4" fill="url(#g242)"/>
<rect x="709" y="748" width="200" height="4" fill="url(#g243)"/>
<rect x="709" y="752" width="200" height="4" fill="url(#g244)"/>
<rect x="709" y="756" width="200" height="4" fill="url(#g245)"/>
<rect x="709" y="760" width="200" height="4" fill="url(#g246)"/>
<rect x="709" y="764" width="200" height="4" fill="url(#g247)"/>
<rect x="709" y="768" width="200" height="4" fill="url(#g248)"/>
<rect x="709" y="772" width="200" height="4" fill="url(#g249)"/>
<rect x="709" y="776" width="200" height="4" fill="url(#g250)"/>
<rect x="709" y="780" width="200" height="4" fill="url(#g251)"/>
<rect x="709" y="784" width="200" height="4" fill="url(#g252)"/>
<rect x="709" y="788" width="200" height="4" fill="url(#g253)"/>
<rect x="709" y="792" width="200" height="4" fill="url(#g254)"/>
<rect x="709" y="796" width="200" height="4" fill="url(#g255)"/>
<rect x="709" y="800" width="200" height="4" fill="url(#g256)"/>
<rect x="709" y="804" width="200" height="4" fill="url(#g257)"/>
<rect x="709" y="808" width="200" height="4" fill="url(#g258)"/>
<rect x="709" y="812" width="200" height="4" fill="url(#g259)"/>
<rect x="709" y="816" width="200" height="4" fill="url(#g260)"/>
<rect x="709" y="820" width="200" height="4" fill="url(#g261)"/>
<rect x="709" y="824" width="200" height="4" fill="url(#g262)"/>
<rect x="709" y="828" width="200" height="4" fill="url(#g263)"/></g>
<g shape-rendering="crispEdges"><rect x="707" y="950" width="200" height="4" fill="url(#g264)"/>
<rect x="707" y="954" width="200" height="4" fill="url(#g265)"/>
<rect x="707" y="958" width="200" height="4" fill="url(#g266)"/>
<rect x="707" y="962" width="200" height="4" fill="url(#g267)"/>
<rect x="707" y="966" width="200" height="4" fill="url(#g268)"/>
<rect x="707" y="970" width="200" height="4" fill="url(#g269)"/>
<rect x="707" y="974" width="200" height="4" fill="url(#g270)"/>
<rect x="707" y="978" width="200" height="4" fill="url(#g271)"/>
<rect x="707" y="982" width="200" height="4" fill="url(#g272)"/>
<rect x="707" y="986" width="200" height="4" fill="url(#g273)"/>
<rect x="707" y="990" width="200" height="4" fill="url(#g274)"/>
<rect x="707" y="994" width="200" height="4" fill="url(#g275)"/>
<rect x="707" y="998" width="200" height="4" fill="url(#g276)"/>
<rect x="707" y="1002" width="200" height="4" fill="url(#g277)"/>
<rect x="707" y="1006" width="200" height="4" fill="url(#g278)"/>
<rect x="707" y="1010" width="200" height="4" fill="url(#g279)"/>
<rect x="707" y="1014" width="200" height="4" fill="url(#g280)"/>
<rect x="707" y="1018" width="200" height="4" fill="url(#g281)"/>
<rect x="707" y="1022" width="200" height="4" fill="url(#g282)"/>
<rect x="707" y="1026" width="200" height="4" fill="url(#g283)"/>
<rect x="707" y="1030" width="200" height="4" fill="url(#g284)"/>
<rect x="707" y="1034" width="200" height="4" fill="url(#g285)"/>
<rect x="707" y="1038" width="200" height="4" fill="url(#g286)"/>
<rect x="707" y="1042" width="200" height="4" fill="url(#g287)"/>
<rect x="707" y="1046" width="200" height="4" fill="url(#g288)"/>
<rect x="707" y="1050" width="200" height="4" fill="url(#g289)"/>
<rect x="707" y="1054" width="200" height="4" fill="url(#g290)"/>
<rect x="707" y="1058" width="200" height="4" fill="url(#g291)"/>
<rect x="707" y="1062" width="200" height="4" fill="url(#g292)"/>
<rect x="707" y="1066" width="200" height="4" fill="url(#g293)"/>
<rect x="707" y="1070" width="200" height="4" fill="url(#g294)"/>
<rect x="707" y="1074" width="200" height="4" fill="url(#g295)"/>
<rect x="707" y="1078" width="200" height="4" fill="url(#g296)"/>
<rect x="707" y="1082" width="200" height="4" fill="url(#g297)"/>
<rect x="707" y="1086" width="200" height="4" fill="url(#g298)"/>
<rect x="707" y="1090" width="200" height="4" fill="url(#g299)"/>
<rect x="707" y="1094" width="200" height="4" fill="url(#g300)"/>
<rect x="707" y="1098" width="200" height="4" fill="url(#g301)"/>
<rect x="707" y="1102" width="200" height="4" fill="url(#g302)"/>
<rect x="707" y="1106" width="200" height="4" fill="url(#g303)"/>
<rect x="707" y="1110" width="200" height="4" fill="url(#g304)"/>
<rect x="707" y="1114" width="200" height="4" fill="url(#g305)"/></g>
<g shape-rendering="crispEdges"><rect x="708" y="1269" width="199" height="8" fill="url(#g306)"/>
<rect x="708" y="1277" width="199" height="4" fill="url(#g307)"/>
<rect x="708" y="1281" width="199" height="4" fill="url(#g308)"/>
<rect x="708" y="1285" width="199" height="4" fill="url(#g309)"/>
<rect x="708" y="1289" width="199" height="4" fill="url(#g310)"/>
<rect x="708" y="1293" width="199" height="4" fill="url(#g311)"/>
<rect x="708" y="1297" width="199" height="4" fill="url(#g312)"/>
<rect x="708" y="1301" width="199" height="4" fill="url(#g313)"/>
<rect x="708" y="1305" width="199" height="4" fill="url(#g314)"/>
<rect x="708" y="1309" width="199" height="4" fill="url(#g315)"/>
<rect x="708" y="1313" width="199" height="4" fill="url(#g316)"/>
<rect x="708" y="1317" width="199" height="4" fill="url(#g317)"/>
<rect x="708" y="1321" width="199" height="4" fill="url(#g318)"/>
<rect x="708" y="1325" width="199" height="4" fill="url(#g319)"/>
<rect x="708" y="1329" width="199" height="4" fill="url(#g320)"/>
<rect x="708" y="1333" width="199" height="4" fill="url(#g321)"/>
<rect x="708" y="1337" width="199" height="4" fill="url(#g322)"/>
<rect x="708" y="1341" width="199" height="4" fill="url(#g323)"/>
<rect x="708" y="1345" width="199" height="4" fill="url(#g324)"/>
<rect x="708" y="1349" width="199" height="4" fill="url(#g325)"/>
<rect x="708" y="1353" width="199" height="4" fill="url(#g326)"/>
<rect x="708" y="1357" width="199" height="4" fill="url(#g327)"/>
<rect x="708" y="1361" width="199" height="4" fill="url(#g328)"/>
<rect x="708" y="1365" width="199" height="4" fill="url(#g329)"/>
<rect x="708" y="1369" width="199" height="4" fill="url(#g330)"/>
<rect x="708" y="1373" width="199" height="4" fill="url(#g331)"/>
<rect x="708" y="1377" width="199" height="4" fill="url(#g332)"/>
<rect x="708" y="1381" width="199" height="4" fill="url(#g333)"/>
<rect x="708" y="1385" width="199" height="4" fill="url(#g334)"/>
<rect x="708" y="1389" width="199" height="4" fill="url(#g335)"/>
<rect x="708" y="1393" width="199" height="4" fill="url(#g336)"/>
<rect x="708" y="1397" width="199" height="4" fill="url(#g337)"/>
<rect x="708" y="1401" width="199" height="4" fill="url(#g338)"/>
<rect x="708" y="1405" width="199" height="4" fill="url(#g339)"/>
<rect x="708" y="1409" width="199" height="4" fill="url(#g340)"/>
<rect x="708" y="1413" width="199" height="4" fill="url(#g341)"/>
<rect x="708" y="1417" width="199" height="4" fill="url(#g342)"/>
<rect x="708" y="1421" width="199" height="4" fill="url(#g343)"/>
<rect x="708" y="1425" width="199" height="4" fill="url(#g344)"/>
<rect x="708" y="1429" width="199" height="4" fill="url(#g345)"/>
<rect x="708" y="1433" width="199" height="1" fill="url(#g346)"/></g>
<rect x="406.6" y="83.3" width="197.3" height="164.9" fill="none" stroke="#000" stroke-width="4.2"/>
<line x1="485.0" y1="84.9" x2="485.0" y2="87.9" stroke="#000" stroke-width="3"/>
<line x1="485.0" y1="246.6" x2="485.0" y2="243.6" stroke="#000" stroke-width="3"/>
<line x1="563.5" y1="84.9" x2="563.5" y2="87.9" stroke="#000" stroke-width="3"/>
<line x1="563.5" y1="246.6" x2="563.5" y2="243.6" stroke="#000" stroke-width="3"/>
<line x1="408.2" y1="165.6" x2="411.2" y2="165.6" stroke="#000" stroke-width="3"/>
<line x1="602.3" y1="165.6" x2="599.3" y2="165.6" stroke="#000" stroke-width="3"/>
<text transform="translate(406.0,297.0) scale(1,1.08)" font-size="29" text-anchor="middle">2</text>

<text transform="translate(485.0,297.0) scale(1,1.08)" font-size="29" text-anchor="middle">3</text>

<text transform="translate(563.5,297.0) scale(1,1.08)" font-size="29" text-anchor="middle">4</text>

<text transform="translate(395.5,95.5) scale(1,1.08)" font-size="29" text-anchor="end">10</text>
<rect x="364.43" y="91.86" width="5.91" height="4.74" fill="#fff"/><rect x="373.30" y="91.86" width="5.78" height="4.74" fill="#fff"/>
<text transform="translate(395.5,176.6) scale(1,1.08)" font-size="29" text-anchor="end">0</text>

<text transform="translate(395.5,260.6) scale(1,1.08)" font-size="29" text-anchor="end">-10</text>
<rect x="364.43" y="256.96" width="5.91" height="4.74" fill="#fff"/><rect x="373.30" y="256.96" width="5.78" height="4.74" fill="#fff"/>
<text transform="translate(341.5,165.8) rotate(-90)" font-size="29" text-anchor="middle"><tspan font-style="italic">V</tspan><tspan font-size="19" dy="6">DC</tspan><tspan dy="-6"> (meV)</tspan></text>
<rect x="406.8" y="377.6" width="197.1" height="164.6" fill="none" stroke="#000" stroke-width="4.2"/>
<line x1="446.4" y1="379.2" x2="446.4" y2="382.2" stroke="#000" stroke-width="3"/>
<line x1="446.4" y1="540.6" x2="446.4" y2="537.6" stroke="#000" stroke-width="3"/>
<line x1="524.7" y1="379.2" x2="524.7" y2="382.2" stroke="#000" stroke-width="3"/>
<line x1="524.7" y1="540.6" x2="524.7" y2="537.6" stroke="#000" stroke-width="3"/>
<line x1="408.4" y1="386.8" x2="411.4" y2="386.8" stroke="#000" stroke-width="3"/>
<line x1="602.3" y1="386.8" x2="599.3" y2="386.8" stroke="#000" stroke-width="3"/>
<line x1="408.4" y1="459.9" x2="411.4" y2="459.9" stroke="#000" stroke-width="3"/>
<line x1="602.3" y1="459.9" x2="599.3" y2="459.9" stroke="#000" stroke-width="3"/>
<line x1="408.4" y1="534.0" x2="411.4" y2="534.0" stroke="#000" stroke-width="3"/>
<line x1="602.3" y1="534.0" x2="599.3" y2="534.0" stroke="#000" stroke-width="3"/>
<text transform="translate(412.7,590.0) scale(1,1.08)" font-size="29" text-anchor="middle">3</text>

<text transform="translate(477.0,590.0) scale(1,1.08)" font-size="29" text-anchor="middle">4</text>

<text transform="translate(543.4,590.0) scale(1,1.08)" font-size="29" text-anchor="middle">5</text>

<text transform="translate(395.5,397.8) scale(1,1.08)" font-size="29" text-anchor="end">10</text>
<rect x="364.43" y="394.16" width="5.91" height="4.74" fill="#fff"/><rect x="373.30" y="394.16" width="5.78" height="4.74" fill="#fff"/>
<text transform="translate(395.5,470.9) scale(1,1.08)" font-size="29" text-anchor="end">0</text>

<text transform="translate(395.5,545.0) scale(1,1.08)" font-size="29" text-anchor="end">-10</text>
<rect x="364.43" y="541.36" width="5.91" height="4.74" fill="#fff"/><rect x="373.30" y="541.36" width="5.78" height="4.74" fill="#fff"/>
<text transform="translate(341.5,459.9) rotate(-90)" font-size="29" text-anchor="middle"><tspan font-style="italic">V</tspan><tspan font-size="19" dy="6">DC</tspan><tspan dy="-6"> (meV)</tspan></text>
<rect x="407.2" y="665.5" width="196.7" height="164.9" fill="none" stroke="#000" stroke-width="4.2"/>
<line x1="472.5" y1="667.1" x2="472.5" y2="670.1" stroke="#000" stroke-width="3"/>
<line x1="472.5" y1="828.8" x2="472.5" y2="825.8" stroke="#000" stroke-width="3"/>
<line x1="538.0" y1="667.1" x2="538.0" y2="670.1" stroke="#000" stroke-width="3"/>
<line x1="538.0" y1="828.8" x2="538.0" y2="825.8" stroke="#000" stroke-width="3"/>
<line x1="408.8" y1="681.3" x2="411.8" y2="681.3" stroke="#000" stroke-width="3"/>
<line x1="602.3" y1="681.3" x2="599.3" y2="681.3" stroke="#000" stroke-width="3"/>
<line x1="408.8" y1="748.0" x2="411.8" y2="748.0" stroke="#000" stroke-width="3"/>
<line x1="602.3" y1="748.0" x2="599.3" y2="748.0" stroke="#000" stroke-width="3"/>
<line x1="408.8" y1="814.3" x2="411.8" y2="814.3" stroke="#000" stroke-width="3"/>
<line x1="602.3" y1="814.3" x2="599.3" y2="814.3" stroke="#000" stroke-width="3"/>
<text transform="translate(405.8,877.0) scale(1,1.08)" font-size="29" text-anchor="middle">2</text>

<text transform="translate(472.5,877.0) scale(1,1.08)" font-size="29" text-anchor="middle">3</text>

<text transform="translate(538.0,877.0) scale(1,1.08)" font-size="29" text-anchor="middle">4</text>

<text transform="translate(603.7,877.0) scale(1,1.08)" font-size="29" text-anchor="middle">5</text>

<text transform="translate(395.5,692.3) scale(1,1.08)" font-size="29" text-anchor="end">10</text>
<rect x="364.43" y="688.66" width="5.91" height="4.74" fill="#fff"/><rect x="373.30" y="688.66" width="5.78" height="4.74" fill="#fff"/>
<text transform="translate(395.5,759.0) scale(1,1.08)" font-size="29" text-anchor="end">0</text>

<text transform="translate(395.5,825.3) scale(1,1.08)" font-size="29" text-anchor="end">-10</text>
<rect x="364.43" y="821.66" width="5.91" height="4.74" fill="#fff"/><rect x="373.30" y="821.66" width="5.78" height="4.74" fill="#fff"/>
<text transform="translate(341.5,748.0) rotate(-90)" font-size="29" text-anchor="middle"><tspan font-style="italic">V</tspan><tspan font-size="19" dy="6">DC</tspan><tspan dy="-6"> (meV)</tspan></text>
<rect x="405.6" y="952.2" width="196.0" height="164.2" fill="none" stroke="#000" stroke-width="4.2"/>
<line x1="445.0" y1="953.8" x2="445.0" y2="956.8" stroke="#000" stroke-width="3"/>
<line x1="445.0" y1="1114.8" x2="445.0" y2="1111.8" stroke="#000" stroke-width="3"/>
<line x1="523.1" y1="953.8" x2="523.1" y2="956.8" stroke="#000" stroke-width="3"/>
<line x1="523.1" y1="1114.8" x2="523.1" y2="1111.8" stroke="#000" stroke-width="3"/>
<line x1="407.2" y1="1034.6" x2="410.2" y2="1034.6" stroke="#000" stroke-width="3"/>
<line x1="600.0" y1="1034.6" x2="597.0" y2="1034.6" stroke="#000" stroke-width="3"/>
<text transform="translate(445.0,1164.5) scale(1,1.08)" font-size="29" text-anchor="middle">3</text>

<text transform="translate(523.1,1164.5) scale(1,1.08)" font-size="29" text-anchor="middle">4</text>

<text transform="translate(601.4,1164.5) scale(1,1.08)" font-size="29" text-anchor="middle">5</text>

<text transform="translate(395.5,962.8) scale(1,1.08)" font-size="29" text-anchor="end">10</text>
<rect x="364.43" y="959.16" width="5.91" height="4.74" fill="#fff"/><rect x="373.30" y="959.16" width="5.78" height="4.74" fill="#fff"/>
<text transform="translate(395.5,1045.6) scale(1,1.08)" font-size="29" text-anchor="end">0</text>

<text transform="translate(395.5,1128.4) scale(1,1.08)" font-size="29" text-anchor="end">-10</text>
<rect x="364.43" y="1124.76" width="5.91" height="4.74" fill="#fff"/><rect x="373.30" y="1124.76" width="5.78" height="4.74" fill="#fff"/>
<text transform="translate(341.5,1034.3) rotate(-90)" font-size="29" text-anchor="middle"><tspan font-style="italic">V</tspan><tspan font-size="19" dy="6">DC</tspan><tspan dy="-6"> (meV)</tspan></text>
<rect x="405.6" y="1270.7" width="195.5" height="161.4" fill="none" stroke="#000" stroke-width="4.2"/>
<line x1="445.0" y1="1272.3" x2="445.0" y2="1275.3" stroke="#000" stroke-width="3"/>
<line x1="445.0" y1="1430.5" x2="445.0" y2="1427.5" stroke="#000" stroke-width="3"/>
<line x1="523.0" y1="1272.3" x2="523.0" y2="1275.3" stroke="#000" stroke-width="3"/>
<line x1="523.0" y1="1430.5" x2="523.0" y2="1427.5" stroke="#000" stroke-width="3"/>
<line x1="407.2" y1="1351.4" x2="410.2" y2="1351.4" stroke="#000" stroke-width="3"/>
<line x1="599.5" y1="1351.4" x2="596.5" y2="1351.4" stroke="#000" stroke-width="3"/>
<text transform="translate(445.0,1479.0) scale(1,1.08)" font-size="29" text-anchor="middle">3</text>

<text transform="translate(523.0,1479.0) scale(1,1.08)" font-size="29" text-anchor="middle">4</text>

<text transform="translate(601.4,1479.0) scale(1,1.08)" font-size="29" text-anchor="middle">5</text>

<text transform="translate(395.5,1283.0) scale(1,1.08)" font-size="29" text-anchor="end">10</text>
<rect x="364.43" y="1279.36" width="5.91" height="4.74" fill="#fff"/><rect x="373.30" y="1279.36" width="5.78" height="4.74" fill="#fff"/>
<text transform="translate(395.5,1362.4) scale(1,1.08)" font-size="29" text-anchor="end">0</text>

<text transform="translate(395.5,1444.0) scale(1,1.08)" font-size="29" text-anchor="end">-10</text>
<rect x="364.43" y="1440.36" width="5.91" height="4.74" fill="#fff"/><rect x="373.30" y="1440.36" width="5.78" height="4.74" fill="#fff"/>
<text transform="translate(341.5,1351.4) rotate(-90)" font-size="29" text-anchor="middle"><tspan font-style="italic">V</tspan><tspan font-size="19" dy="6">DC</tspan><tspan dy="-6"> (meV)</tspan></text>
<rect x="710.7" y="83.1" width="196.4" height="165.1" fill="none" stroke="#000" stroke-width="4.2"/>
<line x1="788.0" y1="84.7" x2="788.0" y2="87.7" stroke="#000" stroke-width="3"/>
<line x1="788.0" y1="246.6" x2="788.0" y2="243.6" stroke="#000" stroke-width="3"/>
<line x1="866.6" y1="84.7" x2="866.6" y2="87.7" stroke="#000" stroke-width="3"/>
<line x1="866.6" y1="246.6" x2="866.6" y2="243.6" stroke="#000" stroke-width="3"/>
<line x1="712.3" y1="94.3" x2="715.3" y2="94.3" stroke="#000" stroke-width="3"/>
<line x1="905.5" y1="94.3" x2="902.5" y2="94.3" stroke="#000" stroke-width="3"/>
<line x1="712.3" y1="137.0" x2="715.3" y2="137.0" stroke="#000" stroke-width="3"/>
<line x1="905.5" y1="137.0" x2="902.5" y2="137.0" stroke="#000" stroke-width="3"/>
<line x1="712.3" y1="179.4" x2="715.3" y2="179.4" stroke="#000" stroke-width="3"/>
<line x1="905.5" y1="179.4" x2="902.5" y2="179.4" stroke="#000" stroke-width="3"/>
<line x1="712.3" y1="222.0" x2="715.3" y2="222.0" stroke="#000" stroke-width="3"/>
<line x1="905.5" y1="222.0" x2="902.5" y2="222.0" stroke="#000" stroke-width="3"/>
<text transform="translate(708.6,297.0) scale(1,1.08)" font-size="29" text-anchor="middle">2</text>

<text transform="translate(788.0,297.0) scale(1,1.08)" font-size="29" text-anchor="middle">3</text>

<text transform="translate(866.6,297.0) scale(1,1.08)" font-size="29" text-anchor="middle">4</text>

<text transform="translate(696.5,105.3) scale(1,1.08)" font-size="29" text-anchor="end">8</text>

<text transform="translate(696.5,148.0) scale(1,1.08)" font-size="29" text-anchor="end">6</text>

<text transform="translate(696.5,190.4) scale(1,1.08)" font-size="29" text-anchor="end">4</text>

<text transform="translate(696.5,233.0) scale(1,1.08)" font-size="29" text-anchor="end">2</text>

<text transform="translate(655.5,165.7) rotate(-90)" font-size="29" text-anchor="middle"><tspan font-style="italic">T</tspan> (K)</text>
<rect x="710.7" y="377.6" width="196.4" height="164.6" fill="none" stroke="#000" stroke-width="4.2"/>
<line x1="750.0" y1="379.2" x2="750.0" y2="382.2" stroke="#000" stroke-width="3"/>
<line x1="750.0" y1="540.6" x2="750.0" y2="537.6" stroke="#000" stroke-width="3"/>
<line x1="828.2" y1="379.2" x2="828.2" y2="382.2" stroke="#000" stroke-width="3"/>
<line x1="828.2" y1="540.6" x2="828.2" y2="537.6" stroke="#000" stroke-width="3"/>
<line x1="712.3" y1="390.9" x2="715.3" y2="390.9" stroke="#000" stroke-width="3"/>
<line x1="905.5" y1="390.9" x2="902.5" y2="390.9" stroke="#000" stroke-width="3"/>
<line x1="712.3" y1="450.7" x2="715.3" y2="450.7" stroke="#000" stroke-width="3"/>
<line x1="905.5" y1="450.7" x2="902.5" y2="450.7" stroke="#000" stroke-width="3"/>
<line x1="712.3" y1="510.5" x2="715.3" y2="510.5" stroke="#000" stroke-width="3"/>
<line x1="905.5" y1="510.5" x2="902.5" y2="510.5" stroke="#000" stroke-width="3"/>
<text transform="translate(750.0,590.0) scale(1,1.08)" font-size="29" text-anchor="middle">3</text>

<text transform="translate(828.2,590.0) scale(1,1.08)" font-size="29" text-anchor="middle">4</text>

<text transform="translate(906.4,590.0) scale(1,1.08)" font-size="29" text-anchor="middle">5</text>

<text transform="translate(696.5,401.9) scale(1,1.08)" font-size="29" text-anchor="end">8</text>

<text transform="translate(696.5,461.7) scale(1,1.08)" font-size="29" text-anchor="end">6</text>

<text transform="translate(696.5,521.5) scale(1,1.08)" font-size="29" text-anchor="end">4</text>

<text transform="translate(655.5,459.9) rotate(-90)" font-size="29" text-anchor="middle"><tspan font-style="italic">T</tspan> (K)</text>
<rect x="710.7" y="665.5" width="196.4" height="164.9" fill="none" stroke="#000" stroke-width="4.2"/>
<line x1="775.7" y1="667.1" x2="775.7" y2="670.1" stroke="#000" stroke-width="3"/>
<line x1="775.7" y1="828.8" x2="775.7" y2="825.8" stroke="#000" stroke-width="3"/>
<line x1="841.3" y1="667.1" x2="841.3" y2="670.1" stroke="#000" stroke-width="3"/>
<line x1="841.3" y1="828.8" x2="841.3" y2="825.8" stroke="#000" stroke-width="3"/>
<line x1="712.3" y1="690.5" x2="715.3" y2="690.5" stroke="#000" stroke-width="3"/>
<line x1="905.5" y1="690.5" x2="902.5" y2="690.5" stroke="#000" stroke-width="3"/>
<line x1="712.3" y1="751.5" x2="715.3" y2="751.5" stroke="#000" stroke-width="3"/>
<line x1="905.5" y1="751.5" x2="902.5" y2="751.5" stroke="#000" stroke-width="3"/>
<line x1="712.3" y1="812.4" x2="715.3" y2="812.4" stroke="#000" stroke-width="3"/>
<line x1="905.5" y1="812.4" x2="902.5" y2="812.4" stroke="#000" stroke-width="3"/>
<text transform="translate(710.2,877.0) scale(1,1.08)" font-size="29" text-anchor="middle">2</text>

<text transform="translate(775.7,877.0) scale(1,1.08)" font-size="29" text-anchor="middle">3</text>

<text transform="translate(841.3,877.0) scale(1,1.08)" font-size="29" text-anchor="middle">4</text>

<text transform="translate(906.4,877.0) scale(1,1.08)" font-size="29" text-anchor="middle">5</text>

<text transform="translate(696.5,701.5) scale(1,1.08)" font-size="29" text-anchor="end">7</text>

<text transform="translate(696.5,762.5) scale(1,1.08)" font-size="29" text-anchor="end">5</text>

<text transform="translate(696.5,823.4) scale(1,1.08)" font-size="29" text-anchor="end">3</text>

<text transform="translate(655.5,748.0) rotate(-90)" font-size="29" text-anchor="middle"><tspan font-style="italic">T</tspan> (K)</text>
<rect x="709.1" y="951.6" width="196.4" height="164.8" fill="none" stroke="#000" stroke-width="4.2"/>
<line x1="747.7" y1="953.2" x2="747.7" y2="956.2" stroke="#000" stroke-width="3"/>
<line x1="747.7" y1="1114.8" x2="747.7" y2="1111.8" stroke="#000" stroke-width="3"/>
<line x1="827.0" y1="953.2" x2="827.0" y2="956.2" stroke="#000" stroke-width="3"/>
<line x1="827.0" y1="1114.8" x2="827.0" y2="1111.8" stroke="#000" stroke-width="3"/>
<line x1="710.7" y1="956.4" x2="713.7" y2="956.4" stroke="#000" stroke-width="3"/>
<line x1="903.9" y1="956.4" x2="900.9" y2="956.4" stroke="#000" stroke-width="3"/>
<line x1="710.7" y1="1001.2" x2="713.7" y2="1001.2" stroke="#000" stroke-width="3"/>
<line x1="903.9" y1="1001.2" x2="900.9" y2="1001.2" stroke="#000" stroke-width="3"/>
<line x1="710.7" y1="1045.0" x2="713.7" y2="1045.0" stroke="#000" stroke-width="3"/>
<line x1="903.9" y1="1045.0" x2="900.9" y2="1045.0" stroke="#000" stroke-width="3"/>
<line x1="710.7" y1="1089.8" x2="713.7" y2="1089.8" stroke="#000" stroke-width="3"/>
<line x1="903.9" y1="1089.8" x2="900.9" y2="1089.8" stroke="#000" stroke-width="3"/>
<text transform="translate(747.7,1164.5) scale(1,1.08)" font-size="29" text-anchor="middle">3</text>

<text transform="translate(827.0,1164.5) scale(1,1.08)" font-size="29" text-anchor="middle">4</text>

<text transform="translate(905.3,1164.5) scale(1,1.08)" font-size="29" text-anchor="middle">5</text>

<text transform="translate(696.5,967.4) scale(1,1.08)" font-size="29" text-anchor="end">8</text>

<text transform="translate(696.5,1012.2) scale(1,1.08)" font-size="29" text-anchor="end">6</text>

<text transform="translate(696.5,1056.0) scale(1,1.08)" font-size="29" text-anchor="end">4</text>

<text transform="translate(696.5,1100.8) scale(1,1.08)" font-size="29" text-anchor="end">2</text>

<text transform="translate(655.5,1034.0) rotate(-90)" font-size="29" text-anchor="middle"><tspan font-style="italic">T</tspan> (K)</text>
<rect x="709.5" y="1270.7" width="196.0" height="161.9" fill="none" stroke="#000" stroke-width="4.2"/>
<line x1="747.7" y1="1272.3" x2="747.7" y2="1275.3" stroke="#000" stroke-width="3"/>
<line x1="747.7" y1="1431.0" x2="747.7" y2="1428.0" stroke="#000" stroke-width="3"/>
<line x1="827.0" y1="1272.3" x2="827.0" y2="1275.3" stroke="#000" stroke-width="3"/>
<line x1="827.0" y1="1431.0" x2="827.0" y2="1428.0" stroke="#000" stroke-width="3"/>
<line x1="711.1" y1="1276.6" x2="714.1" y2="1276.6" stroke="#000" stroke-width="3"/>
<line x1="903.9" y1="1276.6" x2="900.9" y2="1276.6" stroke="#000" stroke-width="3"/>
<line x1="711.1" y1="1319.2" x2="714.1" y2="1319.2" stroke="#000" stroke-width="3"/>
<line x1="903.9" y1="1319.2" x2="900.9" y2="1319.2" stroke="#000" stroke-width="3"/>
<line x1="711.1" y1="1361.7" x2="714.1" y2="1361.7" stroke="#000" stroke-width="3"/>
<line x1="903.9" y1="1361.7" x2="900.9" y2="1361.7" stroke="#000" stroke-width="3"/>
<line x1="711.1" y1="1405.4" x2="714.1" y2="1405.4" stroke="#000" stroke-width="3"/>
<line x1="903.9" y1="1405.4" x2="900.9" y2="1405.4" stroke="#000" stroke-width="3"/>
<text transform="translate(747.7,1479.0) scale(1,1.08)" font-size="29" text-anchor="middle">3</text>

<text transform="translate(827.0,1479.0) scale(1,1.08)" font-size="29" text-anchor="middle">4</text>

<text transform="translate(905.3,1479.0) scale(1,1.08)" font-size="29" text-anchor="middle">5</text>

<text transform="translate(696.5,1287.6) scale(1,1.08)" font-size="29" text-anchor="end">8</text>

<text transform="translate(696.5,1330.2) scale(1,1.08)" font-size="29" text-anchor="end">6</text>

<text transform="translate(696.5,1372.7) scale(1,1.08)" font-size="29" text-anchor="end">4</text>

<text transform="translate(696.5,1416.4) scale(1,1.08)" font-size="29" text-anchor="end">2</text>

<text transform="translate(655.5,1351.7) rotate(-90)" font-size="29" text-anchor="middle"><tspan font-style="italic">T</tspan> (K)</text>
<clipPath id="clipm"><rect x="1041.3" y="78.0" width="207.6" height="175.8"/></clipPath>
<g clip-path="url(#clipm)" fill="none" stroke-linejoin="round" stroke-linecap="round">
<polyline points="1044.5,238.0 1047.5,241.1 1052.1,233.5 1058.1,219.9 1064.2,210.9 1068.7,203.3 1074.7,198.8 1082.3,195.8 1089.8,191.2 1100.4,190.9 1115.5,191.2 1130.6,190.5 1145.7,189.7 1160.8,188.2 1171.3,185.2 1180.4,179.2 1187.9,173.1 1192.5,168.6 1197.0,159.5 1200.0,150.5 1203.0,142.9 1206.1,135.4 1209.1,120.3 1212.1,124.8 1215.1,105.2 1219.6,93.1 1222.7,91.6 1225.7,96.1 1228.7,109.7 1231.7,105.2 1236.3,96.1 1242.3,90.1 1245.3,85.6" stroke="#0072bd" stroke-width="5.6"/>
<polyline points="1046.0,209.4 1049.1,216.9 1052.1,226.0 1055.1,209.4 1058.1,213.9 1061.1,203.3 1065.7,195.8 1068.7,192.8 1073.2,195.8 1076.2,192.8 1085.3,192.0 1115.5,194.3 1145.7,193.5 1160.8,191.2 1172.9,192.0 1180.4,191.2 1184.9,192.0 1189.5,183.7 1192.5,177.7 1197.0,165.6 1200.0,147.5 1203.0,144.4 1206.1,127.8 1209.1,102.2 1210.6,88.6 1213.6,105.2 1216.6,97.6 1219.6,94.6 1222.7,102.2 1225.7,87.1 1228.7,97.6 1233.2,90.1 1236.3,85.6 1243.8,83.3" stroke="#d95319" stroke-width="4.3"/>
<polyline points="1046.0,235.0 1050.6,238.0 1055.1,229.0 1059.6,219.9 1064.2,210.9 1068.7,200.3 1073.2,194.3 1082.3,192.0 1100.4,192.8 1115.5,193.1 1130.6,193.5 1145.7,192.8 1160.8,191.2 1175.9,189.7 1184.9,186.7 1191.0,180.7 1195.5,168.6 1200.0,156.5 1204.6,146.0 1207.6,132.4 1210.6,114.3 1213.6,105.2 1216.6,126.3 1219.6,105.2 1222.7,102.2 1225.7,111.2 1228.7,102.2 1233.2,99.2 1236.3,90.1 1242.3,87.1 1245.3,84.1" stroke="#edb120" stroke-width="4.3"/>
<polyline points="1046.0,248.6 1055.1,244.1 1064.2,236.5 1073.2,224.5 1082.3,213.9 1091.3,206.3 1103.4,201.8 1115.5,200.3 1130.6,199.5 1145.7,196.5 1160.8,193.5 1172.9,191.2 1181.9,188.2 1187.9,183.7 1192.5,177.7 1198.5,167.1 1204.6,155.0 1209.1,146.0 1213.6,141.4 1216.6,139.9 1219.6,135.4 1222.7,124.8 1228.7,120.3 1231.7,117.3 1236.3,109.7 1240.8,99.2 1244.6,87.1" stroke="#7e2f8e" stroke-width="4.3"/>
</g>
<rect x="1046.4" y="83.1" width="197.4" height="165.6" fill="none" stroke="#000" stroke-width="4.2"/>
<line x1="1124.8" y1="84.7" x2="1124.8" y2="87.7" stroke="#000" stroke-width="3"/>
<line x1="1124.8" y1="247.1" x2="1124.8" y2="244.1" stroke="#000" stroke-width="3"/>
<line x1="1204.3" y1="84.7" x2="1204.3" y2="87.7" stroke="#000" stroke-width="3"/>
<line x1="1204.3" y1="247.1" x2="1204.3" y2="244.1" stroke="#000" stroke-width="3"/>
<line x1="1048.0" y1="134.6" x2="1051.0" y2="134.6" stroke="#000" stroke-width="3"/>
<line x1="1242.2" y1="134.6" x2="1239.2" y2="134.6" stroke="#000" stroke-width="3"/>
<line x1="1048.0" y1="191.3" x2="1051.0" y2="191.3" stroke="#000" stroke-width="3"/>
<line x1="1242.2" y1="191.3" x2="1239.2" y2="191.3" stroke="#000" stroke-width="3"/>
<text transform="translate(1045.4,297.0) scale(1,1.08)" font-size="29" text-anchor="middle">2</text>

<text transform="translate(1124.8,297.0) scale(1,1.08)" font-size="29" text-anchor="middle">3</text>

<text transform="translate(1204.3,297.0) scale(1,1.08)" font-size="29" text-anchor="middle">4</text>

<text transform="translate(1031.0,145.6) scale(1,1.08)" font-size="29" text-anchor="end">1.5</text>
<rect x="991.87" y="141.96" width="5.91" height="4.74" fill="#fff"/><rect x="1000.74" y="141.96" width="5.78" height="4.74" fill="#fff"/>
<text transform="translate(1036.6,202.3) scale(1,1.08)" font-size="29" text-anchor="end">1</text>
<rect x="1021.65" y="198.66" width="5.91" height="4.74" fill="#fff"/><rect x="1030.53" y="198.66" width="5.78" height="4.74" fill="#fff"/>
<text transform="translate(1031.0,260.7) scale(1,1.08)" font-size="29" text-anchor="end">0.5</text>

<text transform="translate(976.0,165.9) rotate(-90)" font-size="29" text-anchor="middle">G<tspan font-size="19" dy="6">2T</tspan><tspan dy="-6"> (e</tspan><tspan font-size="19" dy="-12">2</tspan><tspan dy="12">/h)</tspan></text>
<circle cx="1269" cy="135.5" r="4.2" fill="#0072bd"/>
<line x1="1261" y1="167.0" x2="1277.5" y2="167.0" stroke="#d95319" stroke-width="5.5"/>
<line x1="1261" y1="197.8" x2="1277.5" y2="197.8" stroke="#edb120" stroke-width="5.5"/>
<line x1="1261" y1="228.6" x2="1277.5" y2="228.6" stroke="#7e2f8e" stroke-width="5.5"/>
<text transform="translate(1296.5,146.0) scale(1,1.08)" font-size="29">-10 mV</text>
<rect x="1307.34" y="142.36" width="5.91" height="4.74" fill="#fff"/><rect x="1316.21" y="142.36" width="5.78" height="4.74" fill="#fff"/>
<text transform="translate(1296.5,177.5) scale(1,1.08)" font-size="29">0.73 K</text>

<text transform="translate(1296.5,208.3) scale(1,1.08)" font-size="29">2.48 K</text>

<text transform="translate(1296.5,239.1) scale(1,1.08)" font-size="29">5.46 K</text>

<clipPath id="clipn"><rect x="1041.6" y="372.5" width="207.3" height="175.1"/></clipPath>
<g clip-path="url(#clipn)" fill="none" stroke-linejoin="round" stroke-linecap="round">
<polyline points="1044.5,510.4 1049.1,511.9 1058.1,504.4 1067.2,495.3 1074.7,475.7 1079.3,448.5 1083.8,454.5 1086.8,466.6 1091.3,460.6 1097.4,445.5 1104.9,448.5 1111.0,441.0 1118.5,436.4 1130.6,434.9 1160.8,436.4 1168.3,434.9 1175.9,424.3 1183.4,416.8 1191.0,413.8 1198.5,418.3 1206.1,416.8 1213.6,409.3 1228.7,395.7 1243.8,376.0" stroke="#0072bd" stroke-width="5.6"/>
<polyline points="1046.0,514.9 1052.1,505.9 1056.6,501.3 1059.6,490.8 1062.6,498.3 1067.2,495.3 1071.7,490.8 1074.7,460.6 1077.7,433.4 1080.8,431.9 1083.8,442.5 1086.8,448.5 1088.3,433.4 1092.8,434.9 1097.4,436.4 1100.4,433.4 1104.9,436.4 1109.4,430.4 1118.5,429.6 1145.7,430.4 1168.3,433.4 1183.4,433.4 1191.0,431.9 1206.1,431.9 1212.1,421.3 1218.1,407.7 1228.7,395.7 1243.8,380.6" stroke="#d95319" stroke-width="4.3"/>
<polyline points="1046.0,513.4 1055.1,505.9 1067.2,498.3 1073.2,486.2 1077.7,463.6 1082.3,460.6 1088.3,465.1 1091.3,454.5 1095.9,448.5 1103.4,447.0 1111.0,437.9 1118.5,431.9 1130.6,430.4 1160.8,431.9 1175.9,430.4 1183.4,427.4 1195.5,425.9 1206.1,415.3 1213.6,407.7 1228.7,394.2 1243.8,379.1" stroke="#edb120" stroke-width="4.3"/>
<polyline points="1046.0,519.5 1055.1,511.9 1070.2,499.8 1085.3,484.7 1097.4,472.7 1104.9,463.6 1111.0,453.0 1118.5,445.5 1127.6,441.0 1138.1,439.4 1153.2,437.9 1168.3,434.9 1183.4,428.9 1198.5,415.3 1213.6,404.7 1228.7,392.6 1243.8,379.1" stroke="#7e2f8e" stroke-width="4.3"/>
</g>
<rect x="1046.7" y="377.6" width="197.1" height="164.9" fill="none" stroke="#000" stroke-width="4.2"/>
<line x1="1086.0" y1="379.2" x2="1086.0" y2="382.2" stroke="#000" stroke-width="3"/>
<line x1="1086.0" y1="540.9" x2="1086.0" y2="537.9" stroke="#000" stroke-width="3"/>
<line x1="1164.4" y1="379.2" x2="1164.4" y2="382.2" stroke="#000" stroke-width="3"/>
<line x1="1164.4" y1="540.9" x2="1164.4" y2="537.9" stroke="#000" stroke-width="3"/>
<line x1="1048.3" y1="429.3" x2="1051.3" y2="429.3" stroke="#000" stroke-width="3"/>
<line x1="1242.2" y1="429.3" x2="1239.2" y2="429.3" stroke="#000" stroke-width="3"/>
<text transform="translate(1086.0,589.5) scale(1,1.08)" font-size="29" text-anchor="middle">3</text>

<text transform="translate(1164.4,589.5) scale(1,1.08)" font-size="29" text-anchor="middle">4</text>

<text transform="translate(1243.0,589.5) scale(1,1.08)" font-size="29" text-anchor="middle">5</text>

<text transform="translate(1036.6,440.3) scale(1,1.08)" font-size="29" text-anchor="end">1</text>
<rect x="1021.65" y="436.66" width="5.91" height="4.74" fill="#fff"/><rect x="1030.53" y="436.66" width="5.78" height="4.74" fill="#fff"/>
<text transform="translate(1031.0,553.8) scale(1,1.08)" font-size="29" text-anchor="end">0.5</text>

<text transform="translate(976.0,460.1) rotate(-90)" font-size="29" text-anchor="middle">G<tspan font-size="19" dy="6">2T</tspan><tspan dy="-6"> (e</tspan><tspan font-size="19" dy="-12">2</tspan><tspan dy="12">/h)</tspan></text>
<circle cx="1269" cy="428.4" r="4.2" fill="#0072bd"/>
<line x1="1261" y1="458.5" x2="1277.5" y2="458.5" stroke="#d95319" stroke-width="5.5"/>
<line x1="1261" y1="489.0" x2="1277.5" y2="489.0" stroke="#edb120" stroke-width="5.5"/>
<line x1="1261" y1="520.8" x2="1277.5" y2="520.8" stroke="#7e2f8e" stroke-width="5.5"/>
<text transform="translate(1296.5,438.9) scale(1,1.08)" font-size="29">-10 mV</text>
<rect x="1307.34" y="435.26" width="5.91" height="4.74" fill="#fff"/><rect x="1316.21" y="435.26" width="5.78" height="4.74" fill="#fff"/>
<text transform="translate(1296.5,469.0) scale(1,1.08)" font-size="29">0.73 K</text>

<text transform="translate(1296.5,499.5) scale(1,1.08)" font-size="29">2.89 K</text>

<text transform="translate(1296.5,531.3) scale(1,1.08)" font-size="29">4.88 K</text>

<clipPath id="clipo"><rect x="1041.5" y="659.3" width="207.3" height="176.6"/></clipPath>
<g clip-path="url(#clipo)" fill="none" stroke-linejoin="round" stroke-linecap="round">
<polyline points="1044.5,825.6 1055.1,819.5 1065.7,807.5 1071.7,793.9 1074.7,772.7 1080.8,754.6 1085.3,751.6 1089.8,757.6 1094.3,742.5 1100.4,735.0 1107.9,730.5 1118.5,725.9 1130.6,724.4 1145.7,725.9 1168.3,729.0 1183.4,729.0 1198.5,721.4 1207.6,716.9 1213.6,707.8 1221.2,701.8 1228.7,692.7 1243.8,664.0" stroke="#0072bd" stroke-width="5.6"/>
<polyline points="1046.0,827.1 1055.1,818.0 1062.6,809.0 1068.7,793.9 1071.7,778.8 1073.2,751.6 1076.2,736.5 1079.3,735.0 1082.3,729.0 1086.8,729.0 1091.3,738.0 1094.3,725.9 1097.4,721.4 1103.4,724.4 1109.4,722.9 1112.5,724.4 1118.5,722.9 1145.7,722.9 1175.9,722.9 1187.9,722.9 1198.5,725.9 1209.1,721.4 1213.6,710.8 1221.2,698.8 1233.2,685.2 1243.8,665.5" stroke="#d95319" stroke-width="4.3"/>
<polyline points="1046.0,825.6 1055.1,818.0 1064.2,807.5 1070.2,796.9 1073.2,775.8 1079.3,760.7 1085.3,754.6 1089.8,748.6 1092.8,742.5 1095.9,733.5 1100.4,729.0 1107.9,724.4 1112.5,733.5 1117.0,724.4 1130.6,722.9 1160.8,724.4 1183.4,724.4 1198.5,718.4 1213.6,703.3 1228.7,688.2 1243.8,665.5" stroke="#edb120" stroke-width="4.3"/>
<polyline points="1046.0,828.6 1055.1,822.6 1064.2,812.0 1073.2,798.4 1082.3,787.8 1089.8,775.8 1097.4,763.7 1103.4,753.1 1109.4,748.6 1114.0,747.1 1118.5,739.5 1124.5,733.5 1130.6,729.0 1145.7,726.7 1160.8,724.4 1183.4,721.4 1198.5,712.3 1213.6,697.3 1228.7,683.7 1243.8,665.5" stroke="#7e2f8e" stroke-width="4.3"/>
</g>
<rect x="1046.6" y="664.4" width="197.1" height="166.4" fill="none" stroke="#000" stroke-width="4.2"/>
<line x1="1111.9" y1="666.0" x2="1111.9" y2="669.0" stroke="#000" stroke-width="3"/>
<line x1="1111.9" y1="829.2" x2="1111.9" y2="826.2" stroke="#000" stroke-width="3"/>
<line x1="1178.3" y1="666.0" x2="1178.3" y2="669.0" stroke="#000" stroke-width="3"/>
<line x1="1178.3" y1="829.2" x2="1178.3" y2="826.2" stroke="#000" stroke-width="3"/>
<line x1="1048.2" y1="721.9" x2="1051.2" y2="721.9" stroke="#000" stroke-width="3"/>
<line x1="1242.1" y1="721.9" x2="1239.1" y2="721.9" stroke="#000" stroke-width="3"/>
<text transform="translate(1045.4,876.5) scale(1,1.08)" font-size="29" text-anchor="middle">2</text>

<text transform="translate(1111.9,876.5) scale(1,1.08)" font-size="29" text-anchor="middle">3</text>

<text transform="translate(1178.3,876.5) scale(1,1.08)" font-size="29" text-anchor="middle">4</text>

<text transform="translate(1243.0,876.5) scale(1,1.08)" font-size="29" text-anchor="middle">5</text>

<text transform="translate(1036.6,732.9) scale(1,1.08)" font-size="29" text-anchor="end">1</text>
<rect x="1021.65" y="729.26" width="5.91" height="4.74" fill="#fff"/><rect x="1030.53" y="729.26" width="5.78" height="4.74" fill="#fff"/>
<text transform="translate(1031.0,842.5) scale(1,1.08)" font-size="29" text-anchor="end">0.5</text>

<text transform="translate(976.0,747.6) rotate(-90)" font-size="29" text-anchor="middle">G<tspan font-size="19" dy="6">2T</tspan><tspan dy="-6"> (e</tspan><tspan font-size="19" dy="-12">2</tspan><tspan dy="12">/h)</tspan></text>
<circle cx="1269" cy="708.9" r="4.2" fill="#0072bd"/>
<line x1="1261" y1="739.7" x2="1277.5" y2="739.7" stroke="#d95319" stroke-width="5.5"/>
<line x1="1261" y1="770.5" x2="1277.5" y2="770.5" stroke="#edb120" stroke-width="5.5"/>
<line x1="1261" y1="803.0" x2="1277.5" y2="803.0" stroke="#7e2f8e" stroke-width="5.5"/>
<text transform="translate(1296.5,719.4) scale(1,1.08)" font-size="29">-10 mV</text>
<rect x="1307.34" y="715.76" width="5.91" height="4.74" fill="#fff"/><rect x="1316.21" y="715.76" width="5.78" height="4.74" fill="#fff"/>
<text transform="translate(1296.5,750.2) scale(1,1.08)" font-size="29">0.73 K</text>

<text transform="translate(1296.5,781.0) scale(1,1.08)" font-size="29">2.74 K</text>

<text transform="translate(1296.5,813.5) scale(1,1.08)" font-size="29">4.75 K</text>

<clipPath id="clipp"><rect x="1039.8" y="946.5" width="207.4" height="175.9"/></clipPath>
<g clip-path="url(#clipp)" fill="none" stroke-linejoin="round" stroke-linecap="round">
<polyline points="1042.5,1084.4 1048.6,1088.9 1056.1,1079.9 1063.7,1072.3 1071.2,1063.3 1077.3,1049.7 1081.8,1033.1 1086.3,1027.0 1093.9,1018.0 1101.4,1010.4 1113.5,1004.4 1128.6,1001.4 1143.7,1001.4 1152.7,1001.4 1161.8,1004.4 1169.3,1004.4 1176.9,995.3 1181.4,992.3 1196.5,989.3 1204.1,989.3 1211.6,984.8 1219.2,983.3 1226.7,974.2 1234.3,960.6 1241.8,950.0" stroke="#0072bd" stroke-width="5.6"/>
<polyline points="1044.8,1072.3 1050.1,1073.8 1054.6,1066.3 1060.6,1064.8 1065.2,1048.2 1069.7,1043.6 1074.2,1049.7 1077.3,1027.0 1080.3,1005.9 1084.8,1007.4 1087.8,1010.4 1092.3,999.9 1098.4,995.3 1105.9,996.8 1113.5,996.8 1121.0,995.3 1128.6,995.3 1143.7,995.3 1158.8,993.8 1166.3,996.8 1170.9,993.8 1181.4,996.8 1196.5,998.3 1207.1,993.8 1211.6,986.3 1219.2,980.2 1225.2,975.7 1231.2,965.1 1241.8,953.1" stroke="#d95319" stroke-width="4.3"/>
<polyline points="1044.8,1085.9 1053.1,1079.9 1060.6,1070.8 1068.2,1061.8 1075.7,1046.7 1081.8,1033.1 1087.8,1028.5 1093.9,1018.0 1101.4,1007.4 1113.5,1002.9 1128.6,999.9 1143.7,998.3 1158.8,998.3 1166.3,999.9 1173.9,998.3 1189.0,996.8 1204.1,990.8 1219.2,978.7 1234.3,962.1 1241.8,953.1" stroke="#edb120" stroke-width="4.3"/>
<polyline points="1044.8,1096.5 1053.1,1087.4 1060.6,1081.4 1068.2,1073.8 1075.7,1064.8 1083.3,1060.2 1090.8,1048.2 1098.4,1040.6 1105.9,1033.1 1113.5,1024.0 1121.0,1021.0 1128.6,1015.0 1136.1,1016.5 1143.7,1010.4 1148.2,1005.9 1152.7,1008.9 1158.8,1008.9 1166.3,1004.4 1173.9,999.9 1181.4,993.8 1189.0,992.3 1196.5,990.8 1202.6,983.3 1208.6,978.7 1214.6,969.7 1219.2,966.6 1225.2,963.6 1228.2,959.1 1234.3,956.1 1241.8,953.1" stroke="#7e2f8e" stroke-width="4.3"/>
</g>
<rect x="1044.9" y="951.6" width="197.2" height="165.7" fill="none" stroke="#000" stroke-width="4.2"/>
<line x1="1083.6" y1="953.2" x2="1083.6" y2="956.2" stroke="#000" stroke-width="3"/>
<line x1="1083.6" y1="1115.7" x2="1083.6" y2="1112.7" stroke="#000" stroke-width="3"/>
<line x1="1163.0" y1="953.2" x2="1163.0" y2="956.2" stroke="#000" stroke-width="3"/>
<line x1="1163.0" y1="1115.7" x2="1163.0" y2="1112.7" stroke="#000" stroke-width="3"/>
<line x1="1046.5" y1="993.0" x2="1049.5" y2="993.0" stroke="#000" stroke-width="3"/>
<line x1="1240.5" y1="993.0" x2="1237.5" y2="993.0" stroke="#000" stroke-width="3"/>
<text transform="translate(1083.6,1163.3) scale(1,1.08)" font-size="29" text-anchor="middle">3</text>

<text transform="translate(1163.0,1163.3) scale(1,1.08)" font-size="29" text-anchor="middle">4</text>

<text transform="translate(1241.6,1163.3) scale(1,1.08)" font-size="29" text-anchor="middle">5</text>

<text transform="translate(1036.6,1004.0) scale(1,1.08)" font-size="29" text-anchor="end">1</text>
<rect x="1021.65" y="1000.36" width="5.91" height="4.74" fill="#fff"/><rect x="1030.53" y="1000.36" width="5.78" height="4.74" fill="#fff"/>
<text transform="translate(1031.0,1128.3) scale(1,1.08)" font-size="29" text-anchor="end">0.5</text>

<text transform="translate(976.0,1034.5) rotate(-90)" font-size="29" text-anchor="middle">G<tspan font-size="19" dy="6">2T</tspan><tspan dy="-6"> (e</tspan><tspan font-size="19" dy="-12">2</tspan><tspan dy="12">/h)</tspan></text>
<circle cx="1269" cy="1004.4" r="4.2" fill="#0072bd"/>
<line x1="1261" y1="1033.6" x2="1277.5" y2="1033.6" stroke="#d95319" stroke-width="5.5"/>
<line x1="1261" y1="1065.4" x2="1277.5" y2="1065.4" stroke="#edb120" stroke-width="5.5"/>
<line x1="1261" y1="1096.2" x2="1277.5" y2="1096.2" stroke="#7e2f8e" stroke-width="5.5"/>
<text transform="translate(1296.5,1014.9) scale(1,1.08)" font-size="29">-10 mV</text>
<rect x="1307.34" y="1011.26" width="5.91" height="4.74" fill="#fff"/><rect x="1316.21" y="1011.26" width="5.78" height="4.74" fill="#fff"/>
<text transform="translate(1296.5,1044.1) scale(1,1.08)" font-size="29">0.73 K</text>

<text transform="translate(1296.5,1075.9) scale(1,1.08)" font-size="29">2.67 K</text>

<text transform="translate(1296.5,1106.7) scale(1,1.08)" font-size="29">4.68 K</text>

<clipPath id="clips"><rect x="1039.8" y="1265.3" width="207.4" height="172.7"/></clipPath>
<g clip-path="url(#clips)" fill="none" stroke-linejoin="round" stroke-linecap="round">
<polyline points="1042.5,1340.5 1047.1,1333.0 1053.1,1328.4 1057.6,1339.0 1060.6,1340.5 1065.2,1337.5 1071.2,1355.6 1077.3,1370.7 1083.3,1393.3 1089.3,1399.4 1095.4,1411.5 1104.4,1422.0 1113.5,1425.0 1119.5,1429.6 1125.6,1428.1 1131.6,1414.5 1140.7,1406.9 1149.7,1394.9 1158.8,1384.3 1167.8,1376.7 1176.9,1367.7 1185.9,1355.6 1195.0,1340.5 1201.0,1328.4 1207.1,1320.9 1213.1,1325.4 1219.2,1334.5 1228.2,1346.5 1234.3,1352.6 1244.1,1366.2" stroke="#0072bd" stroke-width="5.6"/>
<polyline points="1044.8,1340.5 1048.6,1319.4 1051.6,1305.8 1054.6,1313.3 1057.6,1329.9 1062.2,1337.5 1066.7,1355.6 1069.7,1364.7 1072.7,1360.1 1077.3,1382.8 1080.3,1413.0 1083.3,1422.0 1086.3,1417.5 1089.3,1425.0 1092.3,1429.6 1101.4,1431.8 1113.5,1432.6 1122.5,1433.3 1128.6,1432.6 1136.1,1426.6 1143.7,1425.0 1152.7,1416.0 1158.8,1403.9 1163.3,1400.9 1167.8,1390.3 1173.9,1375.2 1181.4,1358.6 1189.0,1340.5 1196.5,1323.9 1204.1,1316.3 1208.6,1314.8 1213.1,1319.4 1219.2,1328.4 1228.2,1343.5 1241.8,1366.2" stroke="#d95319" stroke-width="4.3"/>
<polyline points="1044.8,1337.5 1050.1,1322.4 1053.1,1316.3 1056.1,1322.4 1060.6,1322.4 1065.2,1334.5 1071.2,1352.6 1077.3,1375.2 1081.8,1397.9 1087.8,1405.4 1095.4,1420.5 1104.4,1426.6 1113.5,1428.1 1122.5,1431.1 1128.6,1428.1 1136.1,1417.5 1143.7,1408.4 1152.7,1397.9 1163.3,1385.8 1173.9,1375.2 1182.9,1358.6 1192.0,1343.5 1201.0,1336.0 1207.1,1334.5 1213.1,1340.5 1222.2,1349.6 1234.3,1361.6 1241.8,1373.7" stroke="#edb120" stroke-width="4.3"/>
<polyline points="1044.8,1346.5 1048.6,1340.5 1053.1,1326.9 1057.6,1325.4 1063.7,1326.9 1068.2,1328.4 1072.7,1337.5 1078.8,1355.6 1086.3,1373.7 1095.4,1388.8 1102.9,1396.4 1110.5,1403.9 1118.0,1409.2 1124.1,1410.7 1128.6,1406.9 1134.6,1396.4 1140.7,1394.9 1146.7,1390.3 1155.8,1382.8 1163.3,1378.2 1170.9,1370.7 1181.4,1360.1 1189.0,1354.1 1198.0,1350.3 1207.1,1352.6 1219.2,1358.6 1231.2,1369.2 1241.8,1379.8" stroke="#7e2f8e" stroke-width="4.3"/>
</g>
<rect x="1044.9" y="1270.4" width="197.2" height="162.5" fill="none" stroke="#000" stroke-width="4.2"/>
<line x1="1083.6" y1="1272.0" x2="1083.6" y2="1275.0" stroke="#000" stroke-width="3"/>
<line x1="1083.6" y1="1431.3" x2="1083.6" y2="1428.3" stroke="#000" stroke-width="3"/>
<line x1="1163.0" y1="1272.0" x2="1163.0" y2="1275.0" stroke="#000" stroke-width="3"/>
<line x1="1163.0" y1="1431.3" x2="1163.0" y2="1428.3" stroke="#000" stroke-width="3"/>
<line x1="1046.5" y1="1324.2" x2="1049.5" y2="1324.2" stroke="#000" stroke-width="3"/>
<line x1="1240.5" y1="1324.2" x2="1237.5" y2="1324.2" stroke="#000" stroke-width="3"/>
<line x1="1046.5" y1="1379.0" x2="1049.5" y2="1379.0" stroke="#000" stroke-width="3"/>
<line x1="1240.5" y1="1379.0" x2="1237.5" y2="1379.0" stroke="#000" stroke-width="3"/>
<text transform="translate(1083.6,1479.5) scale(1,1.08)" font-size="29" text-anchor="middle">3</text>

<text transform="translate(1163.0,1479.5) scale(1,1.08)" font-size="29" text-anchor="middle">4</text>

<text transform="translate(1241.6,1479.5) scale(1,1.08)" font-size="29" text-anchor="middle">5</text>

<text transform="translate(1028.8,1280.0) scale(1,1.08)" font-size="29" text-anchor="end">15</text>
<rect x="997.73" y="1276.36" width="5.91" height="4.74" fill="#fff"/><rect x="1006.60" y="1276.36" width="5.78" height="4.74" fill="#fff"/>
<text transform="translate(1028.8,1335.2) scale(1,1.08)" font-size="29" text-anchor="end">10</text>
<rect x="997.73" y="1331.56" width="5.91" height="4.74" fill="#fff"/><rect x="1006.60" y="1331.56" width="5.78" height="4.74" fill="#fff"/>
<text transform="translate(1028.8,1390.0) scale(1,1.08)" font-size="29" text-anchor="end">5</text>

<text transform="translate(1028.8,1444.5) scale(1,1.08)" font-size="29" text-anchor="end">0</text>

<text transform="translate(984.0,1351.7) rotate(-90)" font-size="29" text-anchor="middle"><tspan font-style="italic">R</tspan><tspan font-size="19" dy="6">xx</tspan><tspan dy="-6"> (k&#937;)</tspan></text>
<circle cx="1269" cy="1318.4" r="4.2" fill="#0072bd"/>
<line x1="1261" y1="1349.0" x2="1277.5" y2="1349.0" stroke="#d95319" stroke-width="5.5"/>
<line x1="1261" y1="1380.0" x2="1277.5" y2="1380.0" stroke="#edb120" stroke-width="5.5"/>
<line x1="1261" y1="1412.4" x2="1277.5" y2="1412.4" stroke="#7e2f8e" stroke-width="5.5"/>
<text transform="translate(1296.5,1328.9) scale(1,1.08)" font-size="29">-10 mV</text>
<rect x="1307.34" y="1325.26" width="5.91" height="4.74" fill="#fff"/><rect x="1316.21" y="1325.26" width="5.78" height="4.74" fill="#fff"/>
<text transform="translate(1296.5,1359.5) scale(1,1.08)" font-size="29">0.73 K</text>

<text transform="translate(1296.5,1390.5) scale(1,1.08)" font-size="29">2.20 K</text>

<text transform="translate(1296.5,1422.9) scale(1,1.08)" font-size="29">4.20 K</text>

<rect x="477.3" y="42.1" width="55.0" height="20.4" fill="url(#cbg)" stroke="#000" stroke-width="2.2"/>
<rect x="782.1" y="42.5" width="54.8" height="19.7" fill="url(#cbg)" stroke="#000" stroke-width="2.2"/>
<rect x="469.1" y="1232.1" width="54.8" height="20.4" fill="url(#cbg)" stroke="#000" stroke-width="2.2"/>
<rect x="772.5" y="1232.9" width="55.3" height="20.0" fill="url(#cbg)" stroke="#000" stroke-width="2.2"/>
<text transform="translate(467.5,62.3) scale(1,1.08)" font-size="29" text-anchor="end">0.8</text>
<text transform="translate(539.5,62.3) scale(1,1.08)" font-size="29" text-anchor="start">1.2</text>
<rect x="540.68" y="58.66" width="5.91" height="4.74" fill="#fff"/><rect x="549.56" y="58.66" width="5.78" height="4.74" fill="#fff"/>
<text transform="translate(772.8,62.3) scale(1,1.08)" font-size="29" text-anchor="end">0.8</text>
<text transform="translate(844.0,62.3) scale(1,1.08)" font-size="29" text-anchor="start">1.2</text>
<rect x="845.18" y="58.66" width="5.91" height="4.74" fill="#fff"/><rect x="854.06" y="58.66" width="5.78" height="4.74" fill="#fff"/>
<text transform="translate(458.5,1252.5) scale(1,1.08)" font-size="29" text-anchor="end">0</text>
<text transform="translate(533.5,1252.5) scale(1,1.08)" font-size="29" text-anchor="start">12</text>
<rect x="534.68" y="1248.86" width="5.91" height="4.74" fill="#fff"/><rect x="543.56" y="1248.86" width="5.78" height="4.74" fill="#fff"/>
<text transform="translate(760.0,1252.5) scale(1,1.08)" font-size="29" text-anchor="end">0</text>
<text transform="translate(836.5,1252.5) scale(1,1.08)" font-size="29" text-anchor="start">12</text>
<rect x="837.68" y="1248.86" width="5.91" height="4.74" fill="#fff"/><rect x="846.56" y="1248.86" width="5.78" height="4.74" fill="#fff"/>
<text transform="translate(503.4,25.3) scale(1,0.95)" font-size="29" text-anchor="middle">G<tspan font-size="19" dy="6">2T</tspan><tspan dy="-6"> (e</tspan><tspan font-size="19" dy="-12">2</tspan><tspan dy="12">/h)</tspan></text>
<text transform="translate(808.0,25.3) scale(1,0.95)" font-size="29" text-anchor="middle">G<tspan font-size="19" dy="6">2T</tspan><tspan dy="-6"> (e</tspan><tspan font-size="19" dy="-12">2</tspan><tspan dy="12">/h)</tspan></text>
<text transform="translate(504.6,1215.6) scale(1,0.95)" font-size="29" text-anchor="middle"><tspan font-style="italic">R</tspan><tspan font-size="19" dy="6">xx</tspan><tspan dy="-6"> (k&#937;)</tspan></text>
<text transform="translate(807.2,1215.6) scale(1,0.95)" font-size="29" text-anchor="middle"><tspan font-style="italic">R</tspan><tspan font-size="19" dy="6">xx</tspan><tspan dy="-6"> (k&#937;)</tspan></text>
<text transform="translate(502.4,1521.5) scale(1,1.08)" font-size="29" text-anchor="middle"><tspan font-style="italic">V</tspan><tspan font-size="19" dy="6">BG</tspan><tspan dy="-6"> (V)</tspan></text>
<text transform="translate(805.0,1521.5) scale(1,1.08)" font-size="29" text-anchor="middle"><tspan font-style="italic">V</tspan><tspan font-size="19" dy="6">BG</tspan><tspan dy="-6"> (V)</tspan></text>
<text transform="translate(1142.6,1521.5) scale(1,1.08)" font-size="29" text-anchor="middle"><tspan font-style="italic">V</tspan><tspan font-size="19" dy="6">BG</tspan><tspan dy="-6"> (V)</tspan></text>
<use href="#dev" x="71.4" y="91.2"/>
<use href="#dev" x="71.8" y="378.1"/>
<use href="#dev" x="71.8" y="673.6"/>
<use href="#dev" x="71.3" y="1125.1"/>
<line x1="120.3" y1="10.0" x2="120.3" y2="76.6" stroke="#1b1b1b" stroke-width="4.1"/>
<line x1="106.3" y1="28.8" x2="106.3" y2="58.2" stroke="#1b1b1b" stroke-width="4.1"/>
<polyline points="120.3,43.0 156.0,43.0 156.0,90.4" fill="none" stroke="#1b1b1b" stroke-width="3.8" stroke-linejoin="miter" stroke-linecap="butt"/>
<polyline points="106.3,43.0 69.0,43.0 69.0,64.4" fill="none" stroke="#1b1b1b" stroke-width="3.8" stroke-linejoin="miter" stroke-linecap="butt"/>
<line x1="42.0" y1="64.4" x2="96.0" y2="64.4" stroke="#1b1b1b" stroke-width="4.2"/><line x1="51.0" y1="75.1" x2="87.0" y2="75.1" stroke="#1b1b1b" stroke-width="4.2"/><line x1="59.8" y1="85.7" x2="78.2" y2="85.7" stroke="#1b1b1b" stroke-width="4.2"/>
<polyline points="70.4,130.7 27.0,130.7 27.0,151.4" fill="none" stroke="#1b1b1b" stroke-width="3.8" stroke-linejoin="miter" stroke-linecap="butt"/>
<line x1="0.8" y1="151.4" x2="54.8" y2="151.4" stroke="#1b1b1b" stroke-width="4.2"/><line x1="9.8" y1="162.1" x2="45.8" y2="162.1" stroke="#1b1b1b" stroke-width="4.2"/><line x1="18.6" y1="172.7" x2="37.0" y2="172.7" stroke="#1b1b1b" stroke-width="4.2"/>
<polyline points="230.0,196.0 260.6,196.0 260.6,233.0" fill="none" stroke="#1b1b1b" stroke-width="3.8" stroke-linejoin="miter" stroke-linecap="butt"/>
<polyline points="259.3,240.0 259.3,273.0" fill="none" stroke="#1b1b1b" stroke-width="3.8" stroke-linejoin="miter" stroke-linecap="butt"/>
<line x1="232.3" y1="273.0" x2="286.3" y2="273.0" stroke="#1b1b1b" stroke-width="4.2"/><line x1="241.3" y1="283.7" x2="277.3" y2="283.7" stroke="#1b1b1b" stroke-width="4.2"/><line x1="250.1" y1="294.3" x2="268.6" y2="294.3" stroke="#1b1b1b" stroke-width="4.2"/>
<circle cx="259.3" cy="233.0" r="20.8" fill="#fff" stroke="#1b1b1b" stroke-width="3.8"/><text x="259.3" y="245.0" font-size="33.5" text-anchor="middle" fill="#1b1b1b">A</text>
<polyline points="196.7,241.5 196.7,260.0" fill="none" stroke="#1b1b1b" stroke-width="3.8" stroke-linejoin="miter" stroke-linecap="butt"/>
<circle cx="196.7" cy="271.5" r="18.8" fill="#fff" stroke="#1b1b1b" stroke-width="3.8"/><path d="M183.2,273.5 C188.6,261.1 192.6,264.9 196.7,271.5 S204.8,281.9 210.2,269.5" fill="none" stroke="#1b1b1b" stroke-width="3.6" stroke-linecap="round"/>
<circle cx="156.0" cy="90.4" r="5.6" fill="#1b1b1b"/>
<circle cx="70.4" cy="130.7" r="5.6" fill="#1b1b1b"/>
<circle cx="230.0" cy="196.0" r="5.6" fill="#1b1b1b"/>
<circle cx="196.7" cy="241.5" r="5.6" fill="#1b1b1b"/>
<line x1="120.5" y1="297.0" x2="120.5" y2="363.6" stroke="#1b1b1b" stroke-width="4.1"/>
<line x1="107.0" y1="315.0" x2="107.0" y2="344.5" stroke="#1b1b1b" stroke-width="4.1"/>
<polyline points="120.5,329.6 156.4,329.6 156.4,377.0" fill="none" stroke="#1b1b1b" stroke-width="3.8" stroke-linejoin="miter" stroke-linecap="butt"/>
<polyline points="107.0,329.6 69.5,329.6 69.5,351.4" fill="none" stroke="#1b1b1b" stroke-width="3.8" stroke-linejoin="miter" stroke-linecap="butt"/>
<line x1="42.9" y1="351.4" x2="96.9" y2="351.4" stroke="#1b1b1b" stroke-width="4.2"/><line x1="51.9" y1="362.1" x2="87.9" y2="362.1" stroke="#1b1b1b" stroke-width="4.2"/><line x1="60.7" y1="372.7" x2="79.2" y2="372.7" stroke="#1b1b1b" stroke-width="4.2"/>
<polyline points="71.3,417.0 28.8,417.0 28.8,438.0" fill="none" stroke="#1b1b1b" stroke-width="3.8" stroke-linejoin="miter" stroke-linecap="butt"/>
<line x1="1.4" y1="438.0" x2="55.4" y2="438.0" stroke="#1b1b1b" stroke-width="4.2"/><line x1="10.4" y1="448.7" x2="46.4" y2="448.7" stroke="#1b1b1b" stroke-width="4.2"/><line x1="19.1" y1="459.3" x2="37.6" y2="459.3" stroke="#1b1b1b" stroke-width="4.2"/>
<polyline points="71.8,505.0 50.0,505.0" fill="none" stroke="#1b1b1b" stroke-width="3.8" stroke-linejoin="miter" stroke-linecap="butt"/>
<circle cx="36.8" cy="506.0" r="19" fill="#fff" stroke="#1b1b1b" stroke-width="3.8"/><path d="M23.3,508.0 C28.7,495.6 32.8,499.4 36.8,506.0 S44.9,516.5 50.3,504.0" fill="none" stroke="#1b1b1b" stroke-width="3.6" stroke-linecap="round"/>
<polyline points="197.4,528.6 197.4,545.0" fill="none" stroke="#1b1b1b" stroke-width="3.8" stroke-linejoin="miter" stroke-linecap="butt"/>
<circle cx="197.8" cy="562.0" r="20.7" fill="#fff" stroke="#1b1b1b" stroke-width="3.8"/><text x="197.8" y="574.0" font-size="33.5" text-anchor="middle" fill="#1b1b1b">A</text>
<polyline points="197.8,580.0 197.8,595.5" fill="none" stroke="#1b1b1b" stroke-width="3.8" stroke-linejoin="miter" stroke-linecap="butt"/>
<line x1="170.8" y1="595.5" x2="224.8" y2="595.5" stroke="#1b1b1b" stroke-width="4.2"/><line x1="179.8" y1="606.2" x2="215.8" y2="606.2" stroke="#1b1b1b" stroke-width="4.2"/><line x1="188.6" y1="616.8" x2="207.1" y2="616.8" stroke="#1b1b1b" stroke-width="4.2"/>
<circle cx="156.4" cy="377.0" r="5.6" fill="#1b1b1b"/>
<circle cx="71.3" cy="417.0" r="5.6" fill="#1b1b1b"/>
<circle cx="71.8" cy="505.0" r="5.6" fill="#1b1b1b"/>
<circle cx="197.4" cy="528.6" r="5.6" fill="#1b1b1b"/>
<polyline points="140.0,644.4 157.6,644.4 157.6,672.5" fill="none" stroke="#1b1b1b" stroke-width="3.8" stroke-linejoin="miter" stroke-linecap="butt"/>
<circle cx="122.0" cy="646.0" r="20.5" fill="#fff" stroke="#1b1b1b" stroke-width="3.8"/><text x="122.0" y="658.0" font-size="33.5" text-anchor="middle" fill="#1b1b1b">A</text>
<polyline points="258.8,650.0 258.8,696.6 229.0,696.6" fill="none" stroke="#1b1b1b" stroke-width="3.8" stroke-linejoin="miter" stroke-linecap="butt"/>
<circle cx="258.8" cy="636.8" r="19.2" fill="#fff" stroke="#1b1b1b" stroke-width="3.8"/><path d="M245.3,638.8 C250.7,626.3 254.8,630.2 258.8,636.8 S266.9,647.2 272.3,634.8" fill="none" stroke="#1b1b1b" stroke-width="3.6" stroke-linecap="round"/>
<polyline points="230.7,778.3 263.0,778.3 263.0,794.4" fill="none" stroke="#1b1b1b" stroke-width="3.8" stroke-linejoin="miter" stroke-linecap="butt"/>
<line x1="235.5" y1="794.4" x2="289.5" y2="794.4" stroke="#1b1b1b" stroke-width="4.2"/><line x1="244.5" y1="805.1" x2="280.5" y2="805.1" stroke="#1b1b1b" stroke-width="4.2"/><line x1="253.2" y1="815.7" x2="271.8" y2="815.7" stroke="#1b1b1b" stroke-width="4.2"/>
<polyline points="197.4,823.8 197.4,866.9 150.7,866.9" fill="none" stroke="#1b1b1b" stroke-width="3.8" stroke-linejoin="miter" stroke-linecap="butt"/>
<line x1="150.7" y1="832.8" x2="150.7" y2="899.7" stroke="#1b1b1b" stroke-width="4.1"/>
<line x1="136.2" y1="851.4" x2="136.2" y2="880.7" stroke="#1b1b1b" stroke-width="4.1"/>
<polyline points="136.2,866.9 98.9,866.9 98.9,887.6" fill="none" stroke="#1b1b1b" stroke-width="3.8" stroke-linejoin="miter" stroke-linecap="butt"/>
<line x1="72.2" y1="887.6" x2="126.2" y2="887.6" stroke="#1b1b1b" stroke-width="4.2"/><line x1="81.2" y1="898.3" x2="117.2" y2="898.3" stroke="#1b1b1b" stroke-width="4.2"/><line x1="90.0" y1="908.9" x2="108.5" y2="908.9" stroke="#1b1b1b" stroke-width="4.2"/>
<circle cx="157.6" cy="672.5" r="5.6" fill="#1b1b1b"/>
<circle cx="229.0" cy="696.6" r="5.6" fill="#1b1b1b"/>
<circle cx="230.7" cy="778.3" r="5.6" fill="#1b1b1b"/>
<circle cx="197.4" cy="823.8" r="5.6" fill="#1b1b1b"/>
<polyline points="66.0,1103.0 156.0,1103.0 156.0,1122.0" fill="none" stroke="#1b1b1b" stroke-width="3.8" stroke-linejoin="miter" stroke-linecap="butt"/>
<polyline points="47.8,1120.0 47.8,1165.8 70.6,1165.8" fill="none" stroke="#1b1b1b" stroke-width="3.8" stroke-linejoin="miter" stroke-linecap="butt"/>
<circle cx="47.8" cy="1103.0" r="20.5" fill="#fff" stroke="#1b1b1b" stroke-width="3.8"/><text x="47.8" y="1115.0" font-size="33.5" text-anchor="middle" fill="#1b1b1b">V</text>
<polyline points="258.0,1100.0 258.0,1148.0 227.7,1148.0" fill="none" stroke="#1b1b1b" stroke-width="3.8" stroke-linejoin="miter" stroke-linecap="butt"/>
<circle cx="258.0" cy="1088.8" r="19.2" fill="#fff" stroke="#1b1b1b" stroke-width="3.8"/><path d="M244.5,1090.8 C249.9,1078.3 253.9,1082.2 258.0,1088.8 S266.1,1099.2 271.5,1086.8" fill="none" stroke="#1b1b1b" stroke-width="3.6" stroke-linecap="round"/>
<polyline points="230.0,1229.0 262.3,1229.0 262.3,1245.2" fill="none" stroke="#1b1b1b" stroke-width="3.8" stroke-linejoin="miter" stroke-linecap="butt"/>
<line x1="234.8" y1="1245.2" x2="288.8" y2="1245.2" stroke="#1b1b1b" stroke-width="4.2"/><line x1="243.8" y1="1255.9" x2="279.8" y2="1255.9" stroke="#1b1b1b" stroke-width="4.2"/><line x1="252.6" y1="1266.5" x2="271.1" y2="1266.5" stroke="#1b1b1b" stroke-width="4.2"/>
<polyline points="50.0,1252.0 70.6,1252.0" fill="none" stroke="#1b1b1b" stroke-width="3.8" stroke-linejoin="miter" stroke-linecap="butt"/>
<circle cx="32.2" cy="1252.0" r="20.7" fill="#fff" stroke="#1b1b1b" stroke-width="3.8"/><text x="32.2" y="1264.0" font-size="33.5" text-anchor="middle" fill="#1b1b1b">A</text>
<polyline points="196.2,1275.0 196.2,1317.6 149.5,1317.6" fill="none" stroke="#1b1b1b" stroke-width="3.8" stroke-linejoin="miter" stroke-linecap="butt"/>
<line x1="149.5" y1="1284.3" x2="149.5" y2="1351.0" stroke="#1b1b1b" stroke-width="4.1"/>
<line x1="135.7" y1="1302.7" x2="135.7" y2="1332.0" stroke="#1b1b1b" stroke-width="4.1"/>
<polyline points="135.7,1317.6 97.8,1317.6 97.8,1338.8" fill="none" stroke="#1b1b1b" stroke-width="3.8" stroke-linejoin="miter" stroke-linecap="butt"/>
<line x1="71.5" y1="1338.8" x2="125.5" y2="1338.8" stroke="#1b1b1b" stroke-width="4.2"/><line x1="80.5" y1="1349.5" x2="116.5" y2="1349.5" stroke="#1b1b1b" stroke-width="4.2"/><line x1="89.2" y1="1360.1" x2="107.8" y2="1360.1" stroke="#1b1b1b" stroke-width="4.2"/>
<circle cx="156.0" cy="1122.0" r="5.6" fill="#1b1b1b"/>
<circle cx="70.6" cy="1165.8" r="5.6" fill="#1b1b1b"/>
<circle cx="227.7" cy="1148.0" r="5.6" fill="#1b1b1b"/>
<circle cx="230.0" cy="1229.0" r="5.6" fill="#1b1b1b"/>
<circle cx="70.6" cy="1252.0" r="5.6" fill="#1b1b1b"/>
<circle cx="196.2" cy="1275.0" r="5.6" fill="#1b1b1b"/>
<text x="16.0" y="41.9" font-size="28" font-weight="bold">a</text>
<text x="16.0" y="353.0" font-size="28" font-weight="bold">b</text>
<text x="16.0" y="650.5" font-size="28" font-weight="bold">c</text>
<text x="15.8" y="1055.0" font-size="28" font-weight="bold">d</text>
<text x="314.0" y="40.0" font-size="28" font-weight="bold">e</text>
<text x="316.5" y="353.4" font-size="28" font-weight="bold">f</text>
<text x="314.3" y="651.0" font-size="28" font-weight="bold">g</text>
<text x="313.8" y="938.0" font-size="28" font-weight="bold">h</text>
<text x="315.0" y="1230.0" font-size="28" font-weight="bold">q</text>
<text x="631.5" y="41.4" font-size="28" font-weight="bold">i</text>
<text x="631.0" y="348.0" font-size="28" font-weight="bold">j</text>
<text x="629.2" y="651.4" font-size="28" font-weight="bold">k</text>
<text x="632.5" y="938.0" font-size="28" font-weight="bold">l</text>
<text x="629.0" y="1231.8" font-size="28" font-weight="bold">r</text>
<text x="940.0" y="40.5" font-size="28" font-weight="bold">m</text>
<text x="941.0" y="354.0" font-size="28" font-weight="bold">n</text>
<text x="941.0" y="650.5" font-size="28" font-weight="bold">o</text>
<text x="941.0" y="931.0" font-size="28" font-weight="bold">p</text>
<text x="941.0" y="1233.2" font-size="28" font-weight="bold">s</text></svg></body></html>
